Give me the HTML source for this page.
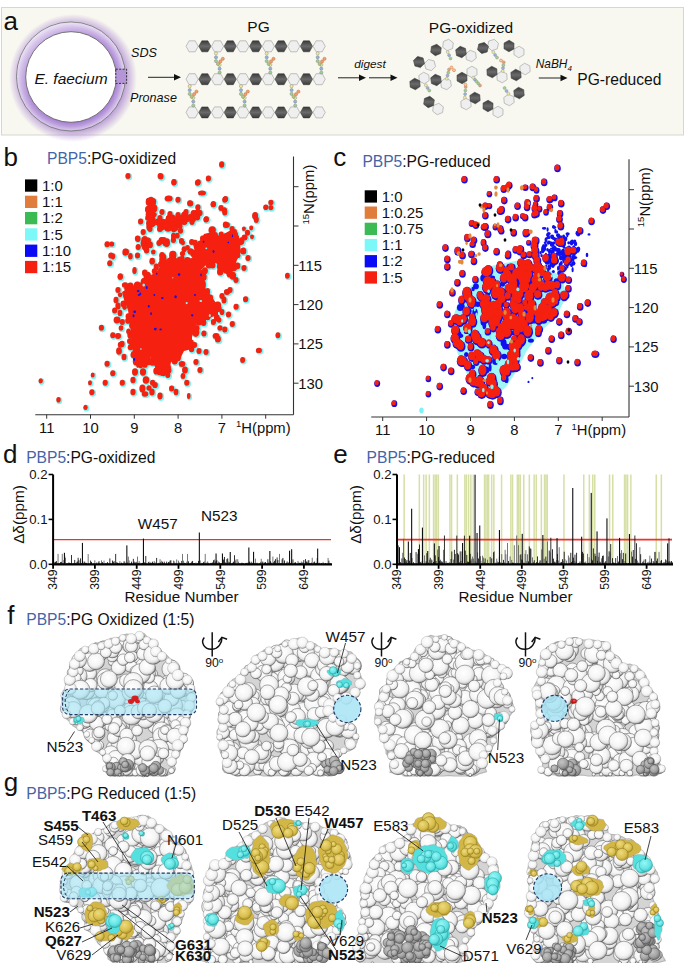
<!DOCTYPE html>
<html><head><meta charset="utf-8"><style>
html,body{margin:0;padding:0;background:#fff;}
body{width:685px;height:963px;overflow:hidden;}
svg{display:block;font-family:"Liberation Sans", sans-serif;}
</style></head><body>
<svg width="685" height="963" viewBox="0 0 685 963">
<defs>
<radialGradient id="glow" gradientUnits="userSpaceOnUse" cx="73" cy="78" r="64">
 <stop offset="0.82" stop-color="#9a6cc8" stop-opacity="0.6"/>
 <stop offset="1" stop-color="#9a6cc8" stop-opacity="0"/>
</radialGradient>
<radialGradient id="ring" gradientUnits="userSpaceOnUse" cx="70.5" cy="77" r="55">
 <stop offset="0.80" stop-color="#9c72cc"/>
 <stop offset="0.90" stop-color="#bb9ddd"/>
 <stop offset="1" stop-color="#e4d9f1"/>
</radialGradient>
<linearGradient id="ringhl" x1="0.1" y1="0.05" x2="0.75" y2="0.85">
 <stop offset="0" stop-color="#ffffff" stop-opacity="0.55"/>
 <stop offset="0.55" stop-color="#ffffff" stop-opacity="0.1"/>
 <stop offset="1" stop-color="#ffffff" stop-opacity="0"/>
</linearGradient>
<linearGradient id="dhex" x1="0" y1="0" x2="0" y2="1">
 <stop offset="0" stop-color="#3a3a3a"/>
 <stop offset="0.5" stop-color="#6a6a6a"/>
 <stop offset="1" stop-color="#3a3a3a"/>
</linearGradient>
<radialGradient id="prot" cx="0.45" cy="0.4" r="0.7">
 <stop offset="0" stop-color="#f2f2f2"/>
 <stop offset="0.7" stop-color="#e4e4e4"/>
 <stop offset="1" stop-color="#c8c8c8"/>
</radialGradient>
</defs>
<rect x="1.5" y="7.5" width="682" height="127.5" fill="#f8f8f1" stroke="#d6d6d2" stroke-width="1"/>
<text x="3.6" y="30.4" font-size="26" text-anchor="start" fill="#111" font-weight="normal" font-style="normal" >a</text>
<circle cx="73" cy="78" r="64" fill="url(#glow)"/>
<circle cx="71" cy="76.5" r="54.5" fill="url(#ring)" stroke="#777" stroke-width="0.9"/>
<circle cx="71" cy="76.5" r="54" fill="url(#ringhl)"/>
<circle cx="71" cy="77" r="45.3" fill="#ffffff" stroke="#666" stroke-width="0.9"/>
<text x="71.0" y="84.2" font-size="15.5" text-anchor="middle" fill="#111" font-weight="normal" font-style="italic" >E. faecium</text>
<rect x="115.8" y="69.2" width="10.8" height="14.2" fill="#b496d6" stroke="#222" stroke-width="0.9" stroke-dasharray="2,1.4"/>
<text x="131.0" y="56.8" font-size="12.6" text-anchor="start" fill="#111" font-weight="normal" font-style="italic" >SDS</text>
<text x="130.0" y="101.8" font-size="12.6" text-anchor="start" fill="#111" font-weight="normal" font-style="italic" >Pronase</text>
<line x1="148.00" y1="77.30" x2="175.00" y2="77.30" stroke="#222" stroke-width="1" />
<polygon points="174.0,74.1 181.0,77.3 174.0,80.5" fill="#111"/>
<text x="258.5" y="32.4" font-size="15.5" text-anchor="middle" fill="#111" font-weight="normal" font-style="normal" >PG</text>
<polygon points="186.05,46.30 189.10,40.80 195.20,40.80 198.25,46.30 195.20,51.80 189.10,51.80" fill="#efefef" stroke="#9a9a9a" stroke-width="0.6"/>
<polygon points="198.75,46.30 201.80,40.80 207.90,40.80 210.95,46.30 207.90,51.80 201.80,51.80" fill="url(#dhex)" stroke="#333" stroke-width="0.5"/>
<polygon points="211.45,46.30 214.50,40.80 220.60,40.80 223.65,46.30 220.60,51.80 214.50,51.80" fill="#efefef" stroke="#9a9a9a" stroke-width="0.6"/>
<polygon points="224.15,46.30 227.20,40.80 233.30,40.80 236.35,46.30 233.30,51.80 227.20,51.80" fill="url(#dhex)" stroke="#333" stroke-width="0.5"/>
<polygon points="236.85,46.30 239.90,40.80 246.00,40.80 249.05,46.30 246.00,51.80 239.90,51.80" fill="#efefef" stroke="#9a9a9a" stroke-width="0.6"/>
<polygon points="249.55,46.30 252.60,40.80 258.70,40.80 261.75,46.30 258.70,51.80 252.60,51.80" fill="url(#dhex)" stroke="#333" stroke-width="0.5"/>
<polygon points="262.25,46.30 265.30,40.80 271.40,40.80 274.45,46.30 271.40,51.80 265.30,51.80" fill="#efefef" stroke="#9a9a9a" stroke-width="0.6"/>
<polygon points="274.95,46.30 278.00,40.80 284.10,40.80 287.15,46.30 284.10,51.80 278.00,51.80" fill="url(#dhex)" stroke="#333" stroke-width="0.5"/>
<polygon points="287.65,46.30 290.70,40.80 296.80,40.80 299.85,46.30 296.80,51.80 290.70,51.80" fill="#efefef" stroke="#9a9a9a" stroke-width="0.6"/>
<polygon points="300.35,46.30 303.40,40.80 309.50,40.80 312.55,46.30 309.50,51.80 303.40,51.80" fill="url(#dhex)" stroke="#333" stroke-width="0.5"/>
<polygon points="313.05,46.30 316.10,40.80 322.20,40.80 325.25,46.30 322.20,51.80 316.10,51.80" fill="#efefef" stroke="#9a9a9a" stroke-width="0.6"/>
<polygon points="186.05,79.20 189.10,73.70 195.20,73.70 198.25,79.20 195.20,84.70 189.10,84.70" fill="#efefef" stroke="#9a9a9a" stroke-width="0.6"/>
<polygon points="198.75,79.20 201.80,73.70 207.90,73.70 210.95,79.20 207.90,84.70 201.80,84.70" fill="url(#dhex)" stroke="#333" stroke-width="0.5"/>
<polygon points="211.45,79.20 214.50,73.70 220.60,73.70 223.65,79.20 220.60,84.70 214.50,84.70" fill="#efefef" stroke="#9a9a9a" stroke-width="0.6"/>
<polygon points="224.15,79.20 227.20,73.70 233.30,73.70 236.35,79.20 233.30,84.70 227.20,84.70" fill="url(#dhex)" stroke="#333" stroke-width="0.5"/>
<polygon points="236.85,79.20 239.90,73.70 246.00,73.70 249.05,79.20 246.00,84.70 239.90,84.70" fill="#efefef" stroke="#9a9a9a" stroke-width="0.6"/>
<polygon points="249.55,79.20 252.60,73.70 258.70,73.70 261.75,79.20 258.70,84.70 252.60,84.70" fill="url(#dhex)" stroke="#333" stroke-width="0.5"/>
<polygon points="262.25,79.20 265.30,73.70 271.40,73.70 274.45,79.20 271.40,84.70 265.30,84.70" fill="#efefef" stroke="#9a9a9a" stroke-width="0.6"/>
<polygon points="274.95,79.20 278.00,73.70 284.10,73.70 287.15,79.20 284.10,84.70 278.00,84.70" fill="url(#dhex)" stroke="#333" stroke-width="0.5"/>
<polygon points="287.65,79.20 290.70,73.70 296.80,73.70 299.85,79.20 296.80,84.70 290.70,84.70" fill="#efefef" stroke="#9a9a9a" stroke-width="0.6"/>
<polygon points="300.35,79.20 303.40,73.70 309.50,73.70 312.55,79.20 309.50,84.70 303.40,84.70" fill="url(#dhex)" stroke="#333" stroke-width="0.5"/>
<polygon points="313.05,79.20 316.10,73.70 322.20,73.70 325.25,79.20 322.20,84.70 316.10,84.70" fill="#efefef" stroke="#9a9a9a" stroke-width="0.6"/>
<polygon points="186.05,112.40 189.10,106.90 195.20,106.90 198.25,112.40 195.20,117.90 189.10,117.90" fill="#efefef" stroke="#9a9a9a" stroke-width="0.6"/>
<polygon points="198.75,112.40 201.80,106.90 207.90,106.90 210.95,112.40 207.90,117.90 201.80,117.90" fill="url(#dhex)" stroke="#333" stroke-width="0.5"/>
<polygon points="211.45,112.40 214.50,106.90 220.60,106.90 223.65,112.40 220.60,117.90 214.50,117.90" fill="#efefef" stroke="#9a9a9a" stroke-width="0.6"/>
<polygon points="224.15,112.40 227.20,106.90 233.30,106.90 236.35,112.40 233.30,117.90 227.20,117.90" fill="url(#dhex)" stroke="#333" stroke-width="0.5"/>
<polygon points="236.85,112.40 239.90,106.90 246.00,106.90 249.05,112.40 246.00,117.90 239.90,117.90" fill="#efefef" stroke="#9a9a9a" stroke-width="0.6"/>
<polygon points="249.55,112.40 252.60,106.90 258.70,106.90 261.75,112.40 258.70,117.90 252.60,117.90" fill="url(#dhex)" stroke="#333" stroke-width="0.5"/>
<polygon points="262.25,112.40 265.30,106.90 271.40,106.90 274.45,112.40 271.40,117.90 265.30,117.90" fill="#efefef" stroke="#9a9a9a" stroke-width="0.6"/>
<polygon points="274.95,112.40 278.00,106.90 284.10,106.90 287.15,112.40 284.10,117.90 278.00,117.90" fill="url(#dhex)" stroke="#333" stroke-width="0.5"/>
<polygon points="287.65,112.40 290.70,106.90 296.80,106.90 299.85,112.40 296.80,117.90 290.70,117.90" fill="#efefef" stroke="#9a9a9a" stroke-width="0.6"/>
<polygon points="300.35,112.40 303.40,106.90 309.50,106.90 312.55,112.40 309.50,117.90 303.40,117.90" fill="url(#dhex)" stroke="#333" stroke-width="0.5"/>
<polygon points="313.05,112.40 316.10,106.90 322.20,106.90 325.25,112.40 322.20,117.90 316.10,117.90" fill="#efefef" stroke="#9a9a9a" stroke-width="0.6"/>
<circle cx="216.0" cy="53.5" r="1.6" fill="#f3ea9a" stroke="#777" stroke-width="0.4"/>
<circle cx="216.0" cy="57.3" r="1.6" fill="#8fb4e6" stroke="#777" stroke-width="0.4"/>
<circle cx="216.0" cy="61.1" r="1.6" fill="#9fd08c" stroke="#777" stroke-width="0.4"/>
<circle cx="219.6" cy="64.9" r="1.6" fill="#f3ea9a" stroke="#777" stroke-width="0.4"/>
<circle cx="219.6" cy="68.7" r="1.6" fill="#8fb4e6" stroke="#777" stroke-width="0.4"/>
<circle cx="219.6" cy="72.5" r="1.6" fill="#9fd08c" stroke="#777" stroke-width="0.4"/>
<circle cx="218.0" cy="64.0" r="1.6" fill="#9fd08c" stroke="#b06030" stroke-width="0.4"/>
<circle cx="220.4" cy="61.4" r="1.6" fill="#f0a070" stroke="#b06030" stroke-width="0.4"/>
<circle cx="222.8" cy="58.8" r="1.6" fill="#f0a070" stroke="#b06030" stroke-width="0.4"/>
<circle cx="266.7" cy="53.5" r="1.6" fill="#f3ea9a" stroke="#777" stroke-width="0.4"/>
<circle cx="266.7" cy="57.3" r="1.6" fill="#8fb4e6" stroke="#777" stroke-width="0.4"/>
<circle cx="266.7" cy="61.1" r="1.6" fill="#9fd08c" stroke="#777" stroke-width="0.4"/>
<circle cx="270.3" cy="64.9" r="1.6" fill="#f3ea9a" stroke="#777" stroke-width="0.4"/>
<circle cx="270.3" cy="68.7" r="1.6" fill="#8fb4e6" stroke="#777" stroke-width="0.4"/>
<circle cx="270.3" cy="72.5" r="1.6" fill="#9fd08c" stroke="#777" stroke-width="0.4"/>
<circle cx="268.7" cy="64.0" r="1.6" fill="#9fd08c" stroke="#b06030" stroke-width="0.4"/>
<circle cx="271.1" cy="61.4" r="1.6" fill="#f0a070" stroke="#b06030" stroke-width="0.4"/>
<circle cx="273.5" cy="58.8" r="1.6" fill="#f0a070" stroke="#b06030" stroke-width="0.4"/>
<circle cx="317.7" cy="53.5" r="1.6" fill="#f3ea9a" stroke="#777" stroke-width="0.4"/>
<circle cx="317.7" cy="57.3" r="1.6" fill="#8fb4e6" stroke="#777" stroke-width="0.4"/>
<circle cx="317.7" cy="61.1" r="1.6" fill="#9fd08c" stroke="#777" stroke-width="0.4"/>
<circle cx="321.3" cy="64.9" r="1.6" fill="#f3ea9a" stroke="#777" stroke-width="0.4"/>
<circle cx="321.3" cy="68.7" r="1.6" fill="#8fb4e6" stroke="#777" stroke-width="0.4"/>
<circle cx="321.3" cy="72.5" r="1.6" fill="#9fd08c" stroke="#777" stroke-width="0.4"/>
<circle cx="319.7" cy="64.0" r="1.6" fill="#9fd08c" stroke="#b06030" stroke-width="0.4"/>
<circle cx="322.1" cy="61.4" r="1.6" fill="#f0a070" stroke="#b06030" stroke-width="0.4"/>
<circle cx="324.5" cy="58.8" r="1.6" fill="#f0a070" stroke="#b06030" stroke-width="0.4"/>
<circle cx="189.7" cy="86.2" r="1.6" fill="#f3ea9a" stroke="#777" stroke-width="0.4"/>
<circle cx="189.7" cy="90.1" r="1.6" fill="#8fb4e6" stroke="#777" stroke-width="0.4"/>
<circle cx="189.7" cy="93.9" r="1.6" fill="#9fd08c" stroke="#777" stroke-width="0.4"/>
<circle cx="193.3" cy="97.8" r="1.6" fill="#f3ea9a" stroke="#777" stroke-width="0.4"/>
<circle cx="193.3" cy="101.6" r="1.6" fill="#8fb4e6" stroke="#777" stroke-width="0.4"/>
<circle cx="193.3" cy="105.5" r="1.6" fill="#9fd08c" stroke="#777" stroke-width="0.4"/>
<circle cx="191.7" cy="96.8" r="1.6" fill="#9fd08c" stroke="#b06030" stroke-width="0.4"/>
<circle cx="194.1" cy="94.2" r="1.6" fill="#f0a070" stroke="#b06030" stroke-width="0.4"/>
<circle cx="196.5" cy="91.6" r="1.6" fill="#f0a070" stroke="#b06030" stroke-width="0.4"/>
<circle cx="241.0" cy="86.2" r="1.6" fill="#f3ea9a" stroke="#777" stroke-width="0.4"/>
<circle cx="241.0" cy="90.1" r="1.6" fill="#8fb4e6" stroke="#777" stroke-width="0.4"/>
<circle cx="241.0" cy="93.9" r="1.6" fill="#9fd08c" stroke="#777" stroke-width="0.4"/>
<circle cx="244.6" cy="97.8" r="1.6" fill="#f3ea9a" stroke="#777" stroke-width="0.4"/>
<circle cx="244.6" cy="101.6" r="1.6" fill="#8fb4e6" stroke="#777" stroke-width="0.4"/>
<circle cx="244.6" cy="105.5" r="1.6" fill="#9fd08c" stroke="#777" stroke-width="0.4"/>
<circle cx="243.0" cy="96.8" r="1.6" fill="#9fd08c" stroke="#b06030" stroke-width="0.4"/>
<circle cx="245.4" cy="94.2" r="1.6" fill="#f0a070" stroke="#b06030" stroke-width="0.4"/>
<circle cx="247.8" cy="91.6" r="1.6" fill="#f0a070" stroke="#b06030" stroke-width="0.4"/>
<circle cx="291.6" cy="86.2" r="1.6" fill="#f3ea9a" stroke="#777" stroke-width="0.4"/>
<circle cx="291.6" cy="90.1" r="1.6" fill="#8fb4e6" stroke="#777" stroke-width="0.4"/>
<circle cx="291.6" cy="93.9" r="1.6" fill="#9fd08c" stroke="#777" stroke-width="0.4"/>
<circle cx="295.2" cy="97.8" r="1.6" fill="#f3ea9a" stroke="#777" stroke-width="0.4"/>
<circle cx="295.2" cy="101.6" r="1.6" fill="#8fb4e6" stroke="#777" stroke-width="0.4"/>
<circle cx="295.2" cy="105.5" r="1.6" fill="#9fd08c" stroke="#777" stroke-width="0.4"/>
<circle cx="293.6" cy="96.8" r="1.6" fill="#9fd08c" stroke="#b06030" stroke-width="0.4"/>
<circle cx="296.0" cy="94.2" r="1.6" fill="#f0a070" stroke="#b06030" stroke-width="0.4"/>
<circle cx="298.4" cy="91.6" r="1.6" fill="#f0a070" stroke="#b06030" stroke-width="0.4"/>
<line x1="338.00" y1="77.80" x2="360.00" y2="77.80" stroke="#222" stroke-width="1" />
<polygon points="359.0,74.6 366.0,77.8 359.0,81.0" fill="#111"/>
<line x1="369.00" y1="77.80" x2="391.50" y2="77.80" stroke="#222" stroke-width="1" />
<polygon points="390.5,74.6 397.5,77.8 390.5,81.0" fill="#111"/>
<text x="354.3" y="68.0" font-size="11.8" text-anchor="start" fill="#111" font-weight="normal" font-style="italic" >digest</text>
<text x="428.8" y="32.7" font-size="15.5" text-anchor="start" fill="#111" font-weight="normal" font-style="normal" >PG-oxidized</text>
<polygon points="442.69,47.21 443.42,41.49 448.73,39.28 453.31,42.79 452.58,48.51 447.27,50.72" fill="#efefef" stroke="#9a9a9a" stroke-width="0.6"/>
<polygon points="430.69,52.21 431.42,46.49 436.73,44.28 441.31,47.79 440.58,53.51 435.27,55.72" fill="url(#dhex)" stroke="#333" stroke-width="0.5"/>
<polygon points="465.66,53.86 470.19,50.29 475.53,52.43 476.34,58.14 471.81,61.71 466.47,59.57" fill="#efefef" stroke="#9a9a9a" stroke-width="0.6"/>
<polygon points="455.66,49.86 460.19,46.29 465.53,48.43 466.34,54.14 461.81,57.71 456.47,55.57" fill="url(#dhex)" stroke="#333" stroke-width="0.5"/>
<polygon points="487.49,46.65 488.81,41.04 494.32,39.38 498.51,43.35 497.19,48.96 491.68,50.62" fill="#efefef" stroke="#9a9a9a" stroke-width="0.6"/>
<polygon points="477.49,49.65 478.81,44.04 484.32,42.38 488.51,46.35 487.19,51.96 481.68,53.62" fill="url(#dhex)" stroke="#333" stroke-width="0.5"/>
<polygon points="514.07,49.04 519.11,46.23 524.04,49.19 523.93,54.96 518.89,57.77 513.96,54.81" fill="#efefef" stroke="#9a9a9a" stroke-width="0.6"/>
<polygon points="504.07,43.04 509.11,40.23 514.04,43.19 513.93,48.96 508.89,51.77 503.96,48.81" fill="url(#dhex)" stroke="#333" stroke-width="0.5"/>
<polygon points="424.45,63.49 428.54,59.42 434.09,60.93 435.55,66.51 431.46,70.58 425.91,69.07" fill="#efefef" stroke="#9a9a9a" stroke-width="0.6"/>
<polygon points="413.45,60.49 417.54,56.42 423.09,57.93 424.55,63.51 420.46,67.58 414.91,66.07" fill="url(#dhex)" stroke="#333" stroke-width="0.5"/>
<polygon points="419.22,81.19 418.83,75.43 423.62,72.24 428.78,74.81 429.17,80.57 424.38,83.76" fill="#efefef" stroke="#9a9a9a" stroke-width="0.6"/>
<polygon points="410.22,87.19 409.83,81.43 414.62,78.24 419.78,80.81 420.17,86.57 415.38,89.76" fill="url(#dhex)" stroke="#333" stroke-width="0.5"/>
<polygon points="440.66,81.86 445.19,78.29 450.53,80.43 451.34,86.14 446.81,89.71 441.47,87.57" fill="#efefef" stroke="#9a9a9a" stroke-width="0.6"/>
<polygon points="430.66,77.86 435.19,74.29 440.53,76.43 441.34,82.14 436.81,85.71 431.47,83.57" fill="url(#dhex)" stroke="#333" stroke-width="0.5"/>
<polygon points="467.07,74.96 466.96,69.19 471.89,66.23 476.93,69.04 477.04,74.81 472.11,77.77" fill="#efefef" stroke="#9a9a9a" stroke-width="0.6"/>
<polygon points="457.07,80.96 456.96,75.19 461.89,72.23 466.93,75.04 467.04,80.81 462.11,83.77" fill="url(#dhex)" stroke="#333" stroke-width="0.5"/>
<polygon points="496.86,74.43 501.66,71.24 506.81,73.81 507.14,79.57 502.34,82.76 497.19,80.19" fill="#efefef" stroke="#9a9a9a" stroke-width="0.6"/>
<polygon points="486.86,69.43 491.66,66.24 496.81,68.81 497.14,74.57 492.34,77.76 487.19,75.19" fill="url(#dhex)" stroke="#333" stroke-width="0.5"/>
<polygon points="520.22,72.19 519.83,66.43 524.62,63.24 529.78,65.81 530.17,71.57 525.38,74.76" fill="#efefef" stroke="#9a9a9a" stroke-width="0.6"/>
<polygon points="511.22,78.19 510.83,72.43 515.62,69.24 520.78,71.81 521.17,77.57 516.38,80.76" fill="url(#dhex)" stroke="#333" stroke-width="0.5"/>
<polygon points="433.46,105.47 438.80,103.29 443.34,106.82 442.54,112.53 437.20,114.71 432.66,111.18" fill="#efefef" stroke="#9a9a9a" stroke-width="0.6"/>
<polygon points="424.46,98.47 429.80,96.29 434.34,99.82 433.54,105.53 428.20,107.71 423.66,104.18" fill="url(#dhex)" stroke="#333" stroke-width="0.5"/>
<polygon points="470.78,100.81 471.17,106.57 466.38,109.76 461.22,107.19 460.83,101.43 465.62,98.24" fill="#efefef" stroke="#9a9a9a" stroke-width="0.6"/>
<polygon points="479.78,94.81 480.17,100.57 475.38,103.76 470.22,101.19 469.83,95.43 474.62,92.24" fill="url(#dhex)" stroke="#333" stroke-width="0.5"/>
<polygon points="493.07,109.04 498.11,106.23 503.04,109.19 502.93,114.96 497.89,117.77 492.96,114.81" fill="#efefef" stroke="#9a9a9a" stroke-width="0.6"/>
<polygon points="483.07,103.04 488.11,100.23 493.04,103.19 492.93,108.96 487.89,111.77 482.96,108.81" fill="url(#dhex)" stroke="#333" stroke-width="0.5"/>
<polygon points="513.71,96.70 514.22,102.45 509.51,105.74 504.29,103.30 503.78,97.55 508.49,94.26" fill="#efefef" stroke="#9a9a9a" stroke-width="0.6"/>
<polygon points="523.71,89.70 524.22,95.45 519.51,98.74 514.29,96.30 513.78,90.55 518.49,87.26" fill="url(#dhex)" stroke="#333" stroke-width="0.5"/>
<circle cx="447.7" cy="52.1" r="1.5" fill="#f3ea9a" stroke="#888" stroke-width="0.4"/>
<circle cx="449.1" cy="55.2" r="1.5" fill="#8fb4e6" stroke="#888" stroke-width="0.4"/>
<circle cx="450.5" cy="58.4" r="1.5" fill="#9fd08c" stroke="#888" stroke-width="0.4"/>
<circle cx="493.3" cy="52.1" r="1.5" fill="#f3ea9a" stroke="#888" stroke-width="0.4"/>
<circle cx="495.1" cy="54.9" r="1.5" fill="#8fb4e6" stroke="#888" stroke-width="0.4"/>
<circle cx="497.0" cy="57.6" r="1.5" fill="#9fd08c" stroke="#888" stroke-width="0.4"/>
<circle cx="425.9" cy="85.3" r="1.5" fill="#f3ea9a" stroke="#888" stroke-width="0.4"/>
<circle cx="427.6" cy="87.9" r="1.5" fill="#8fb4e6" stroke="#888" stroke-width="0.4"/>
<circle cx="429.3" cy="90.6" r="1.5" fill="#9fd08c" stroke="#888" stroke-width="0.4"/>
<circle cx="446.8" cy="78.7" r="1.5" fill="#f3ea9a" stroke="#888" stroke-width="0.4"/>
<circle cx="447.5" cy="75.6" r="1.5" fill="#8fb4e6" stroke="#888" stroke-width="0.4"/>
<circle cx="448.3" cy="72.6" r="1.5" fill="#9fd08c" stroke="#888" stroke-width="0.4"/>
<circle cx="449.0" cy="69.5" r="1.5" fill="#f0a070" stroke="#888" stroke-width="0.4"/>
<circle cx="473.3" cy="77.7" r="1.5" fill="#f3ea9a" stroke="#888" stroke-width="0.4"/>
<circle cx="475.0" cy="79.7" r="1.5" fill="#8fb4e6" stroke="#888" stroke-width="0.4"/>
<circle cx="476.6" cy="81.6" r="1.5" fill="#9fd08c" stroke="#888" stroke-width="0.4"/>
<circle cx="478.3" cy="83.5" r="1.5" fill="#9fd08c" stroke="#888" stroke-width="0.4"/>
<circle cx="480.0" cy="85.5" r="1.5" fill="#f0a070" stroke="#888" stroke-width="0.4"/>
<circle cx="502.7" cy="71.0" r="1.5" fill="#f3ea9a" stroke="#888" stroke-width="0.4"/>
<circle cx="503.0" cy="68.1" r="1.5" fill="#8fb4e6" stroke="#888" stroke-width="0.4"/>
<circle cx="503.4" cy="65.2" r="1.5" fill="#9fd08c" stroke="#888" stroke-width="0.4"/>
<circle cx="503.7" cy="62.3" r="1.5" fill="#f0a070" stroke="#888" stroke-width="0.4"/>
<circle cx="464.8" cy="97.6" r="1.5" fill="#f3ea9a" stroke="#888" stroke-width="0.4"/>
<circle cx="465.1" cy="94.1" r="1.5" fill="#8fb4e6" stroke="#888" stroke-width="0.4"/>
<circle cx="465.4" cy="90.5" r="1.5" fill="#9fd08c" stroke="#888" stroke-width="0.4"/>
<circle cx="465.7" cy="87.0" r="1.5" fill="#f0a070" stroke="#888" stroke-width="0.4"/>
<circle cx="508.4" cy="93.8" r="1.5" fill="#f3ea9a" stroke="#888" stroke-width="0.4"/>
<circle cx="506.5" cy="90.9" r="1.5" fill="#8fb4e6" stroke="#888" stroke-width="0.4"/>
<circle cx="504.6" cy="88.0" r="1.5" fill="#9fd08c" stroke="#888" stroke-width="0.4"/>
<circle cx="451.5" cy="67.5" r="1.5" fill="#f6c9a8" stroke="#d07030" stroke-width="0.5"/>
<circle cx="454" cy="70.2" r="1.5" fill="#f6c9a8" stroke="#d07030" stroke-width="0.5"/>
<circle cx="465.5" cy="84.7" r="1.5" fill="#f6c9a8" stroke="#d07030" stroke-width="0.5"/>
<circle cx="501" cy="60.5" r="1.5" fill="#f6c9a8" stroke="#d07030" stroke-width="0.5"/>
<text x="535.7" y="68.0" font-size="11.9" text-anchor="start" fill="#111" font-weight="normal" font-style="italic" >NaBH<tspan font-size="8" dy="2.5">4</tspan></text>
<line x1="538.80" y1="78.00" x2="561.50" y2="78.00" stroke="#222" stroke-width="1" />
<polygon points="560.5,74.8 567.5,78.0 560.5,81.2" fill="#111"/>
<text x="577.3" y="85.2" font-size="15.6" text-anchor="start" fill="#111" font-weight="normal" font-style="normal" >PG-reduced</text>
<text x="3.6" y="166.0" font-size="26" text-anchor="start" fill="#111" font-weight="normal" font-style="normal" >b</text>
<text x="47.0" y="164.2" font-size="15.6" text-anchor="start" fill="#111" font-weight="normal" font-style="normal" ><tspan fill="#4365a8">PBP5</tspan>:PG-oxidized</text>
<rect x="25" y="179.4" width="12.3" height="12.3" fill="#000000"/>
<text x="42.0" y="190.6" font-size="15" text-anchor="start" fill="#111" font-weight="normal" font-style="normal" >1:0</text>
<rect x="25" y="195.7" width="12.3" height="12.3" fill="#e07c3c"/>
<text x="42.0" y="206.9" font-size="15" text-anchor="start" fill="#111" font-weight="normal" font-style="normal" >1:1</text>
<rect x="25" y="212.0" width="12.3" height="12.3" fill="#3cba54"/>
<text x="42.0" y="223.2" font-size="15" text-anchor="start" fill="#111" font-weight="normal" font-style="normal" >1:2</text>
<rect x="25" y="228.3" width="12.3" height="12.3" fill="#7cf8f8"/>
<text x="42.0" y="239.5" font-size="15" text-anchor="start" fill="#111" font-weight="normal" font-style="normal" >1:5</text>
<rect x="25" y="244.6" width="12.3" height="12.3" fill="#0a0af5"/>
<text x="42.0" y="255.8" font-size="15" text-anchor="start" fill="#111" font-weight="normal" font-style="normal" >1:10</text>
<rect x="25" y="260.9" width="12.3" height="12.3" fill="#f5200f"/>
<text x="42.0" y="272.1" font-size="15" text-anchor="start" fill="#111" font-weight="normal" font-style="normal" >1:15</text>
<line x1="293.50" y1="156.60" x2="293.50" y2="414.70" stroke="#333" stroke-width="1.1" />
<line x1="35.30" y1="414.70" x2="293.50" y2="414.70" stroke="#333" stroke-width="1.1" />
<line x1="293.50" y1="186.70" x2="298.50" y2="186.70" stroke="#333" stroke-width="1" />
<line x1="293.50" y1="226.00" x2="298.50" y2="226.00" stroke="#333" stroke-width="1" />
<line x1="293.50" y1="265.30" x2="298.50" y2="265.30" stroke="#333" stroke-width="1" />
<text x="298.3" y="270.6" font-size="14.8" text-anchor="start" fill="#111" font-weight="normal" font-style="normal" >115</text>
<line x1="293.50" y1="304.60" x2="298.50" y2="304.60" stroke="#333" stroke-width="1" />
<text x="298.3" y="309.9" font-size="14.8" text-anchor="start" fill="#111" font-weight="normal" font-style="normal" >120</text>
<line x1="293.50" y1="343.90" x2="298.50" y2="343.90" stroke="#333" stroke-width="1" />
<text x="298.3" y="349.2" font-size="14.8" text-anchor="start" fill="#111" font-weight="normal" font-style="normal" >125</text>
<line x1="293.50" y1="383.20" x2="298.50" y2="383.20" stroke="#333" stroke-width="1" />
<text x="298.3" y="388.5" font-size="14.8" text-anchor="start" fill="#111" font-weight="normal" font-style="normal" >130</text>
<line x1="46.70" y1="414.70" x2="46.70" y2="418.70" stroke="#333" stroke-width="1" />
<text x="46.7" y="432.7" font-size="14.8" text-anchor="middle" fill="#111" font-weight="normal" font-style="normal" >11</text>
<line x1="90.50" y1="414.70" x2="90.50" y2="418.70" stroke="#333" stroke-width="1" />
<text x="90.5" y="432.7" font-size="14.8" text-anchor="middle" fill="#111" font-weight="normal" font-style="normal" >10</text>
<line x1="134.30" y1="414.70" x2="134.30" y2="418.70" stroke="#333" stroke-width="1" />
<text x="134.3" y="432.7" font-size="14.8" text-anchor="middle" fill="#111" font-weight="normal" font-style="normal" >9</text>
<line x1="178.10" y1="414.70" x2="178.10" y2="418.70" stroke="#333" stroke-width="1" />
<text x="178.1" y="432.7" font-size="14.8" text-anchor="middle" fill="#111" font-weight="normal" font-style="normal" >8</text>
<line x1="221.90" y1="414.70" x2="221.90" y2="418.70" stroke="#333" stroke-width="1" />
<text x="221.9" y="432.7" font-size="14.8" text-anchor="middle" fill="#111" font-weight="normal" font-style="normal" >7</text>
<line x1="265.70" y1="414.70" x2="265.70" y2="418.70" stroke="#333" stroke-width="1" />
<text x="236.0" y="432.7" font-size="14.8" text-anchor="start" fill="#111" font-weight="normal" font-style="normal" ><tspan font-size="9.5" dy="-5.5">1</tspan><tspan dy="5.5">H(ppm)</tspan></text>
<text transform="translate(314.0,224.6) rotate(-90)" font-size="14.8" fill="#111"><tspan font-size="9.5" dy="-5.5">15</tspan><tspan dy="5.5">N(ppm)</tspan></text>
<text x="333.3" y="165.7" font-size="26" text-anchor="start" fill="#111" font-weight="normal" font-style="normal" >c</text>
<text x="362.4" y="167.2" font-size="15.6" text-anchor="start" fill="#111" font-weight="normal" font-style="normal" ><tspan fill="#4365a8">PBP5</tspan>:PG-reduced</text>
<rect x="364.7" y="190.3" width="12.3" height="12.3" fill="#000000"/>
<text x="381.7" y="201.5" font-size="15" text-anchor="start" fill="#111" font-weight="normal" font-style="normal" >1:0</text>
<rect x="364.7" y="206.5" width="12.3" height="12.3" fill="#e07c3c"/>
<text x="381.7" y="217.7" font-size="15" text-anchor="start" fill="#111" font-weight="normal" font-style="normal" >1:0.25</text>
<rect x="364.7" y="222.7" width="12.3" height="12.3" fill="#3cba54"/>
<text x="381.7" y="233.9" font-size="15" text-anchor="start" fill="#111" font-weight="normal" font-style="normal" >1:0.75</text>
<rect x="364.7" y="238.9" width="12.3" height="12.3" fill="#7cf8f8"/>
<text x="381.7" y="250.1" font-size="15" text-anchor="start" fill="#111" font-weight="normal" font-style="normal" >1:1</text>
<rect x="364.7" y="255.1" width="12.3" height="12.3" fill="#0a0af5"/>
<text x="381.7" y="266.3" font-size="15" text-anchor="start" fill="#111" font-weight="normal" font-style="normal" >1:2</text>
<rect x="364.7" y="271.3" width="12.3" height="12.3" fill="#f5200f"/>
<text x="381.7" y="282.5" font-size="15" text-anchor="start" fill="#111" font-weight="normal" font-style="normal" >1:5</text>
<line x1="629.00" y1="159.20" x2="629.00" y2="417.00" stroke="#333" stroke-width="1.1" />
<line x1="371.20" y1="417.00" x2="629.00" y2="417.00" stroke="#333" stroke-width="1.1" />
<line x1="629.00" y1="189.70" x2="634.00" y2="189.70" stroke="#333" stroke-width="1" />
<line x1="629.00" y1="229.00" x2="634.00" y2="229.00" stroke="#333" stroke-width="1" />
<line x1="629.00" y1="268.30" x2="634.00" y2="268.30" stroke="#333" stroke-width="1" />
<text x="633.8" y="273.6" font-size="14.8" text-anchor="start" fill="#111" font-weight="normal" font-style="normal" >115</text>
<line x1="629.00" y1="307.60" x2="634.00" y2="307.60" stroke="#333" stroke-width="1" />
<text x="633.8" y="312.9" font-size="14.8" text-anchor="start" fill="#111" font-weight="normal" font-style="normal" >120</text>
<line x1="629.00" y1="346.90" x2="634.00" y2="346.90" stroke="#333" stroke-width="1" />
<text x="633.8" y="352.2" font-size="14.8" text-anchor="start" fill="#111" font-weight="normal" font-style="normal" >125</text>
<line x1="629.00" y1="386.20" x2="634.00" y2="386.20" stroke="#333" stroke-width="1" />
<text x="633.8" y="391.5" font-size="14.8" text-anchor="start" fill="#111" font-weight="normal" font-style="normal" >130</text>
<line x1="382.70" y1="417.00" x2="382.70" y2="421.00" stroke="#333" stroke-width="1" />
<text x="382.7" y="435.0" font-size="14.8" text-anchor="middle" fill="#111" font-weight="normal" font-style="normal" >11</text>
<line x1="426.60" y1="417.00" x2="426.60" y2="421.00" stroke="#333" stroke-width="1" />
<text x="426.6" y="435.0" font-size="14.8" text-anchor="middle" fill="#111" font-weight="normal" font-style="normal" >10</text>
<line x1="470.50" y1="417.00" x2="470.50" y2="421.00" stroke="#333" stroke-width="1" />
<text x="470.5" y="435.0" font-size="14.8" text-anchor="middle" fill="#111" font-weight="normal" font-style="normal" >9</text>
<line x1="514.40" y1="417.00" x2="514.40" y2="421.00" stroke="#333" stroke-width="1" />
<text x="514.4" y="435.0" font-size="14.8" text-anchor="middle" fill="#111" font-weight="normal" font-style="normal" >8</text>
<line x1="558.30" y1="417.00" x2="558.30" y2="421.00" stroke="#333" stroke-width="1" />
<text x="558.3" y="435.0" font-size="14.8" text-anchor="middle" fill="#111" font-weight="normal" font-style="normal" >7</text>
<line x1="602.20" y1="417.00" x2="602.20" y2="421.00" stroke="#333" stroke-width="1" />
<text x="571.5" y="435.0" font-size="14.8" text-anchor="start" fill="#111" font-weight="normal" font-style="normal" ><tspan font-size="9.5" dy="-5.5">1</tspan><tspan dy="5.5">H(ppm)</tspan></text>
<text transform="translate(649.5,227.2) rotate(-90)" font-size="14.8" fill="#111"><tspan font-size="9.5" dy="-5.5">15</tspan><tspan dy="5.5">N(ppm)</tspan></text>
<g fill="#7ff3f3"><ellipse cx="145.1" cy="283.1" rx="4.5" ry="5.3"/><ellipse cx="148.1" cy="276.9" rx="4.5" ry="5.2"/><ellipse cx="155.2" cy="272.1" rx="3.4" ry="3.8"/><ellipse cx="157.1" cy="267.8" rx="3.4" ry="4.2"/><ellipse cx="161.4" cy="265.3" rx="3.2" ry="3.7"/><ellipse cx="161.8" cy="264.3" rx="3.3" ry="3.5"/><ellipse cx="173.6" cy="255.8" rx="4.5" ry="5.1"/><ellipse cx="173.7" cy="260.4" rx="4.1" ry="5.1"/><ellipse cx="180.3" cy="259.9" rx="3.3" ry="3.4"/><ellipse cx="181.2" cy="261.3" rx="3.0" ry="3.5"/><ellipse cx="188.2" cy="261.1" rx="3.8" ry="4.1"/><ellipse cx="194.8" cy="254.2" rx="4.6" ry="4.6"/><ellipse cx="198.0" cy="247.6" rx="4.3" ry="4.6"/><ellipse cx="195.9" cy="243.8" rx="3.3" ry="4.0"/><ellipse cx="201.3" cy="245.4" rx="4.5" ry="4.9"/><ellipse cx="203.2" cy="239.2" rx="3.2" ry="3.7"/><ellipse cx="213.0" cy="230.9" rx="4.5" ry="4.6"/><ellipse cx="216.1" cy="236.3" rx="3.5" ry="4.3"/><ellipse cx="222.0" cy="234.7" rx="3.3" ry="3.3"/><ellipse cx="226.3" cy="236.8" rx="3.3" ry="3.3"/><ellipse cx="232.9" cy="229.9" rx="3.4" ry="3.8"/><ellipse cx="235.5" cy="232.6" rx="3.1" ry="3.7"/><ellipse cx="236.4" cy="235.3" rx="3.2" ry="3.7"/><ellipse cx="241.1" cy="243.3" rx="3.2" ry="3.5"/><ellipse cx="242.3" cy="241.9" rx="3.7" ry="4.6"/><ellipse cx="244.1" cy="251.8" rx="3.8" ry="4.4"/><ellipse cx="238.8" cy="256.2" rx="3.2" ry="3.5"/><ellipse cx="238.1" cy="266.7" rx="3.8" ry="4.1"/><ellipse cx="234.5" cy="268.0" rx="4.4" ry="4.8"/><ellipse cx="233.6" cy="276.6" rx="4.1" ry="4.8"/><ellipse cx="230.3" cy="274.6" rx="3.8" ry="4.5"/><ellipse cx="221.0" cy="272.6" rx="4.0" ry="4.6"/><ellipse cx="221.0" cy="267.5" rx="4.1" ry="4.5"/><ellipse cx="213.5" cy="266.1" rx="3.6" ry="4.1"/><ellipse cx="209.8" cy="264.8" rx="4.3" ry="5.3"/><ellipse cx="205.7" cy="271.5" rx="3.8" ry="4.3"/><ellipse cx="203.6" cy="273.8" rx="3.8" ry="4.4"/><ellipse cx="204.1" cy="277.8" rx="4.2" ry="4.8"/><ellipse cx="203.2" cy="284.7" rx="4.2" ry="4.9"/><ellipse cx="203.6" cy="287.0" rx="3.7" ry="4.3"/><ellipse cx="208.4" cy="291.3" rx="3.1" ry="3.4"/><ellipse cx="208.2" cy="292.9" rx="3.5" ry="3.7"/><ellipse cx="211.1" cy="298.5" rx="3.6" ry="4.1"/><ellipse cx="216.3" cy="307.0" rx="3.0" ry="3.3"/><ellipse cx="218.4" cy="306.1" rx="4.3" ry="4.7"/><ellipse cx="219.4" cy="309.4" rx="3.9" ry="4.2"/><ellipse cx="217.6" cy="318.6" rx="3.7" ry="4.4"/><ellipse cx="208.3" cy="317.3" rx="4.0" ry="4.5"/><ellipse cx="204.4" cy="323.2" rx="3.6" ry="4.3"/><ellipse cx="199.8" cy="323.1" rx="4.0" ry="4.1"/><ellipse cx="197.5" cy="329.0" rx="3.7" ry="3.9"/><ellipse cx="196.6" cy="332.9" rx="4.5" ry="5.6"/><ellipse cx="191.6" cy="343.8" rx="3.8" ry="4.2"/><ellipse cx="195.2" cy="345.7" rx="3.5" ry="3.8"/><ellipse cx="192.4" cy="349.8" rx="3.5" ry="4.1"/><ellipse cx="179.1" cy="358.6" rx="3.4" ry="4.2"/><ellipse cx="176.0" cy="359.8" rx="3.2" ry="4.0"/><ellipse cx="175.5" cy="361.6" rx="4.0" ry="4.6"/><ellipse cx="169.1" cy="368.6" rx="3.5" ry="3.9"/><ellipse cx="169.4" cy="371.0" rx="3.7" ry="4.1"/><ellipse cx="164.3" cy="374.0" rx="3.4" ry="3.8"/><ellipse cx="160.1" cy="373.4" rx="3.0" ry="3.5"/><ellipse cx="157.3" cy="371.7" rx="4.0" ry="4.5"/><ellipse cx="153.4" cy="362.7" rx="4.4" ry="4.6"/><ellipse cx="154.9" cy="359.1" rx="4.3" ry="5.1"/><ellipse cx="149.0" cy="362.2" rx="4.5" ry="4.6"/><ellipse cx="145.7" cy="365.7" rx="3.5" ry="3.7"/><ellipse cx="141.4" cy="365.8" rx="3.4" ry="4.0"/><ellipse cx="137.0" cy="362.1" rx="4.2" ry="5.1"/><ellipse cx="134.8" cy="355.6" rx="4.3" ry="4.6"/><ellipse cx="135.8" cy="355.4" rx="3.2" ry="3.4"/><ellipse cx="131.4" cy="348.1" rx="3.7" ry="3.8"/><ellipse cx="130.6" cy="341.9" rx="3.6" ry="3.7"/><ellipse cx="133.1" cy="342.8" rx="4.4" ry="4.6"/><ellipse cx="131.2" cy="335.9" rx="3.8" ry="4.6"/><ellipse cx="129.4" cy="332.1" rx="3.2" ry="3.7"/><ellipse cx="133.1" cy="326.3" rx="4.0" ry="4.2"/><ellipse cx="129.0" cy="321.5" rx="3.8" ry="3.9"/><ellipse cx="128.9" cy="317.0" rx="3.3" ry="3.8"/><ellipse cx="125.4" cy="308.4" rx="3.1" ry="3.2"/><ellipse cx="124.3" cy="304.7" rx="3.8" ry="4.1"/><ellipse cx="120.9" cy="295.6" rx="3.1" ry="3.2"/><ellipse cx="127.5" cy="289.0" rx="3.2" ry="3.9"/><ellipse cx="131.1" cy="286.8" rx="4.0" ry="4.3"/><ellipse cx="131.1" cy="287.9" rx="3.6" ry="3.9"/><ellipse cx="138.1" cy="286.3" rx="4.3" ry="4.7"/><ellipse cx="150.0" cy="202.6" rx="4.0" ry="4.8"/><ellipse cx="153.8" cy="202.4" rx="4.0" ry="4.5"/><ellipse cx="153.4" cy="204.0" rx="3.9" ry="4.7"/><ellipse cx="155.2" cy="209.2" rx="3.8" ry="4.6"/><ellipse cx="155.4" cy="215.4" rx="3.0" ry="3.4"/><ellipse cx="153.8" cy="219.9" rx="3.4" ry="3.4"/><ellipse cx="154.1" cy="223.5" rx="3.8" ry="4.2"/><ellipse cx="150.1" cy="227.8" rx="3.8" ry="4.4"/><ellipse cx="149.8" cy="224.0" rx="3.7" ry="4.3"/><ellipse cx="148.3" cy="218.7" rx="3.1" ry="3.4"/><ellipse cx="149.1" cy="215.3" rx="3.4" ry="4.1"/><ellipse cx="148.9" cy="210.3" rx="3.9" ry="4.5"/><ellipse cx="149.7" cy="202.5" rx="4.0" ry="4.7"/><ellipse cx="162.5" cy="223.0" rx="4.1" ry="4.3"/><ellipse cx="168.8" cy="218.6" rx="3.0" ry="3.3"/><ellipse cx="169.9" cy="219.7" rx="4.1" ry="4.7"/><ellipse cx="173.4" cy="218.8" rx="3.7" ry="4.3"/><ellipse cx="179.2" cy="217.3" rx="3.4" ry="3.6"/><ellipse cx="184.9" cy="216.1" rx="3.8" ry="4.4"/><ellipse cx="185.9" cy="216.1" rx="4.0" ry="4.8"/><ellipse cx="194.2" cy="214.3" rx="3.6" ry="4.4"/><ellipse cx="196.8" cy="214.4" rx="4.2" ry="4.3"/><ellipse cx="199.8" cy="214.0" rx="3.7" ry="3.9"/><ellipse cx="198.1" cy="217.5" rx="3.8" ry="4.5"/><ellipse cx="193.8" cy="219.4" rx="4.1" ry="4.5"/><ellipse cx="185.8" cy="222.6" rx="3.3" ry="3.8"/><ellipse cx="181.4" cy="223.4" rx="3.2" ry="3.3"/><ellipse cx="179.6" cy="225.4" rx="3.1" ry="3.7"/><ellipse cx="174.6" cy="229.0" rx="3.9" ry="4.7"/><ellipse cx="169.3" cy="230.2" rx="3.1" ry="3.2"/><ellipse cx="167.8" cy="228.9" rx="3.6" ry="4.1"/><ellipse cx="160.8" cy="225.9" rx="3.7" ry="4.0"/><ellipse cx="147.4" cy="250.7" rx="3.5" ry="4.3"/><ellipse cx="183.3" cy="254.4" rx="3.4" ry="3.5"/><ellipse cx="167.6" cy="243.4" rx="4.0" ry="5.2"/><ellipse cx="162.2" cy="241.5" rx="3.7" ry="4.5"/><ellipse cx="185.0" cy="250.1" rx="3.4" ry="3.8"/><ellipse cx="188.3" cy="248.4" rx="3.1" ry="3.5"/><ellipse cx="154.1" cy="252.8" rx="3.1" ry="3.4"/><ellipse cx="146.2" cy="247.1" rx="4.4" ry="5.2"/><ellipse cx="162.4" cy="260.8" rx="3.1" ry="3.5"/><ellipse cx="183.7" cy="243.6" rx="3.0" ry="3.2"/><ellipse cx="166.5" cy="244.3" rx="3.7" ry="3.8"/><ellipse cx="153.0" cy="262.0" rx="3.6" ry="4.2"/><ellipse cx="145.6" cy="241.2" rx="4.3" ry="5.3"/><ellipse cx="162.8" cy="256.2" rx="3.6" ry="4.3"/><ellipse cx="191.3" cy="252.2" rx="3.9" ry="3.9"/><ellipse cx="163.9" cy="259.0" rx="4.2" ry="5.4"/><ellipse cx="183.1" cy="259.6" rx="3.2" ry="4.0"/><ellipse cx="164.4" cy="240.9" rx="3.7" ry="4.0"/><ellipse cx="178.1" cy="236.5" rx="3.2" ry="3.7"/><ellipse cx="144.9" cy="244.2" rx="4.3" ry="5.5"/><ellipse cx="174.3" cy="236.9" rx="3.3" ry="4.3"/><ellipse cx="151.1" cy="245.7" rx="3.4" ry="4.1"/><ellipse cx="151.8" cy="200.8" rx="3.4" ry="4.0"/><ellipse cx="152.3" cy="206.8" rx="3.8" ry="4.0"/><ellipse cx="152.8" cy="212.8" rx="3.8" ry="4.3"/><ellipse cx="151.8" cy="218.8" rx="4.0" ry="4.3"/><ellipse cx="152.8" cy="224.8" rx="3.8" ry="4.0"/><ellipse cx="150.8" cy="229.8" rx="3.4" ry="3.8"/><ellipse cx="160.8" cy="218.8" rx="3.4" ry="3.8"/><ellipse cx="164.8" cy="222.8" rx="3.4" ry="3.8"/><ellipse cx="168.8" cy="220.8" rx="3.4" ry="3.8"/><ellipse cx="172.8" cy="224.8" rx="3.4" ry="3.8"/><ellipse cx="176.8" cy="222.8" rx="3.4" ry="3.8"/><ellipse cx="180.8" cy="226.8" rx="3.4" ry="3.8"/><ellipse cx="163.8" cy="227.8" rx="3.4" ry="3.8"/><ellipse cx="170.8" cy="228.8" rx="3.4" ry="3.8"/><ellipse cx="184.8" cy="222.8" rx="3.4" ry="3.8"/><ellipse cx="188.8" cy="219.8" rx="3.4" ry="3.8"/><ellipse cx="192.8" cy="222.8" rx="3.4" ry="3.8"/><ellipse cx="196.8" cy="216.8" rx="3.4" ry="3.8"/><ellipse cx="200.8" cy="213.8" rx="3.4" ry="3.8"/><ellipse cx="186.8" cy="212.8" rx="3.4" ry="3.8"/><ellipse cx="178.8" cy="215.8" rx="3.4" ry="3.8"/><ellipse cx="170.8" cy="214.8" rx="3.4" ry="3.8"/><ellipse cx="162.8" cy="212.8" rx="3.4" ry="3.8"/><ellipse cx="181.3" cy="231.6" rx="3.4" ry="3.8"/><ellipse cx="190.5" cy="204.0" rx="3.4" ry="3.8"/><ellipse cx="198.7" cy="208.1" rx="3.4" ry="3.8"/><ellipse cx="206.8" cy="220.3" rx="3.4" ry="3.8"/><ellipse cx="214.0" cy="205.0" rx="3.4" ry="3.8"/><ellipse cx="226.3" cy="199.9" rx="3.4" ry="3.8"/><ellipse cx="225.2" cy="211.1" rx="3.4" ry="3.8"/><ellipse cx="226.3" cy="225.4" rx="3.4" ry="3.8"/><ellipse cx="148.6" cy="242.8" rx="3.4" ry="3.8"/><ellipse cx="159.8" cy="243.8" rx="3.4" ry="3.8"/><ellipse cx="174.2" cy="240.8" rx="3.4" ry="3.8"/><ellipse cx="182.3" cy="241.8" rx="3.4" ry="3.8"/><ellipse cx="192.5" cy="242.8" rx="3.4" ry="3.8"/><ellipse cx="158.8" cy="222.8" rx="4.3" ry="4.3"/><ellipse cx="166.8" cy="225.8" rx="4.3" ry="3.8"/><ellipse cx="174.8" cy="219.8" rx="3.8" ry="3.8"/><ellipse cx="182.8" cy="218.8" rx="3.4" ry="3.8"/><ellipse cx="175.8" cy="228.8" rx="4.3" ry="3.8"/><ellipse cx="160.8" cy="229.8" rx="3.8" ry="3.8"/><ellipse cx="118.8" cy="306.8" rx="3.4" ry="4.3"/><ellipse cx="120.8" cy="313.8" rx="3.2" ry="4.0"/><ellipse cx="117.8" cy="320.8" rx="4.2" ry="4.2"/><ellipse cx="121.8" cy="328.8" rx="3.1" ry="3.5"/><ellipse cx="118.8" cy="336.8" rx="3.8" ry="3.8"/><ellipse cx="122.8" cy="344.8" rx="3.4" ry="4.0"/><ellipse cx="119.8" cy="351.8" rx="3.7" ry="4.6"/><ellipse cx="124.8" cy="357.8" rx="3.3" ry="4.1"/><ellipse cx="116.8" cy="300.8" rx="3.3" ry="4.1"/><ellipse cx="125.8" cy="285.8" rx="3.9" ry="3.6"/><ellipse cx="134.8" cy="295.8" rx="3.6" ry="4.2"/><ellipse cx="135.3" cy="271.4" rx="3.0" ry="4.3"/><ellipse cx="145.5" cy="273.5" rx="3.5" ry="4.0"/><ellipse cx="126.1" cy="253.0" rx="3.7" ry="4.4"/><ellipse cx="131.2" cy="257.1" rx="3.1" ry="4.0"/><ellipse cx="113.8" cy="257.1" rx="3.0" ry="3.9"/><ellipse cx="112.4" cy="244.8" rx="3.4" ry="3.4"/><ellipse cx="121.0" cy="277.5" rx="3.4" ry="3.9"/><ellipse cx="135.8" cy="372.8" rx="3.8" ry="4.5"/><ellipse cx="133.8" cy="380.8" rx="3.4" ry="4.0"/><ellipse cx="143.8" cy="372.8" rx="3.9" ry="4.5"/><ellipse cx="146.8" cy="380.8" rx="4.1" ry="4.6"/><ellipse cx="149.8" cy="388.8" rx="3.4" ry="3.6"/><ellipse cx="145.8" cy="394.8" rx="4.1" ry="3.5"/><ellipse cx="152.8" cy="392.8" rx="3.5" ry="4.3"/><ellipse cx="155.8" cy="385.8" rx="3.6" ry="3.9"/><ellipse cx="182.8" cy="364.8" rx="4.1" ry="3.8"/><ellipse cx="185.8" cy="370.8" rx="3.7" ry="4.4"/><ellipse cx="183.8" cy="376.8" rx="3.2" ry="3.8"/><ellipse cx="218.8" cy="306.8" rx="3.6" ry="4.1"/><ellipse cx="222.8" cy="312.8" rx="3.2" ry="3.9"/><ellipse cx="219.8" cy="320.8" rx="3.1" ry="3.5"/><ellipse cx="220.8" cy="328.8" rx="3.4" ry="3.6"/><ellipse cx="216.8" cy="336.8" rx="4.2" ry="3.7"/><ellipse cx="224.8" cy="300.8" rx="3.3" ry="4.3"/><ellipse cx="227.8" cy="292.8" rx="3.9" ry="3.7"/><ellipse cx="222.5" cy="165.3" rx="3.4" ry="4.0"/><ellipse cx="128.8" cy="176.7" rx="3.4" ry="3.8"/><ellipse cx="161.0" cy="176.7" rx="3.4" ry="3.8"/><ellipse cx="174.7" cy="183.1" rx="3.3" ry="4.0"/><ellipse cx="199.0" cy="183.1" rx="3.4" ry="3.8"/><ellipse cx="209.2" cy="179.3" rx="3.4" ry="3.8"/><ellipse cx="202.8" cy="193.8" rx="4.8" ry="3.3"/><ellipse cx="169.4" cy="199.4" rx="4.8" ry="3.8"/><ellipse cx="178.8" cy="200.6" rx="3.4" ry="3.8"/><ellipse cx="191.4" cy="204.4" rx="3.4" ry="3.8"/><ellipse cx="214.2" cy="205.1" rx="3.4" ry="3.8"/><ellipse cx="225.6" cy="200.6" rx="3.4" ry="3.8"/><ellipse cx="199.0" cy="212.8" rx="3.4" ry="3.8"/><ellipse cx="225.6" cy="212.8" rx="3.4" ry="4.3"/><ellipse cx="138.3" cy="239.3" rx="3.4" ry="3.8"/><ellipse cx="148.9" cy="241.2" rx="3.4" ry="3.8"/><ellipse cx="107.9" cy="245.0" rx="3.4" ry="3.8"/><ellipse cx="126.9" cy="252.6" rx="3.4" ry="3.8"/><ellipse cx="138.3" cy="256.4" rx="3.4" ry="3.8"/><ellipse cx="111.7" cy="256.4" rx="3.4" ry="3.8"/><ellipse cx="110.6" cy="264.0" rx="3.4" ry="3.8"/><ellipse cx="121.2" cy="277.2" rx="3.4" ry="3.8"/><ellipse cx="115.5" cy="311.4" rx="3.4" ry="3.8"/><ellipse cx="123.1" cy="322.8" rx="3.4" ry="3.8"/><ellipse cx="102.2" cy="328.5" rx="3.4" ry="3.8"/><ellipse cx="113.6" cy="336.1" rx="3.4" ry="3.8"/><ellipse cx="121.2" cy="345.6" rx="3.4" ry="3.8"/><ellipse cx="107.9" cy="364.5" rx="3.4" ry="3.8"/><ellipse cx="113.6" cy="374.0" rx="3.4" ry="3.8"/><ellipse cx="106.0" cy="383.5" rx="3.4" ry="3.8"/><ellipse cx="93.5" cy="375.9" rx="2.8" ry="3.3"/><ellipse cx="90.8" cy="383.5" rx="2.8" ry="3.3"/><ellipse cx="92.7" cy="393.0" rx="3.4" ry="3.8"/><ellipse cx="59.3" cy="400.6" rx="3.0" ry="3.6"/><ellipse cx="41.5" cy="381.6" rx="3.0" ry="3.4"/><ellipse cx="86.3" cy="408.2" rx="3.0" ry="3.4"/><ellipse cx="123.1" cy="383.5" rx="3.4" ry="3.8"/><ellipse cx="143.2" cy="389.2" rx="3.8" ry="4.8"/><ellipse cx="153.4" cy="383.5" rx="3.4" ry="3.8"/><ellipse cx="168.6" cy="375.9" rx="3.4" ry="3.8"/><ellipse cx="204.7" cy="334.2" rx="3.4" ry="3.8"/><ellipse cx="218.7" cy="339.9" rx="3.8" ry="4.3"/><ellipse cx="225.6" cy="330.4" rx="3.4" ry="3.8"/><ellipse cx="233.1" cy="324.7" rx="3.4" ry="3.8"/><ellipse cx="243.4" cy="360.7" rx="3.3" ry="3.8"/><ellipse cx="259.7" cy="351.2" rx="3.8" ry="3.4"/><ellipse cx="278.7" cy="336.1" rx="3.2" ry="3.8"/><ellipse cx="288.2" cy="276.5" rx="3.2" ry="3.8"/><ellipse cx="246.4" cy="300.0" rx="3.4" ry="3.8"/><ellipse cx="236.9" cy="307.6" rx="3.4" ry="3.8"/><ellipse cx="229.3" cy="315.2" rx="3.4" ry="3.8"/><ellipse cx="248.3" cy="233.6" rx="3.4" ry="3.8"/><ellipse cx="255.9" cy="216.5" rx="3.8" ry="4.6"/><ellipse cx="257.1" cy="220.3" rx="3.3" ry="4.3"/><ellipse cx="266.6" cy="208.1" rx="3.4" ry="3.6"/><ellipse cx="271.7" cy="203.2" rx="3.4" ry="3.4"/><ellipse cx="271.7" cy="208.4" rx="3.2" ry="3.4"/><ellipse cx="221.8" cy="208.8" rx="3.4" ry="3.8"/><ellipse cx="204.7" cy="319.0" rx="3.4" ry="3.8"/><ellipse cx="214.2" cy="322.8" rx="3.4" ry="3.8"/><ellipse cx="187.6" cy="383.5" rx="3.4" ry="3.8"/><ellipse cx="189.5" cy="396.8" rx="2.6" ry="3.8"/><ellipse cx="172.4" cy="389.2" rx="3.4" ry="3.8"/><ellipse cx="161.8" cy="177.4" rx="3.4" ry="3.8"/><ellipse cx="174.8" cy="183.1" rx="3.4" ry="3.8"/><ellipse cx="198.3" cy="183.5" rx="3.4" ry="3.8"/><ellipse cx="207.2" cy="220.0" rx="3.4" ry="3.8"/><ellipse cx="227.2" cy="225.8" rx="4.3" ry="3.8"/><ellipse cx="244.7" cy="229.5" rx="2.8" ry="3.0"/><ellipse cx="252.0" cy="228.8" rx="2.8" ry="3.2"/><ellipse cx="245.4" cy="238.3" rx="3.8" ry="3.8"/><ellipse cx="252.8" cy="237.6" rx="2.8" ry="3.2"/><ellipse cx="141.4" cy="222.2" rx="3.4" ry="3.8"/><ellipse cx="144.0" cy="232.8" rx="3.4" ry="3.8"/><ellipse cx="138.8" cy="239.8" rx="3.4" ry="3.8"/><ellipse cx="139.0" cy="247.8" rx="3.4" ry="3.8"/><ellipse cx="149.0" cy="241.8" rx="3.4" ry="3.8"/><ellipse cx="127.1" cy="252.8" rx="3.4" ry="3.8"/><ellipse cx="118.8" cy="290.8" rx="3.4" ry="3.8"/><ellipse cx="230.8" cy="290.8" rx="3.4" ry="3.8"/><ellipse cx="222.8" cy="296.8" rx="3.4" ry="3.8"/><ellipse cx="199.8" cy="351.8" rx="3.4" ry="3.8"/><ellipse cx="196.8" cy="362.8" rx="3.4" ry="3.8"/><ellipse cx="200.8" cy="370.8" rx="3.4" ry="3.8"/><ellipse cx="206.8" cy="352.8" rx="3.4" ry="3.8"/><ellipse cx="176.8" cy="392.8" rx="3.2" ry="4.0"/><ellipse cx="160.8" cy="396.8" rx="3.4" ry="4.2"/><ellipse cx="133.8" cy="392.8" rx="3.4" ry="4.0"/><ellipse cx="236.8" cy="280.8" rx="3.4" ry="3.8"/><ellipse cx="244.8" cy="268.8" rx="3.4" ry="3.8"/><ellipse cx="248.8" cy="258.8" rx="3.4" ry="3.8"/></g>
<g fill="#f5200f"><ellipse cx="144.3" cy="282.3" rx="3.7" ry="4.5"/><ellipse cx="147.3" cy="276.1" rx="3.7" ry="4.4"/><ellipse cx="154.4" cy="271.3" rx="2.6" ry="3.0"/><ellipse cx="156.3" cy="267.0" rx="2.6" ry="3.4"/><ellipse cx="160.6" cy="264.5" rx="2.4" ry="2.9"/><ellipse cx="161.0" cy="263.5" rx="2.5" ry="2.7"/><ellipse cx="172.8" cy="255.0" rx="3.7" ry="4.3"/><ellipse cx="172.9" cy="259.6" rx="3.3" ry="4.3"/><ellipse cx="179.5" cy="259.1" rx="2.5" ry="2.6"/><ellipse cx="180.4" cy="260.5" rx="2.2" ry="2.7"/><ellipse cx="187.4" cy="260.3" rx="3.0" ry="3.3"/><ellipse cx="194.0" cy="253.4" rx="3.8" ry="3.8"/><ellipse cx="197.2" cy="246.8" rx="3.5" ry="3.8"/><ellipse cx="195.1" cy="243.0" rx="2.5" ry="3.2"/><ellipse cx="200.5" cy="244.6" rx="3.7" ry="4.1"/><ellipse cx="202.4" cy="238.4" rx="2.4" ry="2.9"/><ellipse cx="212.2" cy="230.1" rx="3.7" ry="3.8"/><ellipse cx="215.3" cy="235.5" rx="2.7" ry="3.5"/><ellipse cx="221.2" cy="233.9" rx="2.5" ry="2.5"/><ellipse cx="225.5" cy="236.0" rx="2.5" ry="2.5"/><ellipse cx="232.1" cy="229.1" rx="2.6" ry="3.0"/><ellipse cx="234.7" cy="231.8" rx="2.3" ry="2.9"/><ellipse cx="235.6" cy="234.5" rx="2.4" ry="2.9"/><ellipse cx="240.3" cy="242.5" rx="2.4" ry="2.7"/><ellipse cx="241.5" cy="241.1" rx="2.9" ry="3.8"/><ellipse cx="243.3" cy="251.0" rx="3.0" ry="3.6"/><ellipse cx="238.0" cy="255.4" rx="2.4" ry="2.7"/><ellipse cx="237.3" cy="265.9" rx="3.0" ry="3.3"/><ellipse cx="233.7" cy="267.2" rx="3.6" ry="4.0"/><ellipse cx="232.8" cy="275.8" rx="3.3" ry="4.0"/><ellipse cx="229.5" cy="273.8" rx="3.0" ry="3.7"/><ellipse cx="220.2" cy="271.8" rx="3.2" ry="3.8"/><ellipse cx="220.2" cy="266.7" rx="3.3" ry="3.7"/><ellipse cx="212.7" cy="265.3" rx="2.8" ry="3.3"/><ellipse cx="209.0" cy="264.0" rx="3.5" ry="4.5"/><ellipse cx="204.9" cy="270.7" rx="3.0" ry="3.5"/><ellipse cx="202.8" cy="273.0" rx="3.0" ry="3.6"/><ellipse cx="203.3" cy="277.0" rx="3.4" ry="4.0"/><ellipse cx="202.4" cy="283.9" rx="3.4" ry="4.1"/><ellipse cx="202.8" cy="286.2" rx="2.9" ry="3.5"/><ellipse cx="207.6" cy="290.5" rx="2.3" ry="2.6"/><ellipse cx="207.4" cy="292.1" rx="2.7" ry="2.9"/><ellipse cx="210.3" cy="297.7" rx="2.8" ry="3.3"/><ellipse cx="215.5" cy="306.2" rx="2.2" ry="2.5"/><ellipse cx="217.6" cy="305.3" rx="3.5" ry="3.9"/><ellipse cx="218.6" cy="308.6" rx="3.1" ry="3.4"/><ellipse cx="216.8" cy="317.8" rx="2.9" ry="3.6"/><ellipse cx="207.5" cy="316.5" rx="3.2" ry="3.7"/><ellipse cx="203.6" cy="322.4" rx="2.8" ry="3.5"/><ellipse cx="199.0" cy="322.3" rx="3.2" ry="3.3"/><ellipse cx="196.7" cy="328.2" rx="2.9" ry="3.1"/><ellipse cx="195.8" cy="332.1" rx="3.7" ry="4.8"/><ellipse cx="190.8" cy="343.0" rx="3.0" ry="3.4"/><ellipse cx="194.4" cy="344.9" rx="2.7" ry="3.0"/><ellipse cx="191.6" cy="349.0" rx="2.7" ry="3.3"/><ellipse cx="178.3" cy="357.8" rx="2.6" ry="3.4"/><ellipse cx="175.2" cy="359.0" rx="2.4" ry="3.2"/><ellipse cx="174.7" cy="360.8" rx="3.2" ry="3.8"/><ellipse cx="168.3" cy="367.8" rx="2.7" ry="3.1"/><ellipse cx="168.6" cy="370.2" rx="2.9" ry="3.3"/><ellipse cx="163.5" cy="373.2" rx="2.6" ry="3.0"/><ellipse cx="159.3" cy="372.6" rx="2.2" ry="2.7"/><ellipse cx="156.5" cy="370.9" rx="3.2" ry="3.7"/><ellipse cx="152.6" cy="361.9" rx="3.6" ry="3.8"/><ellipse cx="154.1" cy="358.3" rx="3.5" ry="4.3"/><ellipse cx="148.2" cy="361.4" rx="3.7" ry="3.8"/><ellipse cx="144.9" cy="364.9" rx="2.7" ry="2.9"/><ellipse cx="140.6" cy="365.0" rx="2.6" ry="3.2"/><ellipse cx="136.2" cy="361.3" rx="3.4" ry="4.3"/><ellipse cx="134.0" cy="354.8" rx="3.5" ry="3.8"/><ellipse cx="135.0" cy="354.6" rx="2.4" ry="2.6"/><ellipse cx="130.6" cy="347.3" rx="2.9" ry="3.0"/><ellipse cx="129.8" cy="341.1" rx="2.8" ry="2.9"/><ellipse cx="132.3" cy="342.0" rx="3.6" ry="3.8"/><ellipse cx="130.4" cy="335.1" rx="3.0" ry="3.8"/><ellipse cx="128.6" cy="331.3" rx="2.4" ry="2.9"/><ellipse cx="132.3" cy="325.5" rx="3.2" ry="3.4"/><ellipse cx="128.2" cy="320.7" rx="3.0" ry="3.1"/><ellipse cx="128.1" cy="316.2" rx="2.5" ry="3.0"/><ellipse cx="124.6" cy="307.6" rx="2.3" ry="2.4"/><ellipse cx="123.5" cy="303.9" rx="3.0" ry="3.3"/><ellipse cx="120.1" cy="294.8" rx="2.3" ry="2.4"/><ellipse cx="126.7" cy="288.2" rx="2.4" ry="3.1"/><ellipse cx="130.3" cy="286.0" rx="3.2" ry="3.5"/><ellipse cx="130.3" cy="287.1" rx="2.8" ry="3.1"/><ellipse cx="137.3" cy="285.5" rx="3.5" ry="3.9"/><polygon points="140.0,283.0 150.0,276.0 157.0,271.0 163.0,262.0 171.0,256.0 181.0,260.0 192.0,258.0 196.0,248.0 204.0,234.0 212.0,232.0 220.0,236.0 232.0,229.5 239.0,236.0 241.0,252.0 237.0,260.0 231.0,276.0 224.0,273.0 216.0,263.0 206.0,265.0 201.0,270.0 203.0,285.0 212.0,297.0 218.0,306.0 218.0,315.0 206.0,319.0 196.0,325.0 192.0,337.0 192.0,349.0 184.0,351.0 180.0,359.0 171.0,362.0 169.0,374.0 161.0,376.0 157.0,372.0 151.0,357.0 147.0,364.0 137.0,368.0 133.0,357.0 132.0,341.0 130.0,323.0 128.0,310.0 124.0,300.0 122.0,292.0 130.0,287.0"/><ellipse cx="149.2" cy="201.8" rx="3.2" ry="4.0"/><ellipse cx="153.0" cy="201.6" rx="3.2" ry="3.7"/><ellipse cx="152.6" cy="203.2" rx="3.1" ry="3.9"/><ellipse cx="154.4" cy="208.4" rx="3.0" ry="3.8"/><ellipse cx="154.6" cy="214.6" rx="2.2" ry="2.6"/><ellipse cx="153.0" cy="219.1" rx="2.6" ry="2.6"/><ellipse cx="153.3" cy="222.7" rx="3.0" ry="3.4"/><ellipse cx="149.3" cy="227.0" rx="3.0" ry="3.6"/><ellipse cx="149.0" cy="223.2" rx="2.9" ry="3.5"/><ellipse cx="147.5" cy="217.9" rx="2.3" ry="2.6"/><ellipse cx="148.3" cy="214.5" rx="2.6" ry="3.3"/><ellipse cx="148.1" cy="209.5" rx="3.1" ry="3.7"/><ellipse cx="148.9" cy="201.7" rx="3.2" ry="3.9"/><polygon points="148.0,201.0 153.0,200.0 154.0,212.0 153.5,226.0 148.5,226.0 147.5,212.0"/><ellipse cx="161.7" cy="222.2" rx="3.3" ry="3.5"/><ellipse cx="168.0" cy="217.8" rx="2.2" ry="2.5"/><ellipse cx="169.1" cy="218.9" rx="3.3" ry="3.9"/><ellipse cx="172.6" cy="218.0" rx="2.9" ry="3.5"/><ellipse cx="178.4" cy="216.5" rx="2.6" ry="2.8"/><ellipse cx="184.1" cy="215.3" rx="3.0" ry="3.6"/><ellipse cx="185.1" cy="215.3" rx="3.2" ry="4.0"/><ellipse cx="193.4" cy="213.5" rx="2.8" ry="3.6"/><ellipse cx="196.0" cy="213.6" rx="3.4" ry="3.5"/><ellipse cx="199.0" cy="213.2" rx="2.9" ry="3.1"/><ellipse cx="197.3" cy="216.7" rx="3.0" ry="3.7"/><ellipse cx="193.0" cy="218.6" rx="3.3" ry="3.7"/><ellipse cx="185.0" cy="221.8" rx="2.5" ry="3.0"/><ellipse cx="180.6" cy="222.6" rx="2.4" ry="2.5"/><ellipse cx="178.8" cy="224.6" rx="2.3" ry="2.9"/><ellipse cx="173.8" cy="228.2" rx="3.1" ry="3.9"/><ellipse cx="168.5" cy="229.4" rx="2.3" ry="2.4"/><ellipse cx="167.0" cy="228.1" rx="2.8" ry="3.3"/><ellipse cx="160.0" cy="225.1" rx="2.9" ry="3.2"/><polygon points="160.0,224.0 168.0,218.0 180.0,217.0 190.0,214.0 200.0,213.0 198.0,216.0 184.0,221.0 176.0,227.0 164.0,229.0"/><ellipse cx="146.6" cy="249.9" rx="2.7" ry="3.5"/><ellipse cx="182.5" cy="253.6" rx="2.6" ry="2.7"/><ellipse cx="166.8" cy="242.6" rx="3.2" ry="4.4"/><ellipse cx="161.4" cy="240.7" rx="2.9" ry="3.7"/><ellipse cx="184.2" cy="249.3" rx="2.6" ry="3.0"/><ellipse cx="187.5" cy="247.6" rx="2.3" ry="2.7"/><ellipse cx="153.3" cy="252.0" rx="2.3" ry="2.6"/><ellipse cx="145.4" cy="246.3" rx="3.6" ry="4.4"/><ellipse cx="161.6" cy="260.0" rx="2.3" ry="2.7"/><ellipse cx="182.9" cy="242.8" rx="2.2" ry="2.4"/><ellipse cx="165.7" cy="243.5" rx="2.9" ry="3.0"/><ellipse cx="152.2" cy="261.2" rx="2.8" ry="3.4"/><ellipse cx="144.8" cy="240.4" rx="3.5" ry="4.5"/><ellipse cx="162.0" cy="255.4" rx="2.8" ry="3.5"/><ellipse cx="190.5" cy="251.4" rx="3.1" ry="3.1"/><ellipse cx="163.1" cy="258.2" rx="3.4" ry="4.6"/><ellipse cx="182.3" cy="258.8" rx="2.4" ry="3.2"/><ellipse cx="163.6" cy="240.1" rx="2.9" ry="3.2"/><ellipse cx="177.3" cy="235.7" rx="2.4" ry="2.9"/><ellipse cx="144.1" cy="243.4" rx="3.5" ry="4.7"/><ellipse cx="173.5" cy="236.1" rx="2.5" ry="3.5"/><ellipse cx="150.3" cy="244.9" rx="2.6" ry="3.3"/><ellipse cx="151.0" cy="200.0" rx="2.6" ry="3.2"/><ellipse cx="151.5" cy="206.0" rx="3.0" ry="3.2"/><ellipse cx="152.0" cy="212.0" rx="3.0" ry="3.5"/><ellipse cx="151.0" cy="218.0" rx="3.2" ry="3.5"/><ellipse cx="152.0" cy="224.0" rx="3.0" ry="3.2"/><ellipse cx="150.0" cy="229.0" rx="2.6" ry="3.0"/><ellipse cx="160.0" cy="218.0" rx="2.6" ry="3.0"/><ellipse cx="164.0" cy="222.0" rx="2.6" ry="3.0"/><ellipse cx="168.0" cy="220.0" rx="2.6" ry="3.0"/><ellipse cx="172.0" cy="224.0" rx="2.6" ry="3.0"/><ellipse cx="176.0" cy="222.0" rx="2.6" ry="3.0"/><ellipse cx="180.0" cy="226.0" rx="2.6" ry="3.0"/><ellipse cx="163.0" cy="227.0" rx="2.6" ry="3.0"/><ellipse cx="170.0" cy="228.0" rx="2.6" ry="3.0"/><ellipse cx="184.0" cy="222.0" rx="2.6" ry="3.0"/><ellipse cx="188.0" cy="219.0" rx="2.6" ry="3.0"/><ellipse cx="192.0" cy="222.0" rx="2.6" ry="3.0"/><ellipse cx="196.0" cy="216.0" rx="2.6" ry="3.0"/><ellipse cx="200.0" cy="213.0" rx="2.6" ry="3.0"/><ellipse cx="186.0" cy="212.0" rx="2.6" ry="3.0"/><ellipse cx="178.0" cy="215.0" rx="2.6" ry="3.0"/><ellipse cx="170.0" cy="214.0" rx="2.6" ry="3.0"/><ellipse cx="162.0" cy="212.0" rx="2.6" ry="3.0"/><ellipse cx="180.5" cy="230.8" rx="2.6" ry="3.0"/><ellipse cx="189.7" cy="203.2" rx="2.6" ry="3.0"/><ellipse cx="197.9" cy="207.3" rx="2.6" ry="3.0"/><ellipse cx="206.0" cy="219.5" rx="2.6" ry="3.0"/><ellipse cx="213.2" cy="204.2" rx="2.6" ry="3.0"/><ellipse cx="225.5" cy="199.1" rx="2.6" ry="3.0"/><ellipse cx="224.4" cy="210.3" rx="2.6" ry="3.0"/><ellipse cx="225.5" cy="224.6" rx="2.6" ry="3.0"/><ellipse cx="147.8" cy="242.0" rx="2.6" ry="3.0"/><ellipse cx="159.0" cy="243.0" rx="2.6" ry="3.0"/><ellipse cx="173.4" cy="240.0" rx="2.6" ry="3.0"/><ellipse cx="181.5" cy="241.0" rx="2.6" ry="3.0"/><ellipse cx="191.7" cy="242.0" rx="2.6" ry="3.0"/><ellipse cx="158.0" cy="222.0" rx="3.5" ry="3.5"/><ellipse cx="166.0" cy="225.0" rx="3.5" ry="3.0"/><ellipse cx="174.0" cy="219.0" rx="3.0" ry="3.0"/><ellipse cx="182.0" cy="218.0" rx="2.6" ry="3.0"/><ellipse cx="175.0" cy="228.0" rx="3.5" ry="3.0"/><ellipse cx="160.0" cy="229.0" rx="3.0" ry="3.0"/><ellipse cx="118.0" cy="306.0" rx="2.6" ry="3.5"/><ellipse cx="120.0" cy="313.0" rx="2.4" ry="3.2"/><ellipse cx="117.0" cy="320.0" rx="3.4" ry="3.4"/><ellipse cx="121.0" cy="328.0" rx="2.3" ry="2.7"/><ellipse cx="118.0" cy="336.0" rx="3.0" ry="3.0"/><ellipse cx="122.0" cy="344.0" rx="2.6" ry="3.2"/><ellipse cx="119.0" cy="351.0" rx="2.9" ry="3.8"/><ellipse cx="124.0" cy="357.0" rx="2.5" ry="3.3"/><ellipse cx="116.0" cy="300.0" rx="2.5" ry="3.3"/><ellipse cx="125.0" cy="285.0" rx="3.1" ry="2.8"/><ellipse cx="134.0" cy="295.0" rx="2.8" ry="3.4"/><ellipse cx="134.5" cy="270.6" rx="2.2" ry="3.5"/><ellipse cx="144.7" cy="272.7" rx="2.7" ry="3.2"/><ellipse cx="125.3" cy="252.2" rx="2.9" ry="3.6"/><ellipse cx="130.4" cy="256.3" rx="2.3" ry="3.2"/><ellipse cx="113.0" cy="256.3" rx="2.2" ry="3.1"/><ellipse cx="111.6" cy="244.0" rx="2.6" ry="2.6"/><ellipse cx="120.2" cy="276.7" rx="2.6" ry="3.1"/><ellipse cx="135.0" cy="372.0" rx="3.0" ry="3.7"/><ellipse cx="133.0" cy="380.0" rx="2.6" ry="3.2"/><ellipse cx="143.0" cy="372.0" rx="3.1" ry="3.7"/><ellipse cx="146.0" cy="380.0" rx="3.3" ry="3.8"/><ellipse cx="149.0" cy="388.0" rx="2.6" ry="2.8"/><ellipse cx="145.0" cy="394.0" rx="3.3" ry="2.7"/><ellipse cx="152.0" cy="392.0" rx="2.7" ry="3.5"/><ellipse cx="155.0" cy="385.0" rx="2.8" ry="3.1"/><ellipse cx="182.0" cy="364.0" rx="3.3" ry="3.0"/><ellipse cx="185.0" cy="370.0" rx="2.9" ry="3.6"/><ellipse cx="183.0" cy="376.0" rx="2.4" ry="3.0"/><ellipse cx="218.0" cy="306.0" rx="2.8" ry="3.3"/><ellipse cx="222.0" cy="312.0" rx="2.4" ry="3.1"/><ellipse cx="219.0" cy="320.0" rx="2.3" ry="2.7"/><ellipse cx="220.0" cy="328.0" rx="2.6" ry="2.8"/><ellipse cx="216.0" cy="336.0" rx="3.4" ry="2.9"/><ellipse cx="224.0" cy="300.0" rx="2.5" ry="3.5"/><ellipse cx="227.0" cy="292.0" rx="3.1" ry="2.9"/><ellipse cx="221.7" cy="164.5" rx="2.6" ry="3.2"/><ellipse cx="128.0" cy="175.9" rx="2.6" ry="3.0"/><ellipse cx="160.2" cy="175.9" rx="2.6" ry="3.0"/><ellipse cx="173.9" cy="182.3" rx="2.5" ry="3.2"/><ellipse cx="198.2" cy="182.3" rx="2.6" ry="3.0"/><ellipse cx="208.4" cy="178.5" rx="2.6" ry="3.0"/><ellipse cx="202.0" cy="193.0" rx="4.0" ry="2.5"/><ellipse cx="168.6" cy="198.6" rx="4.0" ry="3.0"/><ellipse cx="178.0" cy="199.8" rx="2.6" ry="3.0"/><ellipse cx="190.6" cy="203.6" rx="2.6" ry="3.0"/><ellipse cx="213.4" cy="204.3" rx="2.6" ry="3.0"/><ellipse cx="224.8" cy="199.8" rx="2.6" ry="3.0"/><ellipse cx="198.2" cy="212.0" rx="2.6" ry="3.0"/><ellipse cx="224.8" cy="212.0" rx="2.6" ry="3.5"/><ellipse cx="137.5" cy="238.5" rx="2.6" ry="3.0"/><ellipse cx="148.1" cy="240.4" rx="2.6" ry="3.0"/><ellipse cx="107.1" cy="244.2" rx="2.6" ry="3.0"/><ellipse cx="126.1" cy="251.8" rx="2.6" ry="3.0"/><ellipse cx="137.5" cy="255.6" rx="2.6" ry="3.0"/><ellipse cx="110.9" cy="255.6" rx="2.6" ry="3.0"/><ellipse cx="109.8" cy="263.2" rx="2.6" ry="3.0"/><ellipse cx="120.4" cy="276.4" rx="2.6" ry="3.0"/><ellipse cx="114.7" cy="310.6" rx="2.6" ry="3.0"/><ellipse cx="122.3" cy="322.0" rx="2.6" ry="3.0"/><ellipse cx="101.4" cy="327.7" rx="2.6" ry="3.0"/><ellipse cx="112.8" cy="335.3" rx="2.6" ry="3.0"/><ellipse cx="120.4" cy="344.8" rx="2.6" ry="3.0"/><ellipse cx="107.1" cy="363.7" rx="2.6" ry="3.0"/><ellipse cx="112.8" cy="373.2" rx="2.6" ry="3.0"/><ellipse cx="105.2" cy="382.7" rx="2.6" ry="3.0"/><ellipse cx="92.7" cy="375.1" rx="2.0" ry="2.5"/><ellipse cx="90.0" cy="382.7" rx="2.0" ry="2.5"/><ellipse cx="91.9" cy="392.2" rx="2.6" ry="3.0"/><ellipse cx="58.5" cy="399.8" rx="2.2" ry="2.8"/><ellipse cx="40.7" cy="380.8" rx="2.2" ry="2.6"/><ellipse cx="85.5" cy="407.4" rx="2.2" ry="2.6"/><ellipse cx="122.3" cy="382.7" rx="2.6" ry="3.0"/><ellipse cx="142.4" cy="388.4" rx="3.0" ry="4.0"/><ellipse cx="152.6" cy="382.7" rx="2.6" ry="3.0"/><ellipse cx="167.8" cy="375.1" rx="2.6" ry="3.0"/><ellipse cx="203.9" cy="333.4" rx="2.6" ry="3.0"/><ellipse cx="217.9" cy="339.1" rx="3.0" ry="3.5"/><ellipse cx="224.8" cy="329.6" rx="2.6" ry="3.0"/><ellipse cx="232.3" cy="323.9" rx="2.6" ry="3.0"/><ellipse cx="242.6" cy="359.9" rx="2.5" ry="3.0"/><ellipse cx="258.9" cy="350.4" rx="3.0" ry="2.6"/><ellipse cx="277.9" cy="335.3" rx="2.4" ry="3.0"/><ellipse cx="287.4" cy="275.7" rx="2.4" ry="3.0"/><ellipse cx="245.6" cy="299.2" rx="2.6" ry="3.0"/><ellipse cx="236.1" cy="306.8" rx="2.6" ry="3.0"/><ellipse cx="228.5" cy="314.4" rx="2.6" ry="3.0"/><ellipse cx="247.5" cy="232.8" rx="2.6" ry="3.0"/><ellipse cx="255.1" cy="215.7" rx="3.0" ry="3.8"/><ellipse cx="256.3" cy="219.5" rx="2.5" ry="3.5"/><ellipse cx="265.8" cy="207.3" rx="2.6" ry="2.8"/><ellipse cx="270.9" cy="202.4" rx="2.6" ry="2.6"/><ellipse cx="270.9" cy="207.6" rx="2.4" ry="2.6"/><ellipse cx="221.0" cy="208.0" rx="2.6" ry="3.0"/><ellipse cx="203.9" cy="318.2" rx="2.6" ry="3.0"/><ellipse cx="213.4" cy="322.0" rx="2.6" ry="3.0"/><ellipse cx="186.8" cy="382.7" rx="2.6" ry="3.0"/><ellipse cx="188.7" cy="396.0" rx="1.8" ry="3.0"/><ellipse cx="171.6" cy="388.4" rx="2.6" ry="3.0"/><ellipse cx="161.0" cy="176.6" rx="2.6" ry="3.0"/><ellipse cx="174.0" cy="182.3" rx="2.6" ry="3.0"/><ellipse cx="197.5" cy="182.7" rx="2.6" ry="3.0"/><ellipse cx="206.4" cy="219.2" rx="2.6" ry="3.0"/><ellipse cx="226.4" cy="225.0" rx="3.5" ry="3.0"/><ellipse cx="243.9" cy="228.7" rx="2.0" ry="2.2"/><ellipse cx="251.2" cy="228.0" rx="2.0" ry="2.4"/><ellipse cx="244.6" cy="237.5" rx="3.0" ry="3.0"/><ellipse cx="252.0" cy="236.8" rx="2.0" ry="2.4"/><ellipse cx="140.6" cy="221.4" rx="2.6" ry="3.0"/><ellipse cx="143.2" cy="232.0" rx="2.6" ry="3.0"/><ellipse cx="138.0" cy="239.0" rx="2.6" ry="3.0"/><ellipse cx="138.2" cy="247.0" rx="2.6" ry="3.0"/><ellipse cx="148.2" cy="241.0" rx="2.6" ry="3.0"/><ellipse cx="126.3" cy="252.0" rx="2.6" ry="3.0"/><ellipse cx="118.0" cy="290.0" rx="2.6" ry="3.0"/><ellipse cx="230.0" cy="290.0" rx="2.6" ry="3.0"/><ellipse cx="222.0" cy="296.0" rx="2.6" ry="3.0"/><ellipse cx="199.0" cy="351.0" rx="2.6" ry="3.0"/><ellipse cx="196.0" cy="362.0" rx="2.6" ry="3.0"/><ellipse cx="200.0" cy="370.0" rx="2.6" ry="3.0"/><ellipse cx="206.0" cy="352.0" rx="2.6" ry="3.0"/><ellipse cx="176.0" cy="392.0" rx="2.4" ry="3.2"/><ellipse cx="160.0" cy="396.0" rx="2.6" ry="3.4"/><ellipse cx="133.0" cy="392.0" rx="2.6" ry="3.2"/><ellipse cx="236.0" cy="280.0" rx="2.6" ry="3.0"/><ellipse cx="244.0" cy="268.0" rx="2.6" ry="3.0"/><ellipse cx="248.0" cy="258.0" rx="2.6" ry="3.0"/></g>
<ellipse cx="192.2" cy="315.3" rx="1.2" ry="1.1" fill="#1010f0"/>
<ellipse cx="134.1" cy="359.5" rx="1.0" ry="1.4" fill="#1010f0"/>
<ellipse cx="195.0" cy="295.0" rx="1.0" ry="0.9" fill="#1010f0"/>
<ellipse cx="146.7" cy="287.4" rx="0.9" ry="1.5" fill="#1010f0"/>
<ellipse cx="156.7" cy="273.8" rx="0.7" ry="1.0" fill="#1010f0"/>
<ellipse cx="200.8" cy="301.0" rx="1.4" ry="0.9" fill="#7ff3f3"/>
<ellipse cx="160.6" cy="329.4" rx="1.2" ry="0.9" fill="#1010f0"/>
<ellipse cx="138.2" cy="291.1" rx="1.4" ry="1.1" fill="#1010f0"/>
<ellipse cx="179.1" cy="274.6" rx="1.2" ry="1.4" fill="#1010f0"/>
<ellipse cx="155.3" cy="329.1" rx="1.4" ry="1.3" fill="#1010f0"/>
<ellipse cx="232.4" cy="235.9" rx="0.6" ry="1.4" fill="#1010f0"/>
<ellipse cx="134.7" cy="311.8" rx="1.4" ry="1.2" fill="#1010f0"/>
<ellipse cx="228.3" cy="242.5" rx="0.8" ry="0.8" fill="#1010f0"/>
<ellipse cx="172.8" cy="277.8" rx="0.6" ry="0.8" fill="#7ff3f3"/>
<ellipse cx="148.8" cy="306.2" rx="0.9" ry="1.2" fill="#1010f0"/>
<ellipse cx="186.7" cy="303.1" rx="1.1" ry="1.1" fill="#7ff3f3"/>
<ellipse cx="162.3" cy="297.9" rx="1.3" ry="1.0" fill="#1010f0"/>
<ellipse cx="138.9" cy="295.0" rx="1.1" ry="1.0" fill="#1010f0"/>
<ellipse cx="203.6" cy="241.7" rx="0.8" ry="1.0" fill="#1010f0"/>
<ellipse cx="140.3" cy="293.9" rx="0.9" ry="1.4" fill="#1010f0"/>
<ellipse cx="209.8" cy="315.5" rx="1.0" ry="1.5" fill="#7ff3f3"/>
<ellipse cx="201.0" cy="275.0" rx="0.7" ry="1.4" fill="#1010f0"/>
<ellipse cx="143.7" cy="285.0" rx="1.3" ry="1.6" fill="#7ff3f3"/>
<ellipse cx="154.3" cy="295.0" rx="0.9" ry="1.1" fill="#1010f0"/>
<ellipse cx="206.3" cy="248.3" rx="1.0" ry="0.9" fill="#7ff3f3"/>
<ellipse cx="213.5" cy="251.5" rx="0.9" ry="1.5" fill="#1010f0"/>
<ellipse cx="175.6" cy="296.8" rx="1.2" ry="1.5" fill="#1010f0"/>
<ellipse cx="140.9" cy="349.0" rx="0.9" ry="0.8" fill="#7ff3f3"/>
<ellipse cx="133.5" cy="315.8" rx="1.0" ry="1.5" fill="#1010f0"/>
<ellipse cx="151.1" cy="313.7" rx="0.9" ry="1.4" fill="#1010f0"/>
<polygon points="470.9,286.0 491.0,265.9 516.2,260.8 541.4,265.9 561.5,276.0 566.6,296.0 556.5,316.2 541.4,331.3 526.3,351.5 516.2,371.6 506.2,386.7 496.0,396.0 480.0,396.0 470.9,381.7 460.8,361.6 453.3,341.4 453.3,316.2 460.8,296.0" fill="#7ff3f3" opacity="0.75"/>
<ellipse cx="505.6" cy="310.3" rx="1.8" ry="3.7" fill="#1010f0"/>
<ellipse cx="516.5" cy="344.3" rx="1.6" ry="2.8" fill="#1010f0"/>
<ellipse cx="534.4" cy="321.3" rx="3.0" ry="2.3" fill="#1010f0"/>
<ellipse cx="496.0" cy="362.5" rx="1.7" ry="2.6" fill="#1010f0"/>
<ellipse cx="500.6" cy="270.3" rx="2.0" ry="2.4" fill="#1010f0"/>
<ellipse cx="483.7" cy="371.3" rx="1.9" ry="3.8" fill="#1010f0"/>
<ellipse cx="495.5" cy="326.8" rx="1.5" ry="2.8" fill="#1010f0"/>
<ellipse cx="521.6" cy="275.0" rx="2.7" ry="3.8" fill="#1010f0"/>
<ellipse cx="460.0" cy="333.6" rx="1.5" ry="2.2" fill="#1010f0"/>
<ellipse cx="500.4" cy="313.7" rx="2.8" ry="2.2" fill="#1010f0"/>
<ellipse cx="519.6" cy="282.2" rx="2.7" ry="3.9" fill="#1010f0"/>
<ellipse cx="456.5" cy="335.7" rx="2.7" ry="2.3" fill="#1010f0"/>
<ellipse cx="478.4" cy="343.6" rx="1.6" ry="2.7" fill="#1010f0"/>
<ellipse cx="530.9" cy="340.6" rx="3.0" ry="2.2" fill="#1010f0"/>
<ellipse cx="491.7" cy="379.0" rx="2.7" ry="2.9" fill="#1010f0"/>
<ellipse cx="545.9" cy="304.0" rx="2.4" ry="2.4" fill="#1010f0"/>
<ellipse cx="503.3" cy="303.5" rx="1.7" ry="3.3" fill="#1010f0"/>
<ellipse cx="535.1" cy="292.8" rx="3.0" ry="2.9" fill="#1010f0"/>
<ellipse cx="498.1" cy="310.2" rx="3.2" ry="2.7" fill="#1010f0"/>
<ellipse cx="530.1" cy="281.9" rx="3.2" ry="2.5" fill="#1010f0"/>
<ellipse cx="475.0" cy="312.4" rx="2.7" ry="3.9" fill="#1010f0"/>
<ellipse cx="492.5" cy="277.7" rx="2.6" ry="2.3" fill="#1010f0"/>
<ellipse cx="460.4" cy="335.8" rx="2.9" ry="2.1" fill="#1010f0"/>
<ellipse cx="504.2" cy="356.5" rx="3.0" ry="2.8" fill="#1010f0"/>
<ellipse cx="556.5" cy="281.7" rx="2.9" ry="3.5" fill="#1010f0"/>
<ellipse cx="513.5" cy="282.3" rx="2.8" ry="2.2" fill="#1010f0"/>
<ellipse cx="543.6" cy="289.1" rx="1.5" ry="2.4" fill="#1010f0"/>
<ellipse cx="504.8" cy="336.3" rx="2.3" ry="2.3" fill="#1010f0"/>
<ellipse cx="512.8" cy="333.2" rx="3.3" ry="2.1" fill="#1010f0"/>
<ellipse cx="527.1" cy="333.9" rx="2.1" ry="3.4" fill="#1010f0"/>
<ellipse cx="536.5" cy="272.4" rx="2.9" ry="2.9" fill="#1010f0"/>
<ellipse cx="508.8" cy="347.1" rx="1.6" ry="3.2" fill="#1010f0"/>
<ellipse cx="494.8" cy="381.0" rx="2.0" ry="3.6" fill="#1010f0"/>
<ellipse cx="521.6" cy="343.9" rx="2.9" ry="2.8" fill="#1010f0"/>
<ellipse cx="523.0" cy="283.4" rx="1.6" ry="2.7" fill="#1010f0"/>
<ellipse cx="506.4" cy="333.0" rx="1.6" ry="3.6" fill="#1010f0"/>
<ellipse cx="490.1" cy="367.6" rx="1.5" ry="3.9" fill="#1010f0"/>
<ellipse cx="462.7" cy="306.8" rx="2.0" ry="3.6" fill="#1010f0"/>
<ellipse cx="473.1" cy="289.0" rx="1.7" ry="2.2" fill="#1010f0"/>
<ellipse cx="494.7" cy="361.7" rx="2.4" ry="3.0" fill="#1010f0"/>
<ellipse cx="494.3" cy="346.9" rx="2.0" ry="2.5" fill="#1010f0"/>
<ellipse cx="512.1" cy="285.6" rx="2.4" ry="3.9" fill="#1010f0"/>
<ellipse cx="480.1" cy="377.2" rx="2.7" ry="2.4" fill="#1010f0"/>
<ellipse cx="486.0" cy="370.0" rx="3.5" ry="3.6" fill="#1010f0"/>
<ellipse cx="488.1" cy="292.6" rx="2.7" ry="3.0" fill="#1010f0"/>
<ellipse cx="491.6" cy="375.2" rx="2.3" ry="2.4" fill="#1010f0"/>
<ellipse cx="483.2" cy="322.6" rx="2.7" ry="3.1" fill="#1010f0"/>
<ellipse cx="502.8" cy="284.1" rx="2.3" ry="2.7" fill="#1010f0"/>
<ellipse cx="470.5" cy="334.1" rx="1.9" ry="3.4" fill="#1010f0"/>
<ellipse cx="529.1" cy="277.3" rx="2.8" ry="2.7" fill="#1010f0"/>
<ellipse cx="503.6" cy="342.9" rx="3.0" ry="3.8" fill="#1010f0"/>
<ellipse cx="538.0" cy="287.6" rx="2.6" ry="2.7" fill="#1010f0"/>
<ellipse cx="506.5" cy="379.4" rx="2.1" ry="3.7" fill="#1010f0"/>
<ellipse cx="511.7" cy="271.9" rx="2.9" ry="2.6" fill="#1010f0"/>
<ellipse cx="514.0" cy="268.0" rx="1.5" ry="3.8" fill="#1010f0"/>
<ellipse cx="527.9" cy="313.4" rx="3.3" ry="3.0" fill="#1010f0"/>
<ellipse cx="466.2" cy="354.6" rx="2.2" ry="2.5" fill="#1010f0"/>
<ellipse cx="488.5" cy="311.9" rx="1.9" ry="3.2" fill="#1010f0"/>
<ellipse cx="482.7" cy="278.1" rx="2.4" ry="3.4" fill="#1010f0"/>
<ellipse cx="477.8" cy="304.3" rx="3.0" ry="2.7" fill="#1010f0"/>
<ellipse cx="522.1" cy="334.4" rx="3.4" ry="2.1" fill="#1010f0"/>
<ellipse cx="472.4" cy="367.0" rx="2.8" ry="2.2" fill="#1010f0"/>
<ellipse cx="476.0" cy="286.4" rx="2.9" ry="2.8" fill="#1010f0"/>
<ellipse cx="509.5" cy="266.5" rx="3.1" ry="2.8" fill="#1010f0"/>
<ellipse cx="505.6" cy="346.5" rx="3.4" ry="3.1" fill="#1010f0"/>
<ellipse cx="460.2" cy="307.6" rx="3.3" ry="3.5" fill="#1010f0"/>
<ellipse cx="514.8" cy="351.9" rx="3.4" ry="2.3" fill="#1010f0"/>
<ellipse cx="519.7" cy="286.0" rx="3.2" ry="2.6" fill="#1010f0"/>
<ellipse cx="465.6" cy="299.7" rx="1.6" ry="2.8" fill="#1010f0"/>
<ellipse cx="543.5" cy="321.6" rx="3.4" ry="2.1" fill="#1010f0"/>
<ellipse cx="518.9" cy="286.0" rx="2.8" ry="3.0" fill="#1010f0"/>
<ellipse cx="468.3" cy="311.1" rx="3.4" ry="2.8" fill="#1010f0"/>
<ellipse cx="484.3" cy="325.5" rx="1.9" ry="3.7" fill="#1010f0"/>
<ellipse cx="526.3" cy="271.2" rx="3.4" ry="3.0" fill="#1010f0"/>
<ellipse cx="480.4" cy="343.8" rx="3.4" ry="2.7" fill="#1010f0"/>
<ellipse cx="457.0" cy="332.0" rx="2.1" ry="3.7" fill="#1010f0"/>
<ellipse cx="505.8" cy="275.3" rx="2.1" ry="2.5" fill="#1010f0"/>
<ellipse cx="548.9" cy="257.8" rx="2.1" ry="1.7" fill="#1010f0"/>
<ellipse cx="571.9" cy="242.2" rx="2.1" ry="2.0" fill="#1010f0"/>
<ellipse cx="575.5" cy="243.9" rx="1.7" ry="2.2" fill="#1010f0"/>
<ellipse cx="565.4" cy="268.3" rx="1.4" ry="2.1" fill="#1010f0"/>
<ellipse cx="555.6" cy="248.9" rx="1.3" ry="2.3" fill="#1010f0"/>
<ellipse cx="566.6" cy="263.4" rx="1.1" ry="2.4" fill="#1010f0"/>
<ellipse cx="553.0" cy="248.6" rx="1.1" ry="2.5" fill="#1010f0"/>
<ellipse cx="560.4" cy="273.7" rx="1.2" ry="2.1" fill="#1010f0"/>
<ellipse cx="589.0" cy="234.4" rx="1.4" ry="1.2" fill="#1010f0"/>
<ellipse cx="545.9" cy="254.9" rx="1.2" ry="2.1" fill="#1010f0"/>
<ellipse cx="559.0" cy="239.7" rx="2.2" ry="1.5" fill="#1010f0"/>
<ellipse cx="547.2" cy="263.2" rx="2.1" ry="1.5" fill="#1010f0"/>
<ellipse cx="563.6" cy="258.7" rx="1.6" ry="2.3" fill="#1010f0"/>
<ellipse cx="572.2" cy="241.7" rx="1.8" ry="2.3" fill="#1010f0"/>
<ellipse cx="563.2" cy="255.5" rx="1.8" ry="1.9" fill="#1010f0"/>
<ellipse cx="544.4" cy="246.4" rx="1.9" ry="2.2" fill="#1010f0"/>
<ellipse cx="543.7" cy="249.9" rx="1.7" ry="1.9" fill="#1010f0"/>
<ellipse cx="547.5" cy="258.3" rx="1.8" ry="1.9" fill="#1010f0"/>
<ellipse cx="587.0" cy="254.9" rx="1.3" ry="2.2" fill="#1010f0"/>
<ellipse cx="578.2" cy="234.5" rx="2.0" ry="1.9" fill="#1010f0"/>
<ellipse cx="562.1" cy="251.9" rx="1.9" ry="1.7" fill="#1010f0"/>
<ellipse cx="574.8" cy="241.9" rx="1.6" ry="2.4" fill="#1010f0"/>
<ellipse cx="556.3" cy="261.0" rx="2.1" ry="2.5" fill="#1010f0"/>
<ellipse cx="552.8" cy="265.7" rx="1.7" ry="2.3" fill="#1010f0"/>
<ellipse cx="543.5" cy="246.6" rx="1.5" ry="2.3" fill="#1010f0"/>
<ellipse cx="554.4" cy="250.1" rx="1.3" ry="1.3" fill="#1010f0"/>
<ellipse cx="551.1" cy="261.4" rx="2.2" ry="2.2" fill="#1010f0"/>
<ellipse cx="564.7" cy="252.9" rx="1.5" ry="2.2" fill="#1010f0"/>
<ellipse cx="553.5" cy="238.3" rx="1.8" ry="1.6" fill="#1010f0"/>
<ellipse cx="565.0" cy="256.0" rx="2.0" ry="1.7" fill="#1010f0"/>
<ellipse cx="567.3" cy="266.7" rx="1.2" ry="1.7" fill="#1010f0"/>
<ellipse cx="563.2" cy="244.4" rx="1.3" ry="1.8" fill="#1010f0"/>
<ellipse cx="552.8" cy="255.1" rx="1.2" ry="1.3" fill="#1010f0"/>
<ellipse cx="546.4" cy="261.7" rx="1.8" ry="2.0" fill="#1010f0"/>
<ellipse cx="563.9" cy="246.8" rx="1.3" ry="2.1" fill="#1010f0"/>
<ellipse cx="547.5" cy="249.8" rx="1.3" ry="1.7" fill="#1010f0"/>
<ellipse cx="548.2" cy="242.9" rx="1.0" ry="1.5" fill="#1010f0"/>
<ellipse cx="549.5" cy="266.3" rx="1.8" ry="2.0" fill="#1010f0"/>
<ellipse cx="549.2" cy="254.7" rx="1.3" ry="1.7" fill="#1010f0"/>
<ellipse cx="577.3" cy="233.2" rx="1.8" ry="2.4" fill="#1010f0"/>
<ellipse cx="569.0" cy="247.3" rx="1.9" ry="1.7" fill="#1010f0"/>
<ellipse cx="555.9" cy="262.4" rx="1.5" ry="1.9" fill="#1010f0"/>
<ellipse cx="563.6" cy="236.4" rx="1.5" ry="1.9" fill="#1010f0"/>
<ellipse cx="561.3" cy="263.2" rx="1.4" ry="2.1" fill="#1010f0"/>
<ellipse cx="546.0" cy="239.8" rx="1.5" ry="2.5" fill="#1010f0"/>
<ellipse cx="547.6" cy="229.5" rx="1.1" ry="2.2" fill="#1010f0"/>
<ellipse cx="549.1" cy="262.4" rx="1.5" ry="1.3" fill="#1010f0"/>
<ellipse cx="553.4" cy="271.6" rx="1.5" ry="1.5" fill="#1010f0"/>
<ellipse cx="547.9" cy="235.0" rx="1.9" ry="1.8" fill="#1010f0"/>
<ellipse cx="557.8" cy="253.7" rx="1.9" ry="2.1" fill="#1010f0"/>
<ellipse cx="546.1" cy="245.1" rx="1.4" ry="1.7" fill="#1010f0"/>
<ellipse cx="571.6" cy="243.4" rx="1.6" ry="2.1" fill="#1010f0"/>
<ellipse cx="561.2" cy="241.5" rx="1.6" ry="2.5" fill="#1010f0"/>
<ellipse cx="559.4" cy="251.3" rx="1.4" ry="2.0" fill="#1010f0"/>
<ellipse cx="567.3" cy="235.1" rx="1.1" ry="2.3" fill="#1010f0"/>
<ellipse cx="545.1" cy="257.2" rx="1.7" ry="2.5" fill="#1010f0"/>
<ellipse cx="573.9" cy="254.7" rx="1.7" ry="2.5" fill="#1010f0"/>
<ellipse cx="573.1" cy="258.8" rx="1.5" ry="2.5" fill="#1010f0"/>
<ellipse cx="555.4" cy="231.0" rx="1.1" ry="2.3" fill="#1010f0"/>
<ellipse cx="551.3" cy="244.2" rx="1.3" ry="2.4" fill="#1010f0"/>
<ellipse cx="548.4" cy="237.0" rx="1.6" ry="1.2" fill="#1010f0"/>
<ellipse cx="558.1" cy="268.4" rx="1.1" ry="2.4" fill="#1010f0"/>
<ellipse cx="552.3" cy="251.7" rx="1.7" ry="2.1" fill="#1010f0"/>
<ellipse cx="567.1" cy="262.0" rx="1.1" ry="1.9" fill="#1010f0"/>
<ellipse cx="565.0" cy="257.0" rx="1.1" ry="2.2" fill="#1010f0"/>
<ellipse cx="544.1" cy="228.3" rx="2.2" ry="1.4" fill="#1010f0"/>
<ellipse cx="550.9" cy="256.0" rx="1.9" ry="2.1" fill="#1010f0"/>
<ellipse cx="567.0" cy="261.9" rx="1.0" ry="1.3" fill="#1010f0"/>
<ellipse cx="551.9" cy="248.6" rx="1.9" ry="1.2" fill="#1010f0"/>
<ellipse cx="550.3" cy="252.2" rx="1.4" ry="1.3" fill="#1010f0"/>
<ellipse cx="554.2" cy="227.3" rx="2.0" ry="1.6" fill="#1010f0"/>
<ellipse cx="572.9" cy="257.2" rx="1.2" ry="2.3" fill="#1010f0"/>
<ellipse cx="558.0" cy="235.2" rx="2.0" ry="2.0" fill="#1010f0"/>
<ellipse cx="562.9" cy="250.8" rx="1.6" ry="2.0" fill="#1010f0"/>
<ellipse cx="547.6" cy="262.0" rx="1.3" ry="1.2" fill="#1010f0"/>
<ellipse cx="552.1" cy="236.8" rx="2.1" ry="2.2" fill="#1010f0"/>
<ellipse cx="578.4" cy="248.9" rx="1.9" ry="2.5" fill="#1010f0"/>
<ellipse cx="555.9" cy="257.3" rx="1.2" ry="2.5" fill="#1010f0"/>
<ellipse cx="573.8" cy="247.8" rx="1.7" ry="2.5" fill="#1010f0"/>
<ellipse cx="574.1" cy="249.7" rx="2.2" ry="2.1" fill="#1010f0"/>
<ellipse cx="549.9" cy="258.6" rx="1.9" ry="1.8" fill="#1010f0"/>
<ellipse cx="553.6" cy="252.7" rx="1.0" ry="2.6" fill="#1010f0"/>
<ellipse cx="548.7" cy="233.6" rx="2.0" ry="1.5" fill="#1010f0"/>
<ellipse cx="568.7" cy="258.6" rx="1.2" ry="1.3" fill="#1010f0"/>
<ellipse cx="545.2" cy="242.7" rx="1.5" ry="1.2" fill="#1010f0"/>
<ellipse cx="572.6" cy="269.7" rx="1.1" ry="2.6" fill="#1010f0"/>
<ellipse cx="552.2" cy="244.8" rx="2.1" ry="2.1" fill="#1010f0"/>
<ellipse cx="546.2" cy="267.1" rx="1.4" ry="2.4" fill="#1010f0"/>
<ellipse cx="565.1" cy="269.1" rx="1.7" ry="1.7" fill="#1010f0"/>
<ellipse cx="566.1" cy="256.2" rx="1.8" ry="1.6" fill="#1010f0"/>
<ellipse cx="568.7" cy="242.8" rx="1.4" ry="1.6" fill="#1010f0"/>
<ellipse cx="544.6" cy="248.9" rx="1.6" ry="1.8" fill="#1010f0"/>
<ellipse cx="577.7" cy="251.3" rx="1.6" ry="1.5" fill="#1010f0"/>
<ellipse cx="569.8" cy="256.7" rx="2.1" ry="1.8" fill="#1010f0"/>
<ellipse cx="549.7" cy="251.2" rx="1.8" ry="2.5" fill="#1010f0"/>
<ellipse cx="571.5" cy="264.4" rx="1.7" ry="1.2" fill="#1010f0"/>
<ellipse cx="556.5" cy="231.9" rx="1.7" ry="1.6" fill="#1010f0"/>
<ellipse cx="570.5" cy="242.8" rx="1.1" ry="1.5" fill="#1010f0"/>
<ellipse cx="567.0" cy="249.1" rx="1.8" ry="2.5" fill="#1010f0"/>
<ellipse cx="571.6" cy="265.4" rx="1.4" ry="1.6" fill="#1010f0"/>
<ellipse cx="540.5" cy="252.7" rx="1.3" ry="1.8" fill="#1010f0"/>
<ellipse cx="558.7" cy="236.4" rx="1.5" ry="2.5" fill="#1010f0"/>
<ellipse cx="568.1" cy="259.1" rx="2.2" ry="2.1" fill="#1010f0"/>
<ellipse cx="556.8" cy="258.7" rx="1.1" ry="1.8" fill="#1010f0"/>
<ellipse cx="555.2" cy="256.9" rx="2.0" ry="1.6" fill="#1010f0"/>
<ellipse cx="561.0" cy="258.0" rx="2.1" ry="2.4" fill="#1010f0"/>
<ellipse cx="565.4" cy="239.0" rx="2.0" ry="2.4" fill="#1010f0"/>
<ellipse cx="559.7" cy="254.6" rx="1.4" ry="2.2" fill="#1010f0"/>
<ellipse cx="554.5" cy="247.7" rx="1.5" ry="2.5" fill="#1010f0"/>
<ellipse cx="555.1" cy="249.4" rx="1.5" ry="2.0" fill="#1010f0"/>
<ellipse cx="541.6" cy="255.7" rx="1.2" ry="1.6" fill="#1010f0"/>
<ellipse cx="565.6" cy="262.4" rx="1.0" ry="1.2" fill="#1010f0"/>
<ellipse cx="560.6" cy="237.5" rx="1.9" ry="2.3" fill="#1010f0"/>
<ellipse cx="552.0" cy="254.3" rx="1.2" ry="2.0" fill="#1010f0"/>
<ellipse cx="575.0" cy="257.6" rx="2.2" ry="1.7" fill="#1010f0"/>
<ellipse cx="561.2" cy="271.1" rx="2.0" ry="1.5" fill="#1010f0"/>
<ellipse cx="559.8" cy="264.7" rx="1.1" ry="2.3" fill="#1010f0"/>
<ellipse cx="567.6" cy="233.7" rx="2.1" ry="1.5" fill="#1010f0"/>
<ellipse cx="542.5" cy="248.5" rx="1.3" ry="2.4" fill="#1010f0"/>
<ellipse cx="562.0" cy="253.0" rx="2.2" ry="1.8" fill="#1010f0"/>
<ellipse cx="560.7" cy="265.5" rx="1.9" ry="1.7" fill="#1010f0"/>
<ellipse cx="552.8" cy="254.8" rx="1.5" ry="1.5" fill="#1010f0"/>
<ellipse cx="573.5" cy="248.3" rx="1.3" ry="1.9" fill="#1010f0"/>
<ellipse cx="560.1" cy="267.5" rx="2.2" ry="1.8" fill="#1010f0"/>
<ellipse cx="553.8" cy="262.5" rx="2.1" ry="2.6" fill="#1010f0"/>
<ellipse cx="563.6" cy="260.7" rx="1.3" ry="2.6" fill="#1010f0"/>
<ellipse cx="551.8" cy="264.3" rx="1.9" ry="2.4" fill="#1010f0"/>
<ellipse cx="558.5" cy="250.3" rx="1.0" ry="2.4" fill="#1010f0"/>
<ellipse cx="559.3" cy="249.8" rx="1.4" ry="1.6" fill="#1010f0"/>
<ellipse cx="566.1" cy="263.7" rx="1.6" ry="1.8" fill="#1010f0"/>
<ellipse cx="559.1" cy="272.9" rx="1.9" ry="2.2" fill="#1010f0"/>
<ellipse cx="574.7" cy="249.5" rx="1.1" ry="2.0" fill="#1010f0"/>
<ellipse cx="553.5" cy="226.6" rx="1.5" ry="1.5" fill="#1010f0"/>
<ellipse cx="548.9" cy="242.5" rx="1.9" ry="1.9" fill="#1010f0"/>
<ellipse cx="566.9" cy="252.5" rx="2.2" ry="1.5" fill="#1010f0"/>
<ellipse cx="553.5" cy="264.9" rx="2.0" ry="1.7" fill="#1010f0"/>
<ellipse cx="542.7" cy="250.9" rx="1.7" ry="2.4" fill="#1010f0"/>
<ellipse cx="568.7" cy="253.2" rx="1.9" ry="2.1" fill="#1010f0"/>
<ellipse cx="562.0" cy="253.1" rx="1.6" ry="2.3" fill="#1010f0"/>
<ellipse cx="548.2" cy="269.7" rx="1.2" ry="2.3" fill="#1010f0"/>
<ellipse cx="558.2" cy="244.2" rx="1.1" ry="2.0" fill="#1010f0"/>
<ellipse cx="573.4" cy="263.3" rx="2.0" ry="2.4" fill="#1010f0"/>
<ellipse cx="558.6" cy="237.5" rx="1.1" ry="2.2" fill="#1010f0"/>
<ellipse cx="550.7" cy="242.6" rx="2.1" ry="1.2" fill="#1010f0"/>
<ellipse cx="564.6" cy="244.2" rx="1.2" ry="2.0" fill="#1010f0"/>
<ellipse cx="555.7" cy="239.7" rx="2.0" ry="2.2" fill="#1010f0"/>
<ellipse cx="563.6" cy="251.2" rx="2.1" ry="1.9" fill="#1010f0"/>
<ellipse cx="585.0" cy="265.6" rx="2.0" ry="1.6" fill="#1010f0"/>
<ellipse cx="566.9" cy="251.5" rx="1.8" ry="1.3" fill="#1010f0"/>
<ellipse cx="566.2" cy="259.3" rx="1.3" ry="2.3" fill="#1010f0"/>
<ellipse cx="565.7" cy="248.7" rx="1.2" ry="1.4" fill="#1010f0"/>
<ellipse cx="557.8" cy="250.0" rx="2.1" ry="2.2" fill="#1010f0"/>
<ellipse cx="548.1" cy="237.9" rx="2.1" ry="1.2" fill="#1010f0"/>
<ellipse cx="549.4" cy="268.3" rx="1.6" ry="1.8" fill="#1010f0"/>
<ellipse cx="553.5" cy="243.0" rx="1.8" ry="1.6" fill="#1010f0"/>
<g fill="#1010f0"><ellipse cx="567.0" cy="263.0" rx="3.2" ry="3.3"/><ellipse cx="546.3" cy="258.6" rx="4.1" ry="4.5"/><ellipse cx="562.3" cy="242.5" rx="3.7" ry="4.8"/><ellipse cx="568.6" cy="252.0" rx="4.1" ry="4.7"/><ellipse cx="568.9" cy="260.2" rx="3.4" ry="3.8"/><ellipse cx="555.0" cy="260.7" rx="4.0" ry="4.3"/><ellipse cx="560.4" cy="243.7" rx="3.2" ry="3.4"/><ellipse cx="573.9" cy="250.8" rx="3.9" ry="4.1"/><ellipse cx="488.5" cy="271.1" rx="4.8" ry="6.0"/><ellipse cx="455.7" cy="330.8" rx="4.6" ry="5.1"/><ellipse cx="466.8" cy="311.9" rx="4.4" ry="5.1"/><ellipse cx="506.7" cy="315.1" rx="5.0" ry="6.4"/><ellipse cx="554.3" cy="313.3" rx="4.6" ry="5.3"/><ellipse cx="501.2" cy="298.3" rx="3.4" ry="3.7"/><ellipse cx="473.7" cy="381.5" rx="4.8" ry="6.0"/><ellipse cx="507.9" cy="326.7" rx="4.4" ry="5.5"/><ellipse cx="553.2" cy="303.3" rx="3.8" ry="4.8"/><ellipse cx="551.0" cy="317.5" rx="4.0" ry="4.4"/><ellipse cx="488.9" cy="287.2" rx="4.4" ry="5.5"/><ellipse cx="513.9" cy="300.5" rx="3.7" ry="4.2"/><ellipse cx="472.6" cy="317.7" rx="3.5" ry="4.3"/><ellipse cx="539.1" cy="274.7" rx="3.5" ry="3.9"/><ellipse cx="477.4" cy="384.0" rx="4.1" ry="4.2"/><ellipse cx="493.7" cy="350.5" rx="5.0" ry="5.6"/><ellipse cx="557.6" cy="285.7" rx="3.7" ry="4.5"/><ellipse cx="521.4" cy="314.5" rx="3.5" ry="4.0"/><ellipse cx="480.0" cy="382.4" rx="5.1" ry="6.3"/><ellipse cx="523.9" cy="276.0" rx="3.4" ry="3.8"/><ellipse cx="496.8" cy="355.8" rx="5.1" ry="5.9"/><ellipse cx="468.0" cy="366.0" rx="4.3" ry="5.3"/><ellipse cx="521.2" cy="329.1" rx="4.1" ry="4.8"/><ellipse cx="516.0" cy="366.8" rx="4.2" ry="5.4"/><ellipse cx="493.6" cy="384.3" rx="4.4" ry="5.3"/><ellipse cx="510.9" cy="355.8" rx="4.1" ry="5.0"/><ellipse cx="506.7" cy="305.3" rx="3.4" ry="3.4"/><ellipse cx="537.7" cy="266.6" rx="4.5" ry="4.6"/><ellipse cx="472.7" cy="322.1" rx="4.6" ry="5.7"/><ellipse cx="502.1" cy="330.4" rx="4.5" ry="4.5"/><ellipse cx="500.9" cy="327.1" rx="3.2" ry="3.7"/><ellipse cx="511.0" cy="357.0" rx="3.5" ry="4.3"/><ellipse cx="526.8" cy="308.1" rx="3.3" ry="4.1"/><ellipse cx="564.3" cy="296.0" rx="4.4" ry="5.2"/><ellipse cx="542.5" cy="318.6" rx="4.3" ry="4.4"/><ellipse cx="507.4" cy="371.5" rx="3.6" ry="4.0"/><ellipse cx="527.9" cy="273.4" rx="4.2" ry="5.5"/><ellipse cx="484.3" cy="360.0" rx="4.2" ry="4.8"/><ellipse cx="468.8" cy="339.8" rx="3.9" ry="4.1"/><ellipse cx="489.7" cy="381.9" rx="4.1" ry="4.7"/><ellipse cx="488.7" cy="360.5" rx="4.1" ry="4.2"/><ellipse cx="469.8" cy="379.1" rx="4.3" ry="5.5"/><ellipse cx="544.7" cy="302.8" rx="4.0" ry="4.5"/><ellipse cx="508.2" cy="296.6" rx="3.9" ry="4.2"/><ellipse cx="493.6" cy="351.0" rx="4.1" ry="4.2"/><ellipse cx="552.3" cy="286.2" rx="4.8" ry="5.4"/><ellipse cx="488.5" cy="315.8" rx="5.1" ry="6.3"/><ellipse cx="532.0" cy="304.6" rx="4.6" ry="4.9"/><ellipse cx="504.7" cy="371.0" rx="5.2" ry="6.2"/><ellipse cx="516.5" cy="319.5" rx="3.4" ry="4.1"/><ellipse cx="523.8" cy="268.9" rx="3.9" ry="4.3"/><ellipse cx="486.5" cy="302.8" rx="3.9" ry="4.0"/><ellipse cx="481.6" cy="297.8" rx="3.6" ry="4.3"/><ellipse cx="537.7" cy="295.0" rx="3.9" ry="4.7"/><ellipse cx="562.3" cy="278.2" rx="4.7" ry="5.2"/><ellipse cx="495.1" cy="285.5" rx="3.9" ry="4.7"/><ellipse cx="525.2" cy="289.6" rx="3.7" ry="4.2"/><ellipse cx="455.3" cy="338.8" rx="4.9" ry="5.1"/><ellipse cx="461.4" cy="361.2" rx="4.6" ry="5.9"/><ellipse cx="549.9" cy="302.2" rx="3.9" ry="4.0"/><ellipse cx="513.3" cy="347.4" rx="4.3" ry="5.1"/><ellipse cx="482.2" cy="392.4" rx="4.5" ry="4.5"/><ellipse cx="508.5" cy="288.5" rx="3.9" ry="4.3"/><ellipse cx="499.1" cy="331.7" rx="3.4" ry="3.9"/><ellipse cx="481.8" cy="393.8" rx="4.7" ry="5.1"/><ellipse cx="468.1" cy="294.8" rx="3.6" ry="3.8"/><ellipse cx="509.3" cy="366.0" rx="4.9" ry="6.6"/><ellipse cx="512.9" cy="346.9" rx="4.6" ry="5.9"/><ellipse cx="547.7" cy="277.5" rx="5.1" ry="5.7"/><ellipse cx="461.0" cy="346.4" rx="4.5" ry="5.4"/><ellipse cx="512.8" cy="353.8" rx="4.1" ry="4.8"/><ellipse cx="521.6" cy="340.2" rx="4.7" ry="6.1"/><ellipse cx="511.5" cy="267.9" rx="4.0" ry="4.4"/><ellipse cx="514.1" cy="326.4" rx="3.3" ry="3.7"/><ellipse cx="541.7" cy="285.1" rx="4.2" ry="4.6"/><ellipse cx="480.2" cy="295.6" rx="3.7" ry="4.5"/><ellipse cx="482.0" cy="385.6" rx="3.3" ry="4.3"/><ellipse cx="473.0" cy="381.8" rx="3.8" ry="4.0"/><ellipse cx="472.2" cy="301.4" rx="4.4" ry="5.3"/><ellipse cx="548.7" cy="286.1" rx="5.1" ry="5.6"/><ellipse cx="472.3" cy="356.8" rx="4.4" ry="5.1"/><ellipse cx="516.2" cy="355.1" rx="4.4" ry="4.9"/><ellipse cx="493.1" cy="281.8" rx="3.4" ry="3.7"/><ellipse cx="459.4" cy="344.7" rx="4.2" ry="5.4"/><ellipse cx="529.5" cy="319.9" rx="3.6" ry="4.3"/><ellipse cx="467.2" cy="293.2" rx="5.0" ry="6.4"/><ellipse cx="516.5" cy="274.2" rx="4.6" ry="6.0"/><ellipse cx="463.3" cy="319.5" rx="4.9" ry="5.2"/><ellipse cx="486.5" cy="299.3" rx="5.0" ry="5.0"/><ellipse cx="470.8" cy="303.1" rx="4.1" ry="4.8"/><ellipse cx="488.0" cy="331.9" rx="3.3" ry="3.6"/><ellipse cx="483.0" cy="370.8" rx="4.7" ry="6.2"/><ellipse cx="476.9" cy="338.8" rx="5.1" ry="6.4"/><ellipse cx="521.8" cy="321.4" rx="5.0" ry="6.4"/><ellipse cx="472.7" cy="374.4" rx="3.8" ry="4.8"/><ellipse cx="482.0" cy="343.2" rx="5.1" ry="5.4"/><ellipse cx="514.1" cy="284.6" rx="3.4" ry="3.4"/><ellipse cx="486.7" cy="287.4" rx="4.8" ry="4.9"/><ellipse cx="500.0" cy="265.3" rx="3.3" ry="4.0"/><ellipse cx="501.4" cy="293.0" rx="4.7" ry="5.7"/><ellipse cx="500.5" cy="314.1" rx="3.2" ry="3.7"/><ellipse cx="520.7" cy="341.1" rx="3.6" ry="4.1"/><ellipse cx="498.4" cy="304.7" rx="4.6" ry="4.9"/><ellipse cx="471.0" cy="347.2" rx="3.4" ry="4.4"/><ellipse cx="519.6" cy="274.7" rx="5.0" ry="5.9"/><ellipse cx="467.8" cy="328.8" rx="4.9" ry="5.3"/><ellipse cx="525.3" cy="303.2" rx="3.3" ry="3.8"/><ellipse cx="498.1" cy="316.8" rx="5.0" ry="6.5"/><ellipse cx="512.1" cy="359.5" rx="4.8" ry="5.4"/><ellipse cx="538.7" cy="273.6" rx="3.7" ry="4.0"/><ellipse cx="521.5" cy="271.1" rx="5.1" ry="6.1"/><ellipse cx="546.0" cy="313.8" rx="5.0" ry="6.1"/><ellipse cx="538.7" cy="319.7" rx="4.0" ry="4.9"/><ellipse cx="470.2" cy="301.2" rx="4.0" ry="4.6"/><ellipse cx="461.8" cy="300.5" rx="3.7" ry="4.7"/><ellipse cx="472.0" cy="304.7" rx="4.0" ry="4.4"/><ellipse cx="456.5" cy="319.6" rx="5.2" ry="5.3"/><ellipse cx="497.6" cy="285.3" rx="3.8" ry="4.7"/><ellipse cx="516.1" cy="360.5" rx="3.5" ry="4.0"/><ellipse cx="514.5" cy="284.5" rx="4.0" ry="4.5"/><ellipse cx="513.1" cy="303.4" rx="3.3" ry="3.4"/><ellipse cx="520.3" cy="274.9" rx="3.6" ry="4.2"/><ellipse cx="466.3" cy="330.3" rx="3.3" ry="3.6"/><ellipse cx="542.7" cy="309.1" rx="5.0" ry="6.3"/><ellipse cx="518.9" cy="300.1" rx="3.9" ry="4.9"/><ellipse cx="539.2" cy="329.7" rx="3.9" ry="4.5"/><ellipse cx="496.8" cy="392.5" rx="5.0" ry="5.8"/><ellipse cx="521.4" cy="263.1" rx="4.3" ry="4.6"/><ellipse cx="480.2" cy="357.2" rx="4.8" ry="5.8"/><ellipse cx="507.1" cy="372.2" rx="4.3" ry="4.9"/><ellipse cx="522.5" cy="277.7" rx="4.9" ry="6.4"/><ellipse cx="493.4" cy="328.3" rx="3.6" ry="4.1"/><ellipse cx="495.4" cy="390.4" rx="4.6" ry="4.9"/><ellipse cx="516.6" cy="351.8" rx="3.9" ry="5.2"/><ellipse cx="492.7" cy="394.8" rx="4.6" ry="5.0"/><ellipse cx="516.5" cy="322.8" rx="4.5" ry="5.7"/><ellipse cx="463.0" cy="361.6" rx="5.1" ry="5.3"/><ellipse cx="524.6" cy="324.8" rx="4.5" ry="4.9"/><ellipse cx="477.6" cy="353.8" rx="4.3" ry="4.4"/><ellipse cx="475.4" cy="335.8" rx="4.7" ry="6.1"/><ellipse cx="459.9" cy="321.7" rx="4.7" ry="5.5"/><ellipse cx="489.8" cy="284.3" rx="3.7" ry="4.4"/><ellipse cx="476.2" cy="361.8" rx="3.3" ry="4.2"/><ellipse cx="517.8" cy="327.7" rx="4.3" ry="5.5"/><ellipse cx="496.0" cy="293.4" rx="5.2" ry="6.9"/><ellipse cx="514.7" cy="339.0" rx="3.5" ry="3.6"/><ellipse cx="484.7" cy="318.7" rx="4.7" ry="5.3"/><ellipse cx="500.5" cy="268.4" rx="4.8" ry="5.6"/><ellipse cx="535.0" cy="286.6" rx="4.0" ry="4.6"/><ellipse cx="528.1" cy="270.6" rx="4.5" ry="5.4"/><ellipse cx="488.4" cy="306.1" rx="5.1" ry="5.3"/><ellipse cx="506.7" cy="271.6" rx="3.8" ry="5.0"/><ellipse cx="522.6" cy="281.7" rx="3.8" ry="4.5"/><ellipse cx="468.1" cy="297.2" rx="4.9" ry="5.2"/><ellipse cx="488.0" cy="310.1" rx="4.1" ry="4.1"/><ellipse cx="513.1" cy="280.3" rx="5.0" ry="6.1"/><ellipse cx="489.1" cy="344.2" rx="3.6" ry="4.6"/><ellipse cx="508.3" cy="320.5" rx="4.2" ry="4.6"/><ellipse cx="483.6" cy="389.3" rx="4.8" ry="5.8"/><ellipse cx="457.5" cy="344.0" rx="5.0" ry="5.0"/><ellipse cx="490.3" cy="393.4" rx="5.1" ry="5.6"/><ellipse cx="490.5" cy="285.2" rx="4.2" ry="5.1"/><ellipse cx="529.5" cy="275.3" rx="3.9" ry="4.5"/><ellipse cx="518.4" cy="344.9" rx="4.4" ry="5.7"/><ellipse cx="557.1" cy="297.6" rx="3.7" ry="4.3"/><ellipse cx="555.7" cy="302.3" rx="3.6" ry="4.0"/><ellipse cx="491.7" cy="378.0" rx="4.8" ry="4.9"/><ellipse cx="512.9" cy="369.0" rx="3.3" ry="3.5"/><ellipse cx="520.7" cy="309.1" rx="4.9" ry="5.8"/><ellipse cx="528.2" cy="264.2" rx="4.3" ry="4.9"/><ellipse cx="514.3" cy="289.9" rx="5.1" ry="5.7"/><ellipse cx="514.7" cy="325.9" rx="4.6" ry="5.2"/><ellipse cx="525.5" cy="264.9" rx="4.8" ry="4.8"/><ellipse cx="535.0" cy="280.6" rx="3.8" ry="4.5"/><ellipse cx="542.2" cy="273.1" rx="4.1" ry="4.8"/><ellipse cx="550.3" cy="298.1" rx="4.9" ry="5.5"/><ellipse cx="506.9" cy="313.5" rx="5.1" ry="5.9"/><ellipse cx="497.8" cy="310.5" rx="5.6" ry="6.6"/><ellipse cx="528.0" cy="331.9" rx="5.1" ry="6.5"/><ellipse cx="531.3" cy="308.6" rx="5.4" ry="6.7"/><ellipse cx="524.4" cy="275.7" rx="3.9" ry="4.4"/><ellipse cx="531.9" cy="313.0" rx="4.2" ry="4.4"/><ellipse cx="490.2" cy="316.5" rx="4.4" ry="4.5"/><ellipse cx="529.5" cy="296.4" rx="5.2" ry="6.6"/><ellipse cx="520.0" cy="275.0" rx="4.5" ry="5.8"/><ellipse cx="507.5" cy="275.1" rx="5.0" ry="5.2"/><ellipse cx="543.5" cy="308.0" rx="4.2" ry="5.3"/><ellipse cx="493.5" cy="315.4" rx="3.8" ry="3.9"/><ellipse cx="555.5" cy="294.3" rx="4.2" ry="5.2"/><ellipse cx="507.0" cy="333.2" rx="5.4" ry="5.7"/><ellipse cx="487.0" cy="288.6" rx="4.4" ry="5.5"/><ellipse cx="519.1" cy="294.8" rx="5.5" ry="5.5"/><ellipse cx="499.6" cy="336.0" rx="3.9" ry="4.5"/><ellipse cx="551.7" cy="304.1" rx="3.7" ry="4.3"/><ellipse cx="513.4" cy="305.1" rx="4.0" ry="4.3"/><ellipse cx="535.8" cy="269.6" rx="3.7" ry="4.8"/><ellipse cx="512.2" cy="287.8" rx="4.3" ry="5.2"/><ellipse cx="486.7" cy="310.3" rx="5.6" ry="6.5"/><ellipse cx="514.1" cy="291.2" rx="3.7" ry="4.2"/><ellipse cx="530.3" cy="268.4" rx="5.0" ry="5.1"/><ellipse cx="513.5" cy="319.4" rx="4.8" ry="5.9"/><ellipse cx="515.7" cy="308.6" rx="5.1" ry="6.6"/><ellipse cx="496.6" cy="292.5" rx="5.0" ry="5.0"/><ellipse cx="511.2" cy="289.3" rx="5.5" ry="6.1"/><ellipse cx="517.2" cy="332.6" rx="3.9" ry="4.6"/><ellipse cx="486.6" cy="272.4" rx="5.3" ry="5.6"/><ellipse cx="488.2" cy="282.0" rx="5.4" ry="5.6"/><ellipse cx="545.7" cy="288.5" rx="4.0" ry="4.3"/><ellipse cx="538.1" cy="313.6" rx="4.4" ry="4.7"/><ellipse cx="484.8" cy="304.8" rx="5.3" ry="5.5"/><ellipse cx="502.1" cy="299.6" rx="4.9" ry="5.0"/><ellipse cx="492.9" cy="323.0" rx="4.6" ry="6.2"/><ellipse cx="499.1" cy="293.2" rx="4.3" ry="5.3"/><ellipse cx="497.5" cy="313.5" rx="4.0" ry="4.4"/><ellipse cx="511.5" cy="324.5" rx="5.1" ry="6.1"/><ellipse cx="504.2" cy="278.7" rx="4.4" ry="5.6"/><ellipse cx="541.2" cy="288.3" rx="3.6" ry="4.2"/><ellipse cx="521.3" cy="275.6" rx="5.2" ry="6.2"/><ellipse cx="496.4" cy="322.3" rx="4.8" ry="6.0"/><ellipse cx="501.0" cy="336.2" rx="5.1" ry="5.6"/><ellipse cx="527.3" cy="279.8" rx="4.5" ry="5.5"/><ellipse cx="544.5" cy="317.4" rx="4.3" ry="4.6"/><ellipse cx="530.2" cy="318.0" rx="5.0" ry="6.4"/><ellipse cx="526.8" cy="276.3" rx="4.2" ry="4.5"/><ellipse cx="538.9" cy="320.7" rx="3.6" ry="4.3"/><ellipse cx="525.4" cy="286.7" rx="5.2" ry="5.6"/><ellipse cx="538.5" cy="283.5" rx="4.8" ry="5.5"/><ellipse cx="505.6" cy="325.3" rx="4.5" ry="6.0"/><ellipse cx="493.9" cy="306.1" rx="4.1" ry="5.3"/><ellipse cx="538.4" cy="295.1" rx="4.1" ry="4.4"/><ellipse cx="491.1" cy="312.5" rx="5.5" ry="6.0"/><ellipse cx="523.3" cy="288.1" rx="5.0" ry="6.2"/><ellipse cx="547.8" cy="309.8" rx="5.4" ry="5.5"/><ellipse cx="540.7" cy="269.4" rx="4.5" ry="4.6"/><ellipse cx="533.0" cy="289.1" rx="4.4" ry="5.7"/><ellipse cx="515.9" cy="295.8" rx="4.2" ry="4.2"/><ellipse cx="493.1" cy="323.0" rx="4.6" ry="4.6"/><ellipse cx="547.7" cy="276.0" rx="4.1" ry="4.6"/><ellipse cx="545.7" cy="317.0" rx="4.0" ry="4.4"/><ellipse cx="511.2" cy="279.1" rx="5.1" ry="5.6"/><ellipse cx="535.6" cy="240.9" rx="4.0" ry="4.2"/><ellipse cx="534.5" cy="245.9" rx="4.0" ry="4.2"/><ellipse cx="535.4" cy="250.9" rx="4.0" ry="4.2"/><ellipse cx="535.7" cy="255.9" rx="4.0" ry="4.2"/><ellipse cx="537.3" cy="260.9" rx="4.0" ry="4.2"/><ellipse cx="538.0" cy="265.9" rx="4.0" ry="4.2"/><ellipse cx="537.7" cy="270.9" rx="4.0" ry="4.2"/><ellipse cx="537.5" cy="275.9" rx="4.0" ry="4.2"/><ellipse cx="538.4" cy="280.9" rx="4.0" ry="4.2"/><ellipse cx="525.4" cy="187.8" rx="3.2" ry="3.2"/><ellipse cx="472.7" cy="244.8" rx="3.2" ry="3.2"/><ellipse cx="467.4" cy="238.1" rx="3.4" ry="4.2"/><ellipse cx="521.6" cy="249.7" rx="2.7" ry="3.4"/><ellipse cx="519.7" cy="251.6" rx="3.4" ry="3.8"/><ellipse cx="549.8" cy="199.7" rx="3.5" ry="3.5"/><ellipse cx="507.6" cy="187.7" rx="3.0" ry="3.8"/><ellipse cx="527.6" cy="203.3" rx="3.4" ry="4.1"/><ellipse cx="489.4" cy="194.2" rx="2.8" ry="3.1"/><ellipse cx="489.5" cy="206.2" rx="2.8" ry="3.0"/><ellipse cx="535.0" cy="208.7" rx="3.5" ry="4.0"/><ellipse cx="500.3" cy="211.3" rx="3.5" ry="3.7"/><ellipse cx="483.9" cy="227.3" rx="3.2" ry="3.4"/><ellipse cx="534.6" cy="214.9" rx="3.3" ry="3.5"/><ellipse cx="508.3" cy="254.3" rx="3.0" ry="3.7"/><ellipse cx="501.7" cy="210.2" rx="3.3" ry="4.2"/><ellipse cx="523.8" cy="255.4" rx="3.4" ry="3.8"/><ellipse cx="554.6" cy="197.9" rx="3.1" ry="3.4"/><ellipse cx="528.8" cy="242.9" rx="2.7" ry="2.8"/><ellipse cx="495.4" cy="227.3" rx="2.8" ry="3.2"/><ellipse cx="485.3" cy="226.6" rx="3.4" ry="3.5"/><ellipse cx="522.9" cy="216.3" rx="3.0" ry="3.0"/><ellipse cx="471.6" cy="254.5" rx="3.5" ry="3.7"/><ellipse cx="535.6" cy="204.4" rx="2.8" ry="3.0"/><ellipse cx="546.1" cy="212.4" rx="2.8" ry="3.3"/><ellipse cx="525.9" cy="233.2" rx="3.4" ry="4.2"/><ellipse cx="457.9" cy="251.3" rx="3.6" ry="4.5"/><ellipse cx="529.6" cy="254.8" rx="3.4" ry="3.5"/><ellipse cx="503.8" cy="189.1" rx="3.3" ry="3.9"/><ellipse cx="501.4" cy="231.5" rx="3.1" ry="3.1"/><ellipse cx="483.6" cy="242.8" rx="3.0" ry="3.8"/><ellipse cx="539.6" cy="209.2" rx="2.8" ry="3.4"/><ellipse cx="536.5" cy="190.2" rx="2.9" ry="3.5"/><ellipse cx="471.9" cy="223.6" rx="3.2" ry="3.5"/><ellipse cx="520.4" cy="248.8" rx="3.5" ry="3.5"/><ellipse cx="559.5" cy="219.5" rx="3.4" ry="3.8"/><ellipse cx="487.9" cy="234.3" rx="3.5" ry="4.0"/><ellipse cx="560.9" cy="226.2" rx="3.4" ry="4.2"/><ellipse cx="557.5" cy="168.4" rx="3.3" ry="3.8"/><ellipse cx="464.5" cy="179.8" rx="3.3" ry="3.8"/><ellipse cx="496.7" cy="179.8" rx="3.3" ry="3.8"/><ellipse cx="509.3" cy="185.5" rx="3.3" ry="3.8"/><ellipse cx="532.8" cy="187.4" rx="3.3" ry="3.8"/><ellipse cx="544.2" cy="182.4" rx="3.3" ry="3.8"/><ellipse cx="504.3" cy="200.6" rx="3.3" ry="3.8"/><ellipse cx="485.4" cy="206.3" rx="3.3" ry="3.8"/><ellipse cx="485.4" cy="215.8" rx="3.3" ry="3.8"/><ellipse cx="517.6" cy="206.3" rx="3.3" ry="3.8"/><ellipse cx="527.1" cy="207.5" rx="3.3" ry="3.8"/><ellipse cx="536.6" cy="198.7" rx="3.3" ry="3.8"/><ellipse cx="549.9" cy="207.5" rx="3.3" ry="3.8"/><ellipse cx="561.3" cy="203.7" rx="3.3" ry="3.8"/><ellipse cx="536.6" cy="213.9" rx="3.3" ry="3.8"/><ellipse cx="560.1" cy="213.9" rx="3.3" ry="3.8"/><ellipse cx="603.0" cy="210.1" rx="3.3" ry="3.8"/><ellipse cx="606.8" cy="206.3" rx="3.3" ry="3.8"/><ellipse cx="591.6" cy="221.5" rx="3.3" ry="3.8"/><ellipse cx="580.2" cy="231.0" rx="3.3" ry="3.8"/><ellipse cx="508.1" cy="219.6" rx="3.3" ry="3.8"/><ellipse cx="515.7" cy="217.7" rx="3.3" ry="3.8"/><ellipse cx="525.2" cy="217.7" rx="3.3" ry="3.8"/><ellipse cx="475.9" cy="225.3" rx="3.3" ry="3.8"/><ellipse cx="485.4" cy="227.2" rx="3.3" ry="3.8"/><ellipse cx="500.5" cy="229.1" rx="3.3" ry="3.8"/><ellipse cx="513.8" cy="232.9" rx="3.3" ry="3.8"/><ellipse cx="527.1" cy="232.9" rx="3.3" ry="3.8"/><ellipse cx="445.5" cy="248.1" rx="3.3" ry="3.8"/><ellipse cx="474.0" cy="240.5" rx="3.3" ry="3.8"/><ellipse cx="485.4" cy="248.1" rx="3.3" ry="3.8"/><ellipse cx="462.6" cy="255.7" rx="3.3" ry="3.8"/><ellipse cx="447.4" cy="259.5" rx="3.3" ry="3.8"/><ellipse cx="496.7" cy="251.9" rx="3.3" ry="3.8"/><ellipse cx="508.1" cy="255.7" rx="3.3" ry="3.8"/><ellipse cx="515.7" cy="250.0" rx="3.3" ry="3.8"/><ellipse cx="474.0" cy="261.4" rx="3.3" ry="3.8"/><ellipse cx="447.4" cy="267.1" rx="3.3" ry="3.8"/><ellipse cx="568.8" cy="280.3" rx="3.3" ry="3.8"/><ellipse cx="584.0" cy="263.3" rx="3.3" ry="3.8"/><ellipse cx="622.0" cy="274.6" rx="2.3" ry="2.8"/><ellipse cx="623.9" cy="279.6" rx="3.0" ry="3.4"/><ellipse cx="566.2" cy="295.5" rx="3.3" ry="3.8"/><ellipse cx="567.0" cy="314.5" rx="3.3" ry="3.8"/><ellipse cx="580.2" cy="306.9" rx="3.3" ry="3.8"/><ellipse cx="587.8" cy="303.1" rx="3.3" ry="3.8"/><ellipse cx="579.5" cy="322.1" rx="3.3" ry="3.8"/><ellipse cx="559.4" cy="322.1" rx="3.3" ry="3.8"/><ellipse cx="538.5" cy="333.5" rx="3.3" ry="3.8"/><ellipse cx="551.8" cy="339.2" rx="3.3" ry="3.8"/><ellipse cx="561.3" cy="335.4" rx="3.3" ry="3.8"/><ellipse cx="568.8" cy="331.6" rx="3.3" ry="3.8"/><ellipse cx="595.4" cy="354.3" rx="4.0" ry="3.6"/><ellipse cx="613.6" cy="339.2" rx="3.2" ry="3.8"/><ellipse cx="577.6" cy="362.7" rx="3.3" ry="3.8"/><ellipse cx="559.4" cy="360.8" rx="3.3" ry="3.8"/><ellipse cx="530.9" cy="358.1" rx="3.3" ry="3.8"/><ellipse cx="439.8" cy="305.0" rx="3.3" ry="3.8"/><ellipse cx="447.4" cy="314.5" rx="3.3" ry="3.8"/><ellipse cx="451.2" cy="324.0" rx="3.3" ry="3.8"/><ellipse cx="437.9" cy="329.7" rx="3.3" ry="3.8"/><ellipse cx="455.0" cy="337.3" rx="3.3" ry="3.8"/><ellipse cx="447.4" cy="344.9" rx="3.3" ry="3.8"/><ellipse cx="443.6" cy="367.6" rx="3.3" ry="3.8"/><ellipse cx="451.2" cy="371.4" rx="3.3" ry="3.8"/><ellipse cx="428.4" cy="379.0" rx="2.8" ry="3.3"/><ellipse cx="439.8" cy="386.6" rx="3.3" ry="3.8"/><ellipse cx="428.4" cy="394.2" rx="2.8" ry="3.3"/><ellipse cx="463.7" cy="391.2" rx="3.3" ry="3.8"/><ellipse cx="377.2" cy="383.6" rx="3.0" ry="3.4"/><ellipse cx="394.3" cy="403.7" rx="3.0" ry="3.4"/><ellipse cx="477.8" cy="392.3" rx="3.3" ry="3.8"/><ellipse cx="485.4" cy="388.5" rx="3.3" ry="3.8"/><ellipse cx="504.3" cy="378.3" rx="3.3" ry="3.8"/><ellipse cx="517.6" cy="367.6" rx="3.3" ry="3.8"/><ellipse cx="457.5" cy="282.9" rx="3.3" ry="3.8"/><ellipse cx="452.5" cy="292.9" rx="3.3" ry="3.8"/><ellipse cx="468.5" cy="297.9" rx="3.3" ry="3.8"/><ellipse cx="462.5" cy="273.9" rx="3.3" ry="3.8"/><ellipse cx="475.5" cy="279.9" rx="3.3" ry="3.8"/><ellipse cx="568.5" cy="288.9" rx="3.3" ry="3.8"/><ellipse cx="575.5" cy="318.9" rx="3.3" ry="3.8"/><ellipse cx="548.5" cy="350.9" rx="3.3" ry="3.8"/><ellipse cx="540.5" cy="362.9" rx="3.3" ry="3.8"/><ellipse cx="500.5" cy="400.9" rx="3.3" ry="4.3"/><ellipse cx="490.5" cy="404.9" rx="3.3" ry="4.0"/><ellipse cx="558.5" cy="242.4" rx="3.3" ry="3.8"/><ellipse cx="568.8" cy="250.6" rx="3.3" ry="3.8"/><ellipse cx="554.5" cy="256.7" rx="3.3" ry="3.8"/><ellipse cx="562.5" cy="268.9" rx="3.3" ry="3.8"/></g>
<g fill="#f5200f"><ellipse cx="566.2" cy="262.2" rx="2.4" ry="2.5"/><ellipse cx="545.5" cy="257.8" rx="3.3" ry="3.7"/><ellipse cx="561.5" cy="241.7" rx="2.9" ry="4.0"/><ellipse cx="567.8" cy="251.2" rx="3.3" ry="3.9"/><ellipse cx="568.1" cy="259.4" rx="2.6" ry="3.0"/><ellipse cx="554.2" cy="259.9" rx="3.2" ry="3.5"/><ellipse cx="559.6" cy="242.9" rx="2.4" ry="2.6"/><ellipse cx="573.1" cy="250.0" rx="3.1" ry="3.3"/><ellipse cx="488.0" cy="270.2" rx="4.0" ry="5.2"/><ellipse cx="455.2" cy="329.9" rx="3.8" ry="4.3"/><ellipse cx="466.3" cy="311.0" rx="3.6" ry="4.3"/><ellipse cx="506.2" cy="314.2" rx="4.2" ry="5.6"/><ellipse cx="553.8" cy="312.4" rx="3.8" ry="4.5"/><ellipse cx="500.7" cy="297.4" rx="2.6" ry="2.9"/><ellipse cx="473.2" cy="380.6" rx="4.0" ry="5.2"/><ellipse cx="507.4" cy="325.8" rx="3.6" ry="4.7"/><ellipse cx="552.7" cy="302.4" rx="3.0" ry="4.0"/><ellipse cx="550.5" cy="316.6" rx="3.2" ry="3.6"/><ellipse cx="488.4" cy="286.3" rx="3.6" ry="4.7"/><ellipse cx="513.4" cy="299.6" rx="2.9" ry="3.4"/><ellipse cx="472.1" cy="316.8" rx="2.7" ry="3.5"/><ellipse cx="538.6" cy="273.8" rx="2.7" ry="3.1"/><ellipse cx="476.9" cy="383.1" rx="3.3" ry="3.4"/><ellipse cx="493.2" cy="349.6" rx="4.2" ry="4.8"/><ellipse cx="557.1" cy="284.8" rx="2.9" ry="3.7"/><ellipse cx="520.9" cy="313.6" rx="2.7" ry="3.2"/><ellipse cx="479.5" cy="381.5" rx="4.3" ry="5.5"/><ellipse cx="523.4" cy="275.1" rx="2.6" ry="3.0"/><ellipse cx="496.3" cy="354.9" rx="4.3" ry="5.1"/><ellipse cx="467.5" cy="365.1" rx="3.5" ry="4.5"/><ellipse cx="520.7" cy="328.2" rx="3.3" ry="4.0"/><ellipse cx="515.5" cy="365.9" rx="3.4" ry="4.6"/><ellipse cx="493.1" cy="383.4" rx="3.6" ry="4.5"/><ellipse cx="510.4" cy="354.9" rx="3.3" ry="4.2"/><ellipse cx="506.2" cy="304.4" rx="2.6" ry="2.6"/><ellipse cx="537.2" cy="265.7" rx="3.7" ry="3.8"/><ellipse cx="472.2" cy="321.2" rx="3.8" ry="4.9"/><ellipse cx="501.6" cy="329.5" rx="3.7" ry="3.7"/><ellipse cx="500.4" cy="326.2" rx="2.4" ry="2.9"/><ellipse cx="510.5" cy="356.1" rx="2.7" ry="3.5"/><ellipse cx="526.3" cy="307.2" rx="2.5" ry="3.3"/><ellipse cx="563.8" cy="295.1" rx="3.6" ry="4.4"/><ellipse cx="542.0" cy="317.7" rx="3.5" ry="3.6"/><ellipse cx="506.9" cy="370.6" rx="2.8" ry="3.2"/><ellipse cx="527.4" cy="272.5" rx="3.4" ry="4.7"/><ellipse cx="483.8" cy="359.1" rx="3.4" ry="4.0"/><ellipse cx="468.3" cy="338.9" rx="3.1" ry="3.3"/><ellipse cx="489.2" cy="381.0" rx="3.3" ry="3.9"/><ellipse cx="488.2" cy="359.6" rx="3.3" ry="3.4"/><ellipse cx="469.3" cy="378.2" rx="3.5" ry="4.7"/><ellipse cx="544.2" cy="301.9" rx="3.2" ry="3.7"/><ellipse cx="507.7" cy="295.7" rx="3.1" ry="3.4"/><ellipse cx="493.1" cy="350.1" rx="3.3" ry="3.4"/><ellipse cx="551.8" cy="285.3" rx="4.0" ry="4.6"/><ellipse cx="488.0" cy="314.9" rx="4.3" ry="5.5"/><ellipse cx="531.5" cy="303.7" rx="3.8" ry="4.1"/><ellipse cx="504.2" cy="370.1" rx="4.4" ry="5.4"/><ellipse cx="516.0" cy="318.6" rx="2.6" ry="3.3"/><ellipse cx="523.3" cy="268.0" rx="3.1" ry="3.5"/><ellipse cx="486.0" cy="301.9" rx="3.1" ry="3.2"/><ellipse cx="481.1" cy="296.9" rx="2.8" ry="3.5"/><ellipse cx="537.2" cy="294.1" rx="3.1" ry="3.9"/><ellipse cx="561.8" cy="277.3" rx="3.9" ry="4.4"/><ellipse cx="494.6" cy="284.6" rx="3.1" ry="3.9"/><ellipse cx="524.7" cy="288.7" rx="2.9" ry="3.4"/><ellipse cx="454.8" cy="337.9" rx="4.1" ry="4.3"/><ellipse cx="460.9" cy="360.3" rx="3.8" ry="5.1"/><ellipse cx="549.4" cy="301.3" rx="3.1" ry="3.2"/><ellipse cx="512.8" cy="346.5" rx="3.5" ry="4.3"/><ellipse cx="481.7" cy="391.5" rx="3.7" ry="3.7"/><ellipse cx="508.0" cy="287.6" rx="3.1" ry="3.5"/><ellipse cx="498.6" cy="330.8" rx="2.6" ry="3.1"/><ellipse cx="481.3" cy="392.9" rx="3.9" ry="4.3"/><ellipse cx="467.6" cy="293.9" rx="2.8" ry="3.0"/><ellipse cx="508.8" cy="365.1" rx="4.1" ry="5.8"/><ellipse cx="512.4" cy="346.0" rx="3.8" ry="5.1"/><ellipse cx="547.2" cy="276.6" rx="4.3" ry="4.9"/><ellipse cx="460.5" cy="345.5" rx="3.7" ry="4.6"/><ellipse cx="512.3" cy="352.9" rx="3.3" ry="4.0"/><ellipse cx="521.1" cy="339.3" rx="3.9" ry="5.3"/><ellipse cx="511.0" cy="267.0" rx="3.2" ry="3.6"/><ellipse cx="513.6" cy="325.5" rx="2.5" ry="2.9"/><ellipse cx="541.2" cy="284.2" rx="3.4" ry="3.8"/><ellipse cx="479.7" cy="294.7" rx="2.9" ry="3.7"/><ellipse cx="481.5" cy="384.7" rx="2.5" ry="3.5"/><ellipse cx="472.5" cy="380.9" rx="3.0" ry="3.2"/><ellipse cx="471.7" cy="300.5" rx="3.6" ry="4.5"/><ellipse cx="548.2" cy="285.2" rx="4.3" ry="4.8"/><ellipse cx="471.8" cy="355.9" rx="3.6" ry="4.3"/><ellipse cx="515.7" cy="354.2" rx="3.6" ry="4.1"/><ellipse cx="492.6" cy="280.9" rx="2.6" ry="2.9"/><ellipse cx="458.9" cy="343.8" rx="3.4" ry="4.6"/><ellipse cx="529.0" cy="319.0" rx="2.8" ry="3.5"/><ellipse cx="466.7" cy="292.3" rx="4.2" ry="5.6"/><ellipse cx="516.0" cy="273.3" rx="3.8" ry="5.2"/><ellipse cx="462.8" cy="318.6" rx="4.1" ry="4.4"/><ellipse cx="486.0" cy="298.4" rx="4.2" ry="4.2"/><ellipse cx="470.3" cy="302.2" rx="3.3" ry="4.0"/><ellipse cx="487.5" cy="331.0" rx="2.5" ry="2.8"/><ellipse cx="482.5" cy="369.9" rx="3.9" ry="5.4"/><ellipse cx="476.4" cy="337.9" rx="4.3" ry="5.6"/><ellipse cx="521.3" cy="320.5" rx="4.2" ry="5.6"/><ellipse cx="472.2" cy="373.5" rx="3.0" ry="4.0"/><ellipse cx="481.5" cy="342.3" rx="4.3" ry="4.6"/><ellipse cx="513.6" cy="283.7" rx="2.6" ry="2.6"/><ellipse cx="486.2" cy="286.5" rx="4.0" ry="4.1"/><ellipse cx="499.5" cy="264.4" rx="2.5" ry="3.2"/><ellipse cx="500.9" cy="292.1" rx="3.9" ry="4.9"/><ellipse cx="500.0" cy="313.2" rx="2.4" ry="2.9"/><ellipse cx="520.2" cy="340.2" rx="2.8" ry="3.3"/><ellipse cx="497.9" cy="303.8" rx="3.8" ry="4.1"/><ellipse cx="470.5" cy="346.3" rx="2.6" ry="3.6"/><ellipse cx="519.1" cy="273.8" rx="4.2" ry="5.1"/><ellipse cx="467.3" cy="327.9" rx="4.1" ry="4.5"/><ellipse cx="524.8" cy="302.3" rx="2.5" ry="3.0"/><ellipse cx="497.6" cy="315.9" rx="4.2" ry="5.7"/><ellipse cx="511.6" cy="358.6" rx="4.0" ry="4.6"/><ellipse cx="538.2" cy="272.7" rx="2.9" ry="3.2"/><ellipse cx="521.0" cy="270.2" rx="4.3" ry="5.3"/><ellipse cx="545.5" cy="312.9" rx="4.2" ry="5.3"/><ellipse cx="538.2" cy="318.8" rx="3.2" ry="4.1"/><ellipse cx="469.7" cy="300.3" rx="3.2" ry="3.8"/><ellipse cx="461.3" cy="299.6" rx="2.9" ry="3.9"/><ellipse cx="471.5" cy="303.8" rx="3.2" ry="3.6"/><ellipse cx="456.0" cy="318.7" rx="4.4" ry="4.5"/><ellipse cx="497.1" cy="284.4" rx="3.0" ry="3.9"/><ellipse cx="515.6" cy="359.6" rx="2.7" ry="3.2"/><ellipse cx="514.0" cy="283.6" rx="3.2" ry="3.7"/><ellipse cx="512.6" cy="302.5" rx="2.5" ry="2.6"/><ellipse cx="519.8" cy="274.0" rx="2.8" ry="3.4"/><ellipse cx="465.8" cy="329.4" rx="2.5" ry="2.8"/><ellipse cx="542.2" cy="308.2" rx="4.2" ry="5.5"/><ellipse cx="518.4" cy="299.2" rx="3.1" ry="4.1"/><ellipse cx="538.7" cy="328.8" rx="3.1" ry="3.7"/><ellipse cx="496.3" cy="391.6" rx="4.2" ry="5.0"/><ellipse cx="520.9" cy="262.2" rx="3.5" ry="3.8"/><ellipse cx="479.7" cy="356.3" rx="4.0" ry="5.0"/><ellipse cx="506.6" cy="371.3" rx="3.5" ry="4.1"/><ellipse cx="522.0" cy="276.8" rx="4.1" ry="5.6"/><ellipse cx="492.9" cy="327.4" rx="2.8" ry="3.3"/><ellipse cx="494.9" cy="389.5" rx="3.8" ry="4.1"/><ellipse cx="516.1" cy="350.9" rx="3.1" ry="4.4"/><ellipse cx="492.2" cy="393.9" rx="3.8" ry="4.2"/><ellipse cx="516.0" cy="321.9" rx="3.7" ry="4.9"/><ellipse cx="462.5" cy="360.7" rx="4.3" ry="4.5"/><ellipse cx="524.1" cy="323.9" rx="3.7" ry="4.1"/><ellipse cx="477.1" cy="352.9" rx="3.5" ry="3.6"/><ellipse cx="474.9" cy="334.9" rx="3.9" ry="5.3"/><ellipse cx="459.4" cy="320.8" rx="3.9" ry="4.7"/><ellipse cx="489.3" cy="283.4" rx="2.9" ry="3.6"/><ellipse cx="475.7" cy="360.9" rx="2.5" ry="3.4"/><ellipse cx="517.3" cy="326.8" rx="3.5" ry="4.7"/><ellipse cx="495.5" cy="292.5" rx="4.4" ry="6.1"/><ellipse cx="514.2" cy="338.1" rx="2.7" ry="2.8"/><ellipse cx="484.2" cy="317.8" rx="3.9" ry="4.5"/><ellipse cx="500.0" cy="267.5" rx="4.0" ry="4.8"/><ellipse cx="534.5" cy="285.7" rx="3.2" ry="3.8"/><ellipse cx="527.6" cy="269.7" rx="3.7" ry="4.6"/><ellipse cx="487.9" cy="305.2" rx="4.3" ry="4.5"/><ellipse cx="506.2" cy="270.7" rx="3.0" ry="4.2"/><ellipse cx="522.1" cy="280.8" rx="3.0" ry="3.7"/><ellipse cx="467.6" cy="296.3" rx="4.1" ry="4.4"/><ellipse cx="487.5" cy="309.2" rx="3.3" ry="3.3"/><ellipse cx="512.6" cy="279.4" rx="4.2" ry="5.3"/><ellipse cx="488.6" cy="343.3" rx="2.8" ry="3.8"/><ellipse cx="507.8" cy="319.6" rx="3.4" ry="3.8"/><ellipse cx="483.1" cy="388.4" rx="4.0" ry="5.0"/><ellipse cx="457.0" cy="343.1" rx="4.2" ry="4.2"/><ellipse cx="489.8" cy="392.5" rx="4.3" ry="4.8"/><ellipse cx="490.0" cy="284.3" rx="3.4" ry="4.3"/><ellipse cx="529.0" cy="274.4" rx="3.1" ry="3.7"/><ellipse cx="517.9" cy="344.0" rx="3.6" ry="4.9"/><ellipse cx="556.6" cy="296.7" rx="2.9" ry="3.5"/><ellipse cx="555.2" cy="301.4" rx="2.8" ry="3.2"/><ellipse cx="491.2" cy="377.1" rx="4.0" ry="4.1"/><ellipse cx="512.4" cy="368.1" rx="2.5" ry="2.7"/><ellipse cx="520.2" cy="308.2" rx="4.1" ry="5.0"/><ellipse cx="527.7" cy="263.3" rx="3.5" ry="4.1"/><ellipse cx="513.8" cy="289.0" rx="4.3" ry="4.9"/><ellipse cx="514.2" cy="325.0" rx="3.8" ry="4.4"/><ellipse cx="525.0" cy="264.0" rx="4.0" ry="4.0"/><ellipse cx="534.5" cy="279.7" rx="3.0" ry="3.7"/><ellipse cx="541.7" cy="272.2" rx="3.3" ry="4.0"/><ellipse cx="549.8" cy="297.2" rx="4.1" ry="4.7"/><ellipse cx="506.4" cy="312.6" rx="4.3" ry="5.1"/><ellipse cx="497.3" cy="309.6" rx="4.8" ry="5.8"/><ellipse cx="527.5" cy="331.0" rx="4.3" ry="5.7"/><ellipse cx="530.8" cy="307.7" rx="4.6" ry="5.9"/><ellipse cx="523.9" cy="274.8" rx="3.1" ry="3.6"/><ellipse cx="531.4" cy="312.1" rx="3.4" ry="3.6"/><ellipse cx="489.7" cy="315.6" rx="3.6" ry="3.7"/><ellipse cx="529.0" cy="295.5" rx="4.4" ry="5.8"/><ellipse cx="519.5" cy="274.1" rx="3.7" ry="5.0"/><ellipse cx="507.0" cy="274.2" rx="4.2" ry="4.4"/><ellipse cx="543.0" cy="307.1" rx="3.4" ry="4.5"/><ellipse cx="493.0" cy="314.5" rx="3.0" ry="3.1"/><ellipse cx="555.0" cy="293.4" rx="3.4" ry="4.4"/><ellipse cx="506.5" cy="332.3" rx="4.6" ry="4.9"/><ellipse cx="486.5" cy="287.7" rx="3.6" ry="4.7"/><ellipse cx="518.6" cy="293.9" rx="4.7" ry="4.7"/><ellipse cx="499.1" cy="335.1" rx="3.1" ry="3.7"/><ellipse cx="551.2" cy="303.2" rx="2.9" ry="3.5"/><ellipse cx="512.9" cy="304.2" rx="3.2" ry="3.5"/><ellipse cx="535.3" cy="268.7" rx="2.9" ry="4.0"/><ellipse cx="511.7" cy="286.9" rx="3.5" ry="4.4"/><ellipse cx="486.2" cy="309.4" rx="4.8" ry="5.7"/><ellipse cx="513.6" cy="290.3" rx="2.9" ry="3.4"/><ellipse cx="529.8" cy="267.5" rx="4.2" ry="4.3"/><ellipse cx="513.0" cy="318.5" rx="4.0" ry="5.1"/><ellipse cx="515.2" cy="307.7" rx="4.3" ry="5.8"/><ellipse cx="496.1" cy="291.6" rx="4.2" ry="4.2"/><ellipse cx="510.7" cy="288.4" rx="4.7" ry="5.3"/><ellipse cx="516.7" cy="331.7" rx="3.1" ry="3.8"/><ellipse cx="486.1" cy="271.5" rx="4.5" ry="4.8"/><ellipse cx="487.7" cy="281.1" rx="4.6" ry="4.8"/><ellipse cx="545.2" cy="287.6" rx="3.2" ry="3.5"/><ellipse cx="537.6" cy="312.7" rx="3.6" ry="3.9"/><ellipse cx="484.3" cy="303.9" rx="4.5" ry="4.7"/><ellipse cx="501.6" cy="298.7" rx="4.1" ry="4.2"/><ellipse cx="492.4" cy="322.1" rx="3.8" ry="5.4"/><ellipse cx="498.6" cy="292.3" rx="3.5" ry="4.5"/><ellipse cx="497.0" cy="312.6" rx="3.2" ry="3.6"/><ellipse cx="511.0" cy="323.6" rx="4.3" ry="5.3"/><ellipse cx="503.7" cy="277.8" rx="3.6" ry="4.8"/><ellipse cx="540.7" cy="287.4" rx="2.8" ry="3.4"/><ellipse cx="520.8" cy="274.7" rx="4.4" ry="5.4"/><ellipse cx="495.9" cy="321.4" rx="4.0" ry="5.2"/><ellipse cx="500.5" cy="335.3" rx="4.3" ry="4.8"/><ellipse cx="526.8" cy="278.9" rx="3.7" ry="4.7"/><ellipse cx="544.0" cy="316.5" rx="3.5" ry="3.8"/><ellipse cx="529.7" cy="317.1" rx="4.2" ry="5.6"/><ellipse cx="526.3" cy="275.4" rx="3.4" ry="3.7"/><ellipse cx="538.4" cy="319.8" rx="2.8" ry="3.5"/><ellipse cx="524.9" cy="285.8" rx="4.4" ry="4.8"/><ellipse cx="538.0" cy="282.6" rx="4.0" ry="4.7"/><ellipse cx="505.1" cy="324.4" rx="3.7" ry="5.2"/><ellipse cx="493.4" cy="305.2" rx="3.3" ry="4.5"/><ellipse cx="537.9" cy="294.2" rx="3.3" ry="3.6"/><ellipse cx="490.6" cy="311.6" rx="4.7" ry="5.2"/><ellipse cx="522.8" cy="287.2" rx="4.2" ry="5.4"/><ellipse cx="547.3" cy="308.9" rx="4.6" ry="4.7"/><ellipse cx="540.2" cy="268.5" rx="3.7" ry="3.8"/><ellipse cx="532.5" cy="288.2" rx="3.6" ry="4.9"/><ellipse cx="515.4" cy="294.9" rx="3.4" ry="3.4"/><ellipse cx="492.6" cy="322.1" rx="3.8" ry="3.8"/><ellipse cx="547.2" cy="275.1" rx="3.3" ry="3.8"/><ellipse cx="545.2" cy="316.1" rx="3.2" ry="3.6"/><ellipse cx="510.7" cy="278.2" rx="4.3" ry="4.8"/><ellipse cx="535.1" cy="240.0" rx="3.2" ry="3.4"/><ellipse cx="534.0" cy="245.0" rx="3.2" ry="3.4"/><ellipse cx="534.9" cy="250.0" rx="3.2" ry="3.4"/><ellipse cx="535.2" cy="255.0" rx="3.2" ry="3.4"/><ellipse cx="536.8" cy="260.0" rx="3.2" ry="3.4"/><ellipse cx="537.5" cy="265.0" rx="3.2" ry="3.4"/><ellipse cx="537.2" cy="270.0" rx="3.2" ry="3.4"/><ellipse cx="537.0" cy="275.0" rx="3.2" ry="3.4"/><ellipse cx="537.9" cy="280.0" rx="3.2" ry="3.4"/><ellipse cx="524.9" cy="186.9" rx="2.4" ry="2.4"/><ellipse cx="472.2" cy="243.9" rx="2.4" ry="2.4"/><ellipse cx="466.9" cy="237.2" rx="2.6" ry="3.4"/><ellipse cx="521.1" cy="248.8" rx="1.9" ry="2.6"/><ellipse cx="519.2" cy="250.7" rx="2.6" ry="3.0"/><ellipse cx="549.3" cy="198.8" rx="2.7" ry="2.7"/><ellipse cx="507.1" cy="186.8" rx="2.2" ry="3.0"/><ellipse cx="527.1" cy="202.4" rx="2.6" ry="3.3"/><ellipse cx="488.9" cy="193.3" rx="2.0" ry="2.3"/><ellipse cx="489.0" cy="205.3" rx="2.0" ry="2.2"/><ellipse cx="534.5" cy="207.8" rx="2.7" ry="3.2"/><ellipse cx="499.8" cy="210.4" rx="2.7" ry="2.9"/><ellipse cx="483.4" cy="226.4" rx="2.4" ry="2.6"/><ellipse cx="534.1" cy="214.0" rx="2.5" ry="2.7"/><ellipse cx="507.8" cy="253.4" rx="2.2" ry="2.9"/><ellipse cx="501.2" cy="209.3" rx="2.5" ry="3.4"/><ellipse cx="523.3" cy="254.5" rx="2.6" ry="3.0"/><ellipse cx="554.1" cy="197.0" rx="2.3" ry="2.6"/><ellipse cx="528.3" cy="242.0" rx="1.9" ry="2.0"/><ellipse cx="494.9" cy="226.4" rx="2.0" ry="2.4"/><ellipse cx="484.8" cy="225.7" rx="2.6" ry="2.7"/><ellipse cx="522.4" cy="215.4" rx="2.2" ry="2.2"/><ellipse cx="471.1" cy="253.6" rx="2.7" ry="2.9"/><ellipse cx="535.1" cy="203.5" rx="2.0" ry="2.2"/><ellipse cx="545.6" cy="211.5" rx="2.0" ry="2.5"/><ellipse cx="525.4" cy="232.3" rx="2.6" ry="3.4"/><ellipse cx="457.4" cy="250.4" rx="2.8" ry="3.7"/><ellipse cx="529.1" cy="253.9" rx="2.6" ry="2.7"/><ellipse cx="503.3" cy="188.2" rx="2.5" ry="3.1"/><ellipse cx="500.9" cy="230.6" rx="2.3" ry="2.3"/><ellipse cx="483.1" cy="241.9" rx="2.2" ry="3.0"/><ellipse cx="539.1" cy="208.3" rx="2.0" ry="2.6"/><ellipse cx="536.0" cy="189.3" rx="2.1" ry="2.7"/><ellipse cx="471.4" cy="222.7" rx="2.4" ry="2.7"/><ellipse cx="519.9" cy="247.9" rx="2.7" ry="2.7"/><ellipse cx="559.0" cy="218.6" rx="2.6" ry="3.0"/><ellipse cx="487.4" cy="233.4" rx="2.7" ry="3.2"/><ellipse cx="560.4" cy="225.3" rx="2.6" ry="3.4"/></g>
<g fill="#e08a3c"><ellipse cx="458.5" cy="253.5" rx="1.8" ry="2.5"/><ellipse cx="466.6" cy="243.2" rx="1.2" ry="1.7"/><ellipse cx="521.8" cy="187.8" rx="1.9" ry="2.6"/><ellipse cx="481.6" cy="206.4" rx="2.1" ry="2.2"/><ellipse cx="500.6" cy="265.1" rx="1.8" ry="1.9"/><ellipse cx="530.7" cy="231.8" rx="2.0" ry="2.2"/><ellipse cx="459.9" cy="261.8" rx="2.0" ry="2.1"/><ellipse cx="528.8" cy="203.3" rx="1.5" ry="1.9"/><ellipse cx="478.5" cy="224.1" rx="1.6" ry="2.2"/><ellipse cx="551.1" cy="209.8" rx="2.1" ry="2.4"/><ellipse cx="495.9" cy="187.6" rx="1.8" ry="2.1"/><ellipse cx="475.9" cy="255.6" rx="1.4" ry="1.6"/><ellipse cx="479.1" cy="254.1" rx="1.7" ry="1.8"/><ellipse cx="494.9" cy="224.6" rx="1.2" ry="1.7"/></g>
<g fill="#f5200f"><ellipse cx="557.0" cy="167.5" rx="2.5" ry="3.0"/><ellipse cx="464.0" cy="178.9" rx="2.5" ry="3.0"/><ellipse cx="496.2" cy="178.9" rx="2.5" ry="3.0"/><ellipse cx="508.8" cy="184.6" rx="2.5" ry="3.0"/><ellipse cx="532.3" cy="186.5" rx="2.5" ry="3.0"/><ellipse cx="543.7" cy="181.5" rx="2.5" ry="3.0"/><ellipse cx="503.8" cy="199.7" rx="2.5" ry="3.0"/><ellipse cx="484.9" cy="205.4" rx="2.5" ry="3.0"/><ellipse cx="484.9" cy="214.9" rx="2.5" ry="3.0"/><ellipse cx="517.1" cy="205.4" rx="2.5" ry="3.0"/><ellipse cx="526.6" cy="206.6" rx="2.5" ry="3.0"/><ellipse cx="536.1" cy="197.8" rx="2.5" ry="3.0"/><ellipse cx="549.4" cy="206.6" rx="2.5" ry="3.0"/><ellipse cx="560.8" cy="202.8" rx="2.5" ry="3.0"/><ellipse cx="536.1" cy="213.0" rx="2.5" ry="3.0"/><ellipse cx="559.6" cy="213.0" rx="2.5" ry="3.0"/><ellipse cx="602.5" cy="209.2" rx="2.5" ry="3.0"/><ellipse cx="606.3" cy="205.4" rx="2.5" ry="3.0"/><ellipse cx="591.1" cy="220.6" rx="2.5" ry="3.0"/><ellipse cx="579.7" cy="230.1" rx="2.5" ry="3.0"/><ellipse cx="507.6" cy="218.7" rx="2.5" ry="3.0"/><ellipse cx="515.2" cy="216.8" rx="2.5" ry="3.0"/><ellipse cx="524.7" cy="216.8" rx="2.5" ry="3.0"/><ellipse cx="475.4" cy="224.4" rx="2.5" ry="3.0"/><ellipse cx="484.9" cy="226.3" rx="2.5" ry="3.0"/><ellipse cx="500.0" cy="228.2" rx="2.5" ry="3.0"/><ellipse cx="513.3" cy="232.0" rx="2.5" ry="3.0"/><ellipse cx="526.6" cy="232.0" rx="2.5" ry="3.0"/><ellipse cx="445.0" cy="247.2" rx="2.5" ry="3.0"/><ellipse cx="473.5" cy="239.6" rx="2.5" ry="3.0"/><ellipse cx="484.9" cy="247.2" rx="2.5" ry="3.0"/><ellipse cx="462.1" cy="254.8" rx="2.5" ry="3.0"/><ellipse cx="446.9" cy="258.6" rx="2.5" ry="3.0"/><ellipse cx="496.2" cy="251.0" rx="2.5" ry="3.0"/><ellipse cx="507.6" cy="254.8" rx="2.5" ry="3.0"/><ellipse cx="515.2" cy="249.1" rx="2.5" ry="3.0"/><ellipse cx="473.5" cy="260.5" rx="2.5" ry="3.0"/><ellipse cx="446.9" cy="266.2" rx="2.5" ry="3.0"/><ellipse cx="568.3" cy="279.4" rx="2.5" ry="3.0"/><ellipse cx="583.5" cy="262.4" rx="2.5" ry="3.0"/><ellipse cx="621.5" cy="273.7" rx="1.5" ry="2.0"/><ellipse cx="623.4" cy="278.7" rx="2.2" ry="2.6"/><ellipse cx="565.7" cy="294.6" rx="2.5" ry="3.0"/><ellipse cx="566.5" cy="313.6" rx="2.5" ry="3.0"/><ellipse cx="579.7" cy="306.0" rx="2.5" ry="3.0"/><ellipse cx="587.3" cy="302.2" rx="2.5" ry="3.0"/><ellipse cx="579.0" cy="321.2" rx="2.5" ry="3.0"/><ellipse cx="558.9" cy="321.2" rx="2.5" ry="3.0"/><ellipse cx="538.0" cy="332.6" rx="2.5" ry="3.0"/><ellipse cx="551.3" cy="338.3" rx="2.5" ry="3.0"/><ellipse cx="560.8" cy="334.5" rx="2.5" ry="3.0"/><ellipse cx="568.3" cy="330.7" rx="2.5" ry="3.0"/><ellipse cx="594.9" cy="353.4" rx="3.2" ry="2.8"/><ellipse cx="613.1" cy="338.3" rx="2.4" ry="3.0"/><ellipse cx="577.1" cy="361.8" rx="2.5" ry="3.0"/><ellipse cx="558.9" cy="359.9" rx="2.5" ry="3.0"/><ellipse cx="530.4" cy="357.2" rx="2.5" ry="3.0"/><ellipse cx="439.3" cy="304.1" rx="2.5" ry="3.0"/><ellipse cx="446.9" cy="313.6" rx="2.5" ry="3.0"/><ellipse cx="450.7" cy="323.1" rx="2.5" ry="3.0"/><ellipse cx="437.4" cy="328.8" rx="2.5" ry="3.0"/><ellipse cx="454.5" cy="336.4" rx="2.5" ry="3.0"/><ellipse cx="446.9" cy="344.0" rx="2.5" ry="3.0"/><ellipse cx="443.1" cy="366.7" rx="2.5" ry="3.0"/><ellipse cx="450.7" cy="370.5" rx="2.5" ry="3.0"/><ellipse cx="427.9" cy="378.1" rx="2.0" ry="2.5"/><ellipse cx="439.3" cy="385.7" rx="2.5" ry="3.0"/><ellipse cx="427.9" cy="393.3" rx="2.0" ry="2.5"/><ellipse cx="463.2" cy="390.3" rx="2.5" ry="3.0"/><ellipse cx="376.7" cy="382.7" rx="2.2" ry="2.6"/><ellipse cx="393.8" cy="402.8" rx="2.2" ry="2.6"/><ellipse cx="477.3" cy="391.4" rx="2.5" ry="3.0"/><ellipse cx="484.9" cy="387.6" rx="2.5" ry="3.0"/><ellipse cx="503.8" cy="377.4" rx="2.5" ry="3.0"/><ellipse cx="517.1" cy="366.7" rx="2.5" ry="3.0"/><ellipse cx="457.0" cy="282.0" rx="2.5" ry="3.0"/><ellipse cx="452.0" cy="292.0" rx="2.5" ry="3.0"/><ellipse cx="468.0" cy="297.0" rx="2.5" ry="3.0"/><ellipse cx="462.0" cy="273.0" rx="2.5" ry="3.0"/><ellipse cx="475.0" cy="279.0" rx="2.5" ry="3.0"/><ellipse cx="568.0" cy="288.0" rx="2.5" ry="3.0"/><ellipse cx="575.0" cy="318.0" rx="2.5" ry="3.0"/><ellipse cx="548.0" cy="350.0" rx="2.5" ry="3.0"/><ellipse cx="540.0" cy="362.0" rx="2.5" ry="3.0"/><ellipse cx="500.0" cy="400.0" rx="2.5" ry="3.5"/><ellipse cx="490.0" cy="404.0" rx="2.5" ry="3.2"/><ellipse cx="558.0" cy="241.5" rx="2.5" ry="3.0"/><ellipse cx="568.3" cy="249.7" rx="2.5" ry="3.0"/><ellipse cx="554.0" cy="255.8" rx="2.5" ry="3.0"/><ellipse cx="562.0" cy="268.0" rx="2.5" ry="3.0"/></g>
<g fill="#e08a3c"><ellipse cx="496.0" cy="194.0" rx="1.6" ry="2.8"/><ellipse cx="484.0" cy="210.0" rx="1.6" ry="2.8"/><ellipse cx="470.0" cy="236.0" rx="1.6" ry="2.8"/><ellipse cx="452.0" cy="290.0" rx="1.6" ry="2.8"/><ellipse cx="470.0" cy="300.0" rx="1.6" ry="2.8"/><ellipse cx="545.0" cy="268.0" rx="1.6" ry="2.8"/><ellipse cx="553.0" cy="300.0" rx="1.6" ry="2.8"/><ellipse cx="466.0" cy="330.0" rx="1.6" ry="2.8"/><ellipse cx="470.0" cy="380.0" rx="1.6" ry="2.8"/><ellipse cx="498.0" cy="225.0" rx="1.6" ry="2.8"/><ellipse cx="508.0" cy="190.0" rx="1.6" ry="2.8"/><ellipse cx="462.0" cy="262.0" rx="1.6" ry="2.8"/></g>
<g fill="#000"><ellipse cx="480.0" cy="205.0" rx="1.4" ry="1.8"/><ellipse cx="511.0" cy="230.0" rx="1.4" ry="1.8"/><ellipse cx="505.0" cy="240.0" rx="1.4" ry="1.8"/><ellipse cx="463.0" cy="250.0" rx="1.4" ry="1.8"/><ellipse cx="478.0" cy="225.0" rx="1.4" ry="1.8"/><ellipse cx="495.0" cy="215.0" rx="1.4" ry="1.8"/><ellipse cx="569.0" cy="330.0" rx="1.4" ry="1.8"/><ellipse cx="568.0" cy="362.0" rx="1.4" ry="1.8"/></g>
<g fill="#7ff3f3"><ellipse cx="421.5" cy="410.4" rx="2.2" ry="2.8"/></g>
<g fill="#1010f0"><ellipse cx="532.3" cy="378.1" rx="1.0" ry="1.2"/><ellipse cx="528.5" cy="381.9" rx="1.0" ry="1.2"/></g>
<ellipse cx="538.6" cy="275.3" rx="1.2" ry="2.5" fill="#e08a3c"/>
<ellipse cx="486.9" cy="392.9" rx="1.0" ry="1.7" fill="#e08a3c"/>
<ellipse cx="497.1" cy="285.7" rx="1.1" ry="1.6" fill="#e08a3c"/>
<ellipse cx="551.9" cy="275.9" rx="1.1" ry="1.7" fill="#7ff3f3"/>
<ellipse cx="462.1" cy="320.9" rx="1.0" ry="1.7" fill="#7ff3f3"/>
<ellipse cx="474.8" cy="309.1" rx="1.1" ry="2.3" fill="#7ff3f3"/>
<ellipse cx="490.2" cy="337.0" rx="1.1" ry="2.6" fill="#7ff3f3"/>
<ellipse cx="508.0" cy="362.0" rx="1.2" ry="2.4" fill="#7ff3f3"/>
<ellipse cx="510.8" cy="317.6" rx="1.4" ry="1.9" fill="#e08a3c"/>
<ellipse cx="517.9" cy="289.4" rx="1.6" ry="1.8" fill="#7ff3f3"/>
<ellipse cx="535.1" cy="307.8" rx="1.6" ry="2.7" fill="#e08a3c"/>
<ellipse cx="524.1" cy="314.0" rx="1.7" ry="2.7" fill="#e08a3c"/>
<ellipse cx="488.6" cy="291.3" rx="1.3" ry="1.8" fill="#7ff3f3"/>
<ellipse cx="476.5" cy="314.6" rx="1.1" ry="2.1" fill="#7ff3f3"/>
<ellipse cx="497.3" cy="361.0" rx="1.7" ry="2.5" fill="#7ff3f3"/>
<ellipse cx="488.5" cy="342.6" rx="1.2" ry="1.6" fill="#7ff3f3"/>
<ellipse cx="469.3" cy="331.6" rx="1.6" ry="2.4" fill="#7ff3f3"/>
<ellipse cx="484.5" cy="380.3" rx="1.6" ry="1.6" fill="#e08a3c"/>
<ellipse cx="462.6" cy="331.6" rx="1.7" ry="1.7" fill="#7ff3f3"/>
<ellipse cx="487.1" cy="360.7" rx="1.8" ry="1.7" fill="#7ff3f3"/>
<ellipse cx="483.3" cy="390.1" rx="1.3" ry="2.2" fill="#7ff3f3"/>
<ellipse cx="531.2" cy="325.7" rx="1.0" ry="2.0" fill="#e08a3c"/>
<ellipse cx="514.7" cy="350.6" rx="1.2" ry="2.0" fill="#7ff3f3"/>
<ellipse cx="511.4" cy="341.4" rx="1.6" ry="2.0" fill="#e08a3c"/>
<ellipse cx="518.4" cy="358.8" rx="1.6" ry="1.7" fill="#7ff3f3"/>
<ellipse cx="491.9" cy="386.8" rx="1.7" ry="2.4" fill="#7ff3f3"/>
<ellipse cx="539.5" cy="279.8" rx="1.8" ry="1.8" fill="#e08a3c"/>
<ellipse cx="505.1" cy="312.5" rx="1.6" ry="2.4" fill="#e08a3c"/>
<text x="3.1" y="463.4" font-size="26" text-anchor="start" fill="#111" font-weight="normal" font-style="normal" >d</text>
<text x="26.2" y="463.3" font-size="15.6" text-anchor="start" fill="#111" font-weight="normal" font-style="normal" ><tspan fill="#4365a8">PBP5</tspan>:PG-oxidized</text>
<line x1="53.10" y1="539.70" x2="331.00" y2="539.70" stroke="#f03228" stroke-width="1.3" />
<rect x="54.30" y="562.05" width="0.8" height="2.25" fill="#555"/>
<rect x="55.14" y="561.80" width="0.8" height="2.50" fill="#000"/>
<rect x="55.97" y="561.11" width="0.8" height="3.19" fill="#000"/>
<rect x="56.81" y="563.27" width="0.8" height="1.03" fill="#555"/>
<rect x="57.64" y="553.90" width="0.8" height="10.40" fill="#555"/>
<rect x="58.48" y="563.38" width="0.8" height="0.92" fill="#000"/>
<rect x="59.32" y="563.35" width="0.8" height="0.95" fill="#000"/>
<rect x="60.15" y="562.11" width="0.8" height="2.19" fill="#000"/>
<rect x="60.99" y="561.84" width="0.8" height="2.46" fill="#000"/>
<rect x="61.82" y="553.90" width="0.8" height="10.40" fill="#555"/>
<rect x="62.66" y="563.23" width="0.8" height="1.07" fill="#000"/>
<rect x="63.50" y="560.01" width="0.8" height="4.29" fill="#555"/>
<rect x="64.33" y="555.89" width="0.8" height="8.41" fill="#000"/>
<rect x="65.17" y="557.71" width="0.8" height="6.59" fill="#555"/>
<rect x="66.00" y="563.32" width="0.8" height="0.98" fill="#555"/>
<rect x="66.84" y="563.28" width="0.8" height="1.02" fill="#555"/>
<rect x="67.68" y="563.41" width="0.8" height="0.89" fill="#000"/>
<rect x="68.51" y="562.35" width="0.8" height="1.95" fill="#000"/>
<rect x="69.35" y="562.99" width="0.8" height="1.31" fill="#000"/>
<rect x="70.18" y="563.20" width="0.8" height="1.10" fill="#000"/>
<rect x="71.02" y="555.01" width="0.8" height="9.29" fill="#000"/>
<rect x="72.69" y="562.93" width="0.8" height="1.37" fill="#555"/>
<rect x="73.53" y="563.25" width="0.8" height="1.05" fill="#000"/>
<rect x="74.36" y="559.94" width="0.8" height="4.36" fill="#000"/>
<rect x="75.20" y="563.27" width="0.8" height="1.03" fill="#000"/>
<rect x="76.04" y="562.38" width="0.8" height="1.92" fill="#555"/>
<rect x="76.87" y="561.45" width="0.8" height="2.85" fill="#000"/>
<rect x="77.71" y="557.76" width="0.8" height="6.54" fill="#000"/>
<rect x="78.54" y="560.27" width="0.8" height="4.03" fill="#000"/>
<rect x="80.22" y="558.37" width="0.8" height="5.93" fill="#000"/>
<rect x="81.05" y="563.41" width="0.8" height="0.89" fill="#000"/>
<rect x="81.89" y="562.79" width="0.8" height="1.51" fill="#000"/>
<rect x="82.72" y="563.04" width="0.8" height="1.26" fill="#000"/>
<rect x="83.56" y="561.53" width="0.8" height="2.77" fill="#555"/>
<rect x="84.40" y="561.70" width="0.8" height="2.60" fill="#000"/>
<rect x="85.23" y="563.08" width="0.8" height="1.22" fill="#000"/>
<rect x="86.07" y="562.89" width="0.8" height="1.41" fill="#000"/>
<rect x="87.74" y="554.05" width="0.8" height="10.25" fill="#555"/>
<rect x="88.58" y="563.39" width="0.8" height="0.91" fill="#000"/>
<rect x="90.25" y="560.60" width="0.8" height="3.70" fill="#000"/>
<rect x="91.08" y="561.92" width="0.8" height="2.38" fill="#000"/>
<rect x="92.76" y="563.31" width="0.8" height="0.99" fill="#555"/>
<rect x="94.43" y="560.29" width="0.8" height="4.01" fill="#555"/>
<rect x="96.10" y="562.46" width="0.8" height="1.84" fill="#555"/>
<rect x="97.77" y="562.20" width="0.8" height="2.10" fill="#555"/>
<rect x="98.61" y="561.15" width="0.8" height="3.15" fill="#000"/>
<rect x="99.44" y="563.30" width="0.8" height="1.00" fill="#555"/>
<rect x="101.12" y="560.37" width="0.8" height="3.93" fill="#555"/>
<rect x="101.95" y="562.11" width="0.8" height="2.19" fill="#000"/>
<rect x="102.79" y="563.43" width="0.8" height="0.87" fill="#000"/>
<rect x="103.62" y="560.62" width="0.8" height="3.68" fill="#555"/>
<rect x="105.30" y="563.29" width="0.8" height="1.01" fill="#000"/>
<rect x="106.13" y="563.34" width="0.8" height="0.96" fill="#555"/>
<rect x="106.97" y="562.10" width="0.8" height="2.20" fill="#000"/>
<rect x="107.80" y="562.97" width="0.8" height="1.33" fill="#555"/>
<rect x="109.48" y="558.41" width="0.8" height="5.89" fill="#000"/>
<rect x="110.31" y="563.15" width="0.8" height="1.15" fill="#555"/>
<rect x="111.98" y="560.52" width="0.8" height="3.78" fill="#000"/>
<rect x="112.82" y="562.06" width="0.8" height="2.24" fill="#000"/>
<rect x="113.66" y="561.14" width="0.8" height="3.16" fill="#000"/>
<rect x="115.33" y="553.90" width="0.8" height="10.40" fill="#000"/>
<rect x="116.16" y="562.02" width="0.8" height="2.28" fill="#555"/>
<rect x="117.00" y="562.61" width="0.8" height="1.69" fill="#000"/>
<rect x="117.84" y="563.06" width="0.8" height="1.24" fill="#555"/>
<rect x="118.67" y="563.39" width="0.8" height="0.91" fill="#555"/>
<rect x="119.51" y="561.11" width="0.8" height="3.19" fill="#555"/>
<rect x="121.18" y="562.67" width="0.8" height="1.63" fill="#000"/>
<rect x="122.02" y="563.47" width="0.8" height="0.83" fill="#555"/>
<rect x="122.85" y="562.74" width="0.8" height="1.56" fill="#555"/>
<rect x="123.69" y="561.21" width="0.8" height="3.09" fill="#000"/>
<rect x="124.52" y="561.80" width="0.8" height="2.50" fill="#555"/>
<rect x="125.36" y="563.17" width="0.8" height="1.13" fill="#555"/>
<rect x="127.03" y="562.37" width="0.8" height="1.93" fill="#555"/>
<rect x="127.87" y="556.57" width="0.8" height="7.73" fill="#555"/>
<rect x="128.70" y="560.43" width="0.8" height="3.87" fill="#555"/>
<rect x="129.54" y="562.92" width="0.8" height="1.38" fill="#555"/>
<rect x="131.21" y="561.65" width="0.8" height="2.65" fill="#000"/>
<rect x="132.88" y="558.85" width="0.8" height="5.45" fill="#000"/>
<rect x="133.72" y="561.58" width="0.8" height="2.72" fill="#000"/>
<rect x="134.56" y="562.31" width="0.8" height="1.99" fill="#555"/>
<rect x="135.39" y="562.52" width="0.8" height="1.78" fill="#000"/>
<rect x="136.23" y="561.76" width="0.8" height="2.54" fill="#555"/>
<rect x="137.06" y="556.51" width="0.8" height="7.79" fill="#555"/>
<rect x="137.90" y="562.90" width="0.8" height="1.40" fill="#000"/>
<rect x="138.74" y="561.06" width="0.8" height="3.24" fill="#555"/>
<rect x="139.57" y="562.60" width="0.8" height="1.70" fill="#555"/>
<rect x="141.24" y="562.94" width="0.8" height="1.36" fill="#555"/>
<rect x="142.08" y="562.89" width="0.8" height="1.41" fill="#000"/>
<rect x="142.92" y="562.83" width="0.8" height="1.47" fill="#555"/>
<rect x="143.75" y="562.27" width="0.8" height="2.03" fill="#000"/>
<rect x="144.59" y="562.65" width="0.8" height="1.65" fill="#000"/>
<rect x="145.42" y="555.96" width="0.8" height="8.34" fill="#000"/>
<rect x="146.26" y="563.17" width="0.8" height="1.13" fill="#555"/>
<rect x="147.93" y="561.95" width="0.8" height="2.35" fill="#000"/>
<rect x="148.77" y="561.63" width="0.8" height="2.67" fill="#555"/>
<rect x="149.60" y="563.34" width="0.8" height="0.96" fill="#555"/>
<rect x="150.44" y="562.45" width="0.8" height="1.85" fill="#000"/>
<rect x="151.28" y="563.19" width="0.8" height="1.11" fill="#000"/>
<rect x="152.11" y="561.69" width="0.8" height="2.61" fill="#000"/>
<rect x="152.95" y="562.96" width="0.8" height="1.34" fill="#000"/>
<rect x="153.78" y="561.06" width="0.8" height="3.24" fill="#555"/>
<rect x="154.62" y="562.10" width="0.8" height="2.20" fill="#555"/>
<rect x="156.29" y="557.91" width="0.8" height="6.39" fill="#000"/>
<rect x="157.96" y="562.91" width="0.8" height="1.39" fill="#555"/>
<rect x="158.80" y="562.84" width="0.8" height="1.46" fill="#000"/>
<rect x="159.64" y="559.22" width="0.8" height="5.08" fill="#555"/>
<rect x="160.47" y="562.26" width="0.8" height="2.04" fill="#000"/>
<rect x="161.31" y="560.75" width="0.8" height="3.55" fill="#555"/>
<rect x="162.14" y="561.81" width="0.8" height="2.49" fill="#000"/>
<rect x="162.98" y="563.35" width="0.8" height="0.95" fill="#000"/>
<rect x="163.82" y="561.57" width="0.8" height="2.73" fill="#000"/>
<rect x="164.65" y="563.35" width="0.8" height="0.95" fill="#555"/>
<rect x="166.32" y="561.62" width="0.8" height="2.68" fill="#000"/>
<rect x="168.00" y="562.01" width="0.8" height="2.29" fill="#000"/>
<rect x="168.83" y="561.76" width="0.8" height="2.54" fill="#555"/>
<rect x="169.67" y="560.60" width="0.8" height="3.70" fill="#000"/>
<rect x="170.50" y="560.27" width="0.8" height="4.03" fill="#000"/>
<rect x="171.34" y="562.98" width="0.8" height="1.32" fill="#555"/>
<rect x="173.01" y="560.57" width="0.8" height="3.73" fill="#555"/>
<rect x="173.85" y="561.30" width="0.8" height="3.00" fill="#555"/>
<rect x="175.52" y="562.78" width="0.8" height="1.52" fill="#555"/>
<rect x="176.36" y="559.45" width="0.8" height="4.85" fill="#555"/>
<rect x="178.03" y="560.65" width="0.8" height="3.65" fill="#555"/>
<rect x="178.86" y="562.58" width="0.8" height="1.72" fill="#000"/>
<rect x="179.70" y="563.47" width="0.8" height="0.83" fill="#555"/>
<rect x="180.54" y="562.87" width="0.8" height="1.43" fill="#555"/>
<rect x="181.37" y="560.91" width="0.8" height="3.39" fill="#000"/>
<rect x="182.21" y="553.90" width="0.8" height="10.40" fill="#555"/>
<rect x="183.04" y="560.68" width="0.8" height="3.62" fill="#555"/>
<rect x="183.88" y="562.79" width="0.8" height="1.51" fill="#000"/>
<rect x="184.72" y="563.16" width="0.8" height="1.14" fill="#000"/>
<rect x="186.39" y="561.58" width="0.8" height="2.72" fill="#555"/>
<rect x="187.22" y="553.90" width="0.8" height="10.40" fill="#555"/>
<rect x="188.06" y="561.32" width="0.8" height="2.98" fill="#000"/>
<rect x="189.73" y="563.08" width="0.8" height="1.22" fill="#000"/>
<rect x="190.57" y="562.82" width="0.8" height="1.48" fill="#555"/>
<rect x="191.40" y="561.70" width="0.8" height="2.60" fill="#000"/>
<rect x="192.24" y="560.95" width="0.8" height="3.35" fill="#000"/>
<rect x="193.08" y="563.25" width="0.8" height="1.05" fill="#000"/>
<rect x="193.91" y="563.09" width="0.8" height="1.21" fill="#000"/>
<rect x="195.58" y="562.51" width="0.8" height="1.79" fill="#555"/>
<rect x="197.26" y="563.32" width="0.8" height="0.98" fill="#000"/>
<rect x="198.09" y="560.89" width="0.8" height="3.41" fill="#000"/>
<rect x="199.76" y="560.42" width="0.8" height="3.88" fill="#555"/>
<rect x="201.44" y="562.83" width="0.8" height="1.47" fill="#555"/>
<rect x="202.27" y="563.34" width="0.8" height="0.96" fill="#000"/>
<rect x="203.11" y="562.10" width="0.8" height="2.20" fill="#000"/>
<rect x="203.94" y="561.41" width="0.8" height="2.89" fill="#555"/>
<rect x="204.78" y="553.90" width="0.8" height="10.40" fill="#555"/>
<rect x="205.62" y="563.21" width="0.8" height="1.09" fill="#555"/>
<rect x="206.45" y="562.43" width="0.8" height="1.87" fill="#555"/>
<rect x="207.29" y="561.35" width="0.8" height="2.95" fill="#555"/>
<rect x="208.12" y="562.81" width="0.8" height="1.49" fill="#555"/>
<rect x="209.80" y="563.47" width="0.8" height="0.83" fill="#000"/>
<rect x="210.63" y="562.80" width="0.8" height="1.50" fill="#000"/>
<rect x="211.47" y="563.28" width="0.8" height="1.02" fill="#000"/>
<rect x="212.30" y="562.38" width="0.8" height="1.92" fill="#000"/>
<rect x="213.14" y="560.22" width="0.8" height="4.08" fill="#000"/>
<rect x="213.98" y="559.52" width="0.8" height="4.78" fill="#555"/>
<rect x="214.81" y="562.17" width="0.8" height="2.13" fill="#555"/>
<rect x="215.65" y="560.96" width="0.8" height="3.34" fill="#000"/>
<rect x="216.48" y="560.21" width="0.8" height="4.09" fill="#000"/>
<rect x="217.32" y="563.26" width="0.8" height="1.04" fill="#000"/>
<rect x="218.16" y="561.51" width="0.8" height="2.79" fill="#555"/>
<rect x="218.99" y="562.42" width="0.8" height="1.88" fill="#000"/>
<rect x="219.83" y="563.30" width="0.8" height="1.00" fill="#555"/>
<rect x="220.66" y="563.26" width="0.8" height="1.04" fill="#000"/>
<rect x="221.50" y="563.17" width="0.8" height="1.13" fill="#555"/>
<rect x="222.34" y="557.48" width="0.8" height="6.82" fill="#555"/>
<rect x="223.17" y="559.60" width="0.8" height="4.70" fill="#000"/>
<rect x="224.01" y="556.95" width="0.8" height="7.35" fill="#000"/>
<rect x="224.84" y="562.41" width="0.8" height="1.89" fill="#000"/>
<rect x="225.68" y="562.98" width="0.8" height="1.32" fill="#555"/>
<rect x="226.52" y="559.16" width="0.8" height="5.14" fill="#000"/>
<rect x="227.35" y="558.39" width="0.8" height="5.91" fill="#000"/>
<rect x="228.19" y="561.61" width="0.8" height="2.69" fill="#555"/>
<rect x="229.02" y="562.33" width="0.8" height="1.97" fill="#000"/>
<rect x="229.86" y="563.44" width="0.8" height="0.86" fill="#555"/>
<rect x="231.53" y="563.29" width="0.8" height="1.01" fill="#000"/>
<rect x="232.37" y="562.75" width="0.8" height="1.55" fill="#000"/>
<rect x="233.20" y="561.73" width="0.8" height="2.57" fill="#000"/>
<rect x="234.04" y="555.22" width="0.8" height="9.08" fill="#000"/>
<rect x="234.88" y="560.44" width="0.8" height="3.86" fill="#555"/>
<rect x="235.71" y="559.30" width="0.8" height="5.00" fill="#555"/>
<rect x="237.38" y="559.19" width="0.8" height="5.11" fill="#555"/>
<rect x="238.22" y="561.72" width="0.8" height="2.58" fill="#555"/>
<rect x="239.06" y="563.11" width="0.8" height="1.19" fill="#555"/>
<rect x="240.73" y="563.16" width="0.8" height="1.14" fill="#000"/>
<rect x="241.56" y="562.67" width="0.8" height="1.63" fill="#000"/>
<rect x="242.40" y="563.21" width="0.8" height="1.09" fill="#555"/>
<rect x="243.24" y="563.35" width="0.8" height="0.95" fill="#000"/>
<rect x="244.91" y="563.47" width="0.8" height="0.83" fill="#000"/>
<rect x="245.74" y="562.86" width="0.8" height="1.44" fill="#000"/>
<rect x="246.58" y="563.01" width="0.8" height="1.29" fill="#000"/>
<rect x="247.42" y="562.60" width="0.8" height="1.70" fill="#555"/>
<rect x="248.25" y="562.78" width="0.8" height="1.52" fill="#555"/>
<rect x="249.09" y="561.60" width="0.8" height="2.70" fill="#000"/>
<rect x="249.92" y="563.38" width="0.8" height="0.92" fill="#555"/>
<rect x="250.76" y="561.70" width="0.8" height="2.60" fill="#000"/>
<rect x="252.43" y="562.73" width="0.8" height="1.57" fill="#000"/>
<rect x="253.27" y="562.39" width="0.8" height="1.91" fill="#555"/>
<rect x="254.10" y="563.38" width="0.8" height="0.92" fill="#000"/>
<rect x="254.94" y="558.62" width="0.8" height="5.68" fill="#555"/>
<rect x="256.61" y="562.76" width="0.8" height="1.54" fill="#000"/>
<rect x="257.45" y="563.50" width="0.8" height="0.80" fill="#555"/>
<rect x="259.12" y="563.29" width="0.8" height="1.01" fill="#555"/>
<rect x="259.96" y="561.93" width="0.8" height="2.37" fill="#555"/>
<rect x="260.79" y="558.83" width="0.8" height="5.47" fill="#555"/>
<rect x="261.63" y="561.71" width="0.8" height="2.59" fill="#555"/>
<rect x="262.46" y="561.62" width="0.8" height="2.68" fill="#000"/>
<rect x="264.14" y="562.60" width="0.8" height="1.70" fill="#000"/>
<rect x="264.97" y="561.99" width="0.8" height="2.31" fill="#000"/>
<rect x="265.81" y="563.23" width="0.8" height="1.07" fill="#000"/>
<rect x="267.48" y="559.25" width="0.8" height="5.05" fill="#000"/>
<rect x="268.32" y="562.61" width="0.8" height="1.69" fill="#000"/>
<rect x="269.15" y="563.47" width="0.8" height="0.83" fill="#555"/>
<rect x="269.99" y="561.20" width="0.8" height="3.10" fill="#000"/>
<rect x="270.82" y="562.65" width="0.8" height="1.65" fill="#000"/>
<rect x="271.66" y="563.29" width="0.8" height="1.01" fill="#555"/>
<rect x="272.50" y="556.54" width="0.8" height="7.76" fill="#555"/>
<rect x="273.33" y="562.24" width="0.8" height="2.06" fill="#000"/>
<rect x="274.17" y="560.78" width="0.8" height="3.52" fill="#000"/>
<rect x="275.00" y="559.15" width="0.8" height="5.15" fill="#000"/>
<rect x="275.84" y="563.38" width="0.8" height="0.92" fill="#000"/>
<rect x="276.68" y="557.42" width="0.8" height="6.88" fill="#000"/>
<rect x="277.51" y="560.01" width="0.8" height="4.29" fill="#000"/>
<rect x="278.35" y="563.12" width="0.8" height="1.18" fill="#000"/>
<rect x="279.18" y="553.90" width="0.8" height="10.40" fill="#555"/>
<rect x="280.02" y="563.46" width="0.8" height="0.84" fill="#000"/>
<rect x="280.86" y="563.23" width="0.8" height="1.07" fill="#000"/>
<rect x="281.69" y="559.31" width="0.8" height="4.99" fill="#000"/>
<rect x="282.53" y="557.90" width="0.8" height="6.40" fill="#000"/>
<rect x="283.36" y="563.13" width="0.8" height="1.17" fill="#555"/>
<rect x="284.20" y="560.48" width="0.8" height="3.82" fill="#000"/>
<rect x="285.87" y="562.79" width="0.8" height="1.51" fill="#000"/>
<rect x="286.71" y="561.44" width="0.8" height="2.86" fill="#000"/>
<rect x="288.38" y="562.42" width="0.8" height="1.88" fill="#000"/>
<rect x="290.05" y="563.15" width="0.8" height="1.15" fill="#000"/>
<rect x="290.89" y="561.53" width="0.8" height="2.77" fill="#555"/>
<rect x="292.56" y="559.42" width="0.8" height="4.88" fill="#000"/>
<rect x="294.23" y="562.68" width="0.8" height="1.62" fill="#000"/>
<rect x="295.07" y="562.22" width="0.8" height="2.08" fill="#000"/>
<rect x="295.90" y="563.48" width="0.8" height="0.82" fill="#555"/>
<rect x="297.58" y="560.92" width="0.8" height="3.38" fill="#555"/>
<rect x="298.41" y="562.35" width="0.8" height="1.95" fill="#555"/>
<rect x="299.25" y="562.97" width="0.8" height="1.33" fill="#000"/>
<rect x="300.08" y="562.89" width="0.8" height="1.41" fill="#000"/>
<rect x="300.92" y="561.49" width="0.8" height="2.81" fill="#555"/>
<rect x="301.76" y="562.70" width="0.8" height="1.60" fill="#555"/>
<rect x="302.59" y="561.98" width="0.8" height="2.32" fill="#555"/>
<rect x="303.43" y="560.09" width="0.8" height="4.21" fill="#000"/>
<rect x="305.10" y="559.13" width="0.8" height="5.17" fill="#000"/>
<rect x="305.94" y="561.50" width="0.8" height="2.80" fill="#000"/>
<rect x="306.77" y="562.14" width="0.8" height="2.16" fill="#000"/>
<rect x="307.61" y="560.40" width="0.8" height="3.90" fill="#555"/>
<rect x="308.44" y="560.15" width="0.8" height="4.15" fill="#000"/>
<rect x="309.28" y="563.18" width="0.8" height="1.12" fill="#000"/>
<rect x="310.12" y="563.37" width="0.8" height="0.93" fill="#000"/>
<rect x="310.95" y="562.62" width="0.8" height="1.68" fill="#000"/>
<rect x="311.79" y="557.69" width="0.8" height="6.61" fill="#555"/>
<rect x="313.46" y="562.19" width="0.8" height="2.11" fill="#000"/>
<rect x="314.30" y="561.49" width="0.8" height="2.81" fill="#000"/>
<rect x="315.13" y="563.18" width="0.8" height="1.12" fill="#555"/>
<rect x="315.97" y="562.83" width="0.8" height="1.47" fill="#000"/>
<rect x="316.80" y="558.09" width="0.8" height="6.21" fill="#000"/>
<rect x="317.64" y="562.87" width="0.8" height="1.43" fill="#000"/>
<rect x="319.31" y="562.62" width="0.8" height="1.68" fill="#555"/>
<rect x="320.98" y="563.04" width="0.8" height="1.26" fill="#000"/>
<rect x="322.66" y="561.86" width="0.8" height="2.44" fill="#555"/>
<rect x="323.49" y="563.04" width="0.8" height="1.26" fill="#555"/>
<rect x="325.16" y="562.96" width="0.8" height="1.34" fill="#000"/>
<rect x="326.84" y="563.46" width="0.8" height="0.84" fill="#555"/>
<rect x="327.67" y="557.97" width="0.8" height="6.33" fill="#555"/>
<rect x="328.51" y="560.64" width="0.8" height="3.66" fill="#000"/>
<rect x="329.34" y="562.89" width="0.8" height="1.41" fill="#555"/>
<rect x="330.18" y="563.36" width="0.8" height="0.94" fill="#555"/>
<rect x="81.90" y="542.90" width="1.1" height="21.40" fill="#111"/>
<rect x="126.30" y="545.40" width="1.1" height="18.90" fill="#111"/>
<rect x="142.90" y="538.60" width="1.1" height="25.70" fill="#111"/>
<rect x="63.90" y="552.80" width="1.1" height="11.50" fill="#111"/>
<rect x="198.80" y="532.50" width="1.1" height="31.80" fill="#111"/>
<rect x="248.30" y="547.50" width="1.1" height="16.80" fill="#111"/>
<rect x="269.30" y="551.00" width="1.1" height="13.30" fill="#111"/>
<rect x="291.10" y="549.20" width="1.1" height="15.10" fill="#111"/>
<rect x="317.10" y="548.60" width="1.1" height="15.70" fill="#111"/>
<rect x="229.70" y="552.00" width="1.1" height="12.30" fill="#111"/>
<rect x="221.90" y="553.50" width="1.1" height="10.80" fill="#111"/>
<rect x="215.50" y="553.50" width="1.1" height="10.80" fill="#111"/>
<rect x="253.00" y="551.80" width="1.1" height="12.50" fill="#111"/>
<rect x="289.00" y="550.70" width="1.1" height="13.60" fill="#111"/>
<line x1="53.10" y1="474.50" x2="53.10" y2="565.30" stroke="#000" stroke-width="2" />
<line x1="52.10" y1="564.30" x2="332.00" y2="564.30" stroke="#000" stroke-width="2.2" />
<line x1="48.60" y1="474.50" x2="53.10" y2="474.50" stroke="#000" stroke-width="1.6" />
<text x="47.6" y="479.2" font-size="13.2" text-anchor="end" fill="#111" font-weight="normal" font-style="normal" >0.2</text>
<line x1="48.60" y1="519.40" x2="53.10" y2="519.40" stroke="#000" stroke-width="1.6" />
<text x="47.6" y="524.1" font-size="13.2" text-anchor="end" fill="#111" font-weight="normal" font-style="normal" >0.1</text>
<line x1="48.60" y1="564.30" x2="53.10" y2="564.30" stroke="#000" stroke-width="1.6" />
<text x="47.6" y="569.0" font-size="13.2" text-anchor="end" fill="#111" font-weight="normal" font-style="normal" >0.0</text>
<line x1="53.10" y1="564.30" x2="53.10" y2="568.80" stroke="#000" stroke-width="1.8" />
<text transform="translate(57.4,569.5) rotate(-90)" font-size="12.2" text-anchor="end" fill="#111">349</text>
<line x1="94.90" y1="564.30" x2="94.90" y2="568.80" stroke="#000" stroke-width="1.8" />
<text transform="translate(99.2,569.5) rotate(-90)" font-size="12.2" text-anchor="end" fill="#111">399</text>
<line x1="136.70" y1="564.30" x2="136.70" y2="568.80" stroke="#000" stroke-width="1.8" />
<text transform="translate(141.0,569.5) rotate(-90)" font-size="12.2" text-anchor="end" fill="#111">449</text>
<line x1="178.50" y1="564.30" x2="178.50" y2="568.80" stroke="#000" stroke-width="1.8" />
<text transform="translate(182.8,569.5) rotate(-90)" font-size="12.2" text-anchor="end" fill="#111">499</text>
<line x1="220.30" y1="564.30" x2="220.30" y2="568.80" stroke="#000" stroke-width="1.8" />
<text transform="translate(224.6,569.5) rotate(-90)" font-size="12.2" text-anchor="end" fill="#111">549</text>
<line x1="262.10" y1="564.30" x2="262.10" y2="568.80" stroke="#000" stroke-width="1.8" />
<text transform="translate(266.4,569.5) rotate(-90)" font-size="12.2" text-anchor="end" fill="#111">599</text>
<line x1="303.90" y1="564.30" x2="303.90" y2="568.80" stroke="#000" stroke-width="1.8" />
<text transform="translate(308.2,569.5) rotate(-90)" font-size="12.2" text-anchor="end" fill="#111">649</text>
<text transform="translate(23.6,514.5) rotate(-90)" font-size="15.3" text-anchor="middle" fill="#111">Δδ(ppm)</text>
<text x="137.7" y="529.0" font-size="15.3" text-anchor="start" fill="#111" font-weight="normal" font-style="normal" >W457</text>
<text x="201.0" y="521.2" font-size="15.3" text-anchor="start" fill="#111" font-weight="normal" font-style="normal" >N523</text>
<text x="181.5" y="601.5" font-size="15.2" text-anchor="middle" fill="#111" font-weight="normal" font-style="normal" >Residue Number</text>
<text x="333.3" y="463.4" font-size="26" text-anchor="start" fill="#111" font-weight="normal" font-style="normal" >e</text>
<text x="366.6" y="463.3" font-size="15.6" text-anchor="start" fill="#111" font-weight="normal" font-style="normal" ><tspan fill="#4365a8">PBP5</tspan>:PG-reduced</text>
<rect x="403.4" y="474.5" width="1.5" height="89.8" fill="#d6dfa6"/>
<rect x="418.6" y="474.5" width="1.5" height="89.8" fill="#d6dfa6"/>
<rect x="422.9" y="474.5" width="1.5" height="89.8" fill="#d6dfa6"/>
<rect x="425.4" y="474.5" width="1.5" height="89.8" fill="#d6dfa6"/>
<rect x="428.6" y="474.5" width="1.5" height="89.8" fill="#d6dfa6"/>
<rect x="432.8" y="474.5" width="1.5" height="89.8" fill="#d6dfa6"/>
<rect x="434.4" y="474.5" width="1.5" height="89.8" fill="#d6dfa6"/>
<rect x="435.9" y="474.5" width="1.5" height="89.8" fill="#d6dfa6"/>
<rect x="437.6" y="474.5" width="1.5" height="89.8" fill="#d6dfa6"/>
<rect x="449.2" y="474.5" width="1.5" height="89.8" fill="#d6dfa6"/>
<rect x="450.8" y="474.5" width="1.5" height="89.8" fill="#d6dfa6"/>
<rect x="456.6" y="474.5" width="1.5" height="89.8" fill="#d6dfa6"/>
<rect x="464.1" y="474.5" width="1.5" height="89.8" fill="#d6dfa6"/>
<rect x="465.6" y="474.5" width="1.5" height="89.8" fill="#d6dfa6"/>
<rect x="467.8" y="474.5" width="1.5" height="89.8" fill="#d6dfa6"/>
<rect x="470.1" y="474.5" width="1.5" height="89.8" fill="#d6dfa6"/>
<rect x="472.6" y="474.5" width="1.5" height="89.8" fill="#d6dfa6"/>
<rect x="483.8" y="474.5" width="1.5" height="89.8" fill="#d6dfa6"/>
<rect x="485.2" y="474.5" width="1.5" height="89.8" fill="#d6dfa6"/>
<rect x="486.8" y="474.5" width="1.5" height="89.8" fill="#d6dfa6"/>
<rect x="487.9" y="474.5" width="1.5" height="89.8" fill="#d6dfa6"/>
<rect x="490.9" y="474.5" width="1.5" height="89.8" fill="#d6dfa6"/>
<rect x="493.1" y="474.5" width="1.5" height="89.8" fill="#d6dfa6"/>
<rect x="500.8" y="474.5" width="1.5" height="89.8" fill="#d6dfa6"/>
<rect x="510.1" y="474.5" width="1.5" height="89.8" fill="#d6dfa6"/>
<rect x="511.8" y="474.5" width="1.5" height="89.8" fill="#d6dfa6"/>
<rect x="516.6" y="474.5" width="1.5" height="89.8" fill="#d6dfa6"/>
<rect x="518.0" y="474.5" width="1.5" height="89.8" fill="#d6dfa6"/>
<rect x="519.5" y="474.5" width="1.5" height="89.8" fill="#d6dfa6"/>
<rect x="523.0" y="474.5" width="1.5" height="89.8" fill="#d6dfa6"/>
<rect x="528.6" y="474.5" width="1.5" height="89.8" fill="#d6dfa6"/>
<rect x="533.4" y="474.5" width="1.5" height="89.8" fill="#d6dfa6"/>
<rect x="535.5" y="474.5" width="1.5" height="89.8" fill="#d6dfa6"/>
<rect x="540.6" y="474.5" width="1.5" height="89.8" fill="#d6dfa6"/>
<rect x="543.8" y="474.5" width="1.5" height="89.8" fill="#d6dfa6"/>
<rect x="545.2" y="474.5" width="1.5" height="89.8" fill="#d6dfa6"/>
<rect x="546.5" y="474.5" width="1.5" height="89.8" fill="#d6dfa6"/>
<rect x="563.2" y="474.5" width="1.5" height="89.8" fill="#d6dfa6"/>
<rect x="583.0" y="474.5" width="1.5" height="89.8" fill="#d6dfa6"/>
<rect x="588.6" y="474.5" width="1.5" height="89.8" fill="#d6dfa6"/>
<rect x="592.0" y="474.5" width="1.5" height="89.8" fill="#d6dfa6"/>
<rect x="594.0" y="474.5" width="1.5" height="89.8" fill="#d6dfa6"/>
<rect x="608.8" y="474.5" width="1.5" height="89.8" fill="#d6dfa6"/>
<rect x="612.0" y="474.5" width="1.5" height="89.8" fill="#d6dfa6"/>
<rect x="623.8" y="474.5" width="1.5" height="89.8" fill="#d6dfa6"/>
<rect x="625.2" y="474.5" width="1.5" height="89.8" fill="#d6dfa6"/>
<rect x="626.8" y="474.5" width="1.5" height="89.8" fill="#d6dfa6"/>
<rect x="630.1" y="474.5" width="1.5" height="89.8" fill="#d6dfa6"/>
<rect x="655.5" y="474.5" width="1.5" height="89.8" fill="#d6dfa6"/>
<rect x="660.6" y="474.5" width="1.5" height="89.8" fill="#d6dfa6"/>
<line x1="397.00" y1="539.70" x2="672.00" y2="539.70" stroke="#f03228" stroke-width="1.8" />
<rect x="398.20" y="545.38" width="0.8" height="18.92" fill="#555"/>
<rect x="399.03" y="557.22" width="0.8" height="7.08" fill="#000"/>
<rect x="399.86" y="562.01" width="0.8" height="2.29" fill="#000"/>
<rect x="400.70" y="563.45" width="0.8" height="0.85" fill="#555"/>
<rect x="401.53" y="558.47" width="0.8" height="5.83" fill="#000"/>
<rect x="402.36" y="552.80" width="0.8" height="11.50" fill="#555"/>
<rect x="403.19" y="538.78" width="0.8" height="25.52" fill="#555"/>
<rect x="404.02" y="557.56" width="0.8" height="6.74" fill="#000"/>
<rect x="404.86" y="559.00" width="0.8" height="5.30" fill="#000"/>
<rect x="405.69" y="561.34" width="0.8" height="2.96" fill="#000"/>
<rect x="406.52" y="559.95" width="0.8" height="4.35" fill="#000"/>
<rect x="407.35" y="563.22" width="0.8" height="1.08" fill="#000"/>
<rect x="409.02" y="560.69" width="0.8" height="3.61" fill="#000"/>
<rect x="409.85" y="552.98" width="0.8" height="11.32" fill="#000"/>
<rect x="410.68" y="552.78" width="0.8" height="11.52" fill="#555"/>
<rect x="411.51" y="557.98" width="0.8" height="6.32" fill="#000"/>
<rect x="413.18" y="562.22" width="0.8" height="2.08" fill="#000"/>
<rect x="414.01" y="563.33" width="0.8" height="0.97" fill="#555"/>
<rect x="415.67" y="552.06" width="0.8" height="12.24" fill="#000"/>
<rect x="417.34" y="553.82" width="0.8" height="10.48" fill="#555"/>
<rect x="418.17" y="563.05" width="0.8" height="1.25" fill="#000"/>
<rect x="419.00" y="544.52" width="0.8" height="19.78" fill="#000"/>
<rect x="419.83" y="561.92" width="0.8" height="2.38" fill="#000"/>
<rect x="421.50" y="561.46" width="0.8" height="2.84" fill="#555"/>
<rect x="422.33" y="560.56" width="0.8" height="3.74" fill="#555"/>
<rect x="423.99" y="555.35" width="0.8" height="8.95" fill="#555"/>
<rect x="425.66" y="561.36" width="0.8" height="2.94" fill="#000"/>
<rect x="426.49" y="553.16" width="0.8" height="11.14" fill="#000"/>
<rect x="428.15" y="562.70" width="0.8" height="1.60" fill="#000"/>
<rect x="428.98" y="559.71" width="0.8" height="4.59" fill="#555"/>
<rect x="429.82" y="557.72" width="0.8" height="6.58" fill="#000"/>
<rect x="430.65" y="559.05" width="0.8" height="5.25" fill="#555"/>
<rect x="431.48" y="560.19" width="0.8" height="4.11" fill="#000"/>
<rect x="433.14" y="561.91" width="0.8" height="2.39" fill="#000"/>
<rect x="433.98" y="562.35" width="0.8" height="1.95" fill="#555"/>
<rect x="434.81" y="555.32" width="0.8" height="8.98" fill="#000"/>
<rect x="435.64" y="561.03" width="0.8" height="3.27" fill="#000"/>
<rect x="437.30" y="549.56" width="0.8" height="14.74" fill="#555"/>
<rect x="438.14" y="557.00" width="0.8" height="7.30" fill="#000"/>
<rect x="438.97" y="560.98" width="0.8" height="3.32" fill="#000"/>
<rect x="439.80" y="559.69" width="0.8" height="4.61" fill="#000"/>
<rect x="440.63" y="561.43" width="0.8" height="2.87" fill="#000"/>
<rect x="441.46" y="561.36" width="0.8" height="2.94" fill="#000"/>
<rect x="442.30" y="562.20" width="0.8" height="2.10" fill="#000"/>
<rect x="443.13" y="549.82" width="0.8" height="14.48" fill="#555"/>
<rect x="443.96" y="535.50" width="0.8" height="28.80" fill="#000"/>
<rect x="445.62" y="561.24" width="0.8" height="3.06" fill="#000"/>
<rect x="447.29" y="562.84" width="0.8" height="1.46" fill="#000"/>
<rect x="448.12" y="562.77" width="0.8" height="1.53" fill="#555"/>
<rect x="448.95" y="562.20" width="0.8" height="2.10" fill="#555"/>
<rect x="449.78" y="563.37" width="0.8" height="0.93" fill="#000"/>
<rect x="450.62" y="559.07" width="0.8" height="5.23" fill="#000"/>
<rect x="451.45" y="551.43" width="0.8" height="12.87" fill="#000"/>
<rect x="452.28" y="563.20" width="0.8" height="1.10" fill="#555"/>
<rect x="453.11" y="559.61" width="0.8" height="4.69" fill="#555"/>
<rect x="453.94" y="549.79" width="0.8" height="14.51" fill="#000"/>
<rect x="454.78" y="553.94" width="0.8" height="10.36" fill="#000"/>
<rect x="456.44" y="535.60" width="0.8" height="28.70" fill="#000"/>
<rect x="457.27" y="553.09" width="0.8" height="11.21" fill="#000"/>
<rect x="458.10" y="554.48" width="0.8" height="9.82" fill="#000"/>
<rect x="458.94" y="562.40" width="0.8" height="1.90" fill="#000"/>
<rect x="459.77" y="551.38" width="0.8" height="12.92" fill="#000"/>
<rect x="460.60" y="560.85" width="0.8" height="3.45" fill="#000"/>
<rect x="461.43" y="551.43" width="0.8" height="12.87" fill="#555"/>
<rect x="462.26" y="556.67" width="0.8" height="7.63" fill="#555"/>
<rect x="463.93" y="535.65" width="0.8" height="28.65" fill="#000"/>
<rect x="464.76" y="550.66" width="0.8" height="13.64" fill="#000"/>
<rect x="465.59" y="563.26" width="0.8" height="1.04" fill="#555"/>
<rect x="466.42" y="554.86" width="0.8" height="9.44" fill="#000"/>
<rect x="467.26" y="561.56" width="0.8" height="2.74" fill="#000"/>
<rect x="468.09" y="561.86" width="0.8" height="2.44" fill="#000"/>
<rect x="468.92" y="562.40" width="0.8" height="1.90" fill="#000"/>
<rect x="469.75" y="553.79" width="0.8" height="10.51" fill="#000"/>
<rect x="470.58" y="560.51" width="0.8" height="3.79" fill="#000"/>
<rect x="471.42" y="558.74" width="0.8" height="5.56" fill="#555"/>
<rect x="472.25" y="556.59" width="0.8" height="7.71" fill="#555"/>
<rect x="473.08" y="558.64" width="0.8" height="5.66" fill="#555"/>
<rect x="474.74" y="561.19" width="0.8" height="3.11" fill="#555"/>
<rect x="476.41" y="562.68" width="0.8" height="1.62" fill="#000"/>
<rect x="477.24" y="552.39" width="0.8" height="11.91" fill="#555"/>
<rect x="478.07" y="558.48" width="0.8" height="5.82" fill="#000"/>
<rect x="479.74" y="556.22" width="0.8" height="8.08" fill="#000"/>
<rect x="480.57" y="560.74" width="0.8" height="3.56" fill="#555"/>
<rect x="481.40" y="562.99" width="0.8" height="1.31" fill="#555"/>
<rect x="482.23" y="555.69" width="0.8" height="8.61" fill="#555"/>
<rect x="483.06" y="557.60" width="0.8" height="6.70" fill="#555"/>
<rect x="483.90" y="562.45" width="0.8" height="1.85" fill="#000"/>
<rect x="484.73" y="558.47" width="0.8" height="5.83" fill="#000"/>
<rect x="486.39" y="562.90" width="0.8" height="1.40" fill="#555"/>
<rect x="487.22" y="559.75" width="0.8" height="4.55" fill="#555"/>
<rect x="488.06" y="563.18" width="0.8" height="1.12" fill="#000"/>
<rect x="489.72" y="556.84" width="0.8" height="7.46" fill="#000"/>
<rect x="491.38" y="558.33" width="0.8" height="5.97" fill="#000"/>
<rect x="493.05" y="552.22" width="0.8" height="12.08" fill="#000"/>
<rect x="493.88" y="551.38" width="0.8" height="12.92" fill="#555"/>
<rect x="495.54" y="562.54" width="0.8" height="1.76" fill="#000"/>
<rect x="496.38" y="558.64" width="0.8" height="5.66" fill="#555"/>
<rect x="497.21" y="561.51" width="0.8" height="2.79" fill="#555"/>
<rect x="498.04" y="562.28" width="0.8" height="2.02" fill="#000"/>
<rect x="498.87" y="557.21" width="0.8" height="7.09" fill="#555"/>
<rect x="499.70" y="562.34" width="0.8" height="1.96" fill="#555"/>
<rect x="500.54" y="562.26" width="0.8" height="2.04" fill="#555"/>
<rect x="501.37" y="554.11" width="0.8" height="10.19" fill="#555"/>
<rect x="502.20" y="562.82" width="0.8" height="1.48" fill="#000"/>
<rect x="503.03" y="559.88" width="0.8" height="4.42" fill="#000"/>
<rect x="503.86" y="562.16" width="0.8" height="2.14" fill="#555"/>
<rect x="504.70" y="549.82" width="0.8" height="14.48" fill="#555"/>
<rect x="505.53" y="554.26" width="0.8" height="10.04" fill="#555"/>
<rect x="507.19" y="542.94" width="0.8" height="21.36" fill="#555"/>
<rect x="508.02" y="561.02" width="0.8" height="3.28" fill="#000"/>
<rect x="509.69" y="556.43" width="0.8" height="7.87" fill="#555"/>
<rect x="511.35" y="559.92" width="0.8" height="4.38" fill="#555"/>
<rect x="512.18" y="562.63" width="0.8" height="1.67" fill="#000"/>
<rect x="513.02" y="562.75" width="0.8" height="1.55" fill="#000"/>
<rect x="513.85" y="545.27" width="0.8" height="19.03" fill="#555"/>
<rect x="515.51" y="562.83" width="0.8" height="1.47" fill="#555"/>
<rect x="516.34" y="535.50" width="0.8" height="28.80" fill="#555"/>
<rect x="517.18" y="562.81" width="0.8" height="1.49" fill="#555"/>
<rect x="518.01" y="545.20" width="0.8" height="19.10" fill="#555"/>
<rect x="519.67" y="554.92" width="0.8" height="9.38" fill="#555"/>
<rect x="520.50" y="554.29" width="0.8" height="10.01" fill="#000"/>
<rect x="521.34" y="559.52" width="0.8" height="4.78" fill="#000"/>
<rect x="522.17" y="560.21" width="0.8" height="4.09" fill="#000"/>
<rect x="523.00" y="562.64" width="0.8" height="1.66" fill="#555"/>
<rect x="523.83" y="562.75" width="0.8" height="1.55" fill="#000"/>
<rect x="524.66" y="553.86" width="0.8" height="10.44" fill="#555"/>
<rect x="525.50" y="550.14" width="0.8" height="14.16" fill="#555"/>
<rect x="526.33" y="561.18" width="0.8" height="3.12" fill="#555"/>
<rect x="527.16" y="554.33" width="0.8" height="9.97" fill="#555"/>
<rect x="527.99" y="561.35" width="0.8" height="2.95" fill="#000"/>
<rect x="528.82" y="546.37" width="0.8" height="17.93" fill="#000"/>
<rect x="529.66" y="548.33" width="0.8" height="15.97" fill="#000"/>
<rect x="530.49" y="548.77" width="0.8" height="15.53" fill="#000"/>
<rect x="532.15" y="557.31" width="0.8" height="6.99" fill="#555"/>
<rect x="532.98" y="561.95" width="0.8" height="2.35" fill="#555"/>
<rect x="533.82" y="560.22" width="0.8" height="4.08" fill="#000"/>
<rect x="534.65" y="563.49" width="0.8" height="0.81" fill="#555"/>
<rect x="536.31" y="562.11" width="0.8" height="2.19" fill="#000"/>
<rect x="537.14" y="556.40" width="0.8" height="7.90" fill="#000"/>
<rect x="537.98" y="563.09" width="0.8" height="1.21" fill="#555"/>
<rect x="538.81" y="561.87" width="0.8" height="2.43" fill="#555"/>
<rect x="539.64" y="560.25" width="0.8" height="4.05" fill="#000"/>
<rect x="540.47" y="560.74" width="0.8" height="3.56" fill="#555"/>
<rect x="541.30" y="549.43" width="0.8" height="14.87" fill="#555"/>
<rect x="542.14" y="563.29" width="0.8" height="1.01" fill="#000"/>
<rect x="542.97" y="563.18" width="0.8" height="1.12" fill="#555"/>
<rect x="543.80" y="558.70" width="0.8" height="5.60" fill="#555"/>
<rect x="544.63" y="563.18" width="0.8" height="1.12" fill="#000"/>
<rect x="545.46" y="556.64" width="0.8" height="7.66" fill="#000"/>
<rect x="546.30" y="560.87" width="0.8" height="3.43" fill="#000"/>
<rect x="547.13" y="541.48" width="0.8" height="22.82" fill="#555"/>
<rect x="548.79" y="550.50" width="0.8" height="13.80" fill="#000"/>
<rect x="549.62" y="552.43" width="0.8" height="11.87" fill="#555"/>
<rect x="550.46" y="537.69" width="0.8" height="26.61" fill="#000"/>
<rect x="551.29" y="562.97" width="0.8" height="1.33" fill="#555"/>
<rect x="552.12" y="549.23" width="0.8" height="15.07" fill="#000"/>
<rect x="552.95" y="558.61" width="0.8" height="5.69" fill="#000"/>
<rect x="553.78" y="561.72" width="0.8" height="2.58" fill="#000"/>
<rect x="554.62" y="561.74" width="0.8" height="2.56" fill="#000"/>
<rect x="555.45" y="562.80" width="0.8" height="1.50" fill="#555"/>
<rect x="556.28" y="560.05" width="0.8" height="4.25" fill="#555"/>
<rect x="557.11" y="553.92" width="0.8" height="10.38" fill="#000"/>
<rect x="557.94" y="560.59" width="0.8" height="3.71" fill="#555"/>
<rect x="558.78" y="547.25" width="0.8" height="17.05" fill="#555"/>
<rect x="560.44" y="562.29" width="0.8" height="2.01" fill="#000"/>
<rect x="561.27" y="561.89" width="0.8" height="2.41" fill="#000"/>
<rect x="562.10" y="559.19" width="0.8" height="5.11" fill="#000"/>
<rect x="562.94" y="560.83" width="0.8" height="3.47" fill="#555"/>
<rect x="563.77" y="551.72" width="0.8" height="12.58" fill="#000"/>
<rect x="564.60" y="559.21" width="0.8" height="5.09" fill="#555"/>
<rect x="566.26" y="560.60" width="0.8" height="3.70" fill="#555"/>
<rect x="567.93" y="555.51" width="0.8" height="8.79" fill="#555"/>
<rect x="568.76" y="557.63" width="0.8" height="6.67" fill="#555"/>
<rect x="569.59" y="563.03" width="0.8" height="1.27" fill="#000"/>
<rect x="570.42" y="552.80" width="0.8" height="11.50" fill="#000"/>
<rect x="571.26" y="561.98" width="0.8" height="2.32" fill="#000"/>
<rect x="572.09" y="561.03" width="0.8" height="3.27" fill="#000"/>
<rect x="572.92" y="557.53" width="0.8" height="6.77" fill="#000"/>
<rect x="573.75" y="560.85" width="0.8" height="3.45" fill="#555"/>
<rect x="574.58" y="554.62" width="0.8" height="9.68" fill="#000"/>
<rect x="575.42" y="561.56" width="0.8" height="2.74" fill="#555"/>
<rect x="576.25" y="552.77" width="0.8" height="11.53" fill="#000"/>
<rect x="577.91" y="563.09" width="0.8" height="1.21" fill="#000"/>
<rect x="578.74" y="562.83" width="0.8" height="1.47" fill="#000"/>
<rect x="579.58" y="561.46" width="0.8" height="2.84" fill="#000"/>
<rect x="581.24" y="554.39" width="0.8" height="9.91" fill="#555"/>
<rect x="582.07" y="551.84" width="0.8" height="12.46" fill="#000"/>
<rect x="582.90" y="553.48" width="0.8" height="10.82" fill="#000"/>
<rect x="583.74" y="562.70" width="0.8" height="1.60" fill="#000"/>
<rect x="584.57" y="562.43" width="0.8" height="1.87" fill="#000"/>
<rect x="585.40" y="561.44" width="0.8" height="2.86" fill="#555"/>
<rect x="587.06" y="553.80" width="0.8" height="10.50" fill="#555"/>
<rect x="587.90" y="562.83" width="0.8" height="1.47" fill="#000"/>
<rect x="588.73" y="557.24" width="0.8" height="7.06" fill="#555"/>
<rect x="589.56" y="562.81" width="0.8" height="1.49" fill="#000"/>
<rect x="591.22" y="558.79" width="0.8" height="5.51" fill="#555"/>
<rect x="592.06" y="560.36" width="0.8" height="3.94" fill="#000"/>
<rect x="592.89" y="548.36" width="0.8" height="15.94" fill="#000"/>
<rect x="594.55" y="553.57" width="0.8" height="10.73" fill="#000"/>
<rect x="595.38" y="556.03" width="0.8" height="8.27" fill="#000"/>
<rect x="597.05" y="560.83" width="0.8" height="3.47" fill="#000"/>
<rect x="597.88" y="556.77" width="0.8" height="7.53" fill="#555"/>
<rect x="598.71" y="552.58" width="0.8" height="11.72" fill="#000"/>
<rect x="599.54" y="561.65" width="0.8" height="2.65" fill="#000"/>
<rect x="600.38" y="562.01" width="0.8" height="2.29" fill="#555"/>
<rect x="601.21" y="558.29" width="0.8" height="6.01" fill="#555"/>
<rect x="602.04" y="555.91" width="0.8" height="8.39" fill="#000"/>
<rect x="602.87" y="555.55" width="0.8" height="8.75" fill="#000"/>
<rect x="603.70" y="563.38" width="0.8" height="0.92" fill="#000"/>
<rect x="604.54" y="562.22" width="0.8" height="2.08" fill="#000"/>
<rect x="605.37" y="561.10" width="0.8" height="3.20" fill="#000"/>
<rect x="606.20" y="563.37" width="0.8" height="0.93" fill="#000"/>
<rect x="607.86" y="556.50" width="0.8" height="7.80" fill="#555"/>
<rect x="608.70" y="551.28" width="0.8" height="13.02" fill="#000"/>
<rect x="609.53" y="552.55" width="0.8" height="11.75" fill="#555"/>
<rect x="610.36" y="544.04" width="0.8" height="20.26" fill="#000"/>
<rect x="612.02" y="558.13" width="0.8" height="6.17" fill="#000"/>
<rect x="612.86" y="562.39" width="0.8" height="1.91" fill="#000"/>
<rect x="613.69" y="562.76" width="0.8" height="1.54" fill="#000"/>
<rect x="614.52" y="563.37" width="0.8" height="0.93" fill="#000"/>
<rect x="615.35" y="558.05" width="0.8" height="6.25" fill="#000"/>
<rect x="617.02" y="556.02" width="0.8" height="8.28" fill="#555"/>
<rect x="617.85" y="561.50" width="0.8" height="2.80" fill="#000"/>
<rect x="618.68" y="562.23" width="0.8" height="2.07" fill="#000"/>
<rect x="620.34" y="553.21" width="0.8" height="11.09" fill="#555"/>
<rect x="621.18" y="550.16" width="0.8" height="14.14" fill="#555"/>
<rect x="622.01" y="559.19" width="0.8" height="5.11" fill="#000"/>
<rect x="622.84" y="552.85" width="0.8" height="11.45" fill="#000"/>
<rect x="623.67" y="563.10" width="0.8" height="1.20" fill="#000"/>
<rect x="624.50" y="560.99" width="0.8" height="3.31" fill="#555"/>
<rect x="625.34" y="553.49" width="0.8" height="10.81" fill="#000"/>
<rect x="626.17" y="562.94" width="0.8" height="1.36" fill="#000"/>
<rect x="627.83" y="563.13" width="0.8" height="1.17" fill="#000"/>
<rect x="628.66" y="563.23" width="0.8" height="1.07" fill="#555"/>
<rect x="629.50" y="562.42" width="0.8" height="1.88" fill="#000"/>
<rect x="631.16" y="551.57" width="0.8" height="12.73" fill="#555"/>
<rect x="631.99" y="556.61" width="0.8" height="7.69" fill="#000"/>
<rect x="632.82" y="550.00" width="0.8" height="14.30" fill="#000"/>
<rect x="633.66" y="563.08" width="0.8" height="1.22" fill="#000"/>
<rect x="634.49" y="535.50" width="0.8" height="28.80" fill="#000"/>
<rect x="635.32" y="558.88" width="0.8" height="5.42" fill="#000"/>
<rect x="636.15" y="543.24" width="0.8" height="21.06" fill="#000"/>
<rect x="636.98" y="560.57" width="0.8" height="3.73" fill="#555"/>
<rect x="637.82" y="562.36" width="0.8" height="1.94" fill="#555"/>
<rect x="639.48" y="547.14" width="0.8" height="17.16" fill="#555"/>
<rect x="640.31" y="554.21" width="0.8" height="10.09" fill="#000"/>
<rect x="641.98" y="562.04" width="0.8" height="2.26" fill="#555"/>
<rect x="642.81" y="561.20" width="0.8" height="3.10" fill="#000"/>
<rect x="643.64" y="559.44" width="0.8" height="4.86" fill="#555"/>
<rect x="644.47" y="563.39" width="0.8" height="0.91" fill="#000"/>
<rect x="645.30" y="559.23" width="0.8" height="5.07" fill="#000"/>
<rect x="646.97" y="562.31" width="0.8" height="1.99" fill="#555"/>
<rect x="648.63" y="561.70" width="0.8" height="2.60" fill="#000"/>
<rect x="649.46" y="555.64" width="0.8" height="8.66" fill="#555"/>
<rect x="650.30" y="562.54" width="0.8" height="1.76" fill="#000"/>
<rect x="651.13" y="558.52" width="0.8" height="5.78" fill="#000"/>
<rect x="652.79" y="561.07" width="0.8" height="3.23" fill="#000"/>
<rect x="653.62" y="562.50" width="0.8" height="1.80" fill="#000"/>
<rect x="654.46" y="551.95" width="0.8" height="12.35" fill="#000"/>
<rect x="655.29" y="551.88" width="0.8" height="12.42" fill="#555"/>
<rect x="656.12" y="560.80" width="0.8" height="3.50" fill="#000"/>
<rect x="656.95" y="558.46" width="0.8" height="5.84" fill="#000"/>
<rect x="657.78" y="563.45" width="0.8" height="0.85" fill="#000"/>
<rect x="658.62" y="551.81" width="0.8" height="12.49" fill="#555"/>
<rect x="659.45" y="562.96" width="0.8" height="1.34" fill="#555"/>
<rect x="660.28" y="560.90" width="0.8" height="3.40" fill="#555"/>
<rect x="661.11" y="560.07" width="0.8" height="4.23" fill="#000"/>
<rect x="662.78" y="562.39" width="0.8" height="1.91" fill="#555"/>
<rect x="663.61" y="562.14" width="0.8" height="2.16" fill="#555"/>
<rect x="664.44" y="562.21" width="0.8" height="2.09" fill="#555"/>
<rect x="665.27" y="559.42" width="0.8" height="4.88" fill="#000"/>
<rect x="666.10" y="560.46" width="0.8" height="3.84" fill="#555"/>
<rect x="666.94" y="563.24" width="0.8" height="1.06" fill="#000"/>
<rect x="667.77" y="561.58" width="0.8" height="2.72" fill="#000"/>
<rect x="668.60" y="538.16" width="0.8" height="26.14" fill="#000"/>
<rect x="669.43" y="561.24" width="0.8" height="3.06" fill="#000"/>
<rect x="670.26" y="561.92" width="0.8" height="2.38" fill="#555"/>
<rect x="671.10" y="561.04" width="0.8" height="3.26" fill="#000"/>
<rect x="671.93" y="562.38" width="0.8" height="1.92" fill="#000"/>
<rect x="411.10" y="508.70" width="1.1" height="55.60" fill="#111"/>
<rect x="421.90" y="527.60" width="1.1" height="36.70" fill="#111"/>
<rect x="474.50" y="474.70" width="1.1" height="89.60" fill="#111"/>
<rect x="479.20" y="525.50" width="1.1" height="38.80" fill="#111"/>
<rect x="498.90" y="530.00" width="1.1" height="34.30" fill="#111"/>
<rect x="521.70" y="533.80" width="1.1" height="30.50" fill="#111"/>
<rect x="469.10" y="535.70" width="1.1" height="28.60" fill="#111"/>
<rect x="476.50" y="533.00" width="1.1" height="31.30" fill="#111"/>
<rect x="407.80" y="541.50" width="1.1" height="22.80" fill="#111"/>
<rect x="398.90" y="547.20" width="1.1" height="17.10" fill="#111"/>
<rect x="433.80" y="543.40" width="1.1" height="20.90" fill="#111"/>
<rect x="438.50" y="546.00" width="1.1" height="18.30" fill="#111"/>
<rect x="427.20" y="551.00" width="1.1" height="13.30" fill="#111"/>
<rect x="417.90" y="549.10" width="1.1" height="15.20" fill="#111"/>
<rect x="462.00" y="543.00" width="1.1" height="21.30" fill="#111"/>
<rect x="572.20" y="488.00" width="1.1" height="76.30" fill="#111"/>
<rect x="590.70" y="492.90" width="1.1" height="71.40" fill="#111"/>
<rect x="606.40" y="518.40" width="1.1" height="45.90" fill="#111"/>
<rect x="596.50" y="531.40" width="1.1" height="32.90" fill="#111"/>
<rect x="628.90" y="534.00" width="1.1" height="30.30" fill="#111"/>
<rect x="542.30" y="535.00" width="1.1" height="29.30" fill="#111"/>
<rect x="556.50" y="538.10" width="1.1" height="26.20" fill="#111"/>
<rect x="581.10" y="536.70" width="1.1" height="27.60" fill="#111"/>
<rect x="619.00" y="537.90" width="1.1" height="26.40" fill="#111"/>
<rect x="667.10" y="543.40" width="1.1" height="20.90" fill="#111"/>
<line x1="397.00" y1="474.50" x2="397.00" y2="565.30" stroke="#000" stroke-width="2" />
<line x1="396.00" y1="564.30" x2="673.00" y2="564.30" stroke="#000" stroke-width="2.2" />
<line x1="392.50" y1="474.50" x2="397.00" y2="474.50" stroke="#000" stroke-width="1.6" />
<text x="391.5" y="479.2" font-size="13.2" text-anchor="end" fill="#111" font-weight="normal" font-style="normal" >0.2</text>
<line x1="392.50" y1="519.40" x2="397.00" y2="519.40" stroke="#000" stroke-width="1.6" />
<text x="391.5" y="524.1" font-size="13.2" text-anchor="end" fill="#111" font-weight="normal" font-style="normal" >0.1</text>
<line x1="392.50" y1="564.30" x2="397.00" y2="564.30" stroke="#000" stroke-width="1.6" />
<text x="391.5" y="569.0" font-size="13.2" text-anchor="end" fill="#111" font-weight="normal" font-style="normal" >0.0</text>
<line x1="397.00" y1="564.30" x2="397.00" y2="568.80" stroke="#000" stroke-width="1.8" />
<text transform="translate(401.3,569.5) rotate(-90)" font-size="12.2" text-anchor="end" fill="#111">349</text>
<line x1="438.60" y1="564.30" x2="438.60" y2="568.80" stroke="#000" stroke-width="1.8" />
<text transform="translate(442.9,569.5) rotate(-90)" font-size="12.2" text-anchor="end" fill="#111">399</text>
<line x1="480.20" y1="564.30" x2="480.20" y2="568.80" stroke="#000" stroke-width="1.8" />
<text transform="translate(484.5,569.5) rotate(-90)" font-size="12.2" text-anchor="end" fill="#111">449</text>
<line x1="521.80" y1="564.30" x2="521.80" y2="568.80" stroke="#000" stroke-width="1.8" />
<text transform="translate(526.1,569.5) rotate(-90)" font-size="12.2" text-anchor="end" fill="#111">499</text>
<line x1="563.40" y1="564.30" x2="563.40" y2="568.80" stroke="#000" stroke-width="1.8" />
<text transform="translate(567.7,569.5) rotate(-90)" font-size="12.2" text-anchor="end" fill="#111">549</text>
<line x1="605.00" y1="564.30" x2="605.00" y2="568.80" stroke="#000" stroke-width="1.8" />
<text transform="translate(609.3,569.5) rotate(-90)" font-size="12.2" text-anchor="end" fill="#111">599</text>
<line x1="646.60" y1="564.30" x2="646.60" y2="568.80" stroke="#000" stroke-width="1.8" />
<text transform="translate(650.9,569.5) rotate(-90)" font-size="12.2" text-anchor="end" fill="#111">649</text>
<text transform="translate(361.0,514.5) rotate(-90)" font-size="15.3" text-anchor="middle" fill="#111">Δδ(ppm)</text>
<text x="515.5" y="601.5" font-size="15.2" text-anchor="middle" fill="#111" font-weight="normal" font-style="normal" >Residue Number</text>
<text x="7.3" y="623.7" font-size="26" text-anchor="start" fill="#111" font-weight="normal" font-style="normal" >f</text>
<text x="26.3" y="625.4" font-size="15.6" text-anchor="start" fill="#111" font-weight="normal" font-style="normal" ><tspan fill="#4365a8">PBP5</tspan>:PG Oxidized (1:5)</text>
<text x="3.7" y="791.0" font-size="26" text-anchor="start" fill="#111" font-weight="normal" font-style="normal" >g</text>
<text x="26.3" y="798.8" font-size="15.6" text-anchor="start" fill="#111" font-weight="normal" font-style="normal" ><tspan fill="#4365a8">PBP5</tspan>:PG Reduced (1:5)</text>
<defs>
<radialGradient id="bw" cx="0.44" cy="0.4" r="0.6">
 <stop offset="0" stop-color="#ffffff"/><stop offset="0.6" stop-color="#f5f5f5"/>
 <stop offset="0.8" stop-color="#e4e4e4"/><stop offset="0.93" stop-color="#b4b4b4"/><stop offset="1" stop-color="#707070"/>
</radialGradient>
<radialGradient id="bd" cx="0.38" cy="0.34" r="0.68">
 <stop offset="0" stop-color="#c4c4c4"/><stop offset="0.6" stop-color="#a4a4a4"/><stop offset="1" stop-color="#747474"/>
</radialGradient>
<radialGradient id="bc" cx="0.4" cy="0.36" r="0.64">
 <stop offset="0" stop-color="#9af6f6"/><stop offset="0.7" stop-color="#60e4e4"/><stop offset="1" stop-color="#40bcbc"/>
</radialGradient>
<radialGradient id="bg" cx="0.4" cy="0.36" r="0.64">
 <stop offset="0" stop-color="#eedb80"/><stop offset="0.7" stop-color="#d8be4c"/><stop offset="1" stop-color="#b49a32"/>
</radialGradient>
<radialGradient id="br" cx="0.4" cy="0.35" r="0.65">
 <stop offset="0" stop-color="#ff5050"/><stop offset="1" stop-color="#c01010"/>
</radialGradient>
</defs>
<polygon points="139.9,632.4 144.4,633.8 147.6,637.6 151.2,639.0 154.7,640.4 156.7,644.0 157.6,648.0 160.4,651.5 164.0,653.4 167.4,656.0 170.3,659.4 174.5,660.8 176.7,665.4 178.4,669.8 181.5,672.9 186.5,675.3 190.8,678.5 192.0,682.8 193.8,687.5 195.6,693.5 194.9,697.3 194.1,701.5 193.6,706.2 192.3,710.7 190.0,714.8 188.7,718.5 189.5,723.8 188.5,728.2 186.7,731.9 186.3,735.8 186.1,740.7 183.5,744.4 181.2,748.2 180.0,752.6 177.7,756.7 175.0,760.9 173.9,764.8 175.6,769.1 173.2,772.8 167.3,775.3 164.5,776.0 161.0,776.0 156.8,776.0 152.3,775.4 147.5,776.0 142.4,776.0 137.2,775.7 132.0,776.0 127.0,776.0 122.2,776.0 117.8,776.0 113.9,776.0 110.4,776.0 108.1,774.9 104.7,770.9 106.1,766.5 105.6,761.2 103.8,757.9 101.5,754.4 97.5,752.1 94.1,749.4 92.6,745.2 90.1,741.9 87.0,739.1 84.9,735.5 82.2,731.0 77.6,728.6 73.4,726.0 70.2,722.1 66.6,718.7 63.1,714.9 61.7,710.4 62.1,705.2 62.0,699.9 61.7,695.0 63.3,690.8 66.1,687.3 66.4,682.8 65.9,678.1 67.9,674.2 69.9,670.1 69.5,665.4 71.5,661.6 74.7,657.4 76.9,653.1 80.3,648.8 83.5,647.5 87.7,647.6 91.6,645.4 95.6,642.5 100.1,643.6 103.8,642.9 107.6,640.5 110.8,638.3 114.8,638.3 118.8,637.4 122.4,635.3 126.7,634.1 131.4,634.8 135.8,634.5" fill="#d4d4d4" stroke="#b8b8b8" stroke-width="1.2" stroke-linejoin="round"/>
<g fill="url(#bw)" stroke="#5a5a5a" stroke-width="1" stroke-opacity="0.5"><circle cx="178.2" cy="714.3" r="5.2"/><circle cx="129.3" cy="702.0" r="6.1"/><circle cx="108.0" cy="709.7" r="7.7"/><circle cx="143.7" cy="698.2" r="4.2"/><circle cx="92.4" cy="657.9" r="7.5"/><circle cx="177.0" cy="747.1" r="4.8"/><circle cx="171.0" cy="669.1" r="9.1"/><circle cx="151.8" cy="644.4" r="4.1"/><circle cx="95.1" cy="648.1" r="4.3"/><circle cx="107.8" cy="642.4" r="2.7"/><circle cx="132.3" cy="656.6" r="5.6"/><circle cx="157.0" cy="697.7" r="5.9"/><circle cx="118.1" cy="659.4" r="4.7"/><circle cx="182.2" cy="705.7" r="5.3"/><circle cx="142.8" cy="749.7" r="4.1"/><circle cx="158.0" cy="655.4" r="4.5"/><circle cx="152.5" cy="710.6" r="5.3"/><circle cx="130.9" cy="664.5" r="7.9"/><circle cx="114.6" cy="715.1" r="5.9"/><circle cx="146.2" cy="640.9" r="3.2"/><circle cx="117.4" cy="668.7" r="4.1"/><circle cx="171.4" cy="770.6" r="3.0"/><circle cx="129.8" cy="686.7" r="6.1"/><circle cx="89.2" cy="729.2" r="6.6"/><circle cx="150.9" cy="674.9" r="7.0"/><circle cx="166.5" cy="681.1" r="5.3"/><circle cx="152.0" cy="752.7" r="9.6"/><circle cx="107.7" cy="759.1" r="4.5"/><circle cx="126.6" cy="773.9" r="2.1"/><circle cx="174.3" cy="685.3" r="6.0"/><circle cx="142.6" cy="769.4" r="6.6"/><circle cx="79.8" cy="711.6" r="4.6"/><circle cx="177.7" cy="745.6" r="4.9"/><circle cx="107.3" cy="720.7" r="8.7"/><circle cx="112.3" cy="714.4" r="5.3"/><circle cx="137.3" cy="765.2" r="6.7"/><circle cx="98.8" cy="745.4" r="4.9"/><circle cx="118.1" cy="649.0" r="5.0"/><circle cx="94.0" cy="739.2" r="4.6"/><circle cx="183.7" cy="686.7" r="9.8"/><circle cx="125.6" cy="646.8" r="7.9"/><circle cx="141.6" cy="697.0" r="5.9"/><circle cx="76.6" cy="663.3" r="4.2"/><circle cx="153.8" cy="727.4" r="5.6"/><circle cx="134.2" cy="676.5" r="5.5"/><circle cx="72.6" cy="672.7" r="5.4"/><circle cx="121.7" cy="726.0" r="7.9"/><circle cx="187.7" cy="688.5" r="5.8"/><circle cx="105.5" cy="677.9" r="9.1"/><circle cx="181.3" cy="675.9" r="3.3"/><circle cx="134.6" cy="715.5" r="7.6"/><circle cx="135.5" cy="642.6" r="4.5"/><circle cx="146.8" cy="674.2" r="8.8"/><circle cx="127.7" cy="756.3" r="4.9"/><circle cx="128.8" cy="746.6" r="4.5"/><circle cx="165.6" cy="773.8" r="2.2"/><circle cx="104.5" cy="647.8" r="7.1"/><circle cx="161.6" cy="731.4" r="5.1"/><circle cx="119.6" cy="655.1" r="8.3"/><circle cx="151.1" cy="668.7" r="4.4"/><circle cx="135.2" cy="710.1" r="9.1"/><circle cx="122.4" cy="689.2" r="6.0"/><circle cx="148.3" cy="692.2" r="7.4"/><circle cx="70.0" cy="683.4" r="4.8"/><circle cx="78.4" cy="669.6" r="9.0"/><circle cx="115.0" cy="690.0" r="7.7"/><circle cx="132.5" cy="704.3" r="7.9"/><circle cx="120.4" cy="731.0" r="8.4"/><circle cx="93.6" cy="703.5" r="6.9"/><circle cx="91.8" cy="691.6" r="7.4"/><circle cx="98.5" cy="725.2" r="4.3"/><circle cx="71.3" cy="705.9" r="9.3"/><circle cx="179.9" cy="677.2" r="4.5"/><circle cx="175.4" cy="685.8" r="8.2"/><circle cx="160.3" cy="717.8" r="9.1"/><circle cx="138.2" cy="657.7" r="5.5"/><circle cx="90.8" cy="714.2" r="8.5"/><circle cx="157.7" cy="682.4" r="7.1"/><circle cx="169.9" cy="722.7" r="5.6"/><circle cx="174.4" cy="727.1" r="8.2"/><circle cx="121.3" cy="765.1" r="9.8"/><circle cx="112.9" cy="747.7" r="6.6"/><circle cx="83.7" cy="679.1" r="4.8"/><circle cx="77.6" cy="718.7" r="6.4"/><circle cx="77.5" cy="674.8" r="5.5"/><circle cx="87.1" cy="695.4" r="4.1"/><circle cx="145.7" cy="719.4" r="9.0"/><circle cx="89.3" cy="673.3" r="7.3"/><circle cx="98.3" cy="716.5" r="5.5"/><circle cx="153.2" cy="746.0" r="8.9"/><circle cx="176.3" cy="742.8" r="7.4"/><circle cx="113.0" cy="673.2" r="4.6"/><circle cx="161.8" cy="710.7" r="9.8"/><circle cx="163.6" cy="772.2" r="3.8"/><circle cx="128.7" cy="714.6" r="5.9"/><circle cx="129.0" cy="683.7" r="7.2"/><circle cx="102.5" cy="689.8" r="8.7"/><circle cx="153.2" cy="703.1" r="7.9"/><circle cx="112.2" cy="661.7" r="4.0"/><circle cx="98.9" cy="718.3" r="9.3"/><circle cx="172.8" cy="705.8" r="9.9"/><circle cx="123.5" cy="752.3" r="6.5"/><circle cx="161.4" cy="774.2" r="1.8"/><circle cx="84.5" cy="721.4" r="7.2"/><circle cx="113.8" cy="693.6" r="6.4"/><circle cx="177.0" cy="716.3" r="8.4"/><circle cx="181.9" cy="739.9" r="3.8"/><circle cx="161.6" cy="724.4" r="7.9"/><circle cx="146.0" cy="690.9" r="7.8"/><circle cx="146.6" cy="767.0" r="8.7"/><circle cx="175.0" cy="742.6" r="8.9"/><circle cx="142.8" cy="682.6" r="5.6"/><circle cx="156.5" cy="757.9" r="7.3"/><circle cx="126.6" cy="699.5" r="4.3"/><circle cx="130.0" cy="739.4" r="6.5"/><circle cx="109.2" cy="726.7" r="4.1"/><circle cx="129.6" cy="768.3" r="7.7"/><circle cx="115.5" cy="731.3" r="7.6"/><circle cx="89.7" cy="662.2" r="9.3"/><circle cx="131.8" cy="685.3" r="7.1"/><circle cx="160.3" cy="656.6" r="4.4"/><circle cx="157.2" cy="749.4" r="5.6"/><circle cx="143.3" cy="665.7" r="7.4"/><circle cx="177.8" cy="679.7" r="5.3"/><circle cx="182.1" cy="721.8" r="5.9"/><circle cx="119.5" cy="741.8" r="8.7"/><circle cx="87.1" cy="722.3" r="5.0"/><circle cx="159.2" cy="719.5" r="5.6"/><circle cx="132.2" cy="652.3" r="4.8"/><circle cx="157.5" cy="684.3" r="8.5"/><circle cx="93.9" cy="735.5" r="8.3"/><circle cx="102.6" cy="647.7" r="6.4"/><circle cx="127.6" cy="646.8" r="5.1"/><circle cx="156.0" cy="749.4" r="9.8"/><circle cx="143.8" cy="681.6" r="9.0"/><circle cx="74.4" cy="689.8" r="7.0"/><circle cx="112.3" cy="656.6" r="5.4"/><circle cx="171.5" cy="698.8" r="7.5"/><circle cx="90.1" cy="735.1" r="6.0"/><circle cx="141.2" cy="763.0" r="10.0"/><circle cx="176.5" cy="678.3" r="6.3"/><circle cx="139.4" cy="764.3" r="6.4"/><circle cx="179.5" cy="741.3" r="4.9"/><circle cx="81.1" cy="727.9" r="2.4"/><circle cx="112.5" cy="651.1" r="6.8"/><circle cx="161.4" cy="731.0" r="9.1"/><circle cx="150.5" cy="688.4" r="7.8"/><circle cx="186.9" cy="717.2" r="3.4"/><circle cx="142.8" cy="712.9" r="7.1"/><circle cx="69.8" cy="683.1" r="3.6"/><circle cx="118.5" cy="727.5" r="8.3"/><circle cx="161.2" cy="736.0" r="8.5"/><circle cx="176.1" cy="754.8" r="2.4"/><circle cx="124.5" cy="685.6" r="9.9"/><circle cx="67.1" cy="708.7" r="6.7"/><circle cx="78.8" cy="689.2" r="8.2"/><circle cx="131.9" cy="645.4" r="8.8"/><circle cx="113.1" cy="737.6" r="5.9"/><circle cx="169.7" cy="755.3" r="5.8"/><circle cx="118.6" cy="667.7" r="7.3"/><circle cx="105.9" cy="681.0" r="8.7"/><circle cx="173.5" cy="733.1" r="7.2"/><circle cx="100.7" cy="655.0" r="6.2"/><circle cx="131.5" cy="646.4" r="6.1"/><circle cx="138.7" cy="638.7" r="4.9"/><circle cx="148.9" cy="677.5" r="5.8"/><circle cx="108.9" cy="679.1" r="8.5"/><circle cx="128.8" cy="708.0" r="4.9"/><circle cx="184.1" cy="679.2" r="6.0"/><circle cx="125.9" cy="763.5" r="9.6"/><circle cx="131.8" cy="715.1" r="10.0"/><circle cx="166.7" cy="733.3" r="8.5"/><circle cx="110.1" cy="767.7" r="4.3"/><circle cx="115.6" cy="699.1" r="9.9"/><circle cx="132.9" cy="656.5" r="4.9"/><circle cx="153.7" cy="713.2" r="9.4"/><circle cx="86.4" cy="691.4" r="8.4"/><circle cx="134.8" cy="670.6" r="4.6"/><circle cx="96.7" cy="723.2" r="7.2"/><circle cx="175.6" cy="724.8" r="5.0"/><circle cx="111.0" cy="754.1" r="8.3"/><circle cx="141.8" cy="756.7" r="9.4"/><circle cx="118.7" cy="729.4" r="7.3"/><circle cx="158.9" cy="749.3" r="10.0"/><circle cx="96.0" cy="661.3" r="8.5"/><circle cx="164.8" cy="706.3" r="6.9"/><circle cx="115.8" cy="759.2" r="8.8"/><circle cx="140.0" cy="638.2" r="5.0"/><circle cx="123.1" cy="659.7" r="5.8"/><circle cx="77.8" cy="675.9" r="9.3"/><circle cx="161.7" cy="771.8" r="4.2"/><circle cx="138.3" cy="711.6" r="7.2"/><circle cx="134.3" cy="749.9" r="9.7"/><circle cx="116.4" cy="722.9" r="5.8"/><circle cx="102.1" cy="705.1" r="7.5"/><circle cx="135.3" cy="772.6" r="3.4"/><circle cx="146.9" cy="775.2" r="1.5"/><circle cx="137.5" cy="685.3" r="6.4"/><circle cx="151.4" cy="761.5" r="9.6"/><circle cx="175.0" cy="687.5" r="6.8"/><circle cx="168.3" cy="685.9" r="8.5"/><circle cx="126.2" cy="680.7" r="6.7"/><circle cx="77.3" cy="683.3" r="6.5"/><circle cx="140.6" cy="673.6" r="10.0"/><circle cx="96.2" cy="706.2" r="8.4"/><circle cx="154.3" cy="694.7" r="8.7"/><circle cx="126.7" cy="735.1" r="6.9"/><circle cx="125.9" cy="769.1" r="6.4"/><circle cx="158.6" cy="752.2" r="4.5"/><circle cx="143.6" cy="775.4" r="1.5"/><circle cx="133.3" cy="682.2" r="9.7"/><circle cx="135.7" cy="692.7" r="8.0"/><circle cx="77.6" cy="670.5" r="5.7"/><circle cx="125.9" cy="746.3" r="9.1"/><circle cx="167.0" cy="729.6" r="4.5"/><circle cx="113.9" cy="728.4" r="5.8"/><circle cx="129.7" cy="762.4" r="4.7"/><circle cx="113.4" cy="762.4" r="5.2"/><circle cx="131.4" cy="692.2" r="9.3"/><circle cx="127.6" cy="760.9" r="7.3"/><circle cx="97.5" cy="710.0" r="6.6"/><circle cx="163.4" cy="753.4" r="5.4"/><circle cx="98.5" cy="733.8" r="6.5"/><circle cx="79.1" cy="660.5" r="7.4"/><circle cx="141.8" cy="770.3" r="5.7"/><circle cx="143.2" cy="653.8" r="6.5"/><circle cx="99.2" cy="732.3" r="5.6"/><circle cx="90.4" cy="685.2" r="6.8"/><circle cx="107.0" cy="719.4" r="5.1"/><circle cx="179.5" cy="732.1" r="7.2"/><circle cx="69.5" cy="679.2" r="4.5"/><circle cx="148.1" cy="749.0" r="9.3"/><circle cx="103.9" cy="703.3" r="6.0"/><circle cx="73.5" cy="709.8" r="8.2"/><circle cx="137.1" cy="730.7" r="5.4"/><circle cx="88.4" cy="713.9" r="9.3"/><circle cx="144.1" cy="644.6" r="5.3"/><circle cx="152.8" cy="773.8" r="2.2"/><circle cx="142.2" cy="706.9" r="4.1"/><circle cx="105.9" cy="652.4" r="5.5"/><circle cx="164.8" cy="730.2" r="4.2"/><circle cx="75.5" cy="677.9" r="5.6"/><circle cx="80.3" cy="689.8" r="9.6"/><circle cx="147.2" cy="667.2" r="8.1"/><circle cx="98.3" cy="706.4" r="5.9"/><circle cx="188.7" cy="683.0" r="4.9"/><circle cx="147.6" cy="753.5" r="7.6"/><circle cx="178.2" cy="690.6" r="8.1"/><circle cx="144.8" cy="708.2" r="7.4"/><circle cx="133.4" cy="689.0" r="9.4"/><circle cx="146.4" cy="711.3" r="4.3"/><circle cx="129.8" cy="657.6" r="5.3"/><circle cx="119.9" cy="710.8" r="5.5"/><circle cx="98.0" cy="708.5" r="6.8"/><circle cx="115.7" cy="647.3" r="6.2"/><circle cx="149.3" cy="710.6" r="7.3"/><circle cx="174.7" cy="736.3" r="8.1"/><circle cx="153.1" cy="654.8" r="9.5"/><circle cx="175.3" cy="680.6" r="9.3"/><circle cx="112.8" cy="695.6" r="4.7"/></g>
<g fill="url(#bw)" stroke="#8a8a8a" stroke-width="0.6" stroke-opacity="0.5"><circle cx="139.4" cy="636.0" r="4.8"/><circle cx="146.9" cy="640.3" r="3.8"/><circle cx="153.4" cy="643.9" r="5.0"/><circle cx="155.9" cy="651.6" r="5.4"/><circle cx="162.0" cy="656.4" r="4.8"/><circle cx="168.8" cy="661.1" r="3.0"/><circle cx="173.4" cy="668.2" r="5.9"/><circle cx="177.9" cy="675.2" r="5.8"/><circle cx="187.4" cy="680.0" r="4.9"/><circle cx="190.8" cy="688.4" r="4.1"/><circle cx="191.4" cy="697.7" r="4.7"/><circle cx="189.3" cy="706.1" r="5.6"/><circle cx="186.7" cy="714.3" r="4.4"/><circle cx="185.6" cy="722.7" r="5.3"/><circle cx="183.4" cy="730.4" r="4.8"/><circle cx="183.4" cy="739.0" r="4.3"/><circle cx="177.8" cy="745.4" r="5.8"/><circle cx="175.6" cy="754.4" r="4.2"/><circle cx="171.7" cy="761.9" r="4.8"/><circle cx="105.6" cy="768.7" r="3.2"/><circle cx="107.0" cy="758.2" r="4.4"/><circle cx="102.7" cy="752.3" r="3.1"/><circle cx="96.6" cy="746.4" r="5.1"/><circle cx="91.7" cy="740.3" r="3.0"/><circle cx="86.8" cy="734.3" r="3.1"/><circle cx="79.9" cy="727.6" r="3.3"/><circle cx="72.6" cy="721.4" r="3.4"/><circle cx="66.5" cy="714.4" r="4.5"/><circle cx="65.1" cy="705.2" r="4.1"/><circle cx="64.5" cy="695.4" r="3.8"/><circle cx="70.4" cy="688.6" r="6.0"/><circle cx="69.8" cy="679.8" r="5.7"/><circle cx="73.2" cy="672.0" r="5.0"/><circle cx="74.7" cy="664.0" r="5.4"/><circle cx="79.8" cy="656.0" r="5.5"/><circle cx="85.2" cy="649.7" r="3.7"/><circle cx="93.8" cy="648.8" r="5.4"/><circle cx="101.3" cy="646.1" r="3.7"/><circle cx="108.7" cy="643.8" r="4.7"/><circle cx="115.5" cy="641.3" r="4.1"/><circle cx="122.7" cy="637.9" r="3.5"/><circle cx="131.3" cy="638.8" r="5.3"/></g>
<g fill="url(#bd)" stroke="#444" stroke-width="1" stroke-opacity="0.5"><circle cx="128.0" cy="765.0" r="5.6"/><circle cx="114.3" cy="770.5" r="5.5"/><circle cx="116.4" cy="766.0" r="3.9"/><circle cx="125.6" cy="767.1" r="5.1"/><circle cx="121.2" cy="768.3" r="3.2"/><circle cx="122.2" cy="774.3" r="1.7"/><circle cx="121.4" cy="767.8" r="4.0"/><circle cx="115.2" cy="773.3" r="2.7"/><circle cx="123.2" cy="761.6" r="4.0"/><circle cx="124.8" cy="767.4" r="4.4"/><circle cx="117.8" cy="772.4" r="3.6"/><circle cx="110.7" cy="767.0" r="4.6"/><circle cx="119.7" cy="774.8" r="1.5"/><circle cx="109.6" cy="766.0" r="3.3"/><circle cx="110.4" cy="772.3" r="3.7"/><circle cx="125.1" cy="764.6" r="3.5"/></g>
<g fill="url(#bd)" stroke="#444" stroke-width="1" stroke-opacity="0.5"><circle cx="145.1" cy="771.3" r="4.7"/><circle cx="159.6" cy="770.4" r="4.2"/><circle cx="152.5" cy="768.4" r="3.7"/><circle cx="150.4" cy="770.1" r="4.3"/><circle cx="154.3" cy="772.0" r="4.0"/><circle cx="152.3" cy="770.4" r="3.7"/><circle cx="155.8" cy="766.2" r="4.9"/><circle cx="144.8" cy="770.6" r="4.9"/><circle cx="147.4" cy="774.8" r="1.5"/><circle cx="142.7" cy="767.8" r="4.2"/><circle cx="153.8" cy="768.2" r="4.6"/></g>
<polygon points="84.7,720.4 83.7,721.2 82.9,722.5 81.1,723.9 78.7,723.6 76.5,722.6 74.2,722.9 73.1,721.6 73.6,720.4 73.7,719.7 74.2,717.8 76.3,717.2 78.7,717.6 81.1,717.3 83.3,717.6 84.1,719.3" fill="#55e0e0" stroke="#8a8a8a" stroke-width="0.6" stroke-opacity="0.5"/>
<g fill="url(#bc)" stroke="#2a9a9a" stroke-width="1" stroke-opacity="0.5"><circle cx="76.5" cy="719.7" r="2.6"/><circle cx="78.4" cy="718.8" r="2.6"/></g>
<rect x="62.6" y="689" width="133.9" height="25.6" rx="7" ry="7" fill="#9fe3f5" fill-opacity="0.6" stroke="#213a66" stroke-width="1.1" stroke-dasharray="3.2,2"/>
<path d="M69.6,690 C63.6,696.68 63.6,706.92 69.6,713.6" fill="none" stroke="#213a66" stroke-width="1" stroke-dasharray="3,2"/>
<g fill="#d42020"><ellipse cx="135" cy="698.5" rx="3.6" ry="3"/><ellipse cx="131" cy="701.5" rx="3" ry="2.4"/><ellipse cx="137.5" cy="701.5" rx="2.4" ry="2"/></g>
<g stroke="#111" fill="none" stroke-width="1.5"><line x1="212.2" y1="632.3" x2="212.2" y2="656.5"/><path d="M204.3,637.6 C200.2,642.3 204.2,649.8 212.2,649.3 C218.2,648.8 222.2,643.3 221.9,637.3"/><path d="M218.4,642.0 L221.9,637.3 L227.1,639.3"/></g>
<text x="205.2" y="667.0" font-size="12.2" text-anchor="start" fill="#111" font-weight="normal" font-style="normal" >90<tspan font-size="8" dy="-4.5">o</tspan></text>
<polygon points="219.3,697.7 221.0,693.5 224.3,690.5 227.6,687.1 230.2,682.9 232.6,679.5 237.2,677.5 240.4,674.2 242.3,670.1 244.9,667.3 249.5,664.8 251.4,661.2 253.6,657.1 256.9,654.7 260.8,653.0 264.1,650.0 268.0,647.9 272.7,647.4 277.2,646.4 280.9,643.7 284.8,641.9 289.7,641.0 294.1,639.7 298.9,638.0 303.1,638.6 306.9,641.8 311.2,642.7 315.1,643.8 318.6,647.0 322.2,648.9 326.7,649.0 331.4,648.7 336.1,649.7 340.8,650.8 346.0,651.1 351.3,652.2 354.4,656.1 356.8,659.7 359.3,664.3 359.2,669.8 359.6,674.0 361.6,678.1 363.9,682.3 362.5,686.2 358.8,691.2 355.4,696.6 350.6,697.2 345.2,695.3 340.4,696.8 337.1,700.5 333.7,703.7 330.7,706.8 332.6,710.8 334.5,714.6 336.4,718.3 340.2,720.7 345.6,721.3 350.2,723.1 353.9,728.0 356.5,733.0 358.1,737.4 356.8,742.5 354.3,746.3 351.0,750.1 345.7,752.0 341.2,754.2 337.7,757.0 338.3,762.1 336.9,766.5 335.4,770.2 339.1,773.1 331.6,775.9 329.2,776.0 326.3,775.1 323.1,775.9 319.6,776.0 315.6,775.0 311.4,774.3 307.1,776.0 302.5,776.0 297.6,774.6 292.8,775.9 287.8,776.0 282.8,776.0 277.7,775.5 272.7,776.0 267.8,776.0 263.0,776.0 258.4,774.3 253.9,775.4 249.6,776.0 245.7,775.1 242.1,775.4 238.6,776.0 235.8,776.0 233.6,774.1 224.7,772.5 222.5,769.1 224.1,765.0 226.1,760.4 222.7,756.4 220.4,752.1 219.6,747.2 220.1,741.9 217.3,737.7 218.6,732.9 219.7,728.2 220.9,723.4 219.4,718.8 218.9,714.3 220.3,709.7 218.8,705.5 216.9,701.3" fill="#d4d4d4" stroke="#b8b8b8" stroke-width="1.2" stroke-linejoin="round"/>
<g fill="url(#bw)" stroke="#5a5a5a" stroke-width="1" stroke-opacity="0.5"><circle cx="307.3" cy="740.5" r="4.7"/><circle cx="282.8" cy="743.7" r="8.4"/><circle cx="349.5" cy="742.3" r="5.0"/><circle cx="320.5" cy="703.2" r="5.4"/><circle cx="314.0" cy="681.6" r="4.6"/><circle cx="282.7" cy="758.7" r="4.8"/><circle cx="302.9" cy="692.2" r="7.1"/><circle cx="238.0" cy="770.4" r="5.6"/><circle cx="306.0" cy="695.9" r="4.1"/><circle cx="298.9" cy="657.4" r="4.3"/><circle cx="231.0" cy="725.6" r="7.0"/><circle cx="282.2" cy="672.6" r="7.5"/><circle cx="308.6" cy="748.4" r="8.3"/><circle cx="254.6" cy="696.4" r="7.2"/><circle cx="276.9" cy="653.3" r="8.3"/><circle cx="293.4" cy="702.1" r="5.9"/><circle cx="311.2" cy="667.3" r="9.4"/><circle cx="280.6" cy="708.6" r="7.5"/><circle cx="224.4" cy="695.7" r="3.9"/><circle cx="334.9" cy="688.5" r="7.1"/><circle cx="259.4" cy="773.7" r="1.3"/><circle cx="261.8" cy="754.0" r="8.0"/><circle cx="288.3" cy="666.7" r="7.5"/><circle cx="271.7" cy="767.1" r="4.5"/><circle cx="327.8" cy="664.5" r="7.4"/><circle cx="274.5" cy="701.9" r="8.5"/><circle cx="274.9" cy="654.8" r="4.7"/><circle cx="228.7" cy="755.3" r="4.3"/><circle cx="323.2" cy="706.7" r="6.1"/><circle cx="284.0" cy="748.2" r="5.6"/><circle cx="294.2" cy="703.9" r="9.7"/><circle cx="260.5" cy="669.9" r="6.9"/><circle cx="255.0" cy="697.0" r="8.1"/><circle cx="312.1" cy="655.7" r="5.8"/><circle cx="250.9" cy="730.5" r="8.1"/><circle cx="281.4" cy="710.3" r="4.7"/><circle cx="296.4" cy="769.1" r="6.9"/><circle cx="231.0" cy="709.3" r="8.3"/><circle cx="254.7" cy="761.5" r="6.8"/><circle cx="320.2" cy="693.8" r="10.0"/><circle cx="331.9" cy="717.1" r="4.9"/><circle cx="304.4" cy="759.7" r="5.1"/><circle cx="291.9" cy="704.6" r="6.4"/><circle cx="321.3" cy="767.3" r="8.2"/><circle cx="286.3" cy="770.8" r="5.2"/><circle cx="326.5" cy="728.9" r="8.6"/><circle cx="342.1" cy="669.0" r="7.7"/><circle cx="276.1" cy="730.0" r="9.9"/><circle cx="285.2" cy="736.2" r="9.3"/><circle cx="312.4" cy="750.6" r="4.1"/><circle cx="231.6" cy="750.5" r="8.6"/><circle cx="246.2" cy="740.7" r="7.5"/><circle cx="245.0" cy="749.0" r="4.8"/><circle cx="306.9" cy="697.9" r="5.5"/><circle cx="300.1" cy="702.4" r="5.2"/><circle cx="339.9" cy="728.8" r="8.5"/><circle cx="288.2" cy="731.1" r="6.0"/><circle cx="256.1" cy="707.4" r="4.2"/><circle cx="228.6" cy="742.0" r="5.0"/><circle cx="327.2" cy="746.2" r="6.4"/><circle cx="316.1" cy="746.7" r="9.2"/><circle cx="273.0" cy="702.1" r="5.8"/><circle cx="273.1" cy="699.1" r="9.2"/><circle cx="262.2" cy="727.6" r="6.9"/><circle cx="296.0" cy="764.2" r="4.5"/><circle cx="338.0" cy="680.0" r="7.9"/><circle cx="333.9" cy="728.2" r="6.4"/><circle cx="274.4" cy="711.2" r="9.1"/><circle cx="334.1" cy="724.8" r="5.8"/><circle cx="251.1" cy="701.1" r="5.4"/><circle cx="257.7" cy="770.2" r="4.7"/><circle cx="337.2" cy="690.3" r="6.2"/><circle cx="284.1" cy="660.9" r="6.7"/><circle cx="259.8" cy="761.4" r="9.5"/><circle cx="281.8" cy="726.3" r="9.6"/><circle cx="244.7" cy="731.6" r="6.2"/><circle cx="269.2" cy="747.7" r="5.4"/><circle cx="335.7" cy="725.3" r="6.4"/><circle cx="337.9" cy="685.2" r="9.3"/><circle cx="318.3" cy="768.9" r="7.1"/><circle cx="327.3" cy="758.0" r="9.6"/><circle cx="327.6" cy="773.1" r="2.9"/><circle cx="308.4" cy="730.5" r="6.2"/><circle cx="275.0" cy="662.1" r="9.7"/><circle cx="268.9" cy="703.8" r="9.4"/><circle cx="244.3" cy="770.6" r="4.8"/><circle cx="269.7" cy="764.6" r="9.3"/><circle cx="328.8" cy="698.2" r="7.3"/><circle cx="251.7" cy="753.0" r="6.3"/><circle cx="258.7" cy="726.0" r="4.9"/><circle cx="263.4" cy="765.8" r="4.6"/><circle cx="253.8" cy="696.0" r="5.5"/><circle cx="267.2" cy="672.0" r="5.4"/><circle cx="306.6" cy="684.4" r="6.2"/><circle cx="238.0" cy="755.4" r="6.6"/><circle cx="331.3" cy="656.3" r="7.1"/><circle cx="341.1" cy="684.6" r="8.6"/><circle cx="306.6" cy="692.4" r="10.0"/><circle cx="274.5" cy="703.4" r="7.7"/><circle cx="263.4" cy="753.6" r="7.6"/><circle cx="303.3" cy="712.3" r="9.9"/><circle cx="283.7" cy="694.8" r="7.1"/><circle cx="232.4" cy="686.4" r="5.0"/><circle cx="238.5" cy="730.4" r="4.6"/><circle cx="252.4" cy="704.4" r="7.4"/><circle cx="237.2" cy="707.3" r="4.4"/><circle cx="246.2" cy="764.8" r="8.9"/><circle cx="293.7" cy="732.1" r="9.3"/><circle cx="237.4" cy="705.9" r="4.8"/><circle cx="248.5" cy="690.3" r="7.7"/><circle cx="322.3" cy="708.0" r="9.5"/><circle cx="337.1" cy="724.5" r="5.3"/><circle cx="272.3" cy="679.0" r="6.6"/><circle cx="279.7" cy="692.9" r="8.8"/><circle cx="286.4" cy="677.2" r="8.6"/><circle cx="320.2" cy="734.5" r="7.9"/><circle cx="221.4" cy="714.1" r="2.9"/><circle cx="245.4" cy="718.0" r="7.9"/><circle cx="308.8" cy="740.4" r="8.2"/><circle cx="286.7" cy="644.6" r="4.7"/><circle cx="337.9" cy="753.3" r="4.2"/><circle cx="232.8" cy="725.7" r="7.3"/><circle cx="244.3" cy="769.9" r="6.1"/><circle cx="259.8" cy="666.8" r="8.9"/><circle cx="319.9" cy="676.2" r="9.4"/><circle cx="300.5" cy="694.9" r="6.5"/><circle cx="322.8" cy="700.8" r="8.0"/><circle cx="234.8" cy="734.9" r="5.6"/><circle cx="350.7" cy="667.6" r="6.0"/><circle cx="296.0" cy="692.1" r="7.2"/><circle cx="352.7" cy="665.7" r="8.6"/><circle cx="318.8" cy="746.5" r="6.7"/><circle cx="283.7" cy="685.7" r="6.8"/><circle cx="254.3" cy="664.3" r="3.8"/><circle cx="245.1" cy="702.8" r="7.4"/><circle cx="262.4" cy="661.5" r="7.6"/><circle cx="343.3" cy="668.6" r="7.7"/><circle cx="313.7" cy="760.1" r="8.1"/><circle cx="262.1" cy="666.6" r="9.0"/><circle cx="344.8" cy="665.3" r="5.9"/><circle cx="263.7" cy="673.3" r="8.3"/><circle cx="267.3" cy="698.8" r="6.5"/><circle cx="302.1" cy="656.2" r="4.9"/><circle cx="306.1" cy="689.8" r="4.4"/><circle cx="303.3" cy="764.2" r="7.9"/><circle cx="289.7" cy="748.5" r="9.5"/><circle cx="353.0" cy="666.0" r="8.2"/><circle cx="320.1" cy="710.3" r="5.4"/><circle cx="314.7" cy="657.1" r="7.7"/><circle cx="274.4" cy="698.2" r="9.8"/><circle cx="274.5" cy="703.5" r="6.3"/><circle cx="248.5" cy="668.9" r="4.0"/><circle cx="275.9" cy="709.0" r="4.6"/><circle cx="291.9" cy="709.7" r="8.7"/><circle cx="302.3" cy="735.3" r="8.4"/><circle cx="287.2" cy="655.8" r="4.9"/><circle cx="264.1" cy="712.2" r="7.7"/><circle cx="311.9" cy="768.1" r="4.6"/><circle cx="298.9" cy="649.9" r="8.0"/><circle cx="281.2" cy="657.3" r="5.9"/><circle cx="314.0" cy="703.3" r="9.7"/><circle cx="269.1" cy="684.9" r="9.5"/><circle cx="305.9" cy="652.7" r="8.7"/><circle cx="270.3" cy="768.8" r="7.2"/><circle cx="335.2" cy="761.6" r="3.9"/><circle cx="266.9" cy="753.6" r="4.0"/><circle cx="322.0" cy="757.0" r="4.5"/><circle cx="296.3" cy="722.1" r="6.6"/><circle cx="278.5" cy="747.1" r="5.0"/><circle cx="223.5" cy="719.8" r="5.4"/><circle cx="338.5" cy="730.9" r="5.8"/><circle cx="253.1" cy="746.7" r="9.4"/><circle cx="276.1" cy="763.5" r="4.7"/><circle cx="304.6" cy="647.3" r="5.4"/><circle cx="276.4" cy="707.0" r="5.7"/><circle cx="294.4" cy="693.6" r="9.5"/><circle cx="235.5" cy="696.9" r="6.8"/><circle cx="271.7" cy="772.4" r="3.6"/><circle cx="292.8" cy="698.7" r="6.6"/><circle cx="312.1" cy="660.4" r="7.6"/><circle cx="235.7" cy="686.4" r="4.1"/><circle cx="320.5" cy="772.9" r="3.1"/><circle cx="300.6" cy="672.5" r="6.7"/><circle cx="285.1" cy="696.4" r="5.6"/><circle cx="249.1" cy="741.6" r="9.7"/><circle cx="337.6" cy="723.8" r="4.2"/><circle cx="261.3" cy="753.9" r="9.8"/><circle cx="297.4" cy="716.5" r="8.1"/><circle cx="253.2" cy="736.3" r="6.2"/><circle cx="314.4" cy="714.7" r="7.2"/><circle cx="284.6" cy="769.4" r="6.6"/><circle cx="278.6" cy="707.7" r="9.4"/><circle cx="326.7" cy="728.1" r="9.8"/><circle cx="234.1" cy="720.5" r="7.7"/><circle cx="283.7" cy="770.9" r="5.1"/><circle cx="274.3" cy="723.0" r="8.6"/><circle cx="319.2" cy="688.0" r="8.8"/><circle cx="268.1" cy="658.2" r="8.0"/><circle cx="312.3" cy="694.4" r="7.0"/><circle cx="276.7" cy="763.8" r="7.4"/><circle cx="276.4" cy="727.3" r="8.7"/><circle cx="348.6" cy="730.5" r="8.0"/><circle cx="283.7" cy="653.7" r="9.7"/><circle cx="270.1" cy="721.5" r="8.4"/><circle cx="243.1" cy="753.0" r="6.0"/><circle cx="228.7" cy="720.8" r="6.4"/><circle cx="287.2" cy="761.9" r="9.8"/><circle cx="345.5" cy="726.2" r="4.1"/><circle cx="249.6" cy="722.5" r="5.0"/><circle cx="261.4" cy="752.6" r="7.4"/><circle cx="323.6" cy="702.2" r="5.7"/><circle cx="290.9" cy="717.1" r="5.5"/><circle cx="323.0" cy="669.0" r="7.5"/><circle cx="251.9" cy="757.1" r="7.5"/><circle cx="292.0" cy="660.3" r="6.4"/><circle cx="286.4" cy="687.9" r="5.1"/><circle cx="246.0" cy="734.6" r="9.5"/><circle cx="229.2" cy="745.5" r="5.2"/><circle cx="244.0" cy="692.6" r="9.0"/><circle cx="261.7" cy="716.8" r="6.8"/><circle cx="234.8" cy="770.2" r="5.1"/><circle cx="335.2" cy="759.3" r="3.7"/><circle cx="238.6" cy="704.7" r="4.4"/><circle cx="334.3" cy="677.5" r="4.2"/><circle cx="347.7" cy="666.7" r="6.5"/><circle cx="235.3" cy="719.0" r="6.8"/><circle cx="266.5" cy="746.1" r="4.9"/><circle cx="250.4" cy="723.4" r="7.8"/><circle cx="335.1" cy="727.0" r="9.1"/><circle cx="239.7" cy="765.2" r="4.2"/><circle cx="307.1" cy="686.5" r="9.7"/><circle cx="324.6" cy="665.0" r="7.3"/><circle cx="310.8" cy="737.3" r="9.2"/><circle cx="327.6" cy="656.9" r="8.4"/><circle cx="287.5" cy="678.7" r="4.4"/><circle cx="308.8" cy="770.7" r="4.7"/><circle cx="341.2" cy="659.5" r="5.8"/><circle cx="300.1" cy="759.4" r="7.2"/><circle cx="230.0" cy="766.3" r="7.4"/><circle cx="331.4" cy="669.7" r="6.0"/><circle cx="281.1" cy="694.7" r="7.9"/><circle cx="339.4" cy="684.1" r="9.6"/><circle cx="312.9" cy="685.6" r="5.1"/><circle cx="223.2" cy="732.5" r="6.3"/><circle cx="278.8" cy="743.6" r="5.3"/><circle cx="256.3" cy="712.5" r="9.4"/><circle cx="229.5" cy="753.1" r="8.3"/><circle cx="242.9" cy="729.3" r="7.7"/><circle cx="321.2" cy="712.1" r="5.9"/><circle cx="290.7" cy="670.8" r="6.7"/><circle cx="276.6" cy="652.7" r="5.4"/><circle cx="267.5" cy="692.3" r="7.4"/><circle cx="326.6" cy="673.7" r="7.3"/><circle cx="266.5" cy="669.3" r="4.8"/><circle cx="339.0" cy="661.6" r="4.9"/><circle cx="278.9" cy="733.1" r="9.0"/><circle cx="333.7" cy="690.4" r="5.9"/><circle cx="256.0" cy="673.4" r="5.4"/><circle cx="292.9" cy="750.2" r="5.9"/><circle cx="278.1" cy="704.7" r="9.1"/></g>
<g fill="url(#bw)" stroke="#8a8a8a" stroke-width="0.6" stroke-opacity="0.5"><circle cx="223.2" cy="698.6" r="5.3"/><circle cx="228.6" cy="691.9" r="6.0"/><circle cx="232.5" cy="684.1" r="3.5"/><circle cx="240.6" cy="679.7" r="5.4"/><circle cx="244.5" cy="672.1" r="3.9"/><circle cx="251.8" cy="667.5" r="4.7"/><circle cx="255.6" cy="659.9" r="4.6"/><circle cx="262.5" cy="656.1" r="4.7"/><circle cx="269.0" cy="650.7" r="4.0"/><circle cx="277.8" cy="648.8" r="3.2"/><circle cx="285.0" cy="644.2" r="3.0"/><circle cx="294.0" cy="644.1" r="5.8"/><circle cx="302.5" cy="642.8" r="5.7"/><circle cx="310.3" cy="645.9" r="4.4"/><circle cx="317.7" cy="649.2" r="3.3"/><circle cx="324.8" cy="652.7" r="5.5"/><circle cx="334.2" cy="652.5" r="4.5"/><circle cx="343.9" cy="653.6" r="4.4"/><circle cx="351.7" cy="658.6" r="4.9"/><circle cx="357.2" cy="665.9" r="3.5"/><circle cx="357.2" cy="675.4" r="3.7"/><circle cx="360.1" cy="683.9" r="5.4"/><circle cx="355.1" cy="692.5" r="5.2"/><circle cx="346.3" cy="698.4" r="6.0"/><circle cx="337.4" cy="697.9" r="4.3"/><circle cx="329.4" cy="704.7" r="5.9"/><circle cx="328.4" cy="711.1" r="5.7"/><circle cx="333.0" cy="717.9" r="4.5"/><circle cx="341.4" cy="720.7" r="5.7"/><circle cx="351.4" cy="727.4" r="3.5"/><circle cx="355.9" cy="736.6" r="3.2"/><circle cx="350.7" cy="744.4" r="5.4"/><circle cx="343.6" cy="750.5" r="3.4"/><circle cx="335.3" cy="754.7" r="4.5"/><circle cx="334.3" cy="763.5" r="5.2"/><circle cx="227.1" cy="762.8" r="5.0"/><circle cx="225.1" cy="755.0" r="3.7"/><circle cx="223.3" cy="745.5" r="5.4"/><circle cx="219.6" cy="737.0" r="3.1"/><circle cx="223.1" cy="727.5" r="4.7"/><circle cx="223.7" cy="718.5" r="5.7"/><circle cx="223.8" cy="709.9" r="4.6"/><circle cx="219.8" cy="701.7" r="3.9"/></g>
<g fill="url(#bd)" stroke="#444" stroke-width="1" stroke-opacity="0.5"><circle cx="338.8" cy="768.2" r="5.5"/><circle cx="331.0" cy="763.1" r="3.8"/><circle cx="333.2" cy="765.4" r="5.7"/><circle cx="325.5" cy="764.2" r="3.9"/><circle cx="339.2" cy="769.3" r="4.4"/><circle cx="330.0" cy="769.8" r="5.6"/><circle cx="329.5" cy="762.6" r="4.1"/><circle cx="334.3" cy="761.2" r="5.1"/><circle cx="327.3" cy="769.5" r="3.5"/><circle cx="336.2" cy="765.7" r="5.5"/><circle cx="339.4" cy="768.3" r="3.1"/><circle cx="333.7" cy="771.1" r="4.4"/></g>
<polygon points="340.8,672.0 340.9,673.8 339.1,675.1 336.5,675.2 334.0,676.1 331.2,676.2 329.1,674.8 327.9,673.3 326.8,672.0 327.3,670.3 329.6,670.0 331.5,669.0 334.0,667.5 336.7,668.2 338.9,669.3 340.9,670.2" fill="#55e0e0" stroke="#8a8a8a" stroke-width="0.6" stroke-opacity="0.5"/>
<g fill="url(#bc)" stroke="#2a9a9a" stroke-width="1" stroke-opacity="0.5"><circle cx="335.7" cy="673.0" r="3.5"/><circle cx="333.1" cy="670.4" r="3.8"/></g>
<polygon points="351.5,683.0 351.6,684.7 349.6,685.7 346.9,686.2 344.0,687.1 340.8,687.3 338.4,685.7 337.0,684.3 335.9,683.0 336.8,681.6 338.5,680.5 341.2,680.2 344.0,678.2 347.1,678.8 349.6,680.2 351.4,681.5" fill="#55e0e0" stroke="#8a8a8a" stroke-width="0.6" stroke-opacity="0.5"/>
<g fill="url(#bc)" stroke="#2a9a9a" stroke-width="1" stroke-opacity="0.5"><circle cx="346.3" cy="685.3" r="2.8"/><circle cx="339.6" cy="684.7" r="2.9"/></g>
<polygon points="318.7,723.0 317.4,725.1 314.6,725.8 312.4,726.4 309.8,727.3 307.0,727.5 304.3,726.5 301.5,726.8 299.0,726.6 296.7,724.9 295.8,723.0 296.3,720.6 299.1,719.6 301.6,719.7 304.3,719.5 307.0,718.4 309.8,718.7 312.4,719.8 314.7,720.0 317.9,720.5" fill="#55e0e0" stroke="#8a8a8a" stroke-width="0.6" stroke-opacity="0.5"/>
<g fill="url(#bc)" stroke="#2a9a9a" stroke-width="1" stroke-opacity="0.5"><circle cx="305.8" cy="724.0" r="2.7"/><circle cx="307.6" cy="724.0" r="3.0"/></g>
<circle cx="347.3" cy="708.9" r="13.6" fill="#a8e4f6" fill-opacity="0.85" stroke="#213a66" stroke-width="1.1" stroke-dasharray="3.2,2"/>
<g stroke="#111" fill="none" stroke-width="1.5"><line x1="381.5" y1="632.3" x2="381.5" y2="656.5"/><path d="M373.6,637.6 C369.5,642.3 373.5,649.8 381.5,649.3 C387.5,648.8 391.5,643.3 391.2,637.3"/><path d="M387.7,642.0 L391.2,637.3 L396.4,639.3"/></g>
<text x="374.5" y="667.0" font-size="12.2" text-anchor="start" fill="#111" font-weight="normal" font-style="normal" >90<tspan font-size="8" dy="-4.5">o</tspan></text>
<polygon points="375.5,706.4 377.7,701.5 380.1,696.2 380.8,692.1 383.3,687.9 386.7,684.3 387.5,680.4 387.5,676.5 389.0,673.3 392.6,670.1 397.1,666.5 400.0,662.0 405.2,660.1 410.3,657.4 413.0,653.8 415.3,649.0 419.2,645.8 422.7,643.3 426.0,637.9 430.8,635.4 435.6,636.9 440.0,635.8 444.5,635.1 450.0,637.2 454.4,640.5 458.7,641.2 462.1,643.9 464.5,647.0 469.6,649.9 475.4,650.7 480.8,651.4 485.6,655.1 489.2,657.3 493.4,659.8 497.3,662.4 500.8,665.3 504.9,666.9 508.7,667.5 510.4,671.2 510.2,673.9 505.8,674.9 502.0,676.4 500.2,681.4 502.4,687.6 507.0,691.1 510.3,695.6 511.1,699.8 512.8,704.2 514.4,709.1 511.5,713.5 508.1,717.6 506.1,722.2 503.6,726.3 499.0,728.6 495.6,732.1 496.4,737.4 495.7,741.8 492.9,746.1 490.9,749.9 489.6,754.5 485.7,757.5 483.0,761.3 484.5,766.7 486.5,771.6 479.0,773.8 477.0,774.9 474.3,776.0 470.8,776.0 467.0,776.0 462.9,776.0 458.5,776.0 453.8,776.0 449.0,775.4 444.1,776.0 439.1,776.0 434.2,776.0 429.2,775.5 424.4,776.0 419.7,776.0 415.3,776.0 411.2,776.0 407.3,776.0 403.9,776.0 401.2,773.6 398.9,773.9 390.0,772.3 391.8,766.8 392.6,761.3 389.1,757.6 386.1,753.3 385.9,747.6 384.7,743.2 380.8,739.4 380.3,734.9 379.4,730.5 377.3,726.3 375.1,722.1 374.8,717.6 376.0,712.0" fill="#d4d4d4" stroke="#b8b8b8" stroke-width="1.2" stroke-linejoin="round"/>
<g fill="url(#bw)" stroke="#5a5a5a" stroke-width="1" stroke-opacity="0.5"><circle cx="464.7" cy="719.0" r="7.4"/><circle cx="461.4" cy="767.6" r="7.0"/><circle cx="435.0" cy="736.6" r="5.4"/><circle cx="416.8" cy="772.9" r="3.1"/><circle cx="432.8" cy="716.8" r="4.1"/><circle cx="460.8" cy="724.2" r="4.4"/><circle cx="462.4" cy="700.8" r="8.1"/><circle cx="424.0" cy="734.7" r="8.4"/><circle cx="469.2" cy="770.8" r="5.2"/><circle cx="438.5" cy="718.6" r="5.9"/><circle cx="425.6" cy="679.1" r="6.2"/><circle cx="457.9" cy="677.4" r="6.3"/><circle cx="454.3" cy="738.7" r="5.9"/><circle cx="405.9" cy="748.4" r="5.4"/><circle cx="401.0" cy="696.4" r="8.2"/><circle cx="491.1" cy="696.9" r="9.1"/><circle cx="398.5" cy="682.5" r="7.9"/><circle cx="498.3" cy="698.6" r="5.4"/><circle cx="391.7" cy="709.7" r="5.1"/><circle cx="487.4" cy="753.2" r="2.8"/><circle cx="413.7" cy="748.8" r="7.9"/><circle cx="487.3" cy="683.7" r="4.8"/><circle cx="415.6" cy="746.9" r="5.6"/><circle cx="423.2" cy="693.8" r="6.5"/><circle cx="432.0" cy="764.8" r="4.9"/><circle cx="435.4" cy="769.0" r="7.0"/><circle cx="405.8" cy="740.1" r="9.0"/><circle cx="467.3" cy="708.2" r="5.7"/><circle cx="422.4" cy="667.1" r="4.4"/><circle cx="457.0" cy="675.5" r="8.9"/><circle cx="471.6" cy="765.3" r="9.4"/><circle cx="500.4" cy="716.4" r="4.1"/><circle cx="478.8" cy="659.3" r="5.8"/><circle cx="467.3" cy="709.1" r="6.5"/><circle cx="410.1" cy="756.5" r="6.9"/><circle cx="484.0" cy="684.7" r="5.2"/><circle cx="449.4" cy="750.2" r="5.0"/><circle cx="487.3" cy="751.1" r="4.0"/><circle cx="462.5" cy="756.6" r="4.3"/><circle cx="412.7" cy="672.9" r="7.2"/><circle cx="433.9" cy="701.7" r="8.7"/><circle cx="444.9" cy="679.6" r="5.9"/><circle cx="423.8" cy="726.2" r="7.5"/><circle cx="425.2" cy="662.0" r="6.0"/><circle cx="392.1" cy="713.4" r="8.3"/><circle cx="427.9" cy="646.3" r="5.1"/><circle cx="426.9" cy="720.3" r="8.7"/><circle cx="427.9" cy="748.0" r="7.7"/><circle cx="435.1" cy="687.6" r="7.0"/><circle cx="472.9" cy="694.3" r="8.2"/><circle cx="439.1" cy="669.6" r="7.2"/><circle cx="434.1" cy="695.1" r="9.3"/><circle cx="411.4" cy="700.5" r="4.7"/><circle cx="488.3" cy="728.4" r="9.3"/><circle cx="485.4" cy="729.2" r="8.4"/><circle cx="453.5" cy="649.6" r="7.5"/><circle cx="391.8" cy="754.0" r="4.4"/><circle cx="455.6" cy="747.6" r="4.2"/><circle cx="481.9" cy="707.1" r="8.3"/><circle cx="389.7" cy="740.6" r="5.3"/><circle cx="453.5" cy="751.8" r="5.5"/><circle cx="399.9" cy="670.3" r="4.2"/><circle cx="480.0" cy="690.6" r="6.2"/><circle cx="430.2" cy="684.4" r="6.5"/><circle cx="386.5" cy="705.6" r="9.8"/><circle cx="432.4" cy="740.4" r="5.0"/><circle cx="471.2" cy="741.6" r="8.0"/><circle cx="447.0" cy="703.2" r="7.9"/><circle cx="388.2" cy="740.5" r="5.2"/><circle cx="447.0" cy="697.5" r="8.3"/><circle cx="400.8" cy="672.8" r="5.2"/><circle cx="456.5" cy="679.4" r="5.4"/><circle cx="471.3" cy="769.4" r="5.8"/><circle cx="473.2" cy="693.3" r="9.1"/><circle cx="456.4" cy="672.7" r="5.3"/><circle cx="398.9" cy="685.9" r="5.9"/><circle cx="441.7" cy="719.5" r="6.8"/><circle cx="452.6" cy="702.9" r="8.3"/><circle cx="494.4" cy="691.5" r="8.4"/><circle cx="508.8" cy="700.9" r="3.0"/><circle cx="407.6" cy="736.2" r="8.1"/><circle cx="408.6" cy="661.8" r="3.1"/><circle cx="401.0" cy="734.4" r="9.2"/><circle cx="500.4" cy="671.0" r="5.1"/><circle cx="418.6" cy="694.7" r="8.4"/><circle cx="491.2" cy="676.2" r="6.1"/><circle cx="455.8" cy="730.3" r="4.0"/><circle cx="421.5" cy="696.5" r="6.9"/><circle cx="404.1" cy="717.5" r="9.7"/><circle cx="429.4" cy="711.8" r="4.7"/><circle cx="413.2" cy="728.9" r="4.7"/><circle cx="427.0" cy="743.9" r="8.5"/><circle cx="416.1" cy="730.3" r="7.9"/><circle cx="487.3" cy="672.5" r="8.5"/><circle cx="449.6" cy="651.0" r="7.0"/><circle cx="424.0" cy="736.3" r="8.1"/><circle cx="453.9" cy="660.7" r="7.9"/><circle cx="462.9" cy="660.3" r="9.3"/><circle cx="466.3" cy="652.4" r="5.3"/><circle cx="394.6" cy="681.8" r="8.3"/><circle cx="458.2" cy="713.3" r="7.9"/><circle cx="438.7" cy="679.1" r="5.1"/><circle cx="384.4" cy="736.0" r="4.7"/><circle cx="450.6" cy="739.3" r="6.2"/><circle cx="411.9" cy="689.1" r="9.2"/><circle cx="380.7" cy="706.2" r="5.5"/><circle cx="482.1" cy="685.0" r="6.0"/><circle cx="431.1" cy="711.4" r="8.6"/><circle cx="424.1" cy="754.4" r="4.7"/><circle cx="390.6" cy="744.9" r="4.6"/><circle cx="433.0" cy="739.8" r="8.9"/><circle cx="479.3" cy="718.5" r="4.9"/><circle cx="430.4" cy="662.4" r="7.2"/><circle cx="454.1" cy="663.6" r="5.5"/><circle cx="451.9" cy="717.2" r="7.8"/><circle cx="416.6" cy="756.3" r="6.9"/><circle cx="458.7" cy="737.5" r="4.0"/><circle cx="482.3" cy="728.4" r="7.0"/><circle cx="447.9" cy="700.0" r="5.2"/><circle cx="448.7" cy="640.3" r="3.9"/><circle cx="465.0" cy="697.7" r="7.4"/><circle cx="393.8" cy="746.7" r="7.7"/><circle cx="450.0" cy="766.1" r="5.9"/><circle cx="393.6" cy="756.0" r="4.2"/><circle cx="478.0" cy="683.5" r="8.8"/><circle cx="435.8" cy="741.7" r="6.9"/><circle cx="397.3" cy="705.1" r="8.2"/><circle cx="449.8" cy="694.6" r="7.9"/><circle cx="417.3" cy="700.5" r="8.5"/><circle cx="430.8" cy="660.5" r="9.4"/><circle cx="475.2" cy="686.8" r="6.2"/><circle cx="448.7" cy="719.1" r="5.3"/><circle cx="402.1" cy="664.6" r="2.8"/><circle cx="431.2" cy="658.8" r="4.2"/><circle cx="443.2" cy="643.5" r="4.1"/><circle cx="437.3" cy="692.5" r="8.2"/><circle cx="441.1" cy="658.3" r="7.7"/><circle cx="423.2" cy="652.5" r="4.3"/><circle cx="476.4" cy="673.8" r="8.7"/><circle cx="439.8" cy="766.5" r="5.8"/><circle cx="409.7" cy="672.5" r="8.9"/><circle cx="462.6" cy="683.7" r="4.6"/><circle cx="470.0" cy="771.7" r="4.3"/><circle cx="466.1" cy="761.9" r="5.2"/><circle cx="459.5" cy="768.5" r="4.5"/><circle cx="415.8" cy="754.8" r="4.7"/><circle cx="429.2" cy="682.2" r="8.1"/><circle cx="478.1" cy="738.5" r="9.0"/><circle cx="452.0" cy="765.2" r="6.2"/><circle cx="432.7" cy="667.4" r="8.7"/><circle cx="441.9" cy="673.0" r="5.0"/><circle cx="475.4" cy="720.4" r="8.3"/><circle cx="428.8" cy="703.7" r="4.9"/><circle cx="440.0" cy="742.0" r="8.1"/><circle cx="492.5" cy="725.6" r="9.3"/><circle cx="496.5" cy="698.5" r="9.4"/><circle cx="477.1" cy="682.1" r="6.2"/><circle cx="384.9" cy="691.4" r="5.4"/><circle cx="389.5" cy="715.2" r="4.7"/><circle cx="386.1" cy="726.6" r="5.4"/><circle cx="464.8" cy="717.6" r="4.1"/><circle cx="406.9" cy="771.4" r="4.6"/><circle cx="453.3" cy="694.2" r="8.7"/><circle cx="459.2" cy="746.2" r="7.2"/><circle cx="439.7" cy="666.5" r="9.0"/><circle cx="460.7" cy="725.5" r="8.6"/><circle cx="496.5" cy="683.8" r="4.2"/><circle cx="437.0" cy="650.7" r="9.0"/><circle cx="457.8" cy="749.9" r="5.2"/><circle cx="450.1" cy="700.5" r="8.4"/><circle cx="442.4" cy="645.2" r="7.3"/><circle cx="477.4" cy="694.7" r="7.9"/><circle cx="459.4" cy="665.3" r="6.1"/><circle cx="434.9" cy="646.9" r="5.3"/><circle cx="397.9" cy="766.3" r="8.4"/><circle cx="460.2" cy="766.3" r="7.2"/><circle cx="433.3" cy="768.7" r="7.3"/><circle cx="507.3" cy="703.3" r="4.8"/><circle cx="415.6" cy="766.7" r="5.1"/><circle cx="388.2" cy="736.9" r="5.8"/><circle cx="447.3" cy="725.2" r="4.2"/><circle cx="478.8" cy="674.0" r="6.6"/><circle cx="422.9" cy="739.7" r="8.5"/><circle cx="416.6" cy="693.0" r="4.5"/><circle cx="396.2" cy="742.6" r="8.2"/><circle cx="497.1" cy="687.6" r="5.0"/><circle cx="418.4" cy="700.3" r="7.2"/><circle cx="450.5" cy="685.8" r="9.1"/><circle cx="414.6" cy="700.3" r="9.3"/><circle cx="487.4" cy="677.0" r="5.5"/><circle cx="393.2" cy="709.9" r="7.2"/><circle cx="403.3" cy="743.6" r="6.8"/><circle cx="435.2" cy="682.7" r="4.3"/><circle cx="451.0" cy="648.3" r="5.9"/><circle cx="409.3" cy="748.1" r="6.5"/><circle cx="434.8" cy="723.5" r="8.1"/><circle cx="480.6" cy="746.3" r="7.1"/><circle cx="490.8" cy="712.8" r="5.7"/><circle cx="464.6" cy="761.5" r="9.4"/><circle cx="440.1" cy="728.9" r="9.6"/><circle cx="488.4" cy="720.0" r="6.5"/><circle cx="447.2" cy="659.1" r="5.1"/><circle cx="470.2" cy="774.9" r="1.5"/><circle cx="431.8" cy="684.7" r="6.7"/><circle cx="486.9" cy="698.8" r="9.8"/><circle cx="396.5" cy="679.5" r="7.1"/><circle cx="432.3" cy="755.0" r="9.0"/><circle cx="504.8" cy="721.4" r="2.3"/><circle cx="455.0" cy="712.5" r="6.9"/><circle cx="413.9" cy="735.0" r="9.5"/><circle cx="389.1" cy="729.3" r="6.2"/><circle cx="446.7" cy="761.3" r="9.8"/><circle cx="464.6" cy="662.6" r="9.5"/><circle cx="400.1" cy="689.1" r="9.0"/><circle cx="419.0" cy="673.2" r="9.7"/><circle cx="429.6" cy="674.8" r="4.8"/><circle cx="409.7" cy="773.2" r="2.8"/><circle cx="406.9" cy="663.3" r="4.5"/><circle cx="448.3" cy="739.8" r="9.0"/><circle cx="462.9" cy="750.3" r="4.0"/><circle cx="414.2" cy="770.5" r="4.4"/><circle cx="412.2" cy="703.1" r="5.6"/><circle cx="451.0" cy="641.7" r="3.0"/><circle cx="465.1" cy="655.1" r="4.3"/><circle cx="480.8" cy="659.9" r="5.1"/><circle cx="449.4" cy="689.0" r="4.6"/><circle cx="429.2" cy="774.2" r="1.8"/><circle cx="392.5" cy="684.7" r="5.2"/><circle cx="424.3" cy="769.1" r="6.9"/><circle cx="473.0" cy="679.2" r="4.1"/><circle cx="423.0" cy="740.5" r="8.7"/><circle cx="454.2" cy="700.5" r="7.2"/><circle cx="436.5" cy="710.4" r="9.0"/><circle cx="402.8" cy="718.8" r="9.6"/><circle cx="411.9" cy="663.6" r="4.3"/><circle cx="470.5" cy="709.1" r="8.6"/><circle cx="387.7" cy="711.2" r="6.6"/><circle cx="395.3" cy="719.7" r="5.9"/><circle cx="445.5" cy="687.7" r="5.9"/><circle cx="424.8" cy="719.8" r="9.9"/><circle cx="491.4" cy="675.5" r="9.9"/><circle cx="444.7" cy="738.3" r="6.0"/><circle cx="464.9" cy="674.9" r="9.8"/><circle cx="438.0" cy="702.4" r="7.2"/><circle cx="448.6" cy="697.3" r="7.7"/><circle cx="384.5" cy="695.0" r="5.0"/><circle cx="494.1" cy="689.2" r="9.9"/><circle cx="426.0" cy="665.3" r="7.3"/><circle cx="498.2" cy="695.8" r="9.2"/><circle cx="474.1" cy="686.0" r="5.8"/><circle cx="445.3" cy="691.3" r="6.2"/><circle cx="465.8" cy="758.4" r="7.5"/><circle cx="426.6" cy="721.7" r="4.8"/><circle cx="450.0" cy="764.9" r="7.2"/><circle cx="477.7" cy="751.8" r="9.0"/><circle cx="502.2" cy="697.3" r="8.1"/><circle cx="441.2" cy="760.5" r="5.7"/><circle cx="401.3" cy="751.1" r="7.6"/><circle cx="491.0" cy="661.0" r="3.1"/><circle cx="429.1" cy="707.2" r="6.6"/></g>
<g fill="url(#bw)" stroke="#8a8a8a" stroke-width="0.6" stroke-opacity="0.5"><circle cx="379.2" cy="706.7" r="4.9"/><circle cx="383.7" cy="697.0" r="5.0"/><circle cx="386.3" cy="689.0" r="4.3"/><circle cx="389.7" cy="681.6" r="3.3"/><circle cx="392.7" cy="675.8" r="5.9"/><circle cx="399.9" cy="669.1" r="5.1"/><circle cx="406.7" cy="662.0" r="3.3"/><circle cx="414.6" cy="656.7" r="4.3"/><circle cx="420.7" cy="649.5" r="5.3"/><circle cx="427.2" cy="642.2" r="6.0"/><circle cx="435.9" cy="639.3" r="3.2"/><circle cx="444.5" cy="637.3" r="3.0"/><circle cx="454.0" cy="643.8" r="4.4"/><circle cx="461.3" cy="647.0" r="4.3"/><circle cx="468.0" cy="653.9" r="5.7"/><circle cx="478.7" cy="654.9" r="5.5"/><circle cx="487.3" cy="659.6" r="4.0"/><circle cx="495.0" cy="664.6" r="4.3"/><circle cx="502.0" cy="669.0" r="4.7"/><circle cx="506.8" cy="673.4" r="5.7"/><circle cx="503.5" cy="676.3" r="3.6"/><circle cx="497.4" cy="682.9" r="4.2"/><circle cx="504.7" cy="691.9" r="3.3"/><circle cx="507.4" cy="700.5" r="4.9"/><circle cx="512.0" cy="709.2" r="3.1"/><circle cx="503.8" cy="717.2" r="5.8"/><circle cx="500.3" cy="725.5" r="4.6"/><circle cx="492.3" cy="730.8" r="4.7"/><circle cx="493.6" cy="740.6" r="3.3"/><circle cx="488.8" cy="748.1" r="3.7"/><circle cx="483.5" cy="755.1" r="4.4"/><circle cx="482.1" cy="763.3" r="5.6"/><circle cx="394.2" cy="764.3" r="4.6"/><circle cx="391.3" cy="755.7" r="3.9"/><circle cx="389.7" cy="745.3" r="5.9"/><circle cx="384.2" cy="737.9" r="5.0"/><circle cx="382.7" cy="729.6" r="4.6"/><circle cx="377.8" cy="721.7" r="3.6"/><circle cx="379.0" cy="712.0" r="3.9"/></g>
<g fill="url(#bd)" stroke="#444" stroke-width="1" stroke-opacity="0.5"><circle cx="420.0" cy="765.1" r="4.1"/><circle cx="427.6" cy="772.7" r="3.3"/><circle cx="426.6" cy="754.3" r="3.2"/><circle cx="416.9" cy="757.1" r="3.6"/><circle cx="430.9" cy="754.6" r="5.5"/><circle cx="432.2" cy="759.3" r="3.6"/><circle cx="419.0" cy="759.0" r="5.6"/><circle cx="415.8" cy="759.1" r="3.5"/><circle cx="411.0" cy="755.8" r="5.1"/><circle cx="413.9" cy="751.9" r="3.7"/><circle cx="417.1" cy="763.7" r="3.7"/><circle cx="425.4" cy="754.6" r="5.0"/><circle cx="422.5" cy="753.6" r="5.3"/><circle cx="415.6" cy="763.0" r="4.8"/><circle cx="423.1" cy="760.5" r="3.2"/><circle cx="428.2" cy="771.4" r="4.5"/><circle cx="421.5" cy="756.0" r="5.7"/><circle cx="424.9" cy="754.8" r="5.5"/><circle cx="408.7" cy="767.6" r="4.0"/><circle cx="426.4" cy="764.2" r="3.3"/><circle cx="419.9" cy="771.1" r="4.4"/><circle cx="420.3" cy="771.4" r="4.3"/><circle cx="418.8" cy="764.2" r="5.5"/><circle cx="427.4" cy="763.4" r="3.9"/><circle cx="420.3" cy="774.7" r="1.5"/><circle cx="426.9" cy="756.6" r="3.0"/><circle cx="424.7" cy="768.1" r="4.1"/><circle cx="418.3" cy="763.7" r="3.7"/><circle cx="425.3" cy="763.6" r="4.2"/><circle cx="406.5" cy="763.4" r="4.0"/><circle cx="426.2" cy="753.5" r="4.2"/><circle cx="409.3" cy="759.6" r="4.7"/><circle cx="418.4" cy="754.2" r="4.5"/><circle cx="420.2" cy="773.0" r="3.0"/></g>
<polygon points="503.4,717.0 502.6,718.0 502.3,719.8 500.6,720.8 498.5,720.7 496.8,719.5 494.7,719.9 494.0,718.3 494.3,717.0 494.3,715.9 494.4,713.8 496.6,713.7 498.5,713.6 500.5,713.4 502.3,714.2 502.6,715.9" fill="#55e0e0" stroke="#8a8a8a" stroke-width="0.6" stroke-opacity="0.5"/>
<g fill="url(#bc)" stroke="#2a9a9a" stroke-width="1" stroke-opacity="0.5"><circle cx="500.3" cy="719.1" r="2.6"/><circle cx="500.0" cy="718.3" r="2.7"/></g>
<g stroke="#111" fill="none" stroke-width="1.5"><line x1="525.5" y1="632.3" x2="525.5" y2="656.5"/><path d="M517.6,637.6 C513.5,642.3 517.5,649.8 525.5,649.3 C531.5,648.8 535.5,643.3 535.2,637.3"/><path d="M531.7,642.0 L535.2,637.3 L540.4,639.3"/></g>
<text x="518.5" y="667.0" font-size="12.2" text-anchor="start" fill="#111" font-weight="normal" font-style="normal" >90<tspan font-size="8" dy="-4.5">o</tspan></text>
<polygon points="533.2,689.1 535.3,684.2 538.4,679.4 539.0,674.0 538.5,669.2 539.4,665.0 540.4,660.7 540.4,655.5 543.3,651.0 547.1,647.7 551.0,645.1 555.3,642.4 560.3,641.9 564.7,641.7 568.6,638.8 573.2,637.6 578.3,639.0 583.5,640.1 588.6,640.2 593.2,640.0 597.6,641.1 601.5,641.5 606.9,642.8 610.5,647.4 610.8,652.5 614.4,656.7 618.0,659.6 621.1,662.5 625.5,664.5 630.3,664.2 636.1,666.5 640.7,669.7 643.0,672.9 646.0,676.2 647.3,680.5 648.7,685.0 650.7,689.5 653.6,692.3 656.4,696.1 658.1,700.2 658.7,703.9 657.8,708.5 655.2,713.2 655.2,718.4 658.1,723.3 659.4,728.5 656.9,733.4 656.7,738.6 658.1,743.9 656.9,748.2 656.7,752.9 658.1,757.3 658.7,761.4 661.7,767.0 663.8,770.7 656.5,775.5 654.1,775.8 651.3,775.4 648.2,775.6 644.7,776.0 640.9,776.0 636.7,774.7 632.4,775.9 627.9,776.0 623.1,775.3 618.2,775.1 613.2,776.0 608.1,776.0 603.0,776.0 597.9,776.0 592.8,776.0 587.8,776.0 582.9,775.0 578.2,775.2 573.5,776.0 569.1,776.0 565.0,776.0 561.1,776.0 557.4,776.0 554.4,774.7 551.6,774.4 548.8,776.0 539.4,771.8 542.7,767.2 542.5,761.4 539.4,757.7 537.2,753.0 536.1,747.8 533.3,744.1 531.3,739.3 532.7,734.5 532.9,730.8 531.6,725.6 534.0,722.1 537.5,721.5 539.0,717.8 537.0,713.3 535.9,707.8 536.5,702.2 534.8,697.9 533.6,693.6" fill="#d4d4d4" stroke="#b8b8b8" stroke-width="1.2" stroke-linejoin="round"/>
<g fill="url(#bw)" stroke="#5a5a5a" stroke-width="1" stroke-opacity="0.5"><circle cx="558.8" cy="645.8" r="4.3"/><circle cx="553.6" cy="731.3" r="4.9"/><circle cx="601.4" cy="744.7" r="6.5"/><circle cx="563.3" cy="694.4" r="4.2"/><circle cx="587.1" cy="672.0" r="9.3"/><circle cx="641.4" cy="706.6" r="4.2"/><circle cx="565.0" cy="671.1" r="5.2"/><circle cx="561.9" cy="758.0" r="4.9"/><circle cx="606.2" cy="774.7" r="1.5"/><circle cx="650.6" cy="728.1" r="8.7"/><circle cx="629.9" cy="706.0" r="4.6"/><circle cx="559.2" cy="758.5" r="9.4"/><circle cx="618.3" cy="748.2" r="7.9"/><circle cx="639.2" cy="710.7" r="7.9"/><circle cx="622.2" cy="674.7" r="9.5"/><circle cx="659.9" cy="770.7" r="2.9"/><circle cx="548.2" cy="771.6" r="4.4"/><circle cx="615.4" cy="716.4" r="8.5"/><circle cx="546.6" cy="749.7" r="8.7"/><circle cx="647.6" cy="713.8" r="9.3"/><circle cx="558.0" cy="730.5" r="6.0"/><circle cx="649.4" cy="744.7" r="6.8"/><circle cx="596.0" cy="757.3" r="7.6"/><circle cx="549.6" cy="687.7" r="8.6"/><circle cx="642.3" cy="752.1" r="4.5"/><circle cx="603.3" cy="690.3" r="8.7"/><circle cx="572.5" cy="669.9" r="6.9"/><circle cx="546.4" cy="723.5" r="9.3"/><circle cx="599.2" cy="697.6" r="9.1"/><circle cx="571.3" cy="753.4" r="6.5"/><circle cx="551.0" cy="706.0" r="6.0"/><circle cx="603.1" cy="762.7" r="8.3"/><circle cx="603.5" cy="704.9" r="8.3"/><circle cx="595.4" cy="648.0" r="5.5"/><circle cx="643.6" cy="686.9" r="4.7"/><circle cx="620.9" cy="721.9" r="5.9"/><circle cx="652.2" cy="702.2" r="5.2"/><circle cx="571.8" cy="757.7" r="8.7"/><circle cx="612.5" cy="698.8" r="4.8"/><circle cx="633.4" cy="687.7" r="8.0"/><circle cx="548.9" cy="649.0" r="2.7"/><circle cx="607.6" cy="686.1" r="7.7"/><circle cx="543.6" cy="693.3" r="9.6"/><circle cx="555.1" cy="728.1" r="6.0"/><circle cx="571.1" cy="640.8" r="2.3"/><circle cx="637.4" cy="749.3" r="9.7"/><circle cx="552.3" cy="718.4" r="7.0"/><circle cx="607.3" cy="767.4" r="8.6"/><circle cx="617.6" cy="731.1" r="8.5"/><circle cx="613.1" cy="752.6" r="5.8"/><circle cx="650.1" cy="735.0" r="5.9"/><circle cx="561.8" cy="682.8" r="7.8"/><circle cx="584.3" cy="693.0" r="8.9"/><circle cx="568.9" cy="694.5" r="4.1"/><circle cx="555.6" cy="712.3" r="8.2"/><circle cx="612.7" cy="688.0" r="9.7"/><circle cx="613.8" cy="659.2" r="2.4"/><circle cx="653.2" cy="721.1" r="3.2"/><circle cx="543.4" cy="673.3" r="5.3"/><circle cx="654.3" cy="761.1" r="4.8"/><circle cx="551.0" cy="670.6" r="5.8"/><circle cx="636.0" cy="731.8" r="7.3"/><circle cx="600.7" cy="659.4" r="4.6"/><circle cx="649.2" cy="734.7" r="8.4"/><circle cx="618.1" cy="769.4" r="6.6"/><circle cx="626.6" cy="715.1" r="8.2"/><circle cx="627.2" cy="714.0" r="7.0"/><circle cx="551.7" cy="754.4" r="6.9"/><circle cx="583.1" cy="732.0" r="9.2"/><circle cx="574.8" cy="691.1" r="6.5"/><circle cx="551.5" cy="659.2" r="9.1"/><circle cx="594.4" cy="737.0" r="5.1"/><circle cx="653.3" cy="767.3" r="6.3"/><circle cx="643.6" cy="753.0" r="7.5"/><circle cx="545.5" cy="723.3" r="9.5"/><circle cx="571.7" cy="727.1" r="9.4"/><circle cx="615.0" cy="672.9" r="9.1"/><circle cx="619.0" cy="680.1" r="9.4"/><circle cx="614.1" cy="684.5" r="9.0"/><circle cx="649.4" cy="761.2" r="9.3"/><circle cx="618.5" cy="734.3" r="7.6"/><circle cx="601.1" cy="774.3" r="1.7"/><circle cx="542.1" cy="736.3" r="7.0"/><circle cx="603.6" cy="720.3" r="5.5"/><circle cx="557.9" cy="647.4" r="4.8"/><circle cx="651.6" cy="734.0" r="4.7"/><circle cx="643.1" cy="723.9" r="7.7"/><circle cx="533.7" cy="739.0" r="2.3"/><circle cx="594.6" cy="657.6" r="6.2"/><circle cx="649.2" cy="741.2" r="8.9"/><circle cx="570.8" cy="691.3" r="7.6"/><circle cx="631.2" cy="757.0" r="5.8"/><circle cx="622.8" cy="746.8" r="8.2"/><circle cx="589.2" cy="661.8" r="4.1"/><circle cx="648.8" cy="766.6" r="5.7"/><circle cx="631.4" cy="693.9" r="7.8"/><circle cx="642.8" cy="682.0" r="4.2"/><circle cx="565.2" cy="708.3" r="4.2"/><circle cx="566.2" cy="677.3" r="9.5"/><circle cx="548.8" cy="742.5" r="4.5"/><circle cx="543.5" cy="666.8" r="5.3"/><circle cx="619.9" cy="760.8" r="7.0"/><circle cx="546.4" cy="684.7" r="6.7"/><circle cx="563.6" cy="754.3" r="4.7"/><circle cx="606.4" cy="729.0" r="9.4"/><circle cx="541.3" cy="754.8" r="2.8"/><circle cx="574.7" cy="773.6" r="2.4"/><circle cx="559.7" cy="769.9" r="6.1"/><circle cx="621.9" cy="773.0" r="3.0"/><circle cx="651.0" cy="735.1" r="8.0"/><circle cx="557.7" cy="656.6" r="6.9"/><circle cx="603.6" cy="712.4" r="6.2"/><circle cx="629.8" cy="753.6" r="8.6"/><circle cx="560.3" cy="670.5" r="7.4"/><circle cx="557.0" cy="724.0" r="6.1"/><circle cx="579.4" cy="735.6" r="9.7"/><circle cx="556.5" cy="685.8" r="9.9"/><circle cx="556.6" cy="751.8" r="8.4"/><circle cx="655.6" cy="706.4" r="2.3"/><circle cx="571.8" cy="737.1" r="6.4"/><circle cx="549.7" cy="689.6" r="6.8"/><circle cx="578.4" cy="699.4" r="4.8"/><circle cx="586.7" cy="653.5" r="5.8"/><circle cx="605.2" cy="761.4" r="6.9"/><circle cx="555.3" cy="722.7" r="7.6"/><circle cx="610.7" cy="737.9" r="4.1"/><circle cx="589.2" cy="748.4" r="4.8"/><circle cx="569.1" cy="697.8" r="5.9"/><circle cx="615.3" cy="661.1" r="3.3"/><circle cx="620.8" cy="712.9" r="9.8"/><circle cx="575.7" cy="712.0" r="7.3"/><circle cx="579.7" cy="757.0" r="5.2"/><circle cx="593.7" cy="654.1" r="9.3"/><circle cx="610.2" cy="774.3" r="1.7"/><circle cx="625.5" cy="720.2" r="4.3"/><circle cx="639.9" cy="758.6" r="4.5"/><circle cx="603.3" cy="674.0" r="4.3"/><circle cx="594.3" cy="757.4" r="5.3"/><circle cx="593.9" cy="676.7" r="8.1"/><circle cx="601.4" cy="755.7" r="9.1"/><circle cx="540.8" cy="697.6" r="4.5"/><circle cx="587.5" cy="763.9" r="5.7"/><circle cx="643.3" cy="769.8" r="6.2"/><circle cx="558.0" cy="764.7" r="9.5"/><circle cx="599.8" cy="696.3" r="4.6"/><circle cx="616.1" cy="730.0" r="7.8"/><circle cx="598.9" cy="713.6" r="8.1"/><circle cx="539.8" cy="698.0" r="4.8"/><circle cx="545.0" cy="743.0" r="5.9"/><circle cx="576.2" cy="675.9" r="7.5"/><circle cx="546.9" cy="726.3" r="4.4"/><circle cx="633.0" cy="713.0" r="6.5"/><circle cx="571.6" cy="687.3" r="8.6"/><circle cx="600.8" cy="711.8" r="5.5"/><circle cx="614.1" cy="661.2" r="3.8"/><circle cx="617.6" cy="712.9" r="7.5"/><circle cx="606.8" cy="664.4" r="9.7"/><circle cx="621.9" cy="738.0" r="9.7"/><circle cx="591.1" cy="683.6" r="5.8"/><circle cx="573.2" cy="679.1" r="5.9"/><circle cx="559.0" cy="704.6" r="5.8"/><circle cx="580.1" cy="729.4" r="5.9"/><circle cx="645.7" cy="748.0" r="6.0"/><circle cx="618.1" cy="714.5" r="5.3"/><circle cx="563.8" cy="771.5" r="4.5"/><circle cx="563.3" cy="698.7" r="8.4"/><circle cx="569.8" cy="649.9" r="8.7"/><circle cx="588.8" cy="739.6" r="7.3"/><circle cx="577.6" cy="732.0" r="4.0"/><circle cx="579.4" cy="742.7" r="7.4"/><circle cx="596.2" cy="767.3" r="6.6"/><circle cx="628.1" cy="691.9" r="4.5"/><circle cx="582.6" cy="666.7" r="4.2"/><circle cx="569.1" cy="655.0" r="6.7"/><circle cx="629.0" cy="742.5" r="9.3"/><circle cx="573.4" cy="730.2" r="9.3"/><circle cx="583.7" cy="764.0" r="4.6"/><circle cx="653.3" cy="759.5" r="5.4"/><circle cx="641.3" cy="736.0" r="6.6"/><circle cx="626.3" cy="759.2" r="7.5"/><circle cx="613.6" cy="765.5" r="5.7"/><circle cx="575.7" cy="642.5" r="5.1"/><circle cx="614.7" cy="730.7" r="5.4"/><circle cx="555.7" cy="703.8" r="9.3"/><circle cx="578.3" cy="696.0" r="6.5"/><circle cx="623.9" cy="743.3" r="6.8"/><circle cx="629.6" cy="676.4" r="4.8"/><circle cx="578.9" cy="674.3" r="8.3"/><circle cx="606.0" cy="729.0" r="9.9"/><circle cx="633.7" cy="747.1" r="9.8"/><circle cx="654.3" cy="740.2" r="3.3"/><circle cx="598.6" cy="742.2" r="8.7"/><circle cx="650.5" cy="740.3" r="8.0"/><circle cx="565.0" cy="723.6" r="5.1"/><circle cx="617.0" cy="661.9" r="2.3"/><circle cx="551.8" cy="750.7" r="9.0"/><circle cx="607.4" cy="675.5" r="4.3"/><circle cx="539.7" cy="698.6" r="4.6"/><circle cx="615.8" cy="668.7" r="8.8"/><circle cx="539.6" cy="722.6" r="2.8"/><circle cx="595.2" cy="685.9" r="7.4"/><circle cx="607.7" cy="735.5" r="9.5"/><circle cx="576.1" cy="725.5" r="4.7"/><circle cx="564.5" cy="650.9" r="9.2"/><circle cx="576.0" cy="735.9" r="9.3"/><circle cx="582.2" cy="666.2" r="5.5"/><circle cx="596.1" cy="691.2" r="4.4"/><circle cx="644.0" cy="726.1" r="9.2"/><circle cx="643.3" cy="738.0" r="8.9"/><circle cx="624.5" cy="696.8" r="8.9"/><circle cx="550.4" cy="661.1" r="6.7"/><circle cx="645.8" cy="710.5" r="9.1"/><circle cx="579.8" cy="715.9" r="5.5"/><circle cx="616.1" cy="675.0" r="4.0"/><circle cx="584.0" cy="715.6" r="9.3"/><circle cx="569.2" cy="765.9" r="8.9"/><circle cx="552.1" cy="745.4" r="9.6"/><circle cx="583.0" cy="712.8" r="7.9"/><circle cx="612.5" cy="663.7" r="9.3"/><circle cx="602.9" cy="647.4" r="5.8"/><circle cx="541.9" cy="701.4" r="4.6"/><circle cx="601.4" cy="676.1" r="9.0"/><circle cx="638.8" cy="718.1" r="5.6"/><circle cx="584.1" cy="720.4" r="5.0"/><circle cx="596.4" cy="760.0" r="6.1"/><circle cx="632.6" cy="683.8" r="4.2"/><circle cx="559.2" cy="738.5" r="6.8"/><circle cx="601.4" cy="655.3" r="5.0"/><circle cx="579.6" cy="708.7" r="8.9"/><circle cx="590.8" cy="683.0" r="9.5"/><circle cx="622.7" cy="742.2" r="8.8"/><circle cx="595.5" cy="673.6" r="4.7"/><circle cx="618.4" cy="741.2" r="9.4"/><circle cx="653.1" cy="707.3" r="6.9"/><circle cx="580.9" cy="713.1" r="7.6"/><circle cx="612.2" cy="659.5" r="3.9"/><circle cx="554.6" cy="690.7" r="5.1"/><circle cx="573.6" cy="724.3" r="6.4"/><circle cx="553.5" cy="702.5" r="8.0"/><circle cx="571.2" cy="675.2" r="6.6"/><circle cx="596.6" cy="673.1" r="8.7"/><circle cx="538.1" cy="738.7" r="6.5"/><circle cx="580.6" cy="685.8" r="6.2"/><circle cx="607.7" cy="691.3" r="4.8"/><circle cx="593.7" cy="774.4" r="1.6"/><circle cx="626.4" cy="766.0" r="6.7"/><circle cx="579.3" cy="747.3" r="4.6"/><circle cx="613.8" cy="708.7" r="8.6"/><circle cx="539.6" cy="730.5" r="9.0"/><circle cx="536.4" cy="732.2" r="3.1"/><circle cx="629.9" cy="773.0" r="3.0"/><circle cx="585.2" cy="706.7" r="9.9"/><circle cx="549.3" cy="694.0" r="8.8"/><circle cx="635.9" cy="714.5" r="9.5"/><circle cx="639.9" cy="759.1" r="7.8"/><circle cx="565.6" cy="739.2" r="8.3"/><circle cx="565.2" cy="691.1" r="4.4"/><circle cx="612.2" cy="696.7" r="5.6"/><circle cx="544.7" cy="717.0" r="4.6"/><circle cx="547.7" cy="691.5" r="8.7"/></g>
<g fill="url(#bw)" stroke="#8a8a8a" stroke-width="0.6" stroke-opacity="0.5"><circle cx="536.4" cy="690.4" r="4.6"/><circle cx="541.2" cy="681.2" r="4.3"/><circle cx="541.8" cy="672.0" r="5.6"/><circle cx="542.2" cy="662.6" r="3.5"/><circle cx="545.9" cy="654.3" r="5.6"/><circle cx="552.8" cy="648.0" r="4.5"/><circle cx="561.5" cy="644.6" r="3.9"/><circle cx="569.6" cy="641.7" r="4.0"/><circle cx="578.9" cy="641.8" r="3.8"/><circle cx="588.9" cy="643.8" r="4.9"/><circle cx="597.5" cy="644.4" r="4.3"/><circle cx="606.3" cy="646.2" r="4.6"/><circle cx="609.9" cy="656.1" r="4.9"/><circle cx="616.4" cy="663.5" r="5.6"/><circle cx="623.5" cy="667.8" r="5.1"/><circle cx="634.2" cy="668.7" r="3.9"/><circle cx="640.2" cy="675.4" r="5.0"/><circle cx="644.2" cy="682.7" r="5.1"/><circle cx="646.8" cy="691.3" r="5.7"/><circle cx="653.4" cy="697.0" r="4.2"/><circle cx="655.3" cy="704.5" r="4.6"/><circle cx="651.2" cy="713.4" r="5.3"/><circle cx="655.1" cy="723.0" r="4.0"/><circle cx="654.0" cy="732.6" r="4.0"/><circle cx="654.8" cy="742.5" r="4.9"/><circle cx="654.0" cy="751.3" r="4.1"/><circle cx="655.3" cy="759.0" r="5.5"/><circle cx="661.4" cy="768.8" r="4.0"/><circle cx="541.3" cy="769.8" r="3.7"/><circle cx="545.3" cy="759.0" r="4.8"/><circle cx="540.3" cy="751.0" r="4.8"/><circle cx="537.4" cy="742.2" r="6.0"/><circle cx="536.9" cy="733.3" r="5.8"/><circle cx="534.8" cy="725.2" r="4.3"/><circle cx="540.8" cy="721.2" r="4.3"/><circle cx="540.7" cy="713.5" r="5.0"/><circle cx="539.8" cy="703.0" r="4.5"/><circle cx="537.0" cy="694.9" r="4.8"/></g>
<g fill="url(#bd)" stroke="#444" stroke-width="1" stroke-opacity="0.5"><circle cx="646.0" cy="772.8" r="3.2"/><circle cx="653.8" cy="771.0" r="5.0"/><circle cx="647.9" cy="761.5" r="3.8"/><circle cx="650.1" cy="761.4" r="4.2"/><circle cx="645.3" cy="774.1" r="1.9"/><circle cx="648.2" cy="766.5" r="3.5"/><circle cx="644.9" cy="764.8" r="4.1"/><circle cx="649.1" cy="767.9" r="4.4"/><circle cx="646.8" cy="768.7" r="4.5"/><circle cx="640.5" cy="769.5" r="4.2"/><circle cx="648.9" cy="763.8" r="4.9"/><circle cx="654.4" cy="769.4" r="4.7"/><circle cx="650.7" cy="761.1" r="3.1"/></g>
<g fill="url(#bd)" stroke="#444" stroke-width="1" stroke-opacity="0.5"><circle cx="554.5" cy="768.5" r="3.7"/><circle cx="572.2" cy="763.9" r="5.0"/><circle cx="575.2" cy="770.3" r="5.7"/><circle cx="573.1" cy="772.3" r="3.1"/><circle cx="564.3" cy="765.6" r="4.3"/><circle cx="570.4" cy="770.8" r="3.6"/><circle cx="570.7" cy="771.9" r="3.3"/><circle cx="566.1" cy="772.5" r="3.5"/><circle cx="569.1" cy="766.1" r="4.9"/><circle cx="563.1" cy="763.8" r="5.7"/><circle cx="564.0" cy="773.8" r="2.2"/><circle cx="572.2" cy="772.1" r="3.9"/><circle cx="569.7" cy="769.8" r="3.2"/><circle cx="565.1" cy="773.2" r="2.8"/></g>
<g fill="url(#br)" stroke="#900" stroke-width="1" stroke-opacity="0.5"><circle cx="572.9" cy="701.2" r="2.2"/><circle cx="574.4" cy="701.1" r="2.2"/></g>
<circle cx="554.6" cy="708.4" r="13.1" fill="#a8e4f6" fill-opacity="0.85" stroke="#213a66" stroke-width="1.1" stroke-dasharray="3.2,2"/>
<polygon points="135.4,817.7 139.9,817.4 144.0,816.6 148.5,816.2 152.5,819.5 156.0,823.8 161.0,825.8 165.5,828.4 169.1,832.2 172.3,835.8 176.9,838.4 179.4,842.9 181.9,847.4 185.0,851.2 187.4,855.3 189.2,859.6 189.8,863.9 191.7,867.5 193.0,872.6 191.4,876.5 191.5,880.9 194.1,885.6 193.6,890.3 192.4,894.6 192.5,898.0 190.2,903.5 186.2,906.6 183.3,910.1 183.3,914.9 182.3,919.4 180.1,923.4 178.6,927.5 178.9,932.5 176.8,936.6 173.0,939.8 171.9,944.8 172.8,949.2 172.4,954.6 170.5,958.9 166.8,962.3 164.7,963.9 161.2,963.6 157.3,963.4 153.0,964.0 148.3,964.0 143.4,964.0 138.4,963.9 133.4,964.0 128.7,964.0 124.5,961.9 120.4,962.9 116.8,964.0 114.2,963.2 108.2,959.1 107.2,953.5 105.2,950.6 103.3,946.7 100.6,943.2 97.4,940.4 95.0,936.9 92.7,933.2 88.7,931.2 85.3,928.6 84.9,923.4 84.7,918.7 82.5,915.0 78.6,910.7 74.3,906.2 70.3,902.7 64.6,902.2 61.2,898.1 61.9,894.5 60.4,890.4 60.1,885.6 60.9,880.8 63.7,876.7 63.6,872.7 65.0,868.3 68.3,865.5 70.3,862.1 71.4,857.7 73.9,853.5 76.7,849.1 79.7,845.0 81.5,840.1 85.1,837.1 89.7,835.9 93.6,833.6 96.9,829.6 101.7,829.5 106.1,828.1 109.7,824.1 114.1,822.4 118.6,822.2 123.3,821.1 127.4,818.8 131.5,818.0" fill="#d4d4d4" stroke="#b8b8b8" stroke-width="1.2" stroke-linejoin="round"/>
<g fill="url(#bw)" stroke="#5a5a5a" stroke-width="1" stroke-opacity="0.5"><circle cx="92.6" cy="905.1" r="6.2"/><circle cx="120.8" cy="958.0" r="6.0"/><circle cx="137.0" cy="944.3" r="5.1"/><circle cx="169.6" cy="853.1" r="5.1"/><circle cx="159.1" cy="955.2" r="5.2"/><circle cx="140.9" cy="878.5" r="4.6"/><circle cx="92.0" cy="920.3" r="5.5"/><circle cx="170.4" cy="904.4" r="5.8"/><circle cx="135.0" cy="942.2" r="7.7"/><circle cx="96.1" cy="882.1" r="4.4"/><circle cx="83.7" cy="870.7" r="7.4"/><circle cx="77.7" cy="869.7" r="9.3"/><circle cx="152.7" cy="902.6" r="4.8"/><circle cx="124.7" cy="924.2" r="5.9"/><circle cx="133.2" cy="925.1" r="9.4"/><circle cx="158.8" cy="920.2" r="8.8"/><circle cx="182.7" cy="868.2" r="8.1"/><circle cx="116.0" cy="933.0" r="9.2"/><circle cx="136.8" cy="908.6" r="6.3"/><circle cx="138.1" cy="906.2" r="4.5"/><circle cx="145.7" cy="963.0" r="0.8"/><circle cx="157.6" cy="873.6" r="8.4"/><circle cx="137.9" cy="881.3" r="9.0"/><circle cx="124.5" cy="850.2" r="8.2"/><circle cx="126.7" cy="907.0" r="9.5"/><circle cx="100.4" cy="916.4" r="5.2"/><circle cx="148.5" cy="881.5" r="9.4"/><circle cx="103.9" cy="914.6" r="5.2"/><circle cx="117.8" cy="935.3" r="9.5"/><circle cx="178.0" cy="873.0" r="7.5"/><circle cx="102.5" cy="836.3" r="7.0"/><circle cx="120.4" cy="856.9" r="5.3"/><circle cx="115.5" cy="908.7" r="7.0"/><circle cx="102.3" cy="940.2" r="5.4"/><circle cx="120.7" cy="827.2" r="4.2"/><circle cx="155.0" cy="900.5" r="5.9"/><circle cx="78.3" cy="883.4" r="4.1"/><circle cx="171.2" cy="851.3" r="4.8"/><circle cx="119.9" cy="909.3" r="7.9"/><circle cx="168.2" cy="957.9" r="3.4"/><circle cx="86.8" cy="886.4" r="5.1"/><circle cx="84.1" cy="856.5" r="6.1"/><circle cx="153.5" cy="893.1" r="7.7"/><circle cx="161.4" cy="874.4" r="8.8"/><circle cx="77.5" cy="883.2" r="7.8"/><circle cx="182.0" cy="871.9" r="7.4"/><circle cx="122.2" cy="912.5" r="5.2"/><circle cx="156.8" cy="937.2" r="7.8"/><circle cx="156.2" cy="847.7" r="9.4"/><circle cx="132.0" cy="933.1" r="5.9"/><circle cx="133.8" cy="929.7" r="6.9"/><circle cx="83.2" cy="865.7" r="8.7"/><circle cx="129.3" cy="923.1" r="9.0"/><circle cx="152.4" cy="956.0" r="7.0"/><circle cx="89.7" cy="894.0" r="5.7"/><circle cx="157.7" cy="910.6" r="7.1"/><circle cx="173.1" cy="899.0" r="5.9"/><circle cx="111.1" cy="941.1" r="9.4"/><circle cx="189.8" cy="893.7" r="4.1"/><circle cx="87.0" cy="895.4" r="7.0"/><circle cx="129.2" cy="875.4" r="8.8"/><circle cx="135.5" cy="888.8" r="8.1"/><circle cx="68.9" cy="895.8" r="6.5"/><circle cx="96.1" cy="886.1" r="4.8"/><circle cx="118.2" cy="936.8" r="9.4"/><circle cx="123.9" cy="863.1" r="5.1"/><circle cx="142.9" cy="953.0" r="4.8"/><circle cx="86.1" cy="849.8" r="8.1"/><circle cx="103.2" cy="868.7" r="7.7"/><circle cx="76.5" cy="891.7" r="5.5"/><circle cx="86.6" cy="894.6" r="6.6"/><circle cx="110.4" cy="877.3" r="7.2"/><circle cx="145.6" cy="894.5" r="9.1"/><circle cx="142.0" cy="942.8" r="5.4"/><circle cx="159.3" cy="936.0" r="9.4"/><circle cx="102.4" cy="862.8" r="9.5"/><circle cx="92.1" cy="923.6" r="5.6"/><circle cx="116.6" cy="933.0" r="4.8"/><circle cx="114.0" cy="917.5" r="4.1"/><circle cx="87.0" cy="917.1" r="5.2"/><circle cx="127.8" cy="928.3" r="7.0"/><circle cx="151.9" cy="844.1" r="4.4"/><circle cx="134.0" cy="892.3" r="7.4"/><circle cx="187.6" cy="884.5" r="4.7"/><circle cx="103.9" cy="885.2" r="7.1"/><circle cx="117.7" cy="905.0" r="4.1"/><circle cx="154.0" cy="941.0" r="5.1"/><circle cx="120.9" cy="925.5" r="6.4"/><circle cx="86.2" cy="840.6" r="3.9"/><circle cx="167.5" cy="920.4" r="9.2"/><circle cx="144.4" cy="876.0" r="7.6"/><circle cx="127.6" cy="961.4" r="2.6"/><circle cx="159.8" cy="931.2" r="8.9"/><circle cx="114.4" cy="948.7" r="9.3"/><circle cx="153.2" cy="929.6" r="8.6"/><circle cx="114.4" cy="923.0" r="4.4"/><circle cx="105.8" cy="885.5" r="4.1"/><circle cx="107.7" cy="910.6" r="7.7"/><circle cx="149.3" cy="866.1" r="8.0"/><circle cx="136.4" cy="895.0" r="6.3"/><circle cx="154.0" cy="928.8" r="9.9"/><circle cx="159.1" cy="854.1" r="6.4"/><circle cx="110.4" cy="830.8" r="5.5"/><circle cx="181.4" cy="897.5" r="7.0"/><circle cx="145.6" cy="935.9" r="4.5"/><circle cx="140.1" cy="928.4" r="4.3"/><circle cx="123.3" cy="841.2" r="7.0"/><circle cx="142.0" cy="824.9" r="9.7"/><circle cx="116.4" cy="894.1" r="7.6"/><circle cx="109.0" cy="858.4" r="7.9"/><circle cx="135.2" cy="858.1" r="8.3"/><circle cx="112.3" cy="948.9" r="8.5"/><circle cx="181.4" cy="879.7" r="6.9"/><circle cx="130.2" cy="954.7" r="8.3"/><circle cx="122.8" cy="960.9" r="1.7"/><circle cx="140.9" cy="833.2" r="7.7"/><circle cx="121.1" cy="846.3" r="4.3"/><circle cx="130.8" cy="834.6" r="6.7"/><circle cx="149.6" cy="883.5" r="5.6"/><circle cx="138.1" cy="878.2" r="8.7"/><circle cx="158.5" cy="851.4" r="4.7"/><circle cx="143.8" cy="869.3" r="5.6"/><circle cx="151.9" cy="899.7" r="7.6"/><circle cx="144.9" cy="927.5" r="5.1"/><circle cx="96.4" cy="879.1" r="7.7"/><circle cx="73.8" cy="896.3" r="4.4"/><circle cx="133.8" cy="909.5" r="6.2"/><circle cx="124.2" cy="847.3" r="6.1"/><circle cx="159.9" cy="940.1" r="4.4"/><circle cx="143.6" cy="929.8" r="5.3"/><circle cx="116.9" cy="854.4" r="8.9"/><circle cx="109.5" cy="912.8" r="9.9"/><circle cx="103.7" cy="897.3" r="8.5"/><circle cx="183.4" cy="879.4" r="6.2"/><circle cx="135.7" cy="887.9" r="8.1"/><circle cx="100.1" cy="930.8" r="4.5"/><circle cx="88.6" cy="914.1" r="4.5"/><circle cx="100.8" cy="923.4" r="8.2"/><circle cx="98.0" cy="837.3" r="6.1"/><circle cx="157.3" cy="870.4" r="4.7"/><circle cx="155.1" cy="900.3" r="9.5"/><circle cx="118.7" cy="934.9" r="5.8"/><circle cx="102.6" cy="875.3" r="9.6"/><circle cx="179.9" cy="852.9" r="6.2"/><circle cx="109.0" cy="869.9" r="6.4"/><circle cx="112.0" cy="845.0" r="7.4"/><circle cx="166.9" cy="896.1" r="9.0"/><circle cx="135.5" cy="842.3" r="8.6"/><circle cx="178.1" cy="857.8" r="4.1"/><circle cx="129.2" cy="896.6" r="7.4"/><circle cx="133.3" cy="932.7" r="4.5"/><circle cx="145.0" cy="837.5" r="8.5"/><circle cx="147.0" cy="852.5" r="5.3"/><circle cx="162.6" cy="893.3" r="8.6"/><circle cx="112.9" cy="866.1" r="9.8"/><circle cx="150.2" cy="889.2" r="7.2"/><circle cx="156.7" cy="920.9" r="9.5"/><circle cx="115.1" cy="938.3" r="8.0"/><circle cx="145.9" cy="893.6" r="8.3"/><circle cx="167.6" cy="878.5" r="6.5"/><circle cx="82.5" cy="846.4" r="3.6"/><circle cx="164.0" cy="842.7" r="4.4"/><circle cx="121.5" cy="902.5" r="9.5"/><circle cx="84.8" cy="848.3" r="5.4"/><circle cx="156.2" cy="904.1" r="5.3"/><circle cx="84.8" cy="857.8" r="5.0"/><circle cx="161.6" cy="862.3" r="7.3"/><circle cx="169.6" cy="887.1" r="5.6"/><circle cx="105.9" cy="897.1" r="9.7"/><circle cx="124.7" cy="848.9" r="4.3"/><circle cx="111.6" cy="894.2" r="7.1"/><circle cx="148.2" cy="851.3" r="4.1"/><circle cx="123.4" cy="871.1" r="8.8"/><circle cx="155.6" cy="905.8" r="4.9"/><circle cx="81.1" cy="863.8" r="5.6"/><circle cx="176.5" cy="892.5" r="7.8"/><circle cx="131.7" cy="838.5" r="8.6"/><circle cx="96.2" cy="922.1" r="4.6"/><circle cx="124.4" cy="885.5" r="9.7"/><circle cx="138.7" cy="942.9" r="5.8"/><circle cx="165.8" cy="877.8" r="9.5"/><circle cx="88.0" cy="896.5" r="7.2"/><circle cx="101.8" cy="862.1" r="4.5"/><circle cx="101.0" cy="885.3" r="8.3"/><circle cx="108.3" cy="917.8" r="4.6"/><circle cx="112.9" cy="884.5" r="9.8"/><circle cx="171.2" cy="912.9" r="4.1"/><circle cx="110.6" cy="921.1" r="5.4"/><circle cx="135.6" cy="883.9" r="4.1"/><circle cx="87.8" cy="907.3" r="5.7"/><circle cx="110.4" cy="896.0" r="5.8"/><circle cx="105.3" cy="874.2" r="8.0"/><circle cx="94.4" cy="845.8" r="8.4"/><circle cx="135.5" cy="923.2" r="6.0"/><circle cx="150.9" cy="920.9" r="5.1"/><circle cx="114.0" cy="939.9" r="7.6"/><circle cx="114.6" cy="827.0" r="5.2"/><circle cx="117.3" cy="891.8" r="7.9"/><circle cx="162.8" cy="937.6" r="6.3"/><circle cx="104.5" cy="877.1" r="4.1"/><circle cx="113.8" cy="919.6" r="9.9"/><circle cx="165.9" cy="913.8" r="7.7"/><circle cx="105.9" cy="912.4" r="4.6"/><circle cx="110.7" cy="891.5" r="8.7"/><circle cx="170.6" cy="906.6" r="5.0"/><circle cx="162.8" cy="949.7" r="7.3"/><circle cx="107.3" cy="890.2" r="4.9"/><circle cx="155.7" cy="962.0" r="2.0"/><circle cx="155.9" cy="939.7" r="5.2"/><circle cx="92.8" cy="901.4" r="8.2"/><circle cx="108.5" cy="884.6" r="4.7"/><circle cx="181.2" cy="896.5" r="7.4"/><circle cx="135.1" cy="855.3" r="9.5"/><circle cx="140.7" cy="834.3" r="8.9"/><circle cx="92.3" cy="901.0" r="9.0"/><circle cx="84.9" cy="897.2" r="4.5"/><circle cx="148.3" cy="861.7" r="8.0"/><circle cx="158.9" cy="872.6" r="7.6"/><circle cx="86.8" cy="885.4" r="4.9"/><circle cx="111.8" cy="900.4" r="5.0"/><circle cx="129.7" cy="855.2" r="7.4"/><circle cx="104.6" cy="911.0" r="4.2"/><circle cx="150.0" cy="837.6" r="9.8"/><circle cx="140.5" cy="885.7" r="6.5"/><circle cx="143.6" cy="918.1" r="8.5"/><circle cx="160.8" cy="888.0" r="10.0"/><circle cx="118.2" cy="899.9" r="9.4"/><circle cx="130.5" cy="893.8" r="6.6"/><circle cx="181.2" cy="863.6" r="4.3"/><circle cx="157.3" cy="949.2" r="8.4"/><circle cx="140.1" cy="927.3" r="5.8"/><circle cx="139.6" cy="826.5" r="4.7"/><circle cx="119.9" cy="890.5" r="6.4"/><circle cx="130.6" cy="851.6" r="5.8"/><circle cx="113.1" cy="851.1" r="4.4"/><circle cx="149.3" cy="944.3" r="6.5"/><circle cx="168.0" cy="849.0" r="8.5"/><circle cx="136.0" cy="949.7" r="4.6"/><circle cx="166.2" cy="834.5" r="4.0"/><circle cx="92.7" cy="860.4" r="5.9"/><circle cx="169.3" cy="874.9" r="6.1"/><circle cx="138.5" cy="823.0" r="4.2"/><circle cx="180.5" cy="861.7" r="7.0"/><circle cx="123.4" cy="846.7" r="5.8"/><circle cx="107.5" cy="886.0" r="5.0"/><circle cx="87.1" cy="909.7" r="5.1"/><circle cx="176.6" cy="921.6" r="4.8"/><circle cx="153.3" cy="954.8" r="6.7"/><circle cx="101.2" cy="921.2" r="5.2"/><circle cx="84.3" cy="851.0" r="8.0"/><circle cx="166.0" cy="871.3" r="8.0"/><circle cx="178.6" cy="903.4" r="5.4"/><circle cx="149.4" cy="857.1" r="7.8"/><circle cx="119.1" cy="894.3" r="7.2"/><circle cx="98.2" cy="853.3" r="8.8"/><circle cx="93.0" cy="857.5" r="7.3"/><circle cx="121.9" cy="927.1" r="6.3"/><circle cx="184.6" cy="890.1" r="5.1"/><circle cx="134.6" cy="911.5" r="6.2"/><circle cx="148.3" cy="931.9" r="7.1"/></g>
<g fill="url(#bw)" stroke="#8a8a8a" stroke-width="0.6" stroke-opacity="0.5"><circle cx="135.2" cy="821.1" r="4.5"/><circle cx="143.3" cy="820.7" r="5.5"/><circle cx="151.4" cy="823.1" r="5.1"/><circle cx="159.6" cy="829.0" r="4.6"/><circle cx="166.7" cy="835.9" r="5.9"/><circle cx="175.2" cy="840.4" r="3.5"/><circle cx="178.9" cy="850.0" r="5.3"/><circle cx="185.2" cy="856.8" r="3.5"/><circle cx="186.5" cy="865.5" r="4.8"/><circle cx="190.3" cy="873.5" r="3.7"/><circle cx="188.3" cy="881.5" r="4.3"/><circle cx="189.6" cy="890.5" r="5.3"/><circle cx="188.5" cy="897.6" r="5.4"/><circle cx="182.3" cy="905.6" r="5.4"/><circle cx="180.8" cy="913.8" r="3.7"/><circle cx="177.3" cy="921.6" r="4.5"/><circle cx="176.8" cy="930.7" r="3.7"/><circle cx="170.7" cy="937.2" r="4.7"/><circle cx="170.8" cy="946.5" r="4.5"/><circle cx="169.3" cy="956.9" r="3.1"/><circle cx="108.5" cy="950.1" r="4.8"/><circle cx="105.0" cy="943.3" r="5.1"/><circle cx="99.4" cy="937.5" r="4.7"/><circle cx="95.6" cy="930.1" r="5.6"/><circle cx="87.3" cy="926.9" r="3.5"/><circle cx="86.9" cy="917.4" r="3.5"/><circle cx="80.8" cy="909.9" r="3.1"/><circle cx="73.7" cy="902.1" r="4.5"/><circle cx="64.4" cy="897.8" r="4.3"/><circle cx="63.7" cy="890.5" r="4.3"/><circle cx="63.7" cy="881.3" r="3.8"/><circle cx="67.5" cy="873.9" r="5.4"/><circle cx="70.5" cy="866.5" r="3.2"/><circle cx="75.2" cy="859.8" r="5.7"/><circle cx="79.4" cy="851.3" r="4.7"/><circle cx="83.9" cy="842.7" r="4.6"/><circle cx="92.1" cy="839.1" r="5.4"/><circle cx="98.2" cy="832.0" r="3.7"/><circle cx="107.0" cy="830.5" r="3.4"/><circle cx="114.8" cy="825.3" r="3.9"/><circle cx="123.6" cy="823.5" r="3.1"/><circle cx="131.5" cy="820.9" r="3.9"/></g>
<g fill="url(#bd)" stroke="#444" stroke-width="1" stroke-opacity="0.5"><circle cx="138.3" cy="954.5" r="3.8"/><circle cx="136.9" cy="945.8" r="5.5"/><circle cx="118.6" cy="949.1" r="3.5"/><circle cx="141.4" cy="960.6" r="3.4"/><circle cx="113.7" cy="952.2" r="4.1"/><circle cx="112.9" cy="953.8" r="5.3"/><circle cx="131.0" cy="958.9" r="3.1"/><circle cx="121.6" cy="961.8" r="2.2"/><circle cx="128.3" cy="950.0" r="4.3"/><circle cx="143.3" cy="948.6" r="3.8"/><circle cx="135.3" cy="948.8" r="4.4"/><circle cx="152.0" cy="951.3" r="4.0"/><circle cx="112.7" cy="952.1" r="4.9"/><circle cx="113.6" cy="950.9" r="5.1"/><circle cx="149.0" cy="955.8" r="5.7"/><circle cx="131.4" cy="951.9" r="5.5"/><circle cx="127.8" cy="959.6" r="3.6"/><circle cx="126.3" cy="947.7" r="4.6"/><circle cx="118.2" cy="948.1" r="3.6"/><circle cx="131.6" cy="950.2" r="4.3"/><circle cx="149.0" cy="948.1" r="4.1"/><circle cx="114.2" cy="957.8" r="4.1"/><circle cx="119.0" cy="949.2" r="4.2"/><circle cx="151.6" cy="958.3" r="3.8"/><circle cx="126.9" cy="947.1" r="5.8"/><circle cx="126.8" cy="959.3" r="4.7"/><circle cx="125.2" cy="951.7" r="3.2"/><circle cx="149.8" cy="950.5" r="5.3"/><circle cx="133.8" cy="945.1" r="4.2"/><circle cx="117.6" cy="955.9" r="3.1"/><circle cx="124.7" cy="952.5" r="4.6"/><circle cx="117.0" cy="958.1" r="3.8"/><circle cx="142.9" cy="957.3" r="3.4"/><circle cx="120.0" cy="949.6" r="5.1"/><circle cx="128.8" cy="951.7" r="5.6"/><circle cx="120.9" cy="949.8" r="4.0"/></g>
<polygon points="139.8,824.0 138.2,826.0 135.8,827.6 133.7,828.9 130.9,830.2 128.0,830.0 125.2,829.2 122.0,829.8 119.3,829.1 117.7,826.1 116.5,824.0 117.0,821.4 119.8,819.6 122.4,819.5 125.2,818.7 128.0,817.5 130.8,818.6 133.7,819.1 136.4,819.3 138.9,821.5" fill="#d2b646" stroke="#8a8a8a" stroke-width="0.6" stroke-opacity="0.5"/>
<g fill="url(#bg)" stroke="#8a7420" stroke-width="1" stroke-opacity="0.5"><circle cx="126.0" cy="822.5" r="4.2"/><circle cx="124.2" cy="820.9" r="3.9"/></g>
<polygon points="92.9,842.0 92.4,845.5 91.4,848.8 89.5,851.2 86.7,851.5 84.5,850.3 82.1,848.7 80.6,845.6 80.8,842.0 81.3,838.5 81.7,835.0 84.3,833.4 86.7,832.8 89.3,833.1 91.7,835.0 92.6,838.4" fill="#d2b646" stroke="#8a8a8a" stroke-width="0.6" stroke-opacity="0.5"/>
<g fill="url(#bg)" stroke="#8a7420" stroke-width="1" stroke-opacity="0.5"><circle cx="82.4" cy="841.9" r="4.8"/><circle cx="86.4" cy="839.5" r="3.5"/></g>
<polygon points="108.1,864.3 108.0,867.3 105.0,868.9 102.6,869.4 100.2,870.9 97.4,870.6 94.9,869.6 92.2,869.2 89.6,869.2 87.7,866.6 87.2,864.3 87.2,861.6 89.3,858.9 92.0,858.7 94.8,858.5 97.4,857.9 100.1,858.2 102.4,859.8 104.7,860.2 107.6,861.5" fill="#d2b646" stroke="#8a8a8a" stroke-width="0.6" stroke-opacity="0.5"/>
<g fill="url(#bg)" stroke="#8a7420" stroke-width="1" stroke-opacity="0.5"><circle cx="95.5" cy="868.2" r="2.6"/><circle cx="91.6" cy="864.4" r="3.7"/></g>
<polygon points="82.9,869.6 80.9,871.0 79.1,872.7 77.4,874.5 74.7,875.3 72.0,874.5 69.4,874.6 66.5,874.9 64.7,873.2 63.1,871.0 61.6,869.6 62.2,867.4 64.8,866.3 66.8,865.3 69.3,863.8 72.0,863.4 74.7,864.4 77.2,865.1 79.6,865.5 81.6,867.6" fill="#d2b646" stroke="#8a8a8a" stroke-width="0.6" stroke-opacity="0.5"/>
<g fill="url(#bg)" stroke="#8a7420" stroke-width="1" stroke-opacity="0.5"><circle cx="69.1" cy="871.3" r="4.4"/><circle cx="77.1" cy="866.9" r="4.2"/></g>
<polygon points="194.7,885.5 193.7,888.0 193.0,890.9 191.4,893.7 188.7,894.2 186.0,894.5 183.6,895.8 181.0,895.9 178.6,894.7 175.9,894.7 173.2,894.3 171.3,892.9 169.7,890.5 167.7,888.2 166.4,885.5 168.2,883.0 169.8,880.6 171.2,878.0 173.3,876.8 176.1,876.7 178.5,875.3 181.0,874.1 183.6,875.0 186.1,876.2 188.7,876.7 191.2,877.5 192.5,880.4 193.5,883.1" fill="#d2b646" stroke="#8a8a8a" stroke-width="0.6" stroke-opacity="0.5"/>
<g fill="url(#bg)" stroke="#8a7420" stroke-width="1" stroke-opacity="0.5"><circle cx="175.9" cy="888.9" r="4.0"/><circle cx="177.6" cy="889.6" r="6.3"/><circle cx="187.8" cy="886.6" r="4.4"/><circle cx="185.3" cy="887.4" r="6.2"/><circle cx="187.2" cy="879.6" r="4.2"/></g>
<polygon points="107.0,914.0 106.7,916.9 105.8,920.1 104.0,922.4 101.4,923.8 98.9,925.6 96.0,926.1 93.1,925.5 90.4,924.1 87.4,923.0 85.7,920.3 85.0,917.0 84.6,914.0 85.1,911.0 86.3,908.0 88.7,906.3 90.5,904.1 93.0,902.0 96.0,901.7 98.9,902.3 101.9,903.5 104.4,905.2 105.1,908.4 106.4,911.1" fill="#d2b646" stroke="#8a8a8a" stroke-width="0.6" stroke-opacity="0.5"/>
<g fill="url(#bg)" stroke="#8a7420" stroke-width="1" stroke-opacity="0.5"><circle cx="95.7" cy="911.7" r="3.9"/><circle cx="101.1" cy="920.1" r="3.8"/><circle cx="94.1" cy="916.1" r="5.9"/><circle cx="99.3" cy="914.8" r="6.1"/><circle cx="90.0" cy="908.2" r="3.0"/></g>
<polygon points="133.3,930.0 134.0,932.6 132.5,935.0 130.8,936.8 129.1,938.6 126.7,940.4 124.0,939.6 121.6,939.1 119.1,938.4 117.0,937.0 116.0,934.7 114.8,932.4 113.5,930.0 114.2,927.4 115.9,925.2 116.6,922.6 118.8,921.0 121.6,920.9 124.0,921.1 126.5,920.5 129.3,921.0 130.6,923.4 132.6,924.9 134.3,927.3" fill="#d2b646" stroke="#8a8a8a" stroke-width="0.6" stroke-opacity="0.5"/>
<g fill="url(#bg)" stroke="#8a7420" stroke-width="1" stroke-opacity="0.5"><circle cx="122.7" cy="934.6" r="4.3"/><circle cx="117.4" cy="930.8" r="5.5"/><circle cx="125.8" cy="926.7" r="6.7"/></g>
<polygon points="116.6,936.0 116.2,937.9 114.2,939.9 110.7,940.3 107.0,940.8 103.1,941.1 99.9,939.6 98.3,937.5 97.3,936.0 97.7,934.0 100.1,932.8 103.4,932.3 107.0,930.8 110.8,931.3 113.9,932.8 116.5,933.8" fill="#d2b646" stroke="#8a8a8a" stroke-width="0.6" stroke-opacity="0.5"/>
<g fill="url(#bg)" stroke="#8a7420" stroke-width="1" stroke-opacity="0.5"><circle cx="99.7" cy="936.2" r="4.5"/><circle cx="111.4" cy="937.8" r="3.5"/></g>
<polygon points="181.6,908.7 181.8,911.1 181.2,913.4 179.0,913.8 177.8,915.0 175.9,915.0 174.2,913.6 174.2,911.0 173.1,908.7 173.7,906.3 174.9,904.4 176.7,903.8 177.8,902.7 179.5,902.8 180.7,904.3 181.8,906.3" fill="#d2b646" stroke="#8a8a8a" stroke-width="0.6" stroke-opacity="0.5"/>
<g fill="url(#bg)" stroke="#8a7420" stroke-width="1" stroke-opacity="0.5"><circle cx="176.9" cy="910.0" r="3.1"/><circle cx="176.4" cy="912.5" r="3.1"/></g>
<polygon points="133.7,880.0 133.7,881.7 131.7,882.0 130.6,882.8 129.0,883.5 127.4,882.9 126.7,881.4 125.6,880.9 124.5,880.0 125.2,878.8 126.2,877.9 127.3,876.9 129.0,876.1 130.5,877.4 131.6,878.3 133.0,878.7" fill="#d2b646" stroke="#8a8a8a" stroke-width="0.6" stroke-opacity="0.5"/>
<g fill="url(#bg)" stroke="#8a7420" stroke-width="1" stroke-opacity="0.5"><circle cx="131.4" cy="879.1" r="3.0"/><circle cx="128.6" cy="882.2" r="2.7"/></g>
<polygon points="165.1,900.0 163.9,900.4 163.6,901.5 162.6,903.2 160.8,903.2 159.3,902.0 157.8,901.8 156.7,901.2 156.7,900.0 157.8,899.7 157.8,898.1 159.2,897.6 160.8,897.8 162.3,897.9 164.3,897.4 165.2,898.6" fill="#d2b646" stroke="#8a8a8a" stroke-width="0.6" stroke-opacity="0.5"/>
<g fill="url(#bg)" stroke="#8a7420" stroke-width="1" stroke-opacity="0.5"><circle cx="163.0" cy="900.5" r="2.5"/><circle cx="161.2" cy="898.6" r="2.5"/></g>
<polygon points="152.1,855.8 151.5,859.0 149.5,862.0 147.0,862.7 144.2,862.9 141.8,864.3 139.0,864.5 136.5,863.0 134.6,861.5 131.4,859.4 130.7,855.8 132.4,852.7 134.5,850.0 136.3,848.1 139.3,848.1 141.8,848.1 144.5,847.3 147.5,847.7 149.3,849.8 151.6,852.6" fill="#55e0e0" stroke="#8a8a8a" stroke-width="0.6" stroke-opacity="0.5"/>
<g fill="url(#bc)" stroke="#2a9a9a" stroke-width="1" stroke-opacity="0.5"><circle cx="149.6" cy="855.7" r="3.6"/><circle cx="147.2" cy="857.7" r="6.7"/><circle cx="147.0" cy="859.6" r="4.8"/></g>
<polygon points="177.4,860.0 178.0,862.9 175.5,864.8 172.4,865.5 169.3,867.1 165.9,866.3 163.6,864.1 161.9,862.2 160.9,860.0 161.6,857.6 163.6,855.8 166.1,854.3 169.3,852.7 172.7,853.6 175.1,855.7 177.1,857.6" fill="#55e0e0" stroke="#8a8a8a" stroke-width="0.6" stroke-opacity="0.5"/>
<g fill="url(#bc)" stroke="#2a9a9a" stroke-width="1" stroke-opacity="0.5"><circle cx="173.1" cy="863.4" r="5.5"/><circle cx="169.9" cy="863.9" r="5.6"/></g>
<polygon points="128.2,835.7 127.4,837.0 126.1,837.4 125.7,838.2 124.9,839.4 124.0,838.5 123.8,837.3 122.6,836.9 121.7,835.7 122.2,834.4 123.1,833.4 123.5,832.0 124.9,832.5 125.7,833.1 126.1,833.9 127.5,834.4" fill="#55e0e0" stroke="#8a8a8a" stroke-width="0.6" stroke-opacity="0.5"/>
<g fill="url(#bc)" stroke="#2a9a9a" stroke-width="1" stroke-opacity="0.5"><circle cx="126.4" cy="836.8" r="2.5"/><circle cx="125.6" cy="835.4" r="2.5"/></g>
<polygon points="144.0,833.5 143.3,833.8 142.9,833.9 142.8,835.3 141.8,835.6 141.1,834.5 140.3,834.5 139.0,834.5 139.6,833.5 140.6,833.4 140.5,832.8 140.8,831.7 141.8,832.4 142.5,832.7 143.6,832.2 144.7,832.4" fill="#55e0e0" stroke="#8a8a8a" stroke-width="0.6" stroke-opacity="0.5"/>
<g fill="url(#bc)" stroke="#2a9a9a" stroke-width="1" stroke-opacity="0.5"><circle cx="142.4" cy="834.0" r="2.1"/><circle cx="141.2" cy="833.3" r="2.4"/></g>
<polygon points="95.2,892.8 94.7,894.9 93.1,896.9 90.0,897.6 86.8,897.2 83.6,897.5 80.7,896.6 79.0,894.8 78.9,892.8 78.5,890.5 80.4,888.6 83.5,887.8 86.8,888.1 90.2,887.5 92.9,889.1 93.8,891.3" fill="#55e0e0" stroke="#8a8a8a" stroke-width="0.6" stroke-opacity="0.5"/>
<g fill="url(#bc)" stroke="#2a9a9a" stroke-width="1" stroke-opacity="0.5"><circle cx="92.3" cy="891.9" r="4.5"/><circle cx="88.1" cy="892.4" r="2.7"/></g>
<polygon points="120.4,923.5 119.6,926.0 119.8,928.9 118.9,931.3 116.3,933.5 113.2,933.9 110.3,933.2 107.7,931.1 107.6,928.5 106.6,926.0 105.9,923.5 105.9,920.8 107.3,918.4 107.7,915.9 109.8,912.9 113.2,912.6 115.8,914.2 118.2,916.3 120.0,918.0 119.5,921.0" fill="#55e0e0" stroke="#8a8a8a" stroke-width="0.6" stroke-opacity="0.5"/>
<g fill="url(#bc)" stroke="#2a9a9a" stroke-width="1" stroke-opacity="0.5"><circle cx="111.7" cy="921.5" r="5.8"/><circle cx="115.1" cy="921.0" r="6.5"/></g>
<polygon points="172.9,926.8 174.0,928.2 173.1,929.3 172.1,929.6 171.4,930.5 170.3,930.3 169.9,929.1 169.9,927.9 168.9,926.8 169.0,925.5 170.1,924.6 170.7,924.0 171.4,922.5 172.5,923.3 172.9,924.5 174.0,925.4" fill="#55e0e0" stroke="#8a8a8a" stroke-width="0.6" stroke-opacity="0.5"/>
<g fill="url(#bc)" stroke="#2a9a9a" stroke-width="1" stroke-opacity="0.5"><circle cx="170.0" cy="926.6" r="2.4"/><circle cx="171.9" cy="925.4" r="2.2"/></g>
<rect x="61" y="873.1" width="133.3" height="25.7" rx="7" ry="7" fill="#9fe3f5" fill-opacity="0.6" stroke="#213a66" stroke-width="1.1" stroke-dasharray="3.2,2"/>
<path d="M68,874.1 C62,880.8100000000001 62,891.09 68,897.8000000000001" fill="none" stroke="#213a66" stroke-width="1" stroke-dasharray="3,2"/>
<polygon points="204.5,922.0 205.2,918.7 204.5,914.9 203.7,910.7 204.6,906.3 205.6,901.6 203.9,896.9 204.4,892.2 206.3,887.8 206.3,883.5 204.9,879.3 206.3,875.9 207.5,873.2 209.3,867.8 211.5,863.2 216.6,863.3 220.4,861.7 223.8,859.5 226.9,855.6 231.7,854.0 234.9,850.8 236.4,846.3 240.5,843.9 244.2,841.6 246.1,837.4 249.7,834.0 254.9,832.3 258.9,829.4 262.0,825.4 266.0,822.8 270.3,821.2 274.6,820.4 279.2,818.2 284.1,818.0 288.5,820.7 293.4,820.8 298.0,821.6 302.6,822.9 307.2,823.3 311.9,823.3 316.9,823.9 321.3,826.7 325.9,829.0 331.2,829.0 336.0,830.8 339.8,833.7 342.9,836.5 346.1,839.8 346.8,845.1 346.4,849.1 348.6,853.3 351.0,857.8 350.3,862.4 348.8,865.8 347.9,870.6 344.4,873.8 339.7,874.5 335.2,875.7 330.1,876.9 325.6,877.4 322.9,881.0 322.1,885.7 323.5,889.6 324.1,893.8 327.0,898.0 331.0,900.7 336.2,903.9 338.8,909.1 342.0,913.0 344.7,917.5 345.3,923.2 341.4,928.5 340.2,932.0 338.0,936.1 334.2,938.5 329.8,939.8 327.5,943.8 324.5,946.7 320.3,949.4 320.2,953.5 324.0,957.1 321.7,961.3 312.1,963.3 309.5,963.1 306.8,964.0 303.4,963.8 299.7,962.3 295.9,963.9 291.7,964.0 287.2,963.0 282.6,963.3 277.8,964.0 272.9,964.0 267.8,964.0 262.7,964.0 257.6,964.0 252.5,964.0 247.4,964.0 242.4,964.0 237.6,964.0 232.9,963.8 228.3,963.8 223.9,964.0 219.8,964.0 216.2,964.0 212.8,963.0 209.6,964.0 207.0,963.2 205.2,961.7 198.4,959.4 198.1,954.9 203.6,950.2 207.8,945.7 206.1,941.7 204.4,938.0 206.2,933.4 205.4,928.4" fill="#d4d4d4" stroke="#b8b8b8" stroke-width="1.2" stroke-linejoin="round"/>
<g fill="url(#bw)" stroke="#5a5a5a" stroke-width="1" stroke-opacity="0.5"><circle cx="276.9" cy="919.6" r="8.2"/><circle cx="230.8" cy="859.6" r="5.5"/><circle cx="302.6" cy="919.3" r="4.8"/><circle cx="235.0" cy="881.5" r="9.9"/><circle cx="283.7" cy="909.2" r="9.5"/><circle cx="262.0" cy="903.9" r="9.4"/><circle cx="318.8" cy="902.7" r="6.1"/><circle cx="254.4" cy="925.4" r="7.4"/><circle cx="318.8" cy="873.4" r="4.6"/><circle cx="252.1" cy="863.5" r="9.6"/><circle cx="303.5" cy="897.1" r="7.7"/><circle cx="217.2" cy="896.0" r="8.2"/><circle cx="258.4" cy="853.8" r="6.4"/><circle cx="247.6" cy="918.0" r="4.9"/><circle cx="314.3" cy="914.3" r="9.6"/><circle cx="272.7" cy="882.8" r="5.1"/><circle cx="300.2" cy="867.8" r="5.4"/><circle cx="248.2" cy="955.8" r="4.0"/><circle cx="253.2" cy="858.8" r="5.2"/><circle cx="264.2" cy="850.1" r="9.5"/><circle cx="274.7" cy="919.9" r="5.0"/><circle cx="269.2" cy="906.5" r="9.1"/><circle cx="236.3" cy="885.1" r="9.1"/><circle cx="325.3" cy="851.2" r="7.2"/><circle cx="314.5" cy="875.7" r="8.0"/><circle cx="299.5" cy="960.0" r="2.2"/><circle cx="302.2" cy="869.1" r="8.4"/><circle cx="247.4" cy="891.0" r="6.2"/><circle cx="232.6" cy="897.4" r="5.5"/><circle cx="241.8" cy="954.7" r="7.6"/><circle cx="257.6" cy="945.5" r="9.4"/><circle cx="296.1" cy="941.0" r="7.7"/><circle cx="318.0" cy="878.2" r="7.7"/><circle cx="238.4" cy="877.4" r="6.3"/><circle cx="256.9" cy="876.3" r="8.8"/><circle cx="237.0" cy="959.8" r="4.2"/><circle cx="323.7" cy="870.4" r="8.4"/><circle cx="230.4" cy="946.4" r="4.1"/><circle cx="307.6" cy="861.3" r="5.1"/><circle cx="226.3" cy="863.5" r="5.0"/><circle cx="290.9" cy="832.9" r="8.1"/><circle cx="280.1" cy="883.5" r="7.2"/><circle cx="297.7" cy="934.9" r="7.0"/><circle cx="295.3" cy="886.2" r="7.8"/><circle cx="257.5" cy="878.5" r="7.1"/><circle cx="307.4" cy="858.6" r="9.5"/><circle cx="273.3" cy="942.9" r="8.1"/><circle cx="260.2" cy="906.7" r="8.5"/><circle cx="326.4" cy="836.8" r="4.4"/><circle cx="302.9" cy="907.9" r="9.8"/><circle cx="233.0" cy="953.2" r="6.9"/><circle cx="229.7" cy="928.5" r="6.5"/><circle cx="281.1" cy="864.1" r="5.5"/><circle cx="211.4" cy="906.6" r="9.7"/><circle cx="340.8" cy="870.9" r="3.2"/><circle cx="233.1" cy="888.4" r="8.4"/><circle cx="324.4" cy="928.6" r="6.0"/><circle cx="256.5" cy="943.9" r="9.9"/><circle cx="272.3" cy="846.4" r="7.7"/><circle cx="280.1" cy="870.8" r="5.4"/><circle cx="257.0" cy="907.4" r="4.8"/><circle cx="280.8" cy="957.0" r="7.0"/><circle cx="236.7" cy="879.1" r="4.6"/><circle cx="310.8" cy="910.2" r="5.0"/><circle cx="281.9" cy="905.0" r="7.5"/><circle cx="256.0" cy="863.2" r="6.1"/><circle cx="274.9" cy="885.1" r="5.0"/><circle cx="259.2" cy="847.9" r="5.9"/><circle cx="254.2" cy="869.1" r="9.6"/><circle cx="243.5" cy="866.5" r="7.9"/><circle cx="258.8" cy="893.3" r="7.9"/><circle cx="209.4" cy="916.0" r="4.6"/><circle cx="236.4" cy="936.2" r="9.9"/><circle cx="301.1" cy="843.0" r="6.6"/><circle cx="241.3" cy="940.8" r="5.4"/><circle cx="228.1" cy="911.1" r="7.8"/><circle cx="288.3" cy="887.9" r="9.8"/><circle cx="268.2" cy="954.8" r="6.4"/><circle cx="269.3" cy="870.4" r="8.3"/><circle cx="313.0" cy="852.9" r="7.2"/><circle cx="309.2" cy="891.2" r="8.0"/><circle cx="292.3" cy="922.3" r="6.1"/><circle cx="334.2" cy="933.3" r="6.3"/><circle cx="221.3" cy="940.1" r="6.5"/><circle cx="246.2" cy="855.8" r="6.5"/><circle cx="325.3" cy="873.4" r="3.8"/><circle cx="290.0" cy="954.2" r="4.9"/><circle cx="233.0" cy="943.6" r="9.5"/><circle cx="254.2" cy="845.5" r="9.5"/><circle cx="315.1" cy="898.5" r="8.7"/><circle cx="238.0" cy="895.9" r="9.4"/><circle cx="214.7" cy="908.1" r="5.1"/><circle cx="326.2" cy="940.5" r="4.3"/><circle cx="273.6" cy="870.4" r="6.4"/><circle cx="210.0" cy="952.4" r="7.1"/><circle cx="284.0" cy="941.0" r="9.4"/><circle cx="282.2" cy="897.4" r="9.1"/><circle cx="255.1" cy="949.5" r="4.1"/><circle cx="319.8" cy="895.0" r="4.3"/><circle cx="260.4" cy="934.7" r="8.5"/><circle cx="278.3" cy="931.4" r="8.1"/><circle cx="331.0" cy="912.9" r="6.2"/><circle cx="290.3" cy="837.5" r="9.8"/><circle cx="279.6" cy="843.8" r="9.0"/><circle cx="232.3" cy="876.7" r="8.0"/><circle cx="241.3" cy="901.1" r="8.2"/><circle cx="313.0" cy="938.3" r="8.5"/><circle cx="241.7" cy="928.3" r="6.6"/><circle cx="293.3" cy="870.2" r="4.6"/><circle cx="273.0" cy="878.6" r="6.0"/><circle cx="284.7" cy="896.6" r="7.2"/><circle cx="243.8" cy="945.3" r="5.9"/><circle cx="246.7" cy="954.1" r="8.0"/><circle cx="306.1" cy="847.8" r="4.7"/><circle cx="224.9" cy="880.9" r="8.9"/><circle cx="317.3" cy="881.8" r="5.2"/><circle cx="299.1" cy="888.1" r="5.2"/><circle cx="212.5" cy="887.9" r="5.2"/><circle cx="301.1" cy="886.3" r="8.7"/><circle cx="306.1" cy="961.8" r="2.2"/><circle cx="301.8" cy="904.2" r="5.0"/><circle cx="270.2" cy="883.3" r="4.9"/><circle cx="228.9" cy="878.0" r="5.1"/><circle cx="293.5" cy="865.9" r="9.9"/><circle cx="302.7" cy="893.4" r="6.6"/><circle cx="258.0" cy="847.2" r="9.8"/><circle cx="337.8" cy="912.9" r="4.3"/><circle cx="220.1" cy="897.0" r="5.0"/><circle cx="247.7" cy="903.7" r="5.0"/><circle cx="233.8" cy="924.6" r="6.9"/><circle cx="334.1" cy="841.2" r="4.5"/><circle cx="304.1" cy="899.2" r="4.9"/><circle cx="337.1" cy="839.3" r="5.7"/><circle cx="282.1" cy="854.1" r="9.2"/><circle cx="300.5" cy="880.2" r="4.2"/><circle cx="325.3" cy="836.4" r="5.2"/><circle cx="264.6" cy="943.9" r="5.1"/><circle cx="207.7" cy="950.5" r="4.0"/><circle cx="310.4" cy="838.5" r="5.8"/><circle cx="229.9" cy="882.1" r="9.5"/><circle cx="243.3" cy="933.9" r="9.5"/><circle cx="238.8" cy="947.8" r="5.6"/><circle cx="308.4" cy="835.3" r="7.9"/><circle cx="224.0" cy="904.9" r="8.5"/><circle cx="239.9" cy="919.6" r="9.3"/><circle cx="237.4" cy="930.2" r="6.9"/><circle cx="340.7" cy="917.2" r="5.0"/><circle cx="304.6" cy="913.5" r="8.2"/><circle cx="212.3" cy="947.7" r="4.9"/><circle cx="266.2" cy="918.4" r="8.5"/><circle cx="324.5" cy="863.6" r="5.8"/><circle cx="246.3" cy="875.3" r="5.9"/><circle cx="307.2" cy="843.4" r="4.8"/><circle cx="293.4" cy="962.4" r="1.6"/><circle cx="268.8" cy="869.9" r="5.9"/><circle cx="218.7" cy="953.5" r="8.3"/><circle cx="311.0" cy="851.1" r="4.7"/><circle cx="308.7" cy="838.9" r="8.8"/><circle cx="280.0" cy="830.8" r="5.3"/><circle cx="312.8" cy="869.4" r="6.9"/><circle cx="274.1" cy="880.4" r="5.1"/><circle cx="221.1" cy="882.9" r="4.7"/><circle cx="310.4" cy="930.1" r="8.2"/><circle cx="343.6" cy="842.2" r="3.6"/><circle cx="301.4" cy="961.8" r="1.2"/><circle cx="317.1" cy="902.7" r="7.9"/><circle cx="271.8" cy="942.6" r="7.5"/><circle cx="281.8" cy="877.1" r="7.8"/><circle cx="287.8" cy="955.3" r="8.6"/><circle cx="248.5" cy="923.1" r="5.4"/><circle cx="271.7" cy="894.8" r="8.4"/><circle cx="226.0" cy="908.5" r="5.0"/><circle cx="283.7" cy="946.7" r="6.6"/><circle cx="232.3" cy="905.2" r="6.5"/><circle cx="264.9" cy="844.0" r="8.1"/><circle cx="250.9" cy="961.8" r="2.2"/><circle cx="302.4" cy="953.0" r="9.9"/><circle cx="237.3" cy="922.4" r="7.4"/><circle cx="267.3" cy="909.5" r="6.7"/><circle cx="298.6" cy="919.5" r="4.0"/><circle cx="295.8" cy="920.9" r="9.2"/><circle cx="280.1" cy="897.0" r="4.9"/><circle cx="228.0" cy="948.7" r="4.4"/><circle cx="335.8" cy="836.0" r="3.5"/><circle cx="320.2" cy="874.1" r="5.1"/><circle cx="207.2" cy="956.4" r="4.6"/><circle cx="300.5" cy="911.1" r="5.7"/><circle cx="283.4" cy="918.1" r="5.2"/><circle cx="235.5" cy="952.9" r="5.2"/><circle cx="272.8" cy="884.4" r="8.7"/><circle cx="329.2" cy="929.5" r="7.8"/><circle cx="280.8" cy="831.3" r="7.4"/><circle cx="264.3" cy="928.3" r="6.3"/><circle cx="216.8" cy="873.9" r="9.0"/><circle cx="274.0" cy="915.6" r="4.3"/><circle cx="232.0" cy="856.8" r="3.8"/><circle cx="216.3" cy="956.0" r="6.0"/><circle cx="274.8" cy="907.9" r="8.9"/><circle cx="211.4" cy="959.7" r="4.3"/><circle cx="276.8" cy="912.5" r="5.8"/><circle cx="266.3" cy="905.9" r="6.9"/><circle cx="303.4" cy="832.5" r="8.5"/><circle cx="224.9" cy="904.3" r="7.7"/><circle cx="327.8" cy="907.7" r="5.1"/><circle cx="322.8" cy="872.6" r="7.4"/><circle cx="267.6" cy="863.9" r="9.1"/><circle cx="258.9" cy="950.9" r="8.8"/><circle cx="262.2" cy="929.4" r="8.1"/><circle cx="218.9" cy="939.5" r="6.4"/><circle cx="244.1" cy="922.7" r="9.9"/><circle cx="219.7" cy="918.9" r="5.4"/><circle cx="319.1" cy="926.9" r="8.6"/><circle cx="287.3" cy="835.9" r="9.1"/><circle cx="215.0" cy="902.7" r="9.8"/><circle cx="239.1" cy="888.1" r="8.1"/><circle cx="296.9" cy="865.2" r="6.5"/><circle cx="335.1" cy="922.5" r="5.0"/><circle cx="302.0" cy="942.4" r="7.6"/><circle cx="334.9" cy="856.6" r="5.7"/><circle cx="330.5" cy="855.4" r="4.8"/><circle cx="220.8" cy="946.8" r="8.9"/><circle cx="228.4" cy="926.3" r="5.2"/><circle cx="286.3" cy="927.6" r="7.0"/><circle cx="294.1" cy="835.1" r="6.7"/><circle cx="317.9" cy="872.5" r="8.5"/><circle cx="289.7" cy="936.0" r="8.4"/><circle cx="244.7" cy="937.6" r="8.9"/><circle cx="263.4" cy="922.9" r="6.5"/><circle cx="286.2" cy="865.4" r="6.8"/><circle cx="245.2" cy="948.6" r="7.7"/><circle cx="291.9" cy="894.3" r="6.8"/><circle cx="224.8" cy="912.4" r="6.7"/><circle cx="250.7" cy="892.8" r="4.8"/><circle cx="297.2" cy="932.3" r="6.2"/><circle cx="222.8" cy="959.4" r="4.6"/><circle cx="285.8" cy="850.0" r="9.4"/><circle cx="307.7" cy="858.4" r="6.4"/><circle cx="283.5" cy="946.9" r="6.6"/><circle cx="345.3" cy="855.4" r="4.6"/><circle cx="326.5" cy="873.1" r="5.7"/><circle cx="266.0" cy="907.3" r="5.3"/><circle cx="214.4" cy="905.2" r="7.9"/><circle cx="283.8" cy="841.3" r="9.2"/><circle cx="263.8" cy="897.1" r="9.3"/><circle cx="218.6" cy="890.4" r="6.5"/><circle cx="295.7" cy="850.9" r="5.4"/><circle cx="232.8" cy="899.5" r="5.8"/><circle cx="309.3" cy="877.3" r="8.9"/><circle cx="285.9" cy="932.3" r="9.7"/><circle cx="216.7" cy="929.2" r="9.4"/><circle cx="260.0" cy="867.9" r="4.2"/><circle cx="335.1" cy="848.2" r="4.1"/><circle cx="211.7" cy="893.2" r="8.1"/><circle cx="336.6" cy="914.9" r="4.6"/><circle cx="325.9" cy="917.8" r="8.6"/><circle cx="285.2" cy="892.5" r="6.0"/><circle cx="275.8" cy="864.1" r="8.0"/><circle cx="297.7" cy="884.7" r="4.1"/><circle cx="268.3" cy="953.5" r="7.1"/><circle cx="309.8" cy="873.9" r="9.9"/></g>
<g fill="url(#bw)" stroke="#8a8a8a" stroke-width="0.6" stroke-opacity="0.5"><circle cx="207.8" cy="920.9" r="4.6"/><circle cx="208.5" cy="914.0" r="5.4"/><circle cx="208.2" cy="905.9" r="4.9"/><circle cx="208.0" cy="897.0" r="5.4"/><circle cx="209.4" cy="888.3" r="4.2"/><circle cx="209.1" cy="880.5" r="5.8"/><circle cx="211.7" cy="874.8" r="6.0"/><circle cx="215.2" cy="865.2" r="5.7"/><circle cx="223.9" cy="864.1" r="5.7"/><circle cx="229.2" cy="857.6" r="4.1"/><circle cx="236.8" cy="853.1" r="4.0"/><circle cx="242.8" cy="847.4" r="5.7"/><circle cx="247.9" cy="841.1" r="5.5"/><circle cx="256.0" cy="835.8" r="4.8"/><circle cx="262.7" cy="828.9" r="4.7"/><circle cx="270.4" cy="823.5" r="3.0"/><circle cx="279.1" cy="821.7" r="4.7"/><circle cx="288.2" cy="823.0" r="3.2"/><circle cx="297.1" cy="824.9" r="4.6"/><circle cx="306.2" cy="825.9" r="3.7"/><circle cx="315.2" cy="827.0" r="4.8"/><circle cx="324.4" cy="831.1" r="3.5"/><circle cx="334.1" cy="833.1" r="4.0"/><circle cx="340.0" cy="839.2" r="5.3"/><circle cx="344.0" cy="847.2" r="4.7"/><circle cx="346.4" cy="854.7" r="3.4"/><circle cx="346.3" cy="864.4" r="6.0"/><circle cx="345.7" cy="871.5" r="3.1"/><circle cx="336.7" cy="875.7" r="4.2"/><circle cx="326.5" cy="878.3" r="5.1"/><circle cx="319.5" cy="882.3" r="4.7"/><circle cx="319.8" cy="890.3" r="5.0"/><circle cx="322.7" cy="898.1" r="5.7"/><circle cx="333.8" cy="903.7" r="3.3"/><circle cx="338.7" cy="912.3" r="4.5"/><circle cx="342.6" cy="922.3" r="3.8"/><circle cx="337.0" cy="930.3" r="4.8"/><circle cx="331.5" cy="936.7" r="4.4"/><circle cx="324.7" cy="941.4" r="4.9"/><circle cx="317.6" cy="946.4" r="5.4"/><circle cx="321.8" cy="954.5" r="4.5"/><circle cx="200.7" cy="953.0" r="4.3"/><circle cx="210.7" cy="943.7" r="4.7"/><circle cx="206.7" cy="936.8" r="3.5"/><circle cx="209.4" cy="926.7" r="5.7"/></g>
<g fill="url(#bd)" stroke="#444" stroke-width="1" stroke-opacity="0.5"><circle cx="309.6" cy="952.0" r="5.5"/><circle cx="319.4" cy="952.7" r="4.3"/><circle cx="321.5" cy="954.7" r="3.0"/><circle cx="314.9" cy="955.7" r="4.1"/><circle cx="323.1" cy="957.3" r="5.7"/><circle cx="306.6" cy="955.6" r="4.7"/><circle cx="308.1" cy="947.5" r="3.3"/><circle cx="323.3" cy="947.1" r="4.0"/><circle cx="305.5" cy="953.2" r="4.5"/><circle cx="308.2" cy="959.4" r="4.6"/><circle cx="299.7" cy="950.8" r="6.0"/><circle cx="320.5" cy="948.3" r="3.2"/><circle cx="323.8" cy="951.5" r="5.7"/><circle cx="320.5" cy="944.8" r="3.1"/><circle cx="302.9" cy="954.3" r="3.3"/><circle cx="299.9" cy="949.4" r="3.2"/><circle cx="307.1" cy="954.9" r="3.7"/><circle cx="321.9" cy="946.7" r="4.1"/><circle cx="310.1" cy="959.7" r="3.1"/><circle cx="327.4" cy="953.2" r="5.3"/><circle cx="313.5" cy="955.7" r="5.1"/><circle cx="302.2" cy="945.3" r="5.7"/><circle cx="304.4" cy="946.3" r="3.2"/><circle cx="319.5" cy="958.3" r="3.1"/><circle cx="312.9" cy="952.3" r="3.8"/><circle cx="307.6" cy="951.8" r="5.3"/><circle cx="305.5" cy="946.1" r="5.9"/><circle cx="305.8" cy="943.3" r="5.8"/></g>
<polygon points="269.3,856.5 270.3,859.1 270.1,861.8 268.8,864.4 268.9,867.1 268.4,869.5 266.9,871.2 264.9,874.2 262.9,876.7 260.5,877.8 258.5,876.1 256.2,874.1 253.3,871.6 252.8,869.4 252.5,867.0 251.4,864.5 251.0,861.8 251.2,859.1 251.5,856.5 251.1,853.9 251.3,851.2 252.1,848.6 252.9,846.1 252.6,843.5 253.0,841.3 255.8,838.5 258.1,836.3 260.5,835.0 262.7,836.7 264.8,838.9 267.1,841.7 268.6,843.4 268.7,845.9 269.0,848.6 270.6,851.1 270.4,853.9" fill="#d2b646" stroke="#8a8a8a" stroke-width="0.6" stroke-opacity="0.5"/>
<g fill="url(#bg)" stroke="#8a7420" stroke-width="1" stroke-opacity="0.5"><circle cx="262.2" cy="867.3" r="6.8"/><circle cx="262.2" cy="847.0" r="3.2"/><circle cx="265.2" cy="850.4" r="3.2"/><circle cx="261.6" cy="853.9" r="5.8"/><circle cx="255.9" cy="856.9" r="6.8"/><circle cx="255.8" cy="853.0" r="4.3"/><circle cx="257.9" cy="858.0" r="3.1"/></g>
<polygon points="297.9,827.5 296.7,830.6 294.4,834.2 291.9,834.7 289.1,834.4 286.5,835.2 284.0,836.3 281.4,835.8 278.7,835.1 275.9,835.1 273.8,833.9 271.4,830.5 269.9,827.5 270.9,824.1 274.1,821.5 276.6,821.6 278.7,819.9 281.3,818.5 284.0,819.0 286.6,819.6 289.4,819.5 292.1,819.9 293.8,821.7 296.3,824.6" fill="#d2b646" stroke="#8a8a8a" stroke-width="0.6" stroke-opacity="0.5"/>
<g fill="url(#bg)" stroke="#8a7420" stroke-width="1" stroke-opacity="0.5"><circle cx="278.5" cy="831.7" r="6.8"/><circle cx="291.6" cy="827.4" r="4.1"/><circle cx="292.3" cy="830.8" r="5.4"/><circle cx="288.2" cy="833.1" r="4.9"/></g>
<polygon points="317.4,862.5 316.5,865.1 315.0,867.6 315.1,870.4 314.8,873.1 313.2,874.8 310.6,877.1 308.3,880.2 305.0,880.4 302.3,878.8 299.4,877.1 296.5,875.0 296.0,872.7 295.7,870.1 293.8,867.8 293.2,865.1 293.0,862.5 293.2,859.9 293.4,857.1 294.5,854.5 296.4,852.5 297.1,850.4 299.1,847.5 302.1,845.7 305.0,845.8 307.9,845.7 311.2,847.1 313.7,849.8 314.4,852.1 315.9,854.4 316.2,857.2 315.8,860.0" fill="#d2b646" stroke="#8a8a8a" stroke-width="0.6" stroke-opacity="0.5"/>
<g fill="url(#bg)" stroke="#8a7420" stroke-width="1" stroke-opacity="0.5"><circle cx="309.5" cy="866.4" r="3.8"/><circle cx="302.4" cy="870.7" r="2.7"/><circle cx="307.6" cy="867.9" r="4.8"/><circle cx="305.9" cy="873.6" r="4.0"/><circle cx="309.4" cy="868.3" r="5.8"/><circle cx="297.4" cy="867.6" r="4.2"/><circle cx="300.9" cy="861.6" r="3.9"/></g>
<polygon points="348.1,854.0 348.0,856.9 346.5,859.7 345.7,862.6 344.6,865.3 342.9,867.2 340.7,869.2 338.4,871.3 335.9,873.3 333.0,873.1 330.3,872.4 327.4,871.6 324.4,870.3 322.9,867.3 321.8,865.1 320.3,862.6 319.3,859.7 319.3,856.7 318.7,854.0 318.0,851.1 318.8,848.1 320.6,845.5 321.0,842.5 322.7,840.5 325.5,839.1 328.0,837.5 330.3,835.4 333.0,834.6 335.6,835.8 338.6,836.5 341.5,837.9 343.5,840.3 344.0,843.1 345.6,845.5 346.8,848.2 346.5,851.3" fill="#d2b646" stroke="#8a8a8a" stroke-width="0.6" stroke-opacity="0.5"/>
<g fill="url(#bg)" stroke="#8a7420" stroke-width="1" stroke-opacity="0.5"><circle cx="339.1" cy="855.8" r="5.4"/><circle cx="328.2" cy="850.9" r="3.0"/><circle cx="336.7" cy="849.3" r="5.3"/><circle cx="333.5" cy="844.2" r="2.7"/><circle cx="339.1" cy="859.7" r="5.8"/><circle cx="325.2" cy="856.3" r="2.5"/><circle cx="329.8" cy="864.5" r="4.1"/><circle cx="326.6" cy="859.1" r="3.2"/><circle cx="326.1" cy="845.5" r="5.7"/><circle cx="331.7" cy="859.8" r="3.4"/></g>
<polygon points="338.3,915.0 337.4,917.6 337.4,920.8 335.3,923.1 332.9,924.8 330.3,926.0 327.7,928.1 324.4,928.5 321.4,928.4 318.3,929.1 314.8,929.1 311.9,927.2 309.6,925.2 307.6,923.1 305.6,920.7 305.9,917.5 305.4,915.0 304.9,912.3 306.3,909.6 308.2,907.3 309.6,904.8 311.7,902.5 315.0,901.5 318.3,901.2 321.4,900.5 324.5,901.2 327.5,902.3 330.5,903.7 333.6,904.4 335.2,906.9 336.7,909.5 337.8,912.3" fill="#d2b646" stroke="#8a8a8a" stroke-width="0.6" stroke-opacity="0.5"/>
<g fill="url(#bg)" stroke="#8a7420" stroke-width="1" stroke-opacity="0.5"><circle cx="322.8" cy="908.6" r="3.6"/><circle cx="319.5" cy="916.4" r="3.7"/><circle cx="322.7" cy="913.4" r="3.5"/><circle cx="325.1" cy="911.1" r="2.7"/><circle cx="315.0" cy="913.3" r="5.3"/><circle cx="317.3" cy="918.7" r="2.9"/><circle cx="314.1" cy="921.9" r="6.6"/><circle cx="317.4" cy="912.0" r="5.6"/><circle cx="332.4" cy="917.9" r="4.0"/></g>
<polygon points="298.3,901.0 296.9,903.5 294.9,905.5 292.2,907.4 288.7,908.1 285.3,906.9 282.2,905.9 279.8,903.9 278.8,901.0 280.1,898.3 282.4,896.4 285.1,894.3 288.7,894.4 292.0,895.5 295.3,896.0 297.9,898.0" fill="#d2b646" stroke="#8a8a8a" stroke-width="0.6" stroke-opacity="0.5"/>
<g fill="url(#bg)" stroke="#8a7420" stroke-width="1" stroke-opacity="0.5"><circle cx="292.2" cy="904.6" r="4.2"/><circle cx="292.0" cy="903.4" r="6.6"/></g>
<polygon points="254.1,917.5 252.2,919.7 250.8,922.1 248.2,924.7 244.4,925.1 240.8,923.9 237.7,922.5 235.3,920.4 235.1,917.5 236.3,915.1 237.9,912.8 240.8,910.9 244.4,910.8 247.9,911.2 251.4,912.1 253.3,914.7" fill="#d2b646" stroke="#8a8a8a" stroke-width="0.6" stroke-opacity="0.5"/>
<g fill="url(#bg)" stroke="#8a7420" stroke-width="1" stroke-opacity="0.5"><circle cx="242.4" cy="914.3" r="5.0"/><circle cx="244.8" cy="912.7" r="6.7"/></g>
<polygon points="278.6,928.0 278.9,931.1 277.4,934.0 274.1,934.8 271.2,936.1 267.8,936.0 265.2,933.9 264.5,930.7 263.0,928.0 263.4,924.9 265.8,922.8 268.3,921.2 271.2,919.4 274.6,920.1 276.9,922.5 278.8,924.9" fill="#d2b646" stroke="#8a8a8a" stroke-width="0.6" stroke-opacity="0.5"/>
<g fill="url(#bg)" stroke="#8a7420" stroke-width="1" stroke-opacity="0.5"><circle cx="272.8" cy="931.7" r="2.9"/><circle cx="273.0" cy="927.0" r="3.2"/></g>
<polygon points="269.9,944.0 269.0,946.1 267.5,947.8 265.7,949.8 263.0,950.7 260.3,949.5 258.0,948.3 256.2,946.5 255.8,944.0 257.4,942.1 258.1,939.8 260.4,938.6 263.0,938.3 265.6,938.8 268.1,939.6 270.2,941.3" fill="#d2b646" stroke="#8a8a8a" stroke-width="0.6" stroke-opacity="0.5"/>
<g fill="url(#bg)" stroke="#8a7420" stroke-width="1" stroke-opacity="0.5"><circle cx="263.7" cy="941.6" r="3.9"/><circle cx="261.6" cy="946.3" r="5.2"/></g>
<polygon points="301.8,936.0 302.3,937.8 301.6,939.6 299.6,939.9 298.0,940.6 295.9,941.1 294.6,939.4 294.0,937.6 293.4,936.0 293.8,934.2 295.0,933.0 296.4,932.1 298.0,931.2 299.9,931.5 301.2,932.8 302.2,934.2" fill="#d2b646" stroke="#8a8a8a" stroke-width="0.6" stroke-opacity="0.5"/>
<g fill="url(#bg)" stroke="#8a7420" stroke-width="1" stroke-opacity="0.5"><circle cx="301.3" cy="935.6" r="2.7"/><circle cx="295.9" cy="934.0" r="3.1"/></g>
<polygon points="284.3,886.0 283.1,889.1 281.7,892.3 278.4,894.0 274.7,893.5 271.4,893.0 267.8,892.2 266.2,889.1 266.0,886.0 265.6,882.6 267.7,879.7 271.3,878.7 274.7,878.2 278.3,878.3 281.5,879.9 282.3,883.3" fill="#55e0e0" stroke="#8a8a8a" stroke-width="0.6" stroke-opacity="0.5"/>
<g fill="url(#bc)" stroke="#2a9a9a" stroke-width="1" stroke-opacity="0.5"><circle cx="278.9" cy="886.0" r="6.8"/><circle cx="272.4" cy="881.6" r="3.3"/></g>
<polygon points="304.3,890.6 304.4,892.8 303.5,895.1 301.0,895.4 299.0,895.4 296.6,896.5 294.3,895.3 293.7,892.8 293.1,890.6 292.9,888.1 294.9,886.5 297.2,886.3 299.0,884.8 301.3,885.1 302.8,886.8 304.1,888.5" fill="#55e0e0" stroke="#8a8a8a" stroke-width="0.6" stroke-opacity="0.5"/>
<g fill="url(#bc)" stroke="#2a9a9a" stroke-width="1" stroke-opacity="0.5"><circle cx="302.5" cy="890.1" r="4.9"/><circle cx="299.1" cy="894.4" r="2.9"/></g>
<polygon points="250.8,853.0 250.0,855.5 247.8,858.4 244.7,858.3 241.6,859.2 238.5,860.1 235.2,860.5 232.0,859.2 229.4,858.0 226.2,856.1 225.5,853.0 226.9,850.5 229.6,848.2 232.1,846.9 235.4,846.7 238.5,846.4 241.7,846.3 245.1,846.5 247.5,848.1 250.3,850.3" fill="#55e0e0" stroke="#8a8a8a" stroke-width="0.6" stroke-opacity="0.5"/>
<g fill="url(#bc)" stroke="#2a9a9a" stroke-width="1" stroke-opacity="0.5"><circle cx="244.5" cy="850.6" r="5.6"/><circle cx="240.4" cy="854.7" r="3.2"/><circle cx="243.9" cy="848.8" r="3.0"/></g>
<polygon points="218.0,919.8 217.3,922.5 216.6,925.3 214.2,926.7 211.7,926.2 209.5,926.0 207.1,925.1 206.2,922.5 206.5,919.8 206.0,917.1 206.8,914.3 209.4,913.3 211.7,913.1 214.3,912.8 216.1,914.7 216.7,917.3" fill="#55e0e0" stroke="#8a8a8a" stroke-width="0.6" stroke-opacity="0.5"/>
<g fill="url(#bc)" stroke="#2a9a9a" stroke-width="1" stroke-opacity="0.5"><circle cx="208.1" cy="918.5" r="3.1"/><circle cx="213.2" cy="919.4" r="5.5"/></g>
<polygon points="344.7,920.7 345.0,923.5 344.4,926.2 343.5,928.4 342.1,930.9 340.0,932.1 338.2,930.6 337.2,928.1 336.3,926.0 335.4,923.4 336.2,920.7 335.9,918.0 334.9,915.0 336.1,912.8 338.4,911.0 340.0,909.4 341.9,910.6 342.6,913.4 342.9,915.5 344.5,918.0" fill="#55e0e0" stroke="#8a8a8a" stroke-width="0.6" stroke-opacity="0.5"/>
<g fill="url(#bc)" stroke="#2a9a9a" stroke-width="1" stroke-opacity="0.5"><circle cx="338.3" cy="923.3" r="4.6"/><circle cx="339.8" cy="926.1" r="2.8"/></g>
<polygon points="299.9,824.0 300.3,825.0 299.6,826.0 298.2,825.7 297.0,825.6 295.7,826.2 294.1,826.3 293.9,824.9 293.8,824.0 293.3,822.8 294.4,822.0 295.9,822.5 297.0,822.1 298.4,821.5 299.4,822.4 299.3,823.6" fill="#55e0e0" stroke="#8a8a8a" stroke-width="0.6" stroke-opacity="0.5"/>
<g fill="url(#bc)" stroke="#2a9a9a" stroke-width="1" stroke-opacity="0.5"><circle cx="298.0" cy="822.9" r="2.5"/><circle cx="298.6" cy="823.2" r="2.5"/></g>
<circle cx="333.5" cy="888.9" r="14.1" fill="#a8e4f6" fill-opacity="0.85" stroke="#213a66" stroke-width="1.1" stroke-dasharray="3.2,2"/>
<polygon points="359.6,922.5 361.1,917.8 361.8,913.1 361.4,908.3 360.7,903.7 362.0,899.3 361.8,895.0 359.9,890.9 361.5,887.5 363.7,882.0 365.3,877.6 366.2,873.5 368.7,870.3 370.6,866.2 371.1,862.2 373.5,858.2 376.4,855.8 379.4,852.7 380.9,847.9 384.5,845.2 388.7,844.3 393.5,841.9 398.1,839.7 402.9,837.9 406.7,835.3 408.7,830.7 410.0,825.5 414.6,823.2 418.7,821.0 423.0,818.3 427.8,817.5 432.1,818.9 436.7,819.6 441.6,820.7 446.6,823.9 450.5,825.2 455.1,825.5 460.0,825.8 463.7,829.2 466.9,832.5 471.0,834.6 473.3,838.7 475.4,843.0 478.0,846.9 481.9,849.5 485.0,852.6 487.9,855.8 491.5,858.2 495.3,860.2 496.7,864.1 497.0,868.8 498.5,872.9 499.7,877.3 497.9,881.6 497.2,886.0 497.4,891.1 495.9,895.6 492.8,899.0 492.1,903.8 491.4,908.2 487.5,910.9 484.1,914.1 482.0,918.6 478.7,922.5 475.7,925.4 474.1,929.6 473.4,934.2 471.4,937.8 467.2,941.9 465.6,947.1 465.5,951.5 468.9,958.4 460.9,961.9 458.9,962.4 456.3,964.0 452.9,963.5 449.3,964.0 445.4,964.0 441.2,964.0 436.5,964.0 431.8,964.0 426.9,964.0 421.8,964.0 416.7,964.0 411.6,964.0 406.5,964.0 401.4,964.0 396.3,964.0 391.4,964.0 386.7,964.0 382.2,964.0 378.1,964.0 374.0,964.0 370.5,964.0 367.3,963.5 364.3,963.8 361.3,964.0 357.9,960.6 355.9,957.2 354.0,953.7 354.1,949.5 356.7,945.3 357.0,940.5 358.1,935.7 359.1,931.0 361.2,926.8" fill="#d4d4d4" stroke="#b8b8b8" stroke-width="1.2" stroke-linejoin="round"/>
<g fill="url(#bw)" stroke="#5a5a5a" stroke-width="1" stroke-opacity="0.5"><circle cx="441.0" cy="828.8" r="6.8"/><circle cx="407.4" cy="939.7" r="4.0"/><circle cx="402.8" cy="890.2" r="9.8"/><circle cx="429.3" cy="887.0" r="8.0"/><circle cx="427.0" cy="950.9" r="8.4"/><circle cx="391.7" cy="917.7" r="9.1"/><circle cx="391.7" cy="903.6" r="6.1"/><circle cx="389.6" cy="859.6" r="5.2"/><circle cx="411.9" cy="830.2" r="4.7"/><circle cx="466.7" cy="845.4" r="6.9"/><circle cx="434.8" cy="866.2" r="5.7"/><circle cx="417.4" cy="837.5" r="9.2"/><circle cx="370.3" cy="938.1" r="5.3"/><circle cx="398.2" cy="874.4" r="4.2"/><circle cx="372.7" cy="870.4" r="3.7"/><circle cx="372.9" cy="935.2" r="5.9"/><circle cx="484.1" cy="897.4" r="4.8"/><circle cx="423.8" cy="871.9" r="6.1"/><circle cx="470.8" cy="848.8" r="8.3"/><circle cx="451.1" cy="954.5" r="7.1"/><circle cx="488.1" cy="882.0" r="7.4"/><circle cx="444.4" cy="940.5" r="9.4"/><circle cx="431.8" cy="936.5" r="7.2"/><circle cx="397.7" cy="958.4" r="5.6"/><circle cx="369.6" cy="922.4" r="9.2"/><circle cx="415.8" cy="908.6" r="9.0"/><circle cx="458.3" cy="860.0" r="8.6"/><circle cx="393.0" cy="932.5" r="6.7"/><circle cx="391.8" cy="866.1" r="9.6"/><circle cx="390.0" cy="942.0" r="9.1"/><circle cx="414.6" cy="963.0" r="0.8"/><circle cx="424.5" cy="855.8" r="6.8"/><circle cx="485.4" cy="896.1" r="5.2"/><circle cx="408.7" cy="887.2" r="5.1"/><circle cx="439.8" cy="862.5" r="9.3"/><circle cx="426.4" cy="893.9" r="9.0"/><circle cx="385.2" cy="926.7" r="7.9"/><circle cx="416.4" cy="958.0" r="4.1"/><circle cx="391.5" cy="888.8" r="7.6"/><circle cx="389.5" cy="895.2" r="4.1"/><circle cx="419.5" cy="928.8" r="6.0"/><circle cx="456.1" cy="880.1" r="9.5"/><circle cx="461.9" cy="832.2" r="5.2"/><circle cx="475.1" cy="917.3" r="8.3"/><circle cx="451.2" cy="904.0" r="5.5"/><circle cx="373.5" cy="923.9" r="7.6"/><circle cx="428.5" cy="931.0" r="9.3"/><circle cx="409.5" cy="936.9" r="7.0"/><circle cx="437.3" cy="878.1" r="9.6"/><circle cx="418.8" cy="957.0" r="6.0"/><circle cx="451.9" cy="951.2" r="8.1"/><circle cx="423.7" cy="878.2" r="8.9"/><circle cx="419.2" cy="877.6" r="7.4"/><circle cx="375.3" cy="865.0" r="5.8"/><circle cx="490.0" cy="860.6" r="2.9"/><circle cx="436.4" cy="946.9" r="8.0"/><circle cx="457.3" cy="920.1" r="8.8"/><circle cx="429.9" cy="932.0" r="5.0"/><circle cx="456.9" cy="880.0" r="6.5"/><circle cx="389.7" cy="858.7" r="7.5"/><circle cx="434.7" cy="950.3" r="5.7"/><circle cx="458.2" cy="831.7" r="4.4"/><circle cx="377.4" cy="943.1" r="9.8"/><circle cx="391.1" cy="935.9" r="5.3"/><circle cx="418.3" cy="832.8" r="8.2"/><circle cx="437.8" cy="879.0" r="8.3"/><circle cx="388.0" cy="866.1" r="6.2"/><circle cx="415.4" cy="837.9" r="4.0"/><circle cx="429.8" cy="853.2" r="4.9"/><circle cx="406.8" cy="927.6" r="8.5"/><circle cx="369.6" cy="926.2" r="7.4"/><circle cx="445.8" cy="955.7" r="8.3"/><circle cx="441.3" cy="930.3" r="7.0"/><circle cx="434.4" cy="937.2" r="7.7"/><circle cx="469.0" cy="867.3" r="6.6"/><circle cx="395.9" cy="898.8" r="6.4"/><circle cx="475.5" cy="904.5" r="7.4"/><circle cx="468.1" cy="882.0" r="7.2"/><circle cx="463.3" cy="923.3" r="8.5"/><circle cx="483.8" cy="899.2" r="7.3"/><circle cx="426.7" cy="949.2" r="4.3"/><circle cx="405.0" cy="925.9" r="6.8"/><circle cx="466.3" cy="880.7" r="7.4"/><circle cx="470.9" cy="925.2" r="4.1"/><circle cx="419.0" cy="923.6" r="7.7"/><circle cx="412.6" cy="945.6" r="4.8"/><circle cx="419.2" cy="954.6" r="7.1"/><circle cx="428.1" cy="826.2" r="8.8"/><circle cx="447.1" cy="852.6" r="4.7"/><circle cx="415.2" cy="954.5" r="9.2"/><circle cx="421.8" cy="822.7" r="4.9"/><circle cx="383.5" cy="924.6" r="7.0"/><circle cx="469.6" cy="923.0" r="4.1"/><circle cx="436.4" cy="860.7" r="8.2"/><circle cx="426.0" cy="905.9" r="5.5"/><circle cx="422.1" cy="834.5" r="8.3"/><circle cx="363.6" cy="894.7" r="2.8"/><circle cx="436.0" cy="825.8" r="4.2"/><circle cx="445.0" cy="922.9" r="9.3"/><circle cx="445.6" cy="910.7" r="5.1"/><circle cx="430.2" cy="932.8" r="8.3"/><circle cx="437.3" cy="828.8" r="8.3"/><circle cx="428.7" cy="842.3" r="7.7"/><circle cx="389.8" cy="862.7" r="6.7"/><circle cx="463.4" cy="833.1" r="3.7"/><circle cx="388.3" cy="915.8" r="8.9"/><circle cx="392.5" cy="922.9" r="6.8"/><circle cx="385.7" cy="857.9" r="7.2"/><circle cx="471.5" cy="905.7" r="4.0"/><circle cx="467.8" cy="902.5" r="6.5"/><circle cx="389.1" cy="882.1" r="8.2"/><circle cx="482.0" cy="882.2" r="4.4"/><circle cx="407.2" cy="908.2" r="8.0"/><circle cx="437.0" cy="946.3" r="6.8"/><circle cx="458.1" cy="885.8" r="8.3"/><circle cx="493.5" cy="867.3" r="4.6"/><circle cx="404.3" cy="947.5" r="8.6"/><circle cx="440.7" cy="956.7" r="4.9"/><circle cx="437.6" cy="828.4" r="7.5"/><circle cx="454.1" cy="859.3" r="8.9"/><circle cx="414.8" cy="846.4" r="5.2"/><circle cx="438.2" cy="873.8" r="4.3"/><circle cx="398.6" cy="960.3" r="3.7"/><circle cx="453.5" cy="880.0" r="4.4"/><circle cx="443.2" cy="848.3" r="4.7"/><circle cx="443.9" cy="916.5" r="4.1"/><circle cx="378.2" cy="865.6" r="8.8"/><circle cx="462.2" cy="926.4" r="6.6"/><circle cx="376.4" cy="927.5" r="8.6"/><circle cx="452.1" cy="853.9" r="9.2"/><circle cx="429.0" cy="847.7" r="4.6"/><circle cx="386.0" cy="869.7" r="9.4"/><circle cx="461.5" cy="845.4" r="9.7"/><circle cx="460.5" cy="852.9" r="4.6"/><circle cx="481.4" cy="882.3" r="5.8"/><circle cx="435.6" cy="826.9" r="6.5"/><circle cx="448.6" cy="944.1" r="4.7"/><circle cx="384.1" cy="866.4" r="5.0"/><circle cx="367.3" cy="913.5" r="6.4"/><circle cx="381.7" cy="892.9" r="4.7"/><circle cx="453.2" cy="958.8" r="5.2"/><circle cx="415.4" cy="875.9" r="6.2"/><circle cx="414.3" cy="843.6" r="5.8"/><circle cx="454.6" cy="887.7" r="4.4"/><circle cx="375.2" cy="940.7" r="6.1"/><circle cx="474.9" cy="907.9" r="7.8"/><circle cx="405.8" cy="902.4" r="6.5"/><circle cx="429.3" cy="955.9" r="4.6"/><circle cx="385.1" cy="949.8" r="9.6"/><circle cx="369.1" cy="922.7" r="4.7"/><circle cx="477.5" cy="875.5" r="6.9"/><circle cx="429.8" cy="847.6" r="7.4"/><circle cx="479.6" cy="883.2" r="6.6"/><circle cx="407.4" cy="845.4" r="5.7"/><circle cx="408.6" cy="859.6" r="6.0"/><circle cx="479.8" cy="855.9" r="5.1"/><circle cx="448.9" cy="953.6" r="5.6"/><circle cx="396.7" cy="903.5" r="4.2"/><circle cx="367.0" cy="901.5" r="6.8"/><circle cx="405.2" cy="878.3" r="4.1"/><circle cx="364.2" cy="937.0" r="4.1"/><circle cx="414.4" cy="842.7" r="5.2"/><circle cx="464.6" cy="958.3" r="3.1"/><circle cx="402.3" cy="896.8" r="6.6"/><circle cx="412.1" cy="932.5" r="6.7"/><circle cx="396.8" cy="948.7" r="7.4"/><circle cx="391.2" cy="950.0" r="6.9"/><circle cx="441.8" cy="886.1" r="9.2"/><circle cx="460.6" cy="882.3" r="6.2"/><circle cx="481.1" cy="894.8" r="6.5"/><circle cx="400.2" cy="856.9" r="4.9"/><circle cx="488.5" cy="898.4" r="4.5"/><circle cx="384.4" cy="879.6" r="8.8"/><circle cx="396.7" cy="880.1" r="9.7"/><circle cx="410.5" cy="912.6" r="4.3"/><circle cx="423.9" cy="891.7" r="9.5"/><circle cx="402.4" cy="945.3" r="9.5"/><circle cx="398.5" cy="852.7" r="8.7"/><circle cx="384.5" cy="898.6" r="4.1"/><circle cx="421.3" cy="958.8" r="4.0"/><circle cx="369.7" cy="949.4" r="9.5"/><circle cx="427.7" cy="860.7" r="5.8"/><circle cx="460.9" cy="902.5" r="6.7"/><circle cx="454.7" cy="832.0" r="6.3"/><circle cx="424.8" cy="932.1" r="9.3"/><circle cx="430.0" cy="838.4" r="4.6"/><circle cx="451.8" cy="867.5" r="7.2"/><circle cx="360.2" cy="956.3" r="5.7"/><circle cx="446.4" cy="908.7" r="6.1"/><circle cx="384.5" cy="899.8" r="6.0"/><circle cx="359.7" cy="949.1" r="5.2"/><circle cx="422.4" cy="854.9" r="4.5"/><circle cx="444.5" cy="919.3" r="8.1"/><circle cx="448.0" cy="920.6" r="9.6"/><circle cx="390.5" cy="953.9" r="4.2"/><circle cx="439.8" cy="865.5" r="7.1"/><circle cx="379.4" cy="873.8" r="6.1"/><circle cx="421.5" cy="876.9" r="5.3"/><circle cx="378.6" cy="886.0" r="9.9"/><circle cx="446.4" cy="838.9" r="6.0"/><circle cx="369.0" cy="899.7" r="7.5"/><circle cx="428.4" cy="956.3" r="7.1"/><circle cx="407.1" cy="848.0" r="7.5"/><circle cx="462.4" cy="891.2" r="6.3"/><circle cx="390.6" cy="941.3" r="10.0"/><circle cx="439.3" cy="921.6" r="5.9"/><circle cx="443.9" cy="951.9" r="8.1"/><circle cx="452.0" cy="943.4" r="6.5"/><circle cx="416.5" cy="855.6" r="9.0"/><circle cx="454.5" cy="894.2" r="8.7"/><circle cx="386.0" cy="886.0" r="8.3"/><circle cx="389.2" cy="882.4" r="8.0"/><circle cx="396.9" cy="915.6" r="4.4"/><circle cx="414.1" cy="911.1" r="9.2"/><circle cx="428.5" cy="914.9" r="8.0"/><circle cx="448.4" cy="883.6" r="5.9"/><circle cx="372.6" cy="947.4" r="8.7"/><circle cx="448.9" cy="927.8" r="5.9"/><circle cx="379.8" cy="895.5" r="6.8"/><circle cx="448.5" cy="945.4" r="6.4"/><circle cx="408.5" cy="920.7" r="9.3"/><circle cx="436.5" cy="904.5" r="9.4"/><circle cx="434.4" cy="890.7" r="9.9"/><circle cx="493.7" cy="884.4" r="3.7"/><circle cx="416.2" cy="858.1" r="4.2"/><circle cx="435.1" cy="849.1" r="7.0"/><circle cx="398.9" cy="866.5" r="4.7"/><circle cx="442.5" cy="843.7" r="4.8"/><circle cx="487.3" cy="899.3" r="5.1"/><circle cx="438.2" cy="918.8" r="5.1"/><circle cx="427.2" cy="899.8" r="7.0"/><circle cx="399.8" cy="882.9" r="4.7"/><circle cx="475.4" cy="854.0" r="8.0"/><circle cx="370.8" cy="947.0" r="4.2"/><circle cx="471.3" cy="895.3" r="9.4"/><circle cx="360.5" cy="944.2" r="4.9"/><circle cx="452.5" cy="956.0" r="8.0"/><circle cx="410.6" cy="960.1" r="3.9"/><circle cx="434.7" cy="878.3" r="7.3"/><circle cx="397.4" cy="958.1" r="5.9"/><circle cx="455.8" cy="890.3" r="9.7"/><circle cx="408.0" cy="888.4" r="9.7"/><circle cx="375.8" cy="912.2" r="7.0"/><circle cx="372.4" cy="963.4" r="1.5"/><circle cx="404.4" cy="945.0" r="6.7"/><circle cx="452.1" cy="953.4" r="7.8"/><circle cx="422.0" cy="902.2" r="5.6"/><circle cx="390.8" cy="888.0" r="6.9"/><circle cx="456.9" cy="851.4" r="5.7"/><circle cx="460.7" cy="859.0" r="4.9"/><circle cx="444.7" cy="868.8" r="7.5"/><circle cx="469.5" cy="870.2" r="9.6"/><circle cx="427.7" cy="835.5" r="7.6"/><circle cx="433.5" cy="848.1" r="8.5"/><circle cx="366.2" cy="889.0" r="5.6"/><circle cx="409.4" cy="922.0" r="5.8"/><circle cx="435.0" cy="887.7" r="7.2"/><circle cx="422.8" cy="946.1" r="5.3"/><circle cx="394.2" cy="895.4" r="4.3"/><circle cx="428.2" cy="842.7" r="8.1"/></g>
<g fill="url(#bw)" stroke="#8a8a8a" stroke-width="0.6" stroke-opacity="0.5"><circle cx="362.0" cy="921.7" r="3.5"/><circle cx="365.3" cy="912.3" r="4.7"/><circle cx="363.7" cy="903.5" r="4.0"/><circle cx="365.2" cy="895.3" r="4.4"/><circle cx="365.8" cy="888.3" r="5.9"/><circle cx="368.5" cy="878.8" r="4.6"/><circle cx="372.6" cy="872.4" r="5.9"/><circle cx="374.3" cy="864.5" r="5.2"/><circle cx="378.4" cy="857.6" r="3.7"/><circle cx="382.7" cy="850.1" r="3.8"/><circle cx="390.8" cy="847.7" r="5.5"/><circle cx="399.7" cy="843.4" r="5.3"/><circle cx="407.3" cy="837.8" r="3.4"/><circle cx="410.8" cy="829.5" r="5.4"/><circle cx="418.9" cy="823.9" r="3.9"/><circle cx="427.6" cy="821.0" r="4.7"/><circle cx="436.0" cy="823.8" r="5.7"/><circle cx="445.3" cy="828.0" r="5.8"/><circle cx="454.1" cy="827.9" r="3.5"/><circle cx="462.4" cy="831.5" r="3.4"/><circle cx="469.3" cy="836.9" r="3.8"/><circle cx="472.9" cy="845.7" r="4.8"/><circle cx="478.5" cy="852.4" r="5.9"/><circle cx="484.8" cy="857.9" r="5.0"/><circle cx="491.9" cy="862.1" r="5.3"/><circle cx="493.2" cy="870.3" r="5.5"/><circle cx="496.5" cy="878.3" r="4.4"/><circle cx="494.2" cy="886.6" r="4.1"/><circle cx="491.9" cy="895.9" r="5.4"/><circle cx="488.5" cy="903.6" r="4.9"/><circle cx="483.3" cy="910.1" r="5.7"/><circle cx="477.8" cy="917.2" r="6.0"/><circle cx="472.7" cy="924.0" r="4.4"/><circle cx="471.0" cy="932.5" r="4.0"/><circle cx="465.4" cy="940.2" r="3.4"/><circle cx="463.3" cy="948.7" r="4.8"/><circle cx="358.1" cy="955.3" r="3.9"/><circle cx="356.5" cy="947.7" r="3.9"/><circle cx="359.9" cy="938.7" r="4.5"/><circle cx="362.6" cy="929.3" r="5.2"/></g>
<g fill="url(#bd)" stroke="#444" stroke-width="1" stroke-opacity="0.5"><circle cx="414.9" cy="944.6" r="5.0"/><circle cx="412.5" cy="960.1" r="3.9"/><circle cx="422.1" cy="937.2" r="5.6"/><circle cx="397.2" cy="934.5" r="5.2"/><circle cx="391.3" cy="952.1" r="3.2"/><circle cx="394.3" cy="942.5" r="4.7"/><circle cx="413.9" cy="941.2" r="5.6"/><circle cx="402.4" cy="949.8" r="5.0"/><circle cx="423.8" cy="940.9" r="4.9"/><circle cx="415.3" cy="934.4" r="4.1"/><circle cx="404.5" cy="949.4" r="4.6"/><circle cx="391.3" cy="935.9" r="4.0"/><circle cx="424.2" cy="953.9" r="3.7"/><circle cx="410.8" cy="930.1" r="3.6"/><circle cx="396.3" cy="949.3" r="4.7"/><circle cx="408.8" cy="934.5" r="4.5"/><circle cx="417.7" cy="958.7" r="4.1"/><circle cx="404.8" cy="958.6" r="3.1"/><circle cx="411.5" cy="932.5" r="5.4"/><circle cx="414.6" cy="931.4" r="3.1"/><circle cx="426.1" cy="939.4" r="4.7"/><circle cx="410.5" cy="942.0" r="3.3"/><circle cx="416.7" cy="940.4" r="4.3"/><circle cx="397.7" cy="940.3" r="5.3"/><circle cx="404.8" cy="959.4" r="4.1"/><circle cx="424.3" cy="948.7" r="5.9"/><circle cx="421.0" cy="952.1" r="3.5"/><circle cx="399.8" cy="936.4" r="5.8"/><circle cx="392.1" cy="940.7" r="3.1"/><circle cx="392.0" cy="952.7" r="4.2"/><circle cx="407.2" cy="956.9" r="5.1"/><circle cx="394.5" cy="954.4" r="5.1"/><circle cx="410.8" cy="946.0" r="5.7"/><circle cx="411.3" cy="931.1" r="5.5"/><circle cx="413.9" cy="938.1" r="5.3"/><circle cx="425.7" cy="953.9" r="4.4"/><circle cx="387.6" cy="942.8" r="4.6"/><circle cx="413.2" cy="951.4" r="4.6"/><circle cx="401.5" cy="953.9" r="4.7"/><circle cx="394.3" cy="948.6" r="4.4"/><circle cx="419.8" cy="952.9" r="6.0"/><circle cx="418.5" cy="946.4" r="5.0"/><circle cx="398.0" cy="947.8" r="6.0"/><circle cx="390.5" cy="943.5" r="4.3"/><circle cx="416.3" cy="935.5" r="5.1"/><circle cx="388.8" cy="950.9" r="5.2"/><circle cx="409.3" cy="938.2" r="4.1"/><circle cx="424.0" cy="944.6" r="4.7"/><circle cx="426.8" cy="945.5" r="5.4"/><circle cx="411.3" cy="957.2" r="4.9"/><circle cx="391.1" cy="936.7" r="3.8"/><circle cx="394.9" cy="949.1" r="4.3"/><circle cx="428.1" cy="945.5" r="3.6"/><circle cx="414.1" cy="932.1" r="3.4"/><circle cx="426.2" cy="951.7" r="4.1"/><circle cx="391.1" cy="953.7" r="3.7"/><circle cx="399.5" cy="938.5" r="4.9"/><circle cx="422.1" cy="947.0" r="3.4"/><circle cx="407.4" cy="947.7" r="5.7"/><circle cx="394.3" cy="952.8" r="3.3"/><circle cx="409.7" cy="956.0" r="4.2"/></g>
<polygon points="446.5,824.0 446.3,826.0 444.8,828.3 442.0,829.6 439.2,829.7 436.4,831.2 433.2,832.5 430.0,832.2 426.8,831.8 423.4,832.1 420.2,831.6 418.1,829.4 415.9,827.5 413.3,826.2 413.3,824.0 414.5,822.5 415.3,819.9 417.7,817.9 420.5,817.5 423.5,816.5 426.8,816.0 430.0,815.7 433.1,816.5 436.3,817.5 439.6,817.2 441.8,818.7 444.1,820.6 446.3,822.0" fill="#d2b646" stroke="#8a8a8a" stroke-width="0.6" stroke-opacity="0.5"/>
<g fill="url(#bg)" stroke="#8a7420" stroke-width="1" stroke-opacity="0.5"><circle cx="433.2" cy="826.9" r="5.5"/><circle cx="422.2" cy="828.2" r="2.7"/><circle cx="428.5" cy="818.6" r="6.0"/><circle cx="429.3" cy="823.3" r="6.7"/><circle cx="423.4" cy="825.8" r="5.6"/></g>
<polygon points="480.7,851.5 480.5,854.3 479.5,857.1 478.7,859.9 478.0,862.5 476.7,864.5 473.9,866.7 471.5,868.6 469.0,870.5 466.1,869.5 463.4,867.4 460.8,864.8 459.4,862.8 459.4,859.9 458.9,857.0 457.9,854.3 457.7,851.5 458.7,848.8 458.6,845.9 458.7,842.9 459.8,840.4 461.6,838.7 463.2,835.4 466.0,833.1 469.0,833.4 471.6,834.1 474.7,835.5 477.0,838.2 477.2,840.8 478.6,843.1 480.4,845.7 480.3,848.7" fill="#d2b646" stroke="#8a8a8a" stroke-width="0.6" stroke-opacity="0.5"/>
<g fill="url(#bg)" stroke="#8a7420" stroke-width="1" stroke-opacity="0.5"><circle cx="470.4" cy="843.0" r="6.7"/><circle cx="470.2" cy="850.1" r="6.4"/><circle cx="465.2" cy="852.4" r="4.3"/><circle cx="475.6" cy="851.5" r="6.8"/><circle cx="470.4" cy="851.2" r="3.2"/><circle cx="476.8" cy="851.2" r="3.1"/><circle cx="471.6" cy="860.9" r="3.7"/></g>
<polygon points="449.4,909.5 448.8,912.2 446.8,915.2 443.9,915.5 441.0,916.4 438.0,917.6 434.8,917.5 432.1,915.6 429.4,915.0 426.7,912.6 425.7,909.5 427.5,907.0 429.8,904.5 431.9,902.8 435.0,902.3 438.0,902.3 441.1,901.9 444.4,902.0 446.6,904.1 448.7,906.8" fill="#d2b646" stroke="#8a8a8a" stroke-width="0.6" stroke-opacity="0.5"/>
<g fill="url(#bg)" stroke="#8a7420" stroke-width="1" stroke-opacity="0.5"><circle cx="436.5" cy="907.7" r="4.5"/><circle cx="444.1" cy="908.2" r="6.7"/><circle cx="434.5" cy="907.9" r="3.8"/></g>
<polygon points="475.0,919.5 475.1,922.6 474.5,925.7 472.1,926.9 470.0,927.3 467.5,927.7 465.5,925.7 464.4,922.8 463.6,919.5 464.3,916.2 465.7,913.5 468.3,912.6 470.0,910.9 472.3,911.7 474.3,913.5 475.1,916.4" fill="#d2b646" stroke="#8a8a8a" stroke-width="0.6" stroke-opacity="0.5"/>
<g fill="url(#bg)" stroke="#8a7420" stroke-width="1" stroke-opacity="0.5"><circle cx="470.5" cy="920.1" r="5.3"/><circle cx="468.7" cy="923.1" r="5.3"/></g>
<polygon points="420.6,848.0 420.4,851.0 419.5,853.8 417.4,855.5 415.0,855.1 412.7,855.3 410.5,853.8 409.8,850.9 409.5,848.0 408.7,844.7 410.4,842.1 412.8,840.9 415.0,840.3 417.5,840.2 419.3,842.3 419.4,845.3" fill="#d2b646" stroke="#8a8a8a" stroke-width="0.6" stroke-opacity="0.5"/>
<g fill="url(#bg)" stroke="#8a7420" stroke-width="1" stroke-opacity="0.5"><circle cx="413.7" cy="847.1" r="5.2"/><circle cx="411.4" cy="850.3" r="3.5"/></g>
<polygon points="447.4,858.7 446.8,861.2 446.8,864.4 444.8,866.8 441.8,868.0 440.1,869.4 437.9,871.0 435.2,871.6 432.5,871.9 430.0,872.8 427.2,873.6 424.7,872.0 422.2,870.7 419.6,870.1 417.7,868.5 416.2,866.0 414.5,863.7 412.4,861.5 412.5,858.7 413.4,856.2 413.8,853.3 414.8,850.2 417.8,849.0 420.0,848.1 422.1,846.6 424.7,845.4 427.5,845.8 430.0,845.0 432.7,844.5 435.5,844.8 437.8,846.7 440.5,847.3 443.0,848.1 444.5,850.8 445.6,853.6 447.1,856.1" fill="#55e0e0" stroke="#8a8a8a" stroke-width="0.6" stroke-opacity="0.5"/>
<g fill="url(#bc)" stroke="#2a9a9a" stroke-width="1" stroke-opacity="0.5"><circle cx="429.7" cy="857.1" r="6.7"/><circle cx="425.7" cy="856.9" r="5.6"/><circle cx="431.2" cy="867.2" r="4.0"/><circle cx="438.6" cy="863.9" r="3.1"/><circle cx="440.9" cy="862.9" r="6.7"/><circle cx="430.7" cy="866.7" r="4.9"/><circle cx="421.1" cy="858.9" r="4.0"/><circle cx="428.4" cy="854.2" r="3.9"/><circle cx="436.3" cy="856.6" r="4.8"/></g>
<polygon points="458.5,844.7 458.2,847.9 456.1,850.1 454.7,851.8 453.0,853.2 451.5,851.5 450.2,849.9 448.0,847.8 447.2,844.7 448.1,841.6 449.7,839.2 450.8,836.9 453.0,836.1 454.7,837.7 456.2,839.3 458.1,841.5" fill="#55e0e0" stroke="#8a8a8a" stroke-width="0.6" stroke-opacity="0.5"/>
<g fill="url(#bc)" stroke="#2a9a9a" stroke-width="1" stroke-opacity="0.5"><circle cx="451.8" cy="846.7" r="4.8"/><circle cx="450.5" cy="846.0" r="3.3"/></g>
<polygon points="414.3,866.0 413.2,868.9 412.2,871.7 410.0,873.8 407.0,873.6 404.6,872.6 401.8,871.8 400.8,868.9 400.8,866.0 400.8,863.1 401.8,860.3 404.1,858.3 407.0,858.3 409.8,858.6 412.6,859.9 413.2,863.1" fill="#55e0e0" stroke="#8a8a8a" stroke-width="0.6" stroke-opacity="0.5"/>
<g fill="url(#bc)" stroke="#2a9a9a" stroke-width="1" stroke-opacity="0.5"><circle cx="408.0" cy="866.0" r="5.6"/><circle cx="404.1" cy="865.5" r="2.6"/></g>
<polygon points="500.1,884.6 500.1,887.4 498.8,890.0 497.3,892.0 495.2,894.7 492.0,895.3 489.6,893.4 486.9,891.8 485.4,889.9 484.3,887.3 484.6,884.6 484.3,881.9 484.6,879.0 486.7,877.2 489.4,875.5 492.0,873.9 495.1,874.7 496.8,877.6 498.4,879.4 499.8,881.9" fill="#55e0e0" stroke="#8a8a8a" stroke-width="0.6" stroke-opacity="0.5"/>
<g fill="url(#bc)" stroke="#2a9a9a" stroke-width="1" stroke-opacity="0.5"><circle cx="494.9" cy="878.1" r="6.6"/><circle cx="492.7" cy="884.0" r="6.2"/><circle cx="492.9" cy="889.8" r="5.0"/></g>
<polygon points="450.1,934.5 448.9,937.6 447.6,940.6 446.8,943.5 446.1,946.1 444.0,948.4 441.6,949.7 439.5,951.1 436.7,951.2 434.7,948.7 432.8,946.2 431.4,943.8 430.8,940.8 430.8,937.5 430.4,934.5 430.0,931.4 431.0,928.3 431.8,925.3 432.4,922.6 434.3,919.9 437.1,918.5 439.5,918.2 442.1,918.3 444.2,920.5 445.5,923.3 446.8,925.5 448.3,928.2 449.0,931.4" fill="#55e0e0" stroke="#8a8a8a" stroke-width="0.6" stroke-opacity="0.5"/>
<g fill="url(#bc)" stroke="#2a9a9a" stroke-width="1" stroke-opacity="0.5"><circle cx="441.5" cy="934.5" r="6.6"/><circle cx="436.7" cy="939.2" r="6.2"/><circle cx="442.7" cy="926.0" r="6.9"/><circle cx="440.8" cy="929.4" r="4.0"/><circle cx="434.5" cy="942.1" r="2.7"/><circle cx="434.2" cy="939.5" r="5.3"/></g>
<polygon points="527.8,870.7 528.1,867.2 529.6,863.0 530.9,858.3 530.3,853.5 531.1,848.9 533.0,845.3 533.5,840.3 533.3,835.3 536.3,832.0 538.6,828.6 541.2,825.3 544.6,822.5 548.8,821.2 553.1,820.4 557.1,818.2 561.7,817.3 566.7,818.2 571.4,817.5 576.2,815.5 581.0,816.5 585.6,818.4 590.1,817.4 595.4,818.6 599.8,821.0 602.7,823.1 605.7,825.3 607.6,829.5 608.2,834.1 613.0,834.6 618.2,835.1 623.1,837.3 627.6,840.2 632.7,842.1 636.8,845.0 639.7,848.7 642.5,852.0 646.0,854.4 648.7,858.7 650.9,863.6 653.6,868.1 657.3,872.7 658.2,877.7 654.5,881.7 653.0,887.0 653.2,891.3 652.1,896.4 653.6,901.1 655.5,905.5 657.5,909.9 657.1,915.2 658.9,918.8 660.0,922.9 660.2,927.2 658.3,931.5 659.2,936.0 659.9,941.1 658.1,945.6 657.0,950.2 661.7,954.8 665.3,960.6 655.5,963.1 653.1,962.3 650.6,964.0 647.5,963.3 644.0,962.8 640.4,963.9 636.4,964.0 632.2,964.0 627.8,964.0 623.3,964.0 618.5,964.0 613.6,964.0 608.7,964.0 603.7,964.0 598.7,964.0 593.7,963.9 588.7,964.0 583.8,964.0 579.0,964.0 574.4,964.0 569.8,964.0 565.5,964.0 561.5,963.7 557.8,962.9 554.2,963.4 551.0,963.6 548.2,963.0 545.8,962.8 537.5,961.5 533.0,957.9 533.9,953.0 533.8,948.8 534.2,944.6 535.1,940.5 534.1,935.2 531.5,930.8 529.1,926.5 530.1,921.8 528.6,917.4 525.8,913.7 525.5,908.0 528.1,904.6 527.4,900.5 527.5,896.0 528.9,891.5 530.0,887.2 528.4,883.1 528.0,880.0 529.3,875.2" fill="#d4d4d4" stroke="#b8b8b8" stroke-width="1.2" stroke-linejoin="round"/>
<g fill="url(#bw)" stroke="#5a5a5a" stroke-width="1" stroke-opacity="0.5"><circle cx="643.2" cy="869.9" r="6.3"/><circle cx="633.7" cy="862.2" r="9.5"/><circle cx="611.2" cy="852.3" r="9.6"/><circle cx="591.1" cy="865.9" r="5.6"/><circle cx="540.0" cy="845.3" r="8.2"/><circle cx="545.2" cy="853.9" r="6.7"/><circle cx="601.7" cy="872.0" r="8.7"/><circle cx="561.4" cy="870.3" r="6.6"/><circle cx="543.6" cy="848.5" r="4.9"/><circle cx="618.9" cy="848.5" r="7.9"/><circle cx="617.3" cy="868.0" r="9.6"/><circle cx="617.4" cy="898.3" r="4.3"/><circle cx="582.4" cy="855.0" r="6.8"/><circle cx="656.0" cy="943.8" r="2.4"/><circle cx="620.6" cy="954.2" r="7.3"/><circle cx="539.1" cy="944.2" r="6.6"/><circle cx="641.4" cy="953.8" r="4.4"/><circle cx="636.5" cy="860.8" r="4.8"/><circle cx="578.5" cy="903.0" r="4.0"/><circle cx="588.4" cy="932.0" r="7.0"/><circle cx="599.4" cy="859.5" r="9.8"/><circle cx="560.2" cy="916.7" r="7.9"/><circle cx="558.5" cy="962.3" r="0.9"/><circle cx="651.5" cy="942.5" r="6.4"/><circle cx="587.8" cy="866.9" r="9.6"/><circle cx="624.2" cy="959.2" r="4.8"/><circle cx="642.3" cy="881.3" r="9.4"/><circle cx="535.3" cy="880.6" r="7.5"/><circle cx="636.6" cy="878.3" r="8.1"/><circle cx="646.0" cy="886.2" r="6.3"/><circle cx="598.2" cy="833.4" r="5.3"/><circle cx="558.5" cy="853.4" r="9.2"/><circle cx="560.0" cy="829.0" r="9.2"/><circle cx="619.9" cy="917.4" r="7.9"/><circle cx="633.8" cy="878.5" r="5.3"/><circle cx="629.6" cy="908.3" r="8.2"/><circle cx="551.2" cy="870.9" r="8.1"/><circle cx="579.3" cy="905.0" r="6.8"/><circle cx="631.0" cy="867.3" r="7.0"/><circle cx="641.4" cy="861.7" r="5.1"/><circle cx="564.0" cy="949.8" r="7.2"/><circle cx="547.1" cy="892.9" r="8.1"/><circle cx="593.5" cy="909.8" r="6.2"/><circle cx="596.4" cy="825.4" r="4.8"/><circle cx="607.8" cy="949.8" r="5.9"/><circle cx="581.8" cy="886.2" r="7.6"/><circle cx="574.5" cy="867.7" r="9.1"/><circle cx="603.2" cy="867.9" r="8.9"/><circle cx="553.3" cy="933.2" r="4.7"/><circle cx="579.8" cy="903.8" r="4.7"/><circle cx="633.9" cy="880.6" r="8.6"/><circle cx="640.5" cy="937.4" r="5.5"/><circle cx="608.2" cy="846.1" r="7.2"/><circle cx="630.6" cy="871.5" r="7.2"/><circle cx="543.9" cy="943.7" r="7.8"/><circle cx="603.3" cy="849.8" r="9.4"/><circle cx="540.4" cy="885.8" r="6.8"/><circle cx="579.5" cy="825.1" r="8.0"/><circle cx="589.1" cy="960.0" r="4.0"/><circle cx="578.2" cy="851.8" r="4.6"/><circle cx="597.1" cy="931.7" r="9.6"/><circle cx="653.6" cy="878.8" r="2.8"/><circle cx="573.5" cy="937.9" r="7.3"/><circle cx="547.0" cy="955.6" r="7.2"/><circle cx="622.9" cy="860.2" r="5.5"/><circle cx="567.0" cy="840.8" r="9.8"/><circle cx="542.2" cy="851.6" r="7.8"/><circle cx="554.1" cy="847.3" r="5.5"/><circle cx="629.0" cy="913.4" r="5.9"/><circle cx="638.7" cy="936.8" r="4.0"/><circle cx="644.0" cy="878.0" r="7.0"/><circle cx="559.3" cy="822.9" r="5.1"/><circle cx="589.1" cy="921.1" r="7.8"/><circle cx="542.9" cy="910.5" r="4.2"/><circle cx="584.8" cy="858.7" r="5.9"/><circle cx="600.7" cy="934.5" r="4.1"/><circle cx="573.5" cy="852.1" r="9.8"/><circle cx="586.9" cy="881.5" r="9.6"/><circle cx="579.6" cy="872.6" r="6.4"/><circle cx="558.6" cy="920.0" r="5.7"/><circle cx="596.8" cy="900.4" r="8.6"/><circle cx="629.0" cy="887.0" r="9.7"/><circle cx="657.7" cy="954.8" r="4.6"/><circle cx="589.1" cy="869.0" r="9.2"/><circle cx="591.8" cy="926.6" r="6.3"/><circle cx="566.1" cy="888.9" r="8.4"/><circle cx="641.8" cy="955.8" r="8.0"/><circle cx="558.1" cy="953.4" r="4.3"/><circle cx="583.2" cy="952.9" r="9.1"/><circle cx="608.7" cy="944.5" r="5.1"/><circle cx="554.3" cy="944.9" r="4.6"/><circle cx="582.6" cy="946.2" r="6.0"/><circle cx="605.3" cy="935.0" r="7.7"/><circle cx="538.8" cy="879.2" r="7.7"/><circle cx="527.5" cy="910.5" r="2.5"/><circle cx="570.8" cy="821.8" r="4.6"/><circle cx="641.7" cy="929.8" r="5.9"/><circle cx="560.5" cy="958.4" r="5.6"/><circle cx="648.5" cy="916.1" r="8.7"/><circle cx="597.1" cy="932.0" r="7.0"/><circle cx="563.7" cy="886.4" r="4.2"/><circle cx="619.7" cy="865.2" r="5.1"/><circle cx="636.4" cy="893.6" r="5.9"/><circle cx="654.6" cy="954.7" r="6.6"/><circle cx="575.4" cy="962.2" r="1.8"/><circle cx="536.1" cy="927.6" r="5.5"/><circle cx="632.0" cy="905.4" r="6.3"/><circle cx="578.9" cy="834.9" r="6.4"/><circle cx="542.5" cy="935.8" r="7.2"/><circle cx="578.3" cy="942.0" r="5.8"/><circle cx="647.5" cy="922.1" r="7.8"/><circle cx="608.7" cy="909.5" r="9.4"/><circle cx="655.1" cy="946.7" r="4.3"/><circle cx="540.9" cy="947.3" r="6.3"/><circle cx="572.1" cy="956.8" r="4.5"/><circle cx="615.7" cy="849.2" r="9.2"/><circle cx="555.8" cy="831.3" r="6.9"/><circle cx="589.5" cy="927.2" r="5.7"/><circle cx="566.3" cy="859.2" r="7.3"/><circle cx="544.0" cy="898.8" r="8.9"/><circle cx="621.7" cy="853.6" r="6.9"/><circle cx="538.7" cy="885.5" r="8.6"/><circle cx="570.1" cy="916.7" r="4.9"/><circle cx="563.2" cy="907.2" r="7.1"/><circle cx="549.0" cy="845.0" r="6.9"/><circle cx="621.3" cy="894.4" r="5.7"/><circle cx="583.3" cy="937.5" r="4.6"/><circle cx="602.0" cy="886.6" r="4.7"/><circle cx="583.5" cy="840.8" r="6.4"/><circle cx="647.7" cy="954.0" r="5.5"/><circle cx="637.4" cy="868.7" r="8.3"/><circle cx="591.4" cy="925.9" r="6.4"/><circle cx="627.3" cy="846.8" r="6.5"/><circle cx="578.6" cy="914.3" r="7.5"/><circle cx="564.0" cy="954.1" r="4.2"/><circle cx="592.2" cy="834.9" r="4.7"/><circle cx="556.2" cy="955.8" r="4.1"/><circle cx="626.2" cy="901.3" r="9.0"/><circle cx="542.3" cy="850.8" r="8.2"/><circle cx="605.9" cy="917.9" r="5.3"/><circle cx="591.9" cy="864.0" r="9.8"/><circle cx="605.0" cy="919.3" r="6.7"/><circle cx="541.7" cy="829.9" r="2.9"/><circle cx="628.5" cy="845.7" r="6.9"/><circle cx="573.2" cy="835.2" r="6.2"/><circle cx="594.1" cy="951.7" r="8.7"/><circle cx="586.3" cy="859.1" r="5.4"/><circle cx="574.8" cy="894.4" r="9.8"/><circle cx="536.0" cy="843.8" r="3.5"/><circle cx="640.6" cy="915.1" r="6.8"/><circle cx="536.4" cy="877.5" r="7.2"/><circle cx="624.7" cy="858.9" r="9.7"/><circle cx="636.9" cy="930.4" r="4.3"/><circle cx="587.4" cy="820.7" r="2.7"/><circle cx="590.7" cy="854.3" r="4.9"/><circle cx="564.6" cy="831.5" r="8.8"/><circle cx="654.7" cy="936.6" r="4.5"/><circle cx="610.4" cy="942.3" r="6.4"/><circle cx="598.0" cy="925.9" r="6.6"/><circle cx="539.6" cy="959.7" r="2.4"/><circle cx="565.3" cy="923.9" r="5.0"/><circle cx="611.6" cy="921.2" r="7.6"/><circle cx="586.8" cy="938.0" r="6.5"/><circle cx="535.4" cy="838.3" r="2.7"/><circle cx="558.2" cy="899.0" r="5.4"/><circle cx="544.4" cy="826.8" r="5.1"/><circle cx="556.6" cy="845.7" r="5.1"/><circle cx="565.3" cy="955.9" r="5.3"/><circle cx="551.2" cy="824.0" r="4.5"/><circle cx="540.1" cy="937.2" r="5.3"/><circle cx="564.2" cy="885.0" r="8.8"/><circle cx="593.7" cy="862.6" r="9.5"/><circle cx="640.9" cy="866.7" r="9.9"/><circle cx="582.1" cy="890.4" r="8.6"/><circle cx="539.5" cy="956.1" r="7.1"/><circle cx="553.8" cy="863.4" r="5.6"/><circle cx="588.7" cy="863.3" r="7.8"/><circle cx="555.6" cy="917.4" r="9.5"/><circle cx="592.7" cy="937.3" r="4.4"/><circle cx="591.3" cy="903.1" r="6.9"/><circle cx="547.6" cy="947.9" r="5.4"/><circle cx="618.3" cy="881.3" r="6.6"/><circle cx="600.7" cy="853.3" r="7.9"/><circle cx="609.4" cy="936.0" r="8.9"/><circle cx="539.2" cy="937.2" r="5.9"/><circle cx="553.0" cy="892.7" r="7.3"/><circle cx="596.9" cy="872.8" r="7.5"/><circle cx="601.1" cy="933.8" r="6.1"/><circle cx="647.7" cy="892.4" r="7.4"/><circle cx="579.8" cy="897.5" r="4.6"/><circle cx="547.5" cy="894.9" r="5.8"/><circle cx="596.0" cy="888.9" r="9.9"/><circle cx="618.2" cy="862.8" r="5.1"/><circle cx="576.5" cy="948.4" r="8.8"/><circle cx="589.6" cy="943.3" r="7.1"/><circle cx="546.3" cy="920.6" r="9.2"/><circle cx="620.6" cy="859.2" r="6.9"/><circle cx="543.7" cy="852.1" r="4.4"/><circle cx="593.3" cy="917.1" r="8.2"/><circle cx="591.3" cy="852.9" r="7.0"/><circle cx="601.0" cy="871.9" r="5.3"/><circle cx="607.1" cy="912.0" r="5.4"/><circle cx="543.5" cy="927.7" r="9.9"/><circle cx="627.6" cy="937.5" r="8.4"/><circle cx="579.9" cy="901.8" r="6.8"/><circle cx="568.3" cy="900.3" r="9.7"/><circle cx="648.5" cy="928.5" r="7.9"/><circle cx="630.8" cy="861.1" r="4.3"/><circle cx="607.9" cy="847.8" r="6.7"/><circle cx="632.9" cy="960.8" r="3.2"/><circle cx="597.9" cy="934.4" r="8.1"/><circle cx="578.7" cy="948.2" r="5.0"/><circle cx="640.7" cy="962.0" r="2.0"/><circle cx="541.6" cy="873.2" r="4.6"/><circle cx="573.9" cy="874.8" r="5.0"/><circle cx="590.0" cy="939.3" r="8.0"/><circle cx="567.6" cy="833.3" r="4.7"/><circle cx="639.3" cy="853.9" r="4.0"/><circle cx="552.5" cy="919.3" r="4.5"/><circle cx="591.6" cy="880.7" r="7.1"/><circle cx="554.8" cy="917.0" r="9.8"/><circle cx="554.9" cy="826.4" r="5.7"/><circle cx="573.0" cy="943.8" r="4.2"/><circle cx="531.5" cy="894.7" r="3.7"/><circle cx="555.3" cy="917.3" r="6.4"/><circle cx="598.9" cy="834.5" r="4.6"/><circle cx="629.8" cy="890.2" r="8.0"/><circle cx="557.1" cy="842.8" r="5.3"/><circle cx="563.0" cy="874.6" r="7.0"/><circle cx="563.2" cy="867.8" r="8.8"/><circle cx="637.2" cy="853.0" r="4.1"/><circle cx="540.5" cy="908.7" r="7.7"/><circle cx="550.7" cy="940.6" r="7.7"/><circle cx="546.8" cy="931.0" r="8.5"/><circle cx="557.8" cy="881.2" r="5.1"/><circle cx="590.3" cy="961.1" r="2.9"/><circle cx="575.7" cy="944.1" r="9.9"/><circle cx="597.5" cy="897.5" r="7.0"/><circle cx="623.9" cy="950.7" r="9.5"/><circle cx="604.6" cy="884.0" r="9.1"/><circle cx="619.9" cy="962.7" r="1.5"/><circle cx="628.5" cy="934.3" r="6.1"/><circle cx="572.9" cy="941.7" r="4.5"/><circle cx="628.7" cy="897.6" r="9.9"/><circle cx="566.8" cy="867.1" r="6.1"/><circle cx="586.9" cy="884.1" r="5.2"/><circle cx="588.0" cy="823.5" r="7.8"/><circle cx="642.4" cy="863.6" r="6.7"/><circle cx="621.7" cy="901.3" r="9.8"/><circle cx="591.8" cy="907.4" r="9.3"/><circle cx="575.6" cy="879.2" r="8.0"/><circle cx="625.4" cy="919.6" r="6.4"/><circle cx="564.6" cy="929.7" r="8.3"/><circle cx="598.3" cy="853.7" r="4.4"/><circle cx="597.9" cy="950.4" r="9.2"/><circle cx="629.8" cy="878.4" r="9.2"/><circle cx="576.5" cy="844.3" r="6.9"/><circle cx="556.8" cy="956.2" r="7.8"/><circle cx="561.5" cy="840.3" r="5.2"/><circle cx="531.6" cy="915.6" r="3.2"/></g>
<g fill="url(#bw)" stroke="#8a8a8a" stroke-width="0.6" stroke-opacity="0.5"><circle cx="530.3" cy="871.8" r="3.7"/><circle cx="532.6" cy="864.7" r="4.5"/><circle cx="533.5" cy="855.9" r="5.4"/><circle cx="535.4" cy="847.5" r="4.3"/><circle cx="535.7" cy="837.9" r="4.7"/><circle cx="541.0" cy="831.8" r="5.3"/><circle cx="545.8" cy="824.6" r="3.3"/><circle cx="554.6" cy="823.5" r="4.5"/><circle cx="562.5" cy="819.5" r="3.1"/><circle cx="572.0" cy="820.1" r="3.6"/><circle cx="581.3" cy="819.0" r="3.4"/><circle cx="590.1" cy="820.0" r="3.5"/><circle cx="599.3" cy="825.3" r="5.8"/><circle cx="605.3" cy="827.6" r="3.1"/><circle cx="607.3" cy="837.3" r="4.5"/><circle cx="617.2" cy="837.3" r="3.2"/><circle cx="626.4" cy="842.2" r="3.0"/><circle cx="634.0" cy="848.3" r="5.8"/><circle cx="640.0" cy="854.2" r="4.5"/><circle cx="645.3" cy="861.1" r="5.6"/><circle cx="650.3" cy="869.7" r="4.9"/><circle cx="654.8" cy="878.8" r="4.7"/><circle cx="649.1" cy="887.8" r="5.3"/><circle cx="649.8" cy="896.5" r="3.0"/><circle cx="652.7" cy="905.3" r="3.6"/><circle cx="653.5" cy="914.3" r="5.0"/><circle cx="655.8" cy="921.4" r="6.0"/><circle cx="655.9" cy="930.3" r="3.6"/><circle cx="657.2" cy="939.4" r="4.2"/><circle cx="654.0" cy="947.9" r="5.0"/><circle cx="535.5" cy="955.4" r="4.7"/><circle cx="536.8" cy="946.2" r="5.2"/><circle cx="537.0" cy="939.1" r="3.1"/><circle cx="533.9" cy="929.5" r="3.7"/><circle cx="533.6" cy="920.5" r="5.0"/><circle cx="529.6" cy="912.9" r="5.2"/><circle cx="531.8" cy="904.3" r="5.0"/><circle cx="531.5" cy="896.2" r="5.4"/><circle cx="534.0" cy="888.0" r="5.4"/><circle cx="530.1" cy="880.6" r="3.0"/></g>
<g fill="url(#bd)" stroke="#444" stroke-width="1" stroke-opacity="0.5"><circle cx="555.6" cy="946.3" r="3.4"/><circle cx="569.4" cy="952.0" r="5.6"/><circle cx="546.5" cy="953.2" r="5.9"/><circle cx="557.6" cy="957.3" r="5.6"/><circle cx="572.0" cy="950.8" r="4.3"/><circle cx="570.9" cy="954.5" r="4.3"/><circle cx="568.4" cy="951.4" r="4.9"/><circle cx="570.4" cy="961.0" r="3.0"/><circle cx="562.1" cy="955.4" r="5.1"/><circle cx="570.3" cy="961.6" r="2.4"/><circle cx="566.6" cy="946.7" r="3.9"/><circle cx="550.2" cy="950.6" r="3.4"/><circle cx="569.4" cy="947.7" r="4.4"/><circle cx="547.5" cy="952.1" r="3.8"/><circle cx="563.3" cy="949.8" r="3.6"/><circle cx="557.1" cy="962.0" r="2.0"/><circle cx="550.8" cy="958.3" r="3.2"/><circle cx="555.9" cy="959.0" r="5.0"/><circle cx="568.4" cy="953.9" r="4.3"/><circle cx="547.3" cy="956.9" r="4.9"/><circle cx="557.8" cy="947.6" r="3.8"/><circle cx="565.2" cy="958.8" r="5.2"/><circle cx="557.8" cy="957.4" r="3.6"/><circle cx="554.5" cy="956.5" r="3.3"/></g>
<g fill="url(#bd)" stroke="#444" stroke-width="1" stroke-opacity="0.5"><circle cx="647.6" cy="950.4" r="3.1"/><circle cx="648.8" cy="945.2" r="3.5"/><circle cx="644.3" cy="930.6" r="3.1"/><circle cx="651.8" cy="926.9" r="3.3"/><circle cx="653.5" cy="956.1" r="3.3"/><circle cx="646.0" cy="929.1" r="4.0"/><circle cx="646.4" cy="934.3" r="4.0"/><circle cx="646.4" cy="951.7" r="3.6"/><circle cx="640.0" cy="941.5" r="3.9"/><circle cx="641.5" cy="929.2" r="5.5"/><circle cx="650.7" cy="940.7" r="3.2"/><circle cx="638.6" cy="943.7" r="5.1"/><circle cx="652.8" cy="951.3" r="3.2"/><circle cx="644.7" cy="927.4" r="5.2"/><circle cx="653.7" cy="932.3" r="4.8"/><circle cx="641.8" cy="937.7" r="3.6"/><circle cx="643.5" cy="929.1" r="3.0"/><circle cx="645.0" cy="956.1" r="4.9"/><circle cx="650.9" cy="941.6" r="3.5"/><circle cx="641.9" cy="926.9" r="4.8"/><circle cx="639.8" cy="949.7" r="3.1"/><circle cx="652.3" cy="932.9" r="3.5"/><circle cx="646.4" cy="931.8" r="5.4"/><circle cx="650.7" cy="941.3" r="4.6"/><circle cx="653.1" cy="949.1" r="4.3"/><circle cx="648.5" cy="940.5" r="4.9"/><circle cx="654.1" cy="953.8" r="5.9"/><circle cx="644.5" cy="942.8" r="4.3"/><circle cx="646.6" cy="949.8" r="4.9"/><circle cx="640.9" cy="942.5" r="5.5"/><circle cx="646.3" cy="941.4" r="3.9"/><circle cx="645.3" cy="938.5" r="3.6"/><circle cx="649.5" cy="925.7" r="3.7"/><circle cx="645.7" cy="938.2" r="5.6"/><circle cx="652.9" cy="932.9" r="4.9"/><circle cx="642.3" cy="937.5" r="3.3"/></g>
<polygon points="606.6,824.5 605.2,826.7 603.7,829.4 601.5,830.7 598.6,830.8 596.0,830.8 593.3,831.1 590.7,830.2 588.9,828.6 586.7,826.7 585.1,824.5 585.9,821.7 588.5,819.8 590.5,818.4 593.3,817.8 596.0,818.6 598.5,818.9 601.2,819.2 603.6,819.7 604.9,822.5" fill="#d2b646" stroke="#8a8a8a" stroke-width="0.6" stroke-opacity="0.5"/>
<g fill="url(#bg)" stroke="#8a7420" stroke-width="1" stroke-opacity="0.5"><circle cx="592.5" cy="820.7" r="5.6"/><circle cx="590.9" cy="821.3" r="3.9"/></g>
<polygon points="588.2,840.4 587.7,842.8 584.9,843.4 581.9,844.2 578.4,845.1 574.9,844.6 572.3,842.7 569.8,842.2 568.4,840.4 569.7,838.5 571.9,837.3 574.6,835.2 578.4,835.5 581.9,836.4 584.7,837.8 586.9,838.7" fill="#d2b646" stroke="#8a8a8a" stroke-width="0.6" stroke-opacity="0.5"/>
<g fill="url(#bg)" stroke="#8a7420" stroke-width="1" stroke-opacity="0.5"><circle cx="572.8" cy="838.8" r="3.6"/><circle cx="574.7" cy="838.1" r="2.8"/></g>
<polygon points="641.0,848.4 640.6,850.4 639.0,852.8 635.8,854.0 633.9,855.1 631.5,856.8 628.6,857.0 625.5,856.3 622.8,856.8 620.0,857.2 617.2,855.7 614.5,854.8 611.9,854.7 609.4,854.8 607.1,852.3 605.2,850.3 603.5,848.4 604.2,845.9 606.9,844.3 609.7,842.7 611.7,841.5 614.5,841.6 617.3,841.3 620.0,840.1 622.8,839.4 625.6,840.0 628.5,840.5 631.5,840.1 634.1,840.9 635.8,842.9 638.7,844.4 640.7,846.3" fill="#d2b646" stroke="#8a8a8a" stroke-width="0.6" stroke-opacity="0.5"/>
<g fill="url(#bg)" stroke="#8a7420" stroke-width="1" stroke-opacity="0.5"><circle cx="617.9" cy="846.8" r="3.0"/><circle cx="625.0" cy="851.2" r="2.8"/><circle cx="620.7" cy="845.0" r="5.1"/><circle cx="627.9" cy="847.5" r="4.7"/><circle cx="611.6" cy="851.9" r="4.6"/><circle cx="622.1" cy="854.4" r="6.1"/></g>
<polygon points="589.5,869.6 589.4,872.0 587.4,874.0 584.0,874.2 580.7,875.6 577.0,875.8 574.0,873.9 572.6,871.5 571.0,869.6 572.2,867.4 574.5,866.0 577.3,864.8 580.7,863.3 584.3,864.0 587.3,865.3 589.3,867.3" fill="#d2b646" stroke="#8a8a8a" stroke-width="0.6" stroke-opacity="0.5"/>
<g fill="url(#bg)" stroke="#8a7420" stroke-width="1" stroke-opacity="0.5"><circle cx="580.0" cy="869.5" r="4.1"/><circle cx="581.6" cy="866.3" r="5.3"/></g>
<polygon points="603.9,887.0 602.5,889.0 601.4,891.4 599.6,894.3 597.1,895.4 593.8,895.2 590.8,896.7 587.7,897.2 584.7,895.8 581.6,895.1 578.5,895.0 576.0,893.9 573.9,891.6 572.1,889.3 570.8,887.0 571.6,884.5 574.0,882.5 576.3,880.5 578.5,879.2 581.6,878.9 584.7,878.3 587.7,877.2 590.8,877.6 593.9,878.3 596.8,879.4 599.6,879.7 602.2,881.8 603.0,884.8" fill="#d2b646" stroke="#8a8a8a" stroke-width="0.6" stroke-opacity="0.5"/>
<g fill="url(#bg)" stroke="#8a7420" stroke-width="1" stroke-opacity="0.5"><circle cx="587.3" cy="883.0" r="5.8"/><circle cx="576.3" cy="886.0" r="5.7"/><circle cx="591.5" cy="888.1" r="7.0"/><circle cx="579.8" cy="887.6" r="3.3"/><circle cx="582.3" cy="889.0" r="5.2"/></g>
<polygon points="594.6,910.5 594.0,913.0 593.9,915.5 593.3,917.6 591.3,917.9 590.2,916.6 588.5,915.6 587.5,913.3 588.4,910.5 588.5,908.0 588.9,905.6 589.6,903.6 591.3,903.5 593.0,903.7 594.3,905.3 594.9,907.8" fill="#d2b646" stroke="#8a8a8a" stroke-width="0.6" stroke-opacity="0.5"/>
<g fill="url(#bg)" stroke="#8a7420" stroke-width="1" stroke-opacity="0.5"><circle cx="589.1" cy="912.8" r="3.1"/><circle cx="592.5" cy="912.8" r="2.5"/></g>
<polygon points="577.9,938.4 577.8,940.2 576.0,941.6 573.3,942.5 570.2,943.0 566.8,943.7 564.2,942.1 562.7,940.1 561.9,938.4 562.6,936.6 564.8,935.9 567.3,935.2 570.2,933.9 573.4,933.9 576.1,935.1 577.5,936.8" fill="#d2b646" stroke="#8a8a8a" stroke-width="0.6" stroke-opacity="0.5"/>
<g fill="url(#bg)" stroke="#8a7420" stroke-width="1" stroke-opacity="0.5"><circle cx="567.5" cy="938.9" r="3.5"/><circle cx="569.5" cy="935.2" r="2.8"/></g>
<polygon points="536.6,872.0 535.3,873.2 534.5,874.0 533.8,875.1 532.5,876.2 531.2,875.2 530.0,874.5 528.2,873.8 528.6,872.0 529.9,870.9 530.0,869.5 531.2,868.8 532.5,868.8 533.5,869.7 535.4,869.1 536.4,870.4" fill="#d2b646" stroke="#8a8a8a" stroke-width="0.6" stroke-opacity="0.5"/>
<g fill="url(#bg)" stroke="#8a7420" stroke-width="1" stroke-opacity="0.5"><circle cx="533.4" cy="872.4" r="2.7"/><circle cx="533.9" cy="873.6" r="2.9"/></g>
<polygon points="534.1,910.4 534.5,912.4 533.2,913.8 531.9,914.7 530.5,915.1 529.0,914.9 528.7,913.1 528.0,911.9 526.6,910.4 527.3,908.7 528.4,907.4 529.0,905.8 530.5,904.7 532.1,905.8 532.6,907.5 533.8,908.6" fill="#d2b646" stroke="#8a8a8a" stroke-width="0.6" stroke-opacity="0.5"/>
<g fill="url(#bg)" stroke="#8a7420" stroke-width="1" stroke-opacity="0.5"><circle cx="528.6" cy="908.9" r="3.1"/><circle cx="530.3" cy="909.1" r="3.2"/></g>
<polygon points="656.9,909.2 657.5,911.4 656.9,913.4 655.5,914.4 654.3,915.1 652.6,915.0 651.5,913.5 651.6,911.3 650.8,909.2 650.7,906.9 652.3,905.4 653.5,904.7 654.3,903.5 655.7,903.7 656.6,905.2 657.3,907.1" fill="#d2b646" stroke="#8a8a8a" stroke-width="0.6" stroke-opacity="0.5"/>
<g fill="url(#bg)" stroke="#8a7420" stroke-width="1" stroke-opacity="0.5"><circle cx="652.8" cy="912.4" r="2.7"/><circle cx="656.2" cy="909.7" r="2.8"/></g>
<polygon points="545.5,922.0 544.6,923.5 543.0,924.9 540.8,926.9 537.5,927.4 534.4,926.2 531.6,925.5 529.4,924.2 529.3,922.0 530.6,920.7 531.8,918.8 534.3,917.5 537.5,918.0 540.6,917.7 543.7,917.9 545.3,920.0" fill="#d2b646" stroke="#8a8a8a" stroke-width="0.6" stroke-opacity="0.5"/>
<g fill="url(#bg)" stroke="#8a7420" stroke-width="1" stroke-opacity="0.5"><circle cx="533.3" cy="924.1" r="4.6"/><circle cx="543.3" cy="922.1" r="4.5"/></g>
<polygon points="586.1,824.0 584.9,825.8 583.1,826.9 581.1,828.4 578.4,828.6 575.8,828.1 573.9,826.7 571.3,826.2 570.3,824.0 572.1,822.3 573.5,820.8 575.6,819.3 578.4,819.3 580.8,820.7 583.1,821.1 584.9,822.2" fill="#55e0e0" stroke="#8a8a8a" stroke-width="0.6" stroke-opacity="0.5"/>
<g fill="url(#bc)" stroke="#2a9a9a" stroke-width="1" stroke-opacity="0.5"><circle cx="579.3" cy="821.0" r="2.8"/><circle cx="579.3" cy="826.2" r="4.3"/></g>
<polygon points="566.2,857.9 565.7,861.1 563.0,863.8 560.2,864.5 557.0,865.1 553.9,866.4 550.5,866.6 547.5,864.8 544.7,863.9 541.5,861.4 541.4,857.9 542.8,855.2 545.1,852.5 547.3,850.3 550.7,850.1 553.9,850.2 557.2,849.6 560.6,850.1 562.8,852.4 565.6,854.8" fill="#55e0e0" stroke="#8a8a8a" stroke-width="0.6" stroke-opacity="0.5"/>
<g fill="url(#bc)" stroke="#2a9a9a" stroke-width="1" stroke-opacity="0.5"><circle cx="557.3" cy="863.3" r="3.4"/><circle cx="556.3" cy="855.1" r="3.8"/><circle cx="546.6" cy="859.3" r="4.3"/><circle cx="549.7" cy="858.5" r="5.5"/></g>
<polygon points="648.5,862.5 647.7,865.5 646.4,868.6 643.9,871.0 640.3,871.0 637.4,869.4 634.1,868.6 632.7,865.6 632.7,862.5 633.2,859.6 633.9,856.2 637.0,854.6 640.3,854.5 643.5,854.9 646.7,856.2 648.0,859.3" fill="#55e0e0" stroke="#8a8a8a" stroke-width="0.6" stroke-opacity="0.5"/>
<g fill="url(#bc)" stroke="#2a9a9a" stroke-width="1" stroke-opacity="0.5"><circle cx="641.8" cy="866.9" r="6.3"/><circle cx="645.8" cy="865.0" r="6.7"/></g>
<polygon points="594.0,902.3 594.3,903.6 593.2,905.0 591.0,905.1 588.9,905.5 586.6,905.9 584.4,905.3 583.8,903.4 583.2,902.3 582.9,900.6 584.9,900.1 586.8,899.6 588.9,898.7 591.2,898.7 592.8,900.3 594.0,901.2" fill="#55e0e0" stroke="#8a8a8a" stroke-width="0.6" stroke-opacity="0.5"/>
<g fill="url(#bc)" stroke="#2a9a9a" stroke-width="1" stroke-opacity="0.5"><circle cx="590.2" cy="901.4" r="3.1"/><circle cx="591.6" cy="903.8" r="3.2"/></g>
<polygon points="589.3,930.3 589.0,932.3 587.9,934.4 585.5,935.1 583.0,935.1 580.3,935.8 577.6,935.0 576.8,932.4 576.0,930.3 575.7,927.7 578.0,926.2 580.6,925.7 583.0,924.7 585.6,925.1 587.7,926.5 588.6,928.5" fill="#55e0e0" stroke="#8a8a8a" stroke-width="0.6" stroke-opacity="0.5"/>
<g fill="url(#bc)" stroke="#2a9a9a" stroke-width="1" stroke-opacity="0.5"><circle cx="583.7" cy="926.4" r="4.0"/><circle cx="578.1" cy="931.1" r="5.1"/></g>
<polygon points="539.0,923.3 537.9,925.4 536.6,926.8 535.7,928.4 534.0,929.1 532.4,928.3 530.5,927.6 529.0,925.7 528.8,923.3 530.3,921.3 530.7,919.2 532.0,917.6 534.0,917.6 535.3,918.9 537.2,919.3 538.6,921.0" fill="#55e0e0" stroke="#8a8a8a" stroke-width="0.6" stroke-opacity="0.5"/>
<g fill="url(#bc)" stroke="#2a9a9a" stroke-width="1" stroke-opacity="0.5"><circle cx="531.0" cy="924.9" r="3.6"/><circle cx="532.8" cy="920.4" r="3.4"/></g>
<polygon points="662.0,926.8 662.1,930.4 660.6,933.8 660.2,936.6 659.4,939.7 658.0,940.4 657.5,939.1 656.0,936.5 654.3,933.9 654.5,930.3 654.4,926.8 654.3,923.3 654.6,919.7 655.7,917.0 657.1,914.2 658.0,912.8 659.1,914.1 659.4,917.2 660.9,919.8 662.2,923.2" fill="#55e0e0" stroke="#8a8a8a" stroke-width="0.6" stroke-opacity="0.5"/>
<g fill="url(#bc)" stroke="#2a9a9a" stroke-width="1" stroke-opacity="0.5"><circle cx="660.0" cy="923.0" r="3.5"/><circle cx="657.4" cy="918.5" r="3.4"/></g>
<circle cx="547.6" cy="887.8" r="14" fill="#a8e4f6" fill-opacity="0.85" stroke="#213a66" stroke-width="1.1" stroke-dasharray="3.2,2"/>
<text x="46.6" y="751.6" font-size="15.3" text-anchor="start" fill="#111" font-weight="normal" font-style="normal" >N523</text>
<line x1="74.50" y1="731.50" x2="68.40" y2="741.00" stroke="#111" stroke-width="0.8" />
<text x="325.5" y="642.1" font-size="15.3" text-anchor="start" fill="#111" font-weight="normal" font-style="normal" >W457</text>
<line x1="345.50" y1="643.00" x2="337.30" y2="673.20" stroke="#111" stroke-width="0.8" />
<text x="340.3" y="769.5" font-size="15.3" text-anchor="start" fill="#111" font-weight="normal" font-style="normal" >N523</text>
<line x1="316.30" y1="724.60" x2="337.30" y2="757.30" stroke="#111" stroke-width="0.8" />
<text x="487.7" y="763.1" font-size="15.3" text-anchor="start" fill="#111" font-weight="normal" font-style="normal" >N523</text>
<line x1="499.50" y1="719.50" x2="497.70" y2="750.00" stroke="#111" stroke-width="0.8" />
<text x="81.9" y="821.0" font-size="15.1" text-anchor="start" fill="#111" font-weight="bold" font-style="normal" >T463</text>
<text x="43.4" y="830.7" font-size="15.1" text-anchor="start" fill="#111" font-weight="bold" font-style="normal" >S455</text>
<text x="37.9" y="845.2" font-size="15.1" text-anchor="start" fill="#111" font-weight="normal" font-style="normal" >S459</text>
<text x="167.0" y="845.2" font-size="15.1" text-anchor="start" fill="#111" font-weight="normal" font-style="normal" >N601</text>
<text x="32.0" y="866.7" font-size="15.1" text-anchor="start" fill="#111" font-weight="normal" font-style="normal" >E542</text>
<text x="33.7" y="917.4" font-size="15.1" text-anchor="start" fill="#111" font-weight="bold" font-style="normal" >N523</text>
<text x="45.0" y="931.9" font-size="15.1" text-anchor="start" fill="#111" font-weight="normal" font-style="normal" >K626</text>
<text x="45.0" y="946.3" font-size="15.1" text-anchor="start" fill="#111" font-weight="bold" font-style="normal" >Q627</text>
<text x="56.2" y="959.8" font-size="15.1" text-anchor="start" fill="#111" font-weight="normal" font-style="normal" >V629</text>
<text x="175.0" y="949.6" font-size="15.1" text-anchor="start" fill="#111" font-weight="bold" font-style="normal" >G631</text>
<text x="175.0" y="961.4" font-size="15.1" text-anchor="start" fill="#111" font-weight="bold" font-style="normal" >K630</text>
<line x1="103.00" y1="822.00" x2="131.00" y2="866.00" stroke="#111" stroke-width="0.8" />
<line x1="78.00" y1="827.00" x2="88.00" y2="835.00" stroke="#111" stroke-width="0.8" />
<line x1="82.00" y1="842.00" x2="98.00" y2="862.00" stroke="#111" stroke-width="0.8" />
<line x1="67.00" y1="866.00" x2="83.00" y2="881.00" stroke="#111" stroke-width="0.8" />
<line x1="70.00" y1="912.00" x2="78.00" y2="906.00" stroke="#111" stroke-width="0.8" />
<line x1="80.00" y1="928.00" x2="93.00" y2="924.00" stroke="#111" stroke-width="0.8" />
<line x1="82.00" y1="942.00" x2="112.00" y2="928.00" stroke="#111" stroke-width="0.8" />
<line x1="92.00" y1="955.00" x2="118.00" y2="935.00" stroke="#111" stroke-width="0.8" />
<line x1="174.00" y1="943.00" x2="122.00" y2="905.00" stroke="#111" stroke-width="0.8" />
<line x1="174.00" y1="955.00" x2="118.00" y2="910.00" stroke="#111" stroke-width="0.8" />
<line x1="176.00" y1="844.00" x2="172.00" y2="858.00" stroke="#111" stroke-width="0.8" />
<text x="254.2" y="815.7" font-size="15.1" text-anchor="start" fill="#111" font-weight="bold" font-style="normal" >D530</text>
<text x="294.4" y="815.7" font-size="15.1" text-anchor="start" fill="#111" font-weight="normal" font-style="normal" >E542</text>
<text x="324.2" y="827.9" font-size="15.1" text-anchor="start" fill="#111" font-weight="bold" font-style="normal" >W457</text>
<text x="222.1" y="829.5" font-size="15.1" text-anchor="start" fill="#111" font-weight="normal" font-style="normal" >D525</text>
<text x="329.0" y="946.4" font-size="15.1" text-anchor="start" fill="#111" font-weight="normal" font-style="normal" >V629</text>
<text x="328.0" y="960.2" font-size="15.1" text-anchor="start" fill="#111" font-weight="bold" font-style="normal" >N523</text>
<line x1="276.00" y1="818.00" x2="296.00" y2="866.00" stroke="#111" stroke-width="0.8" />
<line x1="309.00" y1="818.00" x2="301.00" y2="890.00" stroke="#111" stroke-width="0.8" />
<line x1="328.00" y1="829.00" x2="320.00" y2="848.00" stroke="#111" stroke-width="0.8" />
<line x1="239.00" y1="832.00" x2="267.00" y2="886.00" stroke="#111" stroke-width="0.8" />
<line x1="300.00" y1="896.00" x2="336.00" y2="950.00" stroke="#111" stroke-width="0.8" />
<line x1="340.00" y1="935.00" x2="342.00" y2="920.00" stroke="#111" stroke-width="0.8" />
<text x="373.2" y="830.7" font-size="15.1" text-anchor="start" fill="#111" font-weight="normal" font-style="normal" >E583</text>
<line x1="396.00" y1="831.00" x2="423.00" y2="850.80" stroke="#111" stroke-width="0.8" />
<text x="481.8" y="922.6" font-size="15.1" text-anchor="start" fill="#111" font-weight="bold" font-style="normal" >N523</text>
<line x1="487.00" y1="912.00" x2="486.00" y2="903.00" stroke="#111" stroke-width="0.8" />
<text x="462.8" y="960.6" font-size="15.1" text-anchor="start" fill="#111" font-weight="normal" font-style="normal" >D571</text>
<line x1="462.00" y1="956.00" x2="440.00" y2="946.00" stroke="#111" stroke-width="0.8" />
<text x="623.8" y="833.1" font-size="15.1" text-anchor="start" fill="#111" font-weight="normal" font-style="normal" >E583</text>
<line x1="651.00" y1="836.00" x2="645.00" y2="860.00" stroke="#111" stroke-width="0.8" />
<text x="506.3" y="953.6" font-size="15.1" text-anchor="start" fill="#111" font-weight="normal" font-style="normal" >V629</text>
<line x1="526.00" y1="940.00" x2="532.00" y2="925.00" stroke="#111" stroke-width="0.8" />
</svg>
</body></html>
